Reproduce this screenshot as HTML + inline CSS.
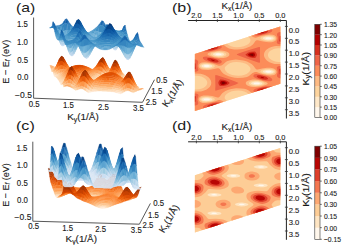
<!DOCTYPE html>
<html><head><meta charset="utf-8"><style>
html,body{margin:0;padding:0;background:#fff;overflow:hidden;}
svg{display:block;}
text{font-family:"Liberation Sans", sans-serif;fill:#1a1a1a;stroke:#1a1a1a;stroke-width:0.12px;}
.lb{stroke-width:0px;}
.s path{stroke-width:0.3px;stroke-linejoin:round;}
.b10{fill:#c6dbef;stroke:#c6dbef}.b11{fill:#bed8ec;stroke:#bed8ec}.b12{fill:#b7d4ea;stroke:#b7d4ea}.b13{fill:#aed1e7;stroke:#aed1e7}.b14{fill:#a6cee4;stroke:#a6cee4}.b15{fill:#9dcae1;stroke:#9dcae1}.b16{fill:#94c4df;stroke:#94c4df}.b17{fill:#8abfdd;stroke:#8abfdd}.b18{fill:#7fb9da;stroke:#7fb9da}.b19{fill:#75b4d8;stroke:#75b4d8}.b20{fill:#6aaed6;stroke:#6aaed6}.b21{fill:#63a8d3;stroke:#63a8d3}.b22{fill:#5ba3d0;stroke:#5ba3d0}.b23{fill:#529dcc;stroke:#529dcc}.b24{fill:#4a98c9;stroke:#4a98c9}.b25{fill:#4191c6;stroke:#4191c6}.b26{fill:#3b8bc2;stroke:#3b8bc2}.b27{fill:#3585bf;stroke:#3585bf}.b28{fill:#2e7ebc;stroke:#2e7ebc}.b29{fill:#2777b8;stroke:#2777b8}.b30{fill:#2070b4;stroke:#2070b4}.b31{fill:#1c6ab0;stroke:#1c6ab0}.b32{fill:#1764ab;stroke:#1764ab}.b33{fill:#125da6;stroke:#125da6}.b34{fill:#0d57a1;stroke:#0d57a1}.b35{fill:#08509b;stroke:#08509b}.b36{fill:#084a91;stroke:#084a91}.b37{fill:#084488;stroke:#084488}.b38{fill:#083c7d;stroke:#083c7d}.b39{fill:#083674;stroke:#083674}.b6{fill:#d9e8f5;stroke:#d9e8f5}.b7{fill:#d5e5f4;stroke:#d5e5f4}.b8{fill:#d0e1f2;stroke:#d0e1f2}.b9{fill:#cbdef1;stroke:#cbdef1}.o10{fill:#fdd0a2;stroke:#fdd0a2}.o11{fill:#fdc997;stroke:#fdc997}.o12{fill:#fdc38d;stroke:#fdc38d}.o13{fill:#fdbb81;stroke:#fdbb81}.o14{fill:#fdb576;stroke:#fdb576}.o15{fill:#fdae6a;stroke:#fdae6a}.o16{fill:#fda762;stroke:#fda762}.o17{fill:#fda159;stroke:#fda159}.o18{fill:#fd9a4e;stroke:#fd9a4e}.o19{fill:#fd9446;stroke:#fd9446}.o20{fill:#fd8c3b;stroke:#fd8c3b}.o21{fill:#fb8634;stroke:#fb8634}.o22{fill:#f87f2c;stroke:#f87f2c}.o23{fill:#f67723;stroke:#f67723}.o24{fill:#f3701b;stroke:#f3701b}.o25{fill:#f16813;stroke:#f16813}.o26{fill:#ec620f;stroke:#ec620f}.o27{fill:#e75c0c;stroke:#e75c0c}.o28{fill:#e25508;stroke:#e25508}.o29{fill:#de4e05;stroke:#de4e05}.o30{fill:#d84801;stroke:#d84801}.o31{fill:#ce4401;stroke:#ce4401}.o32{fill:#c54102;stroke:#c54102}.o33{fill:#b93d02;stroke:#b93d02}.o34{fill:#b03903;stroke:#b03903}.o35{fill:#a53603;stroke:#a53603}.o36{fill:#9e3303;stroke:#9e3303}.o37{fill:#963003;stroke:#963003}.o38{fill:#8e2d04;stroke:#8e2d04}.o39{fill:#862a04;stroke:#862a04}.o3{fill:#feecda;stroke:#feecda}.o4{fill:#fee9d4;stroke:#fee9d4}.o5{fill:#fee6ce;stroke:#fee6ce}.o6{fill:#fee2c6;stroke:#fee2c6}.o7{fill:#fedebd;stroke:#fedebd}.o8{fill:#fdd9b4;stroke:#fdd9b4}.o9{fill:#fdd5ab;stroke:#fdd5ab}
</style></head><body>
<svg width="342" height="245" viewBox="0 0 342 245">
<defs><clipPath id="cb"><polygon points="280.3,26.6 194.9,54.0 194.9,111.1 280.3,83.7"/></clipPath><clipPath id="cd"><polygon points="280.3,147.9 194.9,175.3 194.9,232.4 280.3,205.0"/></clipPath></defs>
<text class="lb" x="16.00" y="12.02" font-size="13.4" textLength="19.20" lengthAdjust="spacingAndGlyphs">(a)</text>
<text class="lb" x="16.00" y="130.01" font-size="13.4" textLength="18.80" lengthAdjust="spacingAndGlyphs">(c)</text>
<text class="lb" x="171.90" y="12.41" font-size="13.4" textLength="19.60" lengthAdjust="spacingAndGlyphs">(b)</text>
<text class="lb" x="171.90" y="129.62" font-size="13.4" textLength="19.60" lengthAdjust="spacingAndGlyphs">(d)</text>
<text x="22.40" y="26.77" font-size="8.2" text-anchor="middle" textLength="10.9" lengthAdjust="spacingAndGlyphs">1.5</text>
<text x="22.50" y="44.67" font-size="8.2" text-anchor="middle" textLength="10.9" lengthAdjust="spacingAndGlyphs">1.0</text>
<text x="22.60" y="62.57" font-size="8.2" text-anchor="middle" textLength="10.9" lengthAdjust="spacingAndGlyphs">0.5</text>
<text x="22.80" y="79.97" font-size="8.2" text-anchor="middle" textLength="10.9" lengthAdjust="spacingAndGlyphs">0.0</text>
<text x="23.50" y="97.77" font-size="8.2" text-anchor="middle" textLength="16.8" lengthAdjust="spacingAndGlyphs">−0.5</text>
<text x="34.20" y="107.07" font-size="8.2" text-anchor="middle" textLength="10.9" lengthAdjust="spacingAndGlyphs">0.5</text>
<text x="68.40" y="108.27" font-size="8.2" text-anchor="middle" textLength="10.9" lengthAdjust="spacingAndGlyphs">1.5</text>
<text x="103.40" y="109.57" font-size="8.2" text-anchor="middle" textLength="10.9" lengthAdjust="spacingAndGlyphs">2.5</text>
<text x="138.50" y="110.77" font-size="8.2" text-anchor="middle" textLength="10.9" lengthAdjust="spacingAndGlyphs">3.5</text>
<text x="161.80" y="83.17" font-size="8.2" text-anchor="middle" textLength="10.9" lengthAdjust="spacingAndGlyphs">0.5</text>
<text x="156.80" y="93.97" font-size="8.2" text-anchor="middle" textLength="10.9" lengthAdjust="spacingAndGlyphs">1.5</text>
<text x="151.20" y="105.17" font-size="8.2" text-anchor="middle" textLength="10.9" lengthAdjust="spacingAndGlyphs">2.5</text>
<polyline points="33.6,17.5 33.6,98.2 142.5,102.3 154.5,79.7" fill="none" stroke="#3a3a3a" stroke-width="0.85"/>
<text x="8.6" y="61.7" font-size="9.6" text-anchor="middle" textLength="44.0" lengthAdjust="spacingAndGlyphs" transform="rotate(-90 8.6 61.7)">E − E<tspan font-size="6.6" dy="1.8" font-style="italic">f</tspan><tspan dy="-1.8"> (eV)</tspan></text>
<text x="67.20" y="120.10" font-size="9.3" textLength="31.60" lengthAdjust="spacingAndGlyphs">K<tspan font-size="6.5" dy="1.8">y</tspan><tspan dy="-1.8">(1/Å)</tspan></text>
<text x="157.25" y="96.40" font-size="9.3" textLength="30.50" lengthAdjust="spacingAndGlyphs" transform="rotate(-57 172.5 93.1)">K<tspan font-size="6.5" dy="1.8">x</tspan><tspan dy="-1.8">(1/Å)</tspan></text>
<text x="22.00" y="150.87" font-size="8.2" text-anchor="middle" textLength="10.9" lengthAdjust="spacingAndGlyphs">1.5</text>
<text x="22.10" y="168.47" font-size="8.2" text-anchor="middle" textLength="10.9" lengthAdjust="spacingAndGlyphs">1.0</text>
<text x="22.30" y="186.07" font-size="8.2" text-anchor="middle" textLength="10.9" lengthAdjust="spacingAndGlyphs">0.5</text>
<text x="22.50" y="203.27" font-size="8.2" text-anchor="middle" textLength="10.9" lengthAdjust="spacingAndGlyphs">0.0</text>
<text x="23.00" y="219.67" font-size="8.2" text-anchor="middle" textLength="16.8" lengthAdjust="spacingAndGlyphs">−0.5</text>
<text x="33.60" y="229.17" font-size="8.2" text-anchor="middle" textLength="10.9" lengthAdjust="spacingAndGlyphs">0.5</text>
<text x="67.60" y="230.77" font-size="8.2" text-anchor="middle" textLength="10.9" lengthAdjust="spacingAndGlyphs">1.5</text>
<text x="100.60" y="232.07" font-size="8.2" text-anchor="middle" textLength="10.9" lengthAdjust="spacingAndGlyphs">2.5</text>
<text x="136.30" y="233.17" font-size="8.2" text-anchor="middle" textLength="10.9" lengthAdjust="spacingAndGlyphs">3.5</text>
<text x="158.60" y="206.27" font-size="8.2" text-anchor="middle" textLength="10.9" lengthAdjust="spacingAndGlyphs">0.5</text>
<text x="153.50" y="217.77" font-size="8.2" text-anchor="middle" textLength="10.9" lengthAdjust="spacingAndGlyphs">1.5</text>
<text x="148.00" y="228.27" font-size="8.2" text-anchor="middle" textLength="10.9" lengthAdjust="spacingAndGlyphs">2.5</text>
<polyline points="32.8,141.7 32.8,221.2 139.4,224.2 150.4,203.4" fill="none" stroke="#3a3a3a" stroke-width="0.85"/>
<text x="8.6" y="184.95" font-size="9.6" text-anchor="middle" textLength="43.5" lengthAdjust="spacingAndGlyphs" transform="rotate(-90 8.6 184.95)">E − E<tspan font-size="6.6" dy="1.8" font-style="italic">f</tspan><tspan dy="-1.8"> (eV)</tspan></text>
<text x="65.60" y="242.10" font-size="9.3" textLength="31.40" lengthAdjust="spacingAndGlyphs">K<tspan font-size="6.5" dy="1.8">y</tspan><tspan dy="-1.8">(1/Å)</tspan></text>
<text x="153.65" y="221.90" font-size="9.3" textLength="30.50" lengthAdjust="spacingAndGlyphs" transform="rotate(-60 168.9 218.6)">K<tspan font-size="6.5" dy="1.8">x</tspan><tspan dy="-1.8">(1/Å)</tspan></text>
<g clip-path="url(#cb)"><polygon points="280.3,26.6 194.9,54.0 194.9,111.1 280.3,83.7" fill="#fff7ec"/>
<path d="M194.2 25.1 281.4 25.1 281.4 112.3 220.3 112.3 221.3 111.9 221.5 111.5 221.4 111.1 220.6 110.7 218.6 110.4 216.6 110.6 215.6 111.1 215.5 111.5 215.9 111.9 217.0 112.3 193.8 112.3 193.8 25.1ZM254.6 25.5 253.8 25.9 253.7 26.3 253.9 26.7 255.4 27.2 257.0 27.3 258.6 27.1 259.5 26.7 259.7 26.3 259.4 25.9 257.8 25.3 256.2 25.3ZM266.4 37.5 265.6 37.9 265.4 38.3 265.7 38.7 267.0 39.2 268.6 39.3 270.2 39.2 271.4 38.7 271.5 38.3 271.0 37.8 269.8 37.4 268.2 37.3ZM204.6 41.5 203.8 41.9 203.7 42.3 204.2 42.8 205.4 43.2 207.0 43.3 208.6 43.1 209.6 42.7 209.8 42.3 209.5 41.9 208.2 41.4 206.2 41.3ZM216.6 53.5 215.7 53.9 215.5 54.3 215.8 54.7 217.4 55.3 219.0 55.3 220.6 55.1 221.4 54.7 221.5 54.3 221.3 53.9 219.8 53.4 218.2 53.3ZM205.2 65.1 204.0 65.5 203.7 65.9 203.8 66.3 204.6 66.8 205.8 67.0 207.4 67.0 209.0 66.7 209.7 66.3 209.8 65.9 209.3 65.5 208.2 65.1 206.6 65.0ZM267.5 70.7 265.9 71.1 265.4 71.5 265.5 71.9 266.2 72.3 267.8 72.7 269.1 72.7 271.0 72.3 271.5 71.9 271.5 71.5 270.6 71.0 269.4 70.7ZM254.3 82.7 253.7 83.1 253.7 83.5 254.1 83.9 255.4 84.3 258.2 84.3 259.4 83.9 259.7 83.5 259.6 83.1 259.0 82.8 257.8 82.4 255.8 82.4ZM266.1 94.7 265.5 95.1 265.4 95.5 265.8 95.9 267.1 96.3 268.6 96.4 270.2 96.3 271.3 95.9 271.5 95.5 271.4 95.1 271.0 94.9 269.8 94.5 267.8 94.4ZM204.3 98.7 203.7 99.1 203.7 99.5 204.1 99.9 205.4 100.3 208.4 100.3 209.5 99.9 209.8 99.5 209.6 99.1 209.0 98.7 207.8 98.5 205.8 98.4Z" fill="#fee8c9" fill-rule="evenodd"/>
<path d="M194.2 25.1 252.1 25.1 251.2 25.9 251.3 26.7 251.7 27.1 253.8 27.9 256.6 28.2 259.7 27.9 261.8 27.1 262.2 26.7 262.3 26.3 262.1 25.9 260.8 25.1 281.4 25.1 281.4 112.3 223.6 112.3 224.0 111.9 224.0 111.1 223.0 110.3 221.0 109.7 218.6 109.5 215.8 109.7 213.8 110.4 213.0 111.0 212.9 111.5 213.7 112.3 193.8 112.3 193.8 25.1ZM265.4 36.7 263.3 37.5 262.9 37.9 262.8 38.3 263.4 39.1 265.4 39.9 268.2 40.2 270.6 40.1 272.6 39.6 273.4 39.1 273.7 38.7 273.6 37.9 273.3 37.5 271.4 36.7 268.2 36.4ZM203.4 40.7 201.8 41.5 201.4 42.3 201.6 42.7 202.2 43.3 204.2 44.0 207.0 44.2 209.8 43.9 211.9 43.1 212.3 42.7 212.4 42.3 211.8 41.5 209.4 40.7 206.2 40.4ZM215.5 52.7 213.4 53.5 213.0 53.9 212.9 54.3 213.5 55.1 215.7 55.9 218.2 56.2 221.0 56.1 223.1 55.5 224.0 54.7 223.9 53.9 223.5 53.5 221.4 52.7 218.6 52.4ZM204.0 64.3 202.2 64.9 201.6 65.5 201.4 65.9 201.5 66.3 202.2 67.0 203.8 67.6 206.6 67.9 209.4 67.7 211.6 67.1 212.4 66.3 212.4 65.9 211.8 65.3 209.8 64.5 207.0 64.1ZM266.4 69.9 263.8 70.5 263.0 71.1 262.8 71.5 263.2 72.3 265.0 73.1 267.8 73.6 270.6 73.5 272.6 73.0 273.4 72.5 273.7 71.9 273.7 71.5 273.4 71.0 271.8 70.2 269.4 69.8ZM255.3 81.5 252.9 81.9 251.4 82.7 251.1 83.1 251.3 83.9 253.0 84.8 255.8 85.3 259.0 85.1 261.4 84.4 262.1 83.9 262.3 83.5 262.2 83.1 261.8 82.7 259.9 81.9 257.8 81.5ZM267.9 93.5 265.0 93.9 263.2 94.7 262.8 95.1 262.8 95.5 263.4 96.2 264.2 96.6 267.0 97.2 269.8 97.3 272.2 96.9 273.0 96.5 273.7 95.9 273.7 95.1 272.6 94.2 270.6 93.7ZM205.5 97.5 203.1 97.9 201.7 98.7 201.5 99.1 201.6 99.9 202.2 100.4 203.4 100.9 206.2 101.3 209.0 101.1 211.4 100.5 212.2 99.9 212.4 99.5 211.9 98.7 210.2 97.9 207.8 97.5Z" fill="#fdd49e" fill-rule="evenodd"/>
<path d="M207.4 25.1 249.3 25.1 249.0 25.5 248.8 26.3 249.2 27.1 249.8 27.6 251.0 28.2 252.6 28.6 256.2 29.0 260.2 28.6 262.2 28.1 263.7 27.5 264.3 27.1 264.6 26.3 264.1 25.5 263.5 25.1 281.4 25.1 281.4 48.3 278.2 48.3 275.8 48.6 273.7 49.1 271.8 49.9 269.9 51.1 268.8 52.3 268.2 53.5 267.9 55.1 268.2 56.5 269.0 57.9 270.2 59.1 272.0 60.3 273.9 61.1 276.2 61.7 278.6 62.0 281.4 62.0 281.4 105.4 278.6 105.4 276.2 105.6 273.8 106.2 271.8 107.0 269.8 108.3 268.8 109.5 268.1 110.7 267.9 112.3 226.2 112.3 226.4 111.9 226.4 111.1 225.8 110.4 225.1 109.9 222.2 109.0 219.0 108.7 215.4 109.0 212.1 109.9 211.3 110.3 210.6 111.1 210.8 111.9 211.2 112.3 193.8 112.3 193.8 89.4 196.6 89.4 199.0 89.2 201.2 88.7 203.2 87.9 205.1 86.7 206.3 85.5 207.0 84.3 207.3 82.7 207.0 81.2 206.3 79.9 205.2 78.7 203.4 77.5 201.4 76.6 199.0 76.0 196.6 75.7 193.8 75.7 193.8 32.3 197.0 32.3 199.4 32.0 201.5 31.5 203.4 30.7 205.3 29.5 206.4 28.3 207.0 27.1 207.3 25.1ZM236.0 33.5 232.6 34.0 229.3 35.1 226.7 36.7 225.3 38.3 224.7 39.9 224.9 41.5 226.1 43.1 228.6 45.1 231.0 46.2 233.8 46.9 237.0 47.2 240.2 47.0 243.7 46.3 246.2 45.3 248.5 43.9 249.9 42.3 250.5 40.7 250.3 39.1 249.1 37.5 246.6 35.5 244.6 34.6 242.2 33.9 239.4 33.5ZM265.3 35.9 262.2 36.7 261.4 37.1 260.4 37.9 260.4 38.7 260.7 39.1 261.8 39.8 263.4 40.4 267.4 41.0 271.4 40.9 273.0 40.6 274.2 40.0 274.8 39.5 275.3 38.7 275.2 37.9 274.7 37.1 273.8 36.5 272.6 36.0 269.0 35.6ZM202.6 39.9 201.4 40.3 200.6 40.9 200.1 41.5 199.9 42.3 200.2 43.1 201.0 43.9 202.2 44.5 203.4 44.7 207.0 45.0 210.6 44.6 213.8 43.5 214.4 43.1 214.9 42.3 214.6 41.7 213.9 41.1 212.6 40.5 211.0 40.1 206.6 39.6 204.2 39.6ZM215.4 51.9 212.3 52.7 211.4 53.1 210.6 53.9 210.7 54.7 211.1 55.1 212.6 55.9 214.2 56.4 218.2 57.0 221.8 56.9 223.4 56.6 225.0 56.0 225.9 55.5 226.4 54.7 226.3 53.9 225.6 53.1 223.0 52.1 219.4 51.6ZM233.0 62.3 230.2 63.1 228.5 63.9 226.0 65.9 224.8 67.5 224.8 69.1 225.7 71.1 227.4 72.7 229.5 73.9 232.2 74.9 235.4 75.5 238.6 75.7 241.8 75.5 244.6 74.8 246.6 73.9 249.1 71.9 250.3 70.3 250.5 68.7 250.2 67.8 249.6 66.7 247.9 65.1 245.8 63.8 242.6 62.7 239.8 62.2 236.2 62.0ZM203.3 63.5 202.2 63.7 201.0 64.3 200.1 65.1 199.9 65.9 200.1 66.7 200.8 67.5 201.8 68.0 203.0 68.4 206.6 68.8 211.0 68.4 213.8 67.5 214.4 67.1 214.9 66.3 214.5 65.5 214.0 65.1 212.6 64.4 210.8 63.9 207.0 63.3ZM265.8 69.1 263.8 69.4 262.2 69.8 261.2 70.3 260.4 71.1 260.5 71.9 260.8 72.3 263.0 73.4 266.6 74.2 270.6 74.3 272.6 74.1 273.8 73.6 274.6 73.1 275.2 72.3 275.3 71.5 274.9 70.7 274.2 70.1 273.0 69.5 269.8 69.0ZM254.6 80.7 251.0 81.3 249.7 81.9 248.9 82.7 248.8 83.5 249.3 84.3 250.2 84.9 251.4 85.4 255.0 86.0 258.6 86.0 262.6 85.1 263.8 84.5 264.5 83.9 264.5 83.1 264.2 82.7 261.8 81.5 258.2 80.8ZM235.0 90.7 231.8 91.3 229.0 92.4 226.6 93.9 225.3 95.5 224.7 97.1 224.7 97.9 224.9 98.7 226.2 100.3 228.8 102.3 231.4 103.4 234.2 104.0 237.4 104.3 240.6 104.0 243.4 103.5 246.5 102.3 248.4 101.1 249.8 99.5 250.5 97.9 250.3 96.3 249.2 94.7 246.6 92.6 244.2 91.5 241.4 90.8 238.2 90.5ZM264.7 93.1 262.0 93.9 261.2 94.3 260.4 95.1 260.5 95.9 260.8 96.3 261.8 96.9 263.4 97.5 267.4 98.1 271.4 98.0 273.8 97.4 274.8 96.7 275.2 95.9 275.2 95.1 274.8 94.3 273.8 93.6 272.6 93.1 269.0 92.7ZM204.7 96.7 201.8 97.3 200.7 97.9 200.0 98.7 199.9 99.5 200.3 100.3 201.2 101.1 202.6 101.7 206.2 102.1 210.2 101.7 213.7 100.7 214.3 100.3 214.9 99.5 214.6 98.7 214.1 98.3 211.8 97.3 208.2 96.7Z" fill="#fdba83" fill-rule="evenodd"/>
<path d="M211.4 25.1 246.0 25.1 245.8 25.9 246.0 27.1 246.6 27.9 247.4 28.4 249.4 29.3 251.0 29.7 254.6 30.0 257.4 29.8 260.2 29.4 263.5 28.7 266.0 27.9 266.8 27.5 267.7 26.7 267.5 25.9 266.4 25.1 281.4 25.1 281.4 46.2 276.2 46.1 274.2 46.3 271.4 47.0 269.0 48.0 266.7 49.5 265.2 51.1 264.2 53.1 263.9 55.1 264.3 57.1 265.5 59.1 267.1 60.7 269.4 62.2 272.2 63.3 274.6 63.9 281.4 64.1 281.4 103.3 276.2 103.2 274.2 103.4 271.4 104.1 269.0 105.1 266.6 106.7 265.2 108.3 264.2 110.3 263.9 112.3 229.3 112.3 229.3 110.7 228.7 109.9 227.8 109.3 224.6 108.1 220.6 107.7 215.4 108.2 209.8 109.6 208.2 110.3 207.5 111.1 207.8 111.9 208.3 112.3 193.8 112.3 193.8 91.5 199.0 91.6 201.0 91.4 203.4 90.8 206.2 89.7 208.3 88.3 209.9 86.7 211.0 84.7 211.3 82.7 210.9 80.7 209.8 78.7 208.2 77.1 205.8 75.5 203.4 74.5 200.6 73.8 193.8 73.6 193.8 34.4 199.0 34.5 201.0 34.3 203.8 33.6 206.2 32.6 208.5 31.1 210.0 29.5 211.0 27.5 211.2 26.3 211.3 25.1ZM233.4 31.5 228.6 32.7 224.6 34.5 222.2 36.3 219.8 39.5 218.6 40.3 217.4 40.3 212.2 39.0 207.8 38.5 203.8 38.4 202.2 38.7 201.0 39.1 199.8 39.9 199.1 40.7 198.8 41.5 198.7 42.7 199.2 43.9 200.2 44.9 201.0 45.3 202.6 45.8 205.4 46.0 209.4 45.6 214.2 44.5 218.6 43.0 219.8 42.9 221.0 43.2 222.6 44.0 226.3 47.1 229.0 48.4 231.4 49.0 234.2 49.4 237.4 49.5 240.2 49.3 243.0 48.9 245.8 48.2 248.2 47.3 250.2 46.4 252.6 44.7 253.7 43.5 255.4 41.1 256.6 40.3 257.8 40.3 261.8 41.3 266.2 42.0 269.0 42.2 271.4 42.2 273.4 41.8 275.0 41.0 276.1 39.9 276.5 38.7 276.4 37.5 275.4 36.1 274.2 35.3 272.6 34.8 269.8 34.6 265.8 35.0 261.0 36.1 256.6 37.6 255.4 37.7 253.0 36.9 251.6 35.9 248.6 33.3 245.8 32.1 242.6 31.4 239.8 31.2 236.6 31.2ZM218.5 50.7 212.6 51.7 210.3 52.3 208.4 53.1 207.8 53.5 207.5 54.3 207.7 54.7 208.8 55.5 210.9 56.3 215.0 57.4 218.6 58.0 221.0 58.1 223.4 58.0 226.2 57.4 228.2 56.5 229.2 55.5 229.4 54.7 229.2 53.5 228.6 52.7 227.0 51.8 225.4 51.2 223.0 50.7 221.0 50.6ZM232.2 59.9 229.4 60.4 227.0 61.3 225.8 62.1 223.0 64.5 221.4 65.4 219.8 65.8 218.6 65.7 213.4 63.8 209.0 62.7 205.0 62.3 201.8 62.5 200.6 63.0 199.5 63.9 198.9 64.7 198.6 65.9 198.9 67.1 199.5 67.9 200.6 68.8 201.8 69.4 204.2 69.8 208.2 69.9 213.0 69.3 217.4 68.3 218.6 68.3 219.8 69.1 221.4 71.5 222.5 72.7 223.9 73.9 225.9 75.1 228.6 76.3 231.4 77.1 234.6 77.7 237.8 78.0 243.0 77.8 247.0 76.9 249.0 75.9 252.6 72.9 255.0 72.0 256.6 72.0 260.4 73.5 264.2 74.5 267.8 75.2 270.2 75.4 272.6 75.3 274.2 74.9 275.6 73.9 276.4 72.7 276.6 71.9 276.4 71.1 275.8 69.9 274.6 68.9 273.0 68.2 270.2 67.8 267.0 67.8 262.2 68.4 257.8 69.4 256.6 69.4 255.4 68.6 253.6 65.9 251.9 64.3 249.8 62.9 247.0 61.6 243.4 60.5 239.8 59.9 235.8 59.6ZM250.8 79.9 248.6 80.5 246.6 81.5 245.9 82.3 245.8 83.5 246.0 84.3 247.0 85.3 248.6 86.1 251.0 86.8 253.0 87.0 255.4 87.1 260.6 86.4 265.7 85.1 267.3 84.3 267.7 83.5 267.2 82.7 265.7 81.9 260.2 80.3 255.0 79.6 252.6 79.6ZM236.1 88.3 233.0 88.7 230.2 89.3 227.8 90.0 225.4 91.1 222.5 93.1 221.4 94.3 219.8 96.6 218.6 97.4 217.4 97.4 212.2 96.1 207.8 95.6 203.4 95.6 201.0 96.2 199.8 97.0 199.1 97.9 198.7 98.7 198.7 99.9 199.3 101.1 200.2 102.0 201.4 102.6 202.6 102.9 205.8 103.1 209.8 102.6 214.6 101.5 218.6 100.1 219.8 100.0 221.4 100.4 222.6 101.1 226.2 104.1 227.4 104.8 229.0 105.5 231.4 106.1 234.2 106.5 237.0 106.6 239.8 106.4 245.0 105.5 247.6 104.7 249.8 103.7 252.6 101.8 253.6 100.7 255.4 98.2 256.6 97.4 257.8 97.4 262.2 98.5 265.8 99.1 268.2 99.3 271.0 99.3 273.0 99.0 274.6 98.4 275.8 97.4 276.5 95.9 276.5 95.1 276.3 94.3 275.4 93.2 274.2 92.4 272.6 91.9 269.8 91.7 265.8 92.1 261.3 93.1 256.6 94.7 255.4 94.8 254.2 94.5 252.6 93.7 249.0 90.7 247.8 90.0 246.2 89.3 244.2 88.8 241.4 88.4Z" fill="#fc8c59" fill-rule="evenodd"/>
<path d="M215.4 25.1 236.8 25.1 238.4 25.9 238.2 26.3 237.8 26.5 234.6 27.8 227.8 30.0 215.8 33.7 215.3 33.5 215.2 32.7 215.3 25.1ZM266.2 29.1 268.6 28.8 270.2 28.9 271.4 29.2 272.2 29.8 272.3 30.7 271.8 31.5 270.9 32.3 269.3 33.1 263.8 34.6 257.8 35.7 256.2 35.7 255.2 35.5 254.3 35.1 253.6 34.3 253.4 33.5 253.7 32.7 254.6 32.0 255.7 31.5 259.8 30.3ZM279.0 32.3 280.2 32.1 281.4 32.3 281.4 44.3 279.8 44.3 278.2 44.0 277.3 43.5 276.8 42.7 276.8 41.9 277.6 39.5 277.8 38.3 277.6 37.1 277.0 35.1 277.0 33.9 277.8 32.8ZM194.2 36.3 195.8 36.3 197.0 36.6 197.9 37.1 198.4 37.9 198.4 38.7 197.6 41.1 197.4 42.3 197.6 43.5 198.2 45.5 198.2 46.7 197.8 47.4 197.2 47.9 195.4 48.5 193.8 48.3 193.8 36.3ZM216.2 45.0 217.8 44.9 219.4 45.0 220.6 45.3 221.4 45.9 221.8 46.7 221.7 47.5 221.0 48.3 219.5 49.1 214.2 50.6 207.4 51.7 204.6 51.7 203.4 51.2 202.9 50.7 202.9 49.9 203.4 49.1 204.3 48.3 205.9 47.5 210.0 46.3ZM259.0 47.0 259.8 46.9 260.0 47.9 259.8 57.9 260.0 61.5 259.8 62.8 258.2 62.4 246.6 58.6 239.8 56.1 236.8 54.7 237.0 54.3 237.4 54.1 240.6 52.8 247.4 50.6ZM204.2 56.7 206.2 56.5 209.0 56.9 213.9 57.9 218.3 59.1 220.3 59.9 221.4 60.7 221.8 61.5 221.7 62.3 221.0 63.1 220.2 63.5 219.0 63.7 217.8 63.7 213.8 63.0 207.9 61.5 204.9 60.3 203.3 59.1 202.9 58.3 202.9 57.5 203.3 57.1ZM194.2 59.6 195.8 59.6 197.0 60.1 197.8 60.7 198.3 61.9 197.6 64.7 197.4 65.9 197.6 67.1 198.4 69.5 198.4 70.3 197.7 71.1 195.8 71.7 193.8 71.7 193.8 59.6ZM278.2 66.2 279.8 65.9 281.4 66.0 281.4 78.1 279.8 78.2 278.6 77.8 277.5 77.1 277.0 76.3 277.0 75.1 277.6 73.1 277.8 71.9 277.6 70.7 276.8 68.3 276.8 67.5 277.3 66.7ZM255.0 74.2 256.6 73.9 259.0 74.2 267.6 76.3 269.7 77.1 271.1 77.9 271.9 78.7 272.4 79.9 272.2 80.3 271.4 80.9 270.2 81.2 268.6 81.2 263.8 80.4 257.2 78.7 255.0 77.8 253.6 76.7 253.4 75.9 253.7 75.1 254.2 74.6ZM215.4 74.9 217.0 75.3 228.6 79.1 235.8 81.8 238.6 83.1 235.8 84.4 229.2 86.7 215.4 90.8 215.2 89.1 215.4 85.9 215.2 76.3ZM265.4 86.3 269.8 85.9 271.0 86.1 272.1 86.7 272.4 87.5 271.7 88.7 270.7 89.5 269.0 90.3 263.0 91.9 257.4 92.8 255.8 92.7 254.6 92.4 253.9 91.9 253.4 91.1 253.5 90.3 253.7 89.9 254.2 89.4 255.4 88.7 259.4 87.5ZM279.0 89.4 280.2 89.2 281.4 89.4 281.4 101.4 279.8 101.4 278.2 101.1 277.4 100.7 276.8 99.9 276.8 99.1 277.6 96.7 277.8 95.5 277.6 94.3 276.9 91.9 276.9 91.1 277.8 89.9ZM194.2 93.4 195.8 93.4 197.0 93.7 198.0 94.3 198.5 95.1 198.4 95.9 197.4 99.1 197.5 100.3 198.3 102.7 198.2 103.9 197.8 104.5 197.0 105.1 195.4 105.6 193.8 105.4 193.8 93.4ZM215.4 102.3 217.4 102.0 219.0 102.0 220.2 102.3 221.0 102.7 221.7 103.5 221.8 104.3 221.4 105.1 220.2 105.9 218.1 106.7 214.9 107.5 207.8 108.8 204.6 108.8 203.4 108.3 203.0 107.9 202.9 107.1 203.3 106.3 204.2 105.5 205.7 104.7 209.6 103.5ZM258.6 104.3 259.8 104.0 259.9 104.3 259.9 112.3 237.7 112.3 237.0 111.9 236.8 111.5 240.2 110.1 247.4 107.7Z" fill="#ef6447" fill-rule="evenodd"/>
<path d="M218.6 25.1 229.0 25.1 229.9 25.9 227.9 27.5 225.8 28.5 223.4 28.9 220.2 29.1 219.1 27.9 218.5 26.7 218.3 25.5 218.4 25.1ZM264.2 30.3 266.6 30.3 267.9 30.7 268.1 31.1 268.0 31.5 266.7 32.7 263.8 33.8 260.6 34.4 258.2 34.4 257.5 34.3 256.8 33.9 256.7 33.5 256.8 33.1 258.2 31.9 260.6 31.0ZM280.2 35.8 280.7 35.9 281.0 36.5 281.0 38.3 281.3 40.7 281.0 41.5 280.2 41.7 279.6 41.5 279.3 40.7 279.6 38.3 279.7 36.3ZM194.2 39.1 194.6 38.9 195.4 39.0 195.8 39.4 195.9 39.9 195.6 42.3 195.5 44.3 195.0 44.8 194.5 44.7 194.2 44.1 194.2 42.3 193.9 39.9ZM214.2 46.3 217.0 46.2 217.7 46.3 218.4 46.7 218.5 47.1 218.1 47.9 216.6 48.9 213.4 49.9 210.2 50.4 208.2 50.3 207.3 49.9 207.1 49.5 207.2 49.1 207.9 48.3 209.4 47.5 211.8 46.7ZM250.6 51.8 255.0 51.5 256.1 52.7 256.7 53.9 256.9 55.1 256.5 56.3 255.3 57.9 254.6 58.1 252.6 58.0 249.4 57.3 247.3 56.3 245.3 54.7 247.8 52.8ZM207.8 58.2 209.0 58.0 210.6 58.1 214.6 58.9 216.2 59.5 217.6 60.3 218.4 61.1 218.5 61.5 218.4 61.9 217.8 62.3 216.2 62.5 213.8 62.2 211.0 61.5 209.0 60.7 207.7 59.9 207.1 59.1 207.1 58.7ZM194.6 63.2 195.0 63.2 195.4 63.4 195.6 63.9 195.6 65.9 195.9 67.9 195.8 68.7 195.0 69.2 194.2 68.9 193.9 67.9 194.2 65.9 194.2 63.9ZM279.8 68.7 280.2 68.5 280.8 68.7 281.3 69.5 281.0 71.9 281.0 73.9 280.6 74.5 280.2 74.5 279.8 74.3 279.6 73.9 279.6 71.9 279.3 69.9 279.4 69.1ZM257.4 75.4 258.6 75.2 260.2 75.3 264.5 76.3 266.4 77.1 267.6 77.9 268.1 78.7 268.0 79.1 267.0 79.6 265.4 79.7 263.0 79.4 260.4 78.7 258.4 77.9 257.2 77.1 256.7 76.3 256.7 75.9ZM220.2 79.6 223.4 79.8 226.2 80.5 228.1 81.5 229.8 83.1 227.8 84.7 225.8 85.6 223.4 86.0 220.2 86.1 219.4 85.4 218.7 84.3 218.3 82.7 218.9 81.1ZM263.4 87.5 266.2 87.3 267.3 87.5 267.8 87.8 268.1 88.3 268.0 88.7 266.5 89.9 263.8 90.9 260.2 91.5 257.8 91.5 256.9 91.1 256.7 90.7 257.0 89.9 258.6 88.8 261.0 88.0ZM279.8 93.1 280.2 92.9 280.6 92.9 281.0 93.6 281.0 95.5 281.3 97.9 281.0 98.6 280.6 98.8 279.8 98.7 279.3 97.9 279.6 95.5 279.6 93.9ZM194.2 96.2 195.0 95.9 195.7 96.3 195.9 96.7 195.9 97.5 195.6 99.5 195.6 101.1 195.4 101.7 195.0 101.9 194.6 101.9 194.2 101.1 194.2 99.1 193.9 97.1ZM213.4 103.5 216.6 103.2 218.2 103.7 218.5 104.3 218.4 104.7 216.8 105.9 214.2 106.8 210.6 107.4 208.2 107.4 207.4 107.1 207.1 106.7 207.3 105.9 208.6 105.0 210.6 104.2ZM253.0 108.7 255.2 108.7 256.6 110.7 256.9 112.3 245.9 112.3 245.4 111.9 245.6 111.5 246.6 110.7 248.6 109.5 250.6 108.9Z" fill="#d62f1e" fill-rule="evenodd"/>
<path d="M220.2 25.2 226.6 25.1 227.4 25.9 226.2 27.0 225.0 27.5 223.4 27.8 221.8 27.9 221.0 27.5 220.3 26.7 220.1 25.9ZM261.8 31.9 263.4 31.7 264.2 31.9 264.0 32.3 263.3 32.7 261.4 33.1 260.5 32.7 260.8 32.3ZM212.2 47.8 213.8 47.5 214.7 47.9 214.4 48.3 213.5 48.7 211.8 48.9 211.0 48.7 211.2 48.3ZM250.6 53.0 252.2 52.7 253.8 52.8 254.6 53.5 255.0 54.3 255.1 55.1 254.8 55.9 253.8 56.8 252.6 56.8 250.2 56.4 248.6 55.5 247.8 54.7 249.0 53.6ZM211.8 59.5 213.7 59.9 214.5 60.3 214.7 60.7 213.8 60.9 212.3 60.7 211.4 60.3 211.0 59.9 211.4 59.5ZM260.6 77.0 261.4 76.7 262.6 76.9 263.9 77.5 264.2 77.9 263.4 78.2 261.8 77.9 260.9 77.5 260.5 77.1ZM221.4 80.9 223.4 80.9 225.0 81.3 226.6 82.2 227.2 82.7 227.3 83.1 226.4 83.9 225.0 84.6 223.4 84.9 221.4 84.9 220.4 83.9 220.1 82.7 220.6 81.6ZM261.8 89.0 263.4 88.7 264.2 89.1 263.9 89.5 263.0 89.9 261.4 90.1 260.5 89.9 260.7 89.5ZM213.4 104.7 214.4 104.7 214.7 105.1 214.2 105.5 212.6 106.0 211.0 105.9 211.1 105.5 211.7 105.1ZM251.8 109.9 253.9 109.9 254.9 111.1 255.1 112.3 248.2 112.3 247.8 111.9 248.5 111.1 249.4 110.5Z" fill="#b20000" fill-rule="evenodd"/>
<path d="M221.8 25.3 221.9 25.1 224.5 25.1 225.6 25.9 224.2 26.7 222.6 26.9 222.2 26.8 221.8 26.3ZM251.0 53.9 252.2 53.7 253.0 53.8 253.5 54.7 253.3 55.5 253.0 55.9 252.2 55.9 251.0 55.6 250.0 55.1 249.6 54.7ZM222.2 81.9 223.0 81.8 224.2 82.1 225.3 82.7 225.5 83.1 223.9 83.9 222.2 84.0 221.7 83.1 221.8 82.3ZM251.0 111.0 253.0 110.8 253.5 111.5 253.5 112.3 250.1 112.3 249.7 111.9 250.0 111.5Z" fill="#7f0000" fill-rule="evenodd"/>
</g>
<polyline points="188.1,20.5 286.4,20.5 286.4,118.5" fill="none" stroke="#222" stroke-width="1.0"/>
<line x1="196.40" y1="19.2" x2="196.40" y2="22.0" stroke="#333" stroke-width="0.8"/>
<text x="196.40" y="18.40" font-size="8.0" text-anchor="middle" textLength="10.3" lengthAdjust="spacingAndGlyphs">2.0</text>
<line x1="217.38" y1="19.2" x2="217.38" y2="22.0" stroke="#333" stroke-width="0.8"/>
<text x="217.38" y="18.40" font-size="8.0" text-anchor="middle" textLength="10.3" lengthAdjust="spacingAndGlyphs">1.5</text>
<line x1="238.36" y1="19.2" x2="238.36" y2="22.0" stroke="#333" stroke-width="0.8"/>
<text x="238.36" y="18.40" font-size="8.0" text-anchor="middle" textLength="10.3" lengthAdjust="spacingAndGlyphs">1.0</text>
<line x1="259.34" y1="19.2" x2="259.34" y2="22.0" stroke="#333" stroke-width="0.8"/>
<text x="259.34" y="18.40" font-size="8.0" text-anchor="middle" textLength="10.3" lengthAdjust="spacingAndGlyphs">0.5</text>
<line x1="280.32" y1="19.2" x2="280.32" y2="22.0" stroke="#333" stroke-width="0.8"/>
<text x="280.32" y="18.40" font-size="8.0" text-anchor="middle" textLength="10.3" lengthAdjust="spacingAndGlyphs">0.0</text>
<line x1="284.9" y1="26.40" x2="287.9" y2="26.40" stroke="#333" stroke-width="0.8"/>
<text x="294.00" y="32.50" font-size="8.0" text-anchor="middle" textLength="10.6" lengthAdjust="spacingAndGlyphs">0.0</text>
<line x1="284.9" y1="38.30" x2="287.9" y2="38.30" stroke="#333" stroke-width="0.8"/>
<text x="294.00" y="44.40" font-size="8.0" text-anchor="middle" textLength="10.6" lengthAdjust="spacingAndGlyphs">0.5</text>
<line x1="284.9" y1="50.20" x2="287.9" y2="50.20" stroke="#333" stroke-width="0.8"/>
<text x="294.00" y="56.30" font-size="8.0" text-anchor="middle" textLength="10.6" lengthAdjust="spacingAndGlyphs">1.0</text>
<line x1="284.9" y1="62.10" x2="287.9" y2="62.10" stroke="#333" stroke-width="0.8"/>
<text x="294.00" y="68.20" font-size="8.0" text-anchor="middle" textLength="10.6" lengthAdjust="spacingAndGlyphs">1.5</text>
<line x1="284.9" y1="74.00" x2="287.9" y2="74.00" stroke="#333" stroke-width="0.8"/>
<text x="294.00" y="80.10" font-size="8.0" text-anchor="middle" textLength="10.6" lengthAdjust="spacingAndGlyphs">2.0</text>
<line x1="284.9" y1="85.90" x2="287.9" y2="85.90" stroke="#333" stroke-width="0.8"/>
<text x="294.00" y="92.00" font-size="8.0" text-anchor="middle" textLength="10.6" lengthAdjust="spacingAndGlyphs">2.5</text>
<line x1="284.9" y1="97.80" x2="287.9" y2="97.80" stroke="#333" stroke-width="0.8"/>
<text x="294.00" y="103.90" font-size="8.0" text-anchor="middle" textLength="10.6" lengthAdjust="spacingAndGlyphs">3.0</text>
<line x1="284.9" y1="109.70" x2="287.9" y2="109.70" stroke="#333" stroke-width="0.8"/>
<text x="294.00" y="115.80" font-size="8.0" text-anchor="middle" textLength="10.6" lengthAdjust="spacingAndGlyphs">3.5</text>
<text x="221.50" y="9.10" font-size="9.3" textLength="30.80" lengthAdjust="spacingAndGlyphs">K<tspan font-size="6.5" dy="1.8">x</tspan><tspan dy="-1.8">(1/Å)</tspan></text>
<text x="288.60" y="72.00" font-size="9.3" textLength="33.60" lengthAdjust="spacingAndGlyphs" transform="rotate(-90 305.4 68.7)">K<tspan font-size="6.5" dy="1.8">y</tspan><tspan dy="-1.8">(1/Å)</tspan></text>
<rect x="314.8" y="107.14" width="5.2" height="10.41" fill="#fff7ec"/>
<rect x="314.8" y="96.79" width="5.2" height="10.41" fill="#fee8c9"/>
<rect x="314.8" y="86.43" width="5.2" height="10.41" fill="#fdd49e"/>
<rect x="314.8" y="76.08" width="5.2" height="10.41" fill="#fdba83"/>
<rect x="314.8" y="65.72" width="5.2" height="10.41" fill="#fc8c59"/>
<rect x="314.8" y="55.37" width="5.2" height="10.41" fill="#ef6447"/>
<rect x="314.8" y="45.01" width="5.2" height="10.41" fill="#d62f1e"/>
<rect x="314.8" y="34.66" width="5.2" height="10.41" fill="#b20000"/>
<rect x="314.8" y="24.30" width="5.2" height="10.41" fill="#7f0000"/>
<rect x="314.8" y="24.3" width="5.2" height="93.20" fill="none" stroke="#333" stroke-width="0.6"/>
<line x1="320" y1="117.50" x2="321.8" y2="117.50" stroke="#333" stroke-width="0.7"/>
<text x="323.90" y="120.40" font-size="8.0" text-anchor="start" textLength="13.2" lengthAdjust="spacingAndGlyphs">0.00</text>
<line x1="320" y1="107.14" x2="321.8" y2="107.14" stroke="#333" stroke-width="0.7"/>
<text x="323.90" y="110.04" font-size="8.0" text-anchor="start" textLength="13.2" lengthAdjust="spacingAndGlyphs">0.15</text>
<line x1="320" y1="96.79" x2="321.8" y2="96.79" stroke="#333" stroke-width="0.7"/>
<text x="323.90" y="99.69" font-size="8.0" text-anchor="start" textLength="13.2" lengthAdjust="spacingAndGlyphs">0.30</text>
<line x1="320" y1="86.43" x2="321.8" y2="86.43" stroke="#333" stroke-width="0.7"/>
<text x="323.90" y="89.33" font-size="8.0" text-anchor="start" textLength="13.2" lengthAdjust="spacingAndGlyphs">0.45</text>
<line x1="320" y1="76.08" x2="321.8" y2="76.08" stroke="#333" stroke-width="0.7"/>
<text x="323.90" y="78.98" font-size="8.0" text-anchor="start" textLength="13.2" lengthAdjust="spacingAndGlyphs">0.60</text>
<line x1="320" y1="65.72" x2="321.8" y2="65.72" stroke="#333" stroke-width="0.7"/>
<text x="323.90" y="68.62" font-size="8.0" text-anchor="start" textLength="13.2" lengthAdjust="spacingAndGlyphs">0.75</text>
<line x1="320" y1="55.37" x2="321.8" y2="55.37" stroke="#333" stroke-width="0.7"/>
<text x="323.90" y="58.27" font-size="8.0" text-anchor="start" textLength="13.2" lengthAdjust="spacingAndGlyphs">0.90</text>
<line x1="320" y1="45.01" x2="321.8" y2="45.01" stroke="#333" stroke-width="0.7"/>
<text x="323.90" y="47.91" font-size="8.0" text-anchor="start" textLength="13.2" lengthAdjust="spacingAndGlyphs">1.05</text>
<line x1="320" y1="34.66" x2="321.8" y2="34.66" stroke="#333" stroke-width="0.7"/>
<text x="323.90" y="37.56" font-size="8.0" text-anchor="start" textLength="13.2" lengthAdjust="spacingAndGlyphs">1.20</text>
<line x1="320" y1="24.30" x2="321.8" y2="24.30" stroke="#333" stroke-width="0.7"/>
<text x="323.90" y="27.20" font-size="8.0" text-anchor="start" textLength="13.2" lengthAdjust="spacingAndGlyphs">1.35</text>
<g clip-path="url(#cd)"><polygon points="280.3,147.9 194.9,175.3 194.9,232.4 280.3,205.0" fill="#fff7ec"/>
<path d="M194.2 146.4 281.4 146.4 281.4 233.6 235.0 233.6 236.2 233.2 236.3 232.8 235.4 232.4 233.4 232.2 231.4 232.3 230.5 232.8 230.7 233.2 232.1 233.6 193.8 233.6 193.8 146.4ZM239.7 146.8 238.9 147.2 239.0 147.6 240.2 148.0 243.0 148.1 244.7 147.6 244.6 147.2 243.4 146.8 241.4 146.6ZM212.5 155.6 211.3 156.0 211.3 156.4 212.6 156.9 215.4 157.0 216.4 156.8 217.1 156.4 216.9 156.0 215.5 155.6ZM258.8 166.4 258.1 166.8 258.3 167.2 260.2 167.7 262.7 167.6 263.9 167.2 263.9 166.8 263.1 166.4 261.8 166.2ZM231.5 175.2 230.5 175.6 230.6 176.0 231.8 176.4 234.6 176.5 235.5 176.4 236.3 176.0 236.2 175.6 235.0 175.2 233.4 175.1ZM259.3 184.8 258.2 185.2 258.1 185.6 259.4 186.1 262.2 186.2 263.2 186.0 264.0 185.6 263.8 185.2 262.6 184.8ZM211.7 194.4 211.2 194.8 211.6 195.2 213.5 195.6 216.2 195.4 216.9 195.2 217.1 194.8 216.5 194.4 214.6 194.1 213.0 194.1ZM239.4 204.0 238.8 204.4 239.2 204.8 241.0 205.2 243.4 205.1 244.5 204.8 244.7 204.4 244.0 204.0 242.6 203.8 241.0 203.7ZM212.0 212.8 211.2 213.2 211.4 213.6 212.6 214.0 215.4 214.1 217.1 213.6 217.0 213.2 215.8 212.8 213.8 212.6ZM258.5 223.6 258.0 224.0 258.5 224.4 260.6 224.8 263.0 224.6 263.7 224.4 264.0 224.0 263.4 223.6 261.8 223.3 260.2 223.3Z" fill="#fee5c3" fill-rule="evenodd"/>
<path d="M194.2 146.4 235.8 146.4 235.3 146.8 235.1 147.2 235.1 147.6 236.2 148.4 238.6 149.0 241.8 149.3 245.0 149.1 247.5 148.4 248.1 148.0 248.4 147.6 248.4 147.2 248.0 146.8 247.2 146.4 281.4 146.4 281.4 233.6 239.8 233.6 240.1 233.2 240.1 232.8 239.8 232.4 239.0 231.9 236.6 231.3 233.4 231.0 230.2 231.3 227.8 231.9 227.0 232.4 226.8 232.8 226.9 233.2 227.4 233.6 193.8 233.6 193.8 146.4ZM212.9 154.4 209.8 154.7 208.6 155.1 207.7 155.6 207.5 156.0 207.6 156.4 207.9 156.8 210.2 157.7 213.8 158.1 217.8 157.9 220.6 157.2 221.2 156.8 221.4 156.4 221.3 156.0 220.8 155.6 219.0 155.0 216.2 154.5ZM258.1 165.2 255.4 165.7 254.0 166.4 253.8 166.8 253.9 167.2 254.4 167.6 256.6 168.3 259.8 168.8 263.8 168.7 266.6 168.1 267.5 167.6 267.7 167.2 267.6 166.8 267.0 166.2 264.6 165.4 261.4 165.1ZM231.7 174.0 228.6 174.5 227.0 175.3 226.8 175.6 226.8 176.0 227.2 176.4 229.4 177.2 233.0 177.7 236.6 177.5 239.0 177.0 239.9 176.4 240.1 176.0 240.1 175.6 239.4 175.0 237.4 174.3 234.6 174.0ZM259.7 183.6 256.2 184.0 254.1 184.8 253.8 185.2 253.8 185.6 254.2 186.0 256.2 186.8 260.2 187.3 263.8 187.2 266.6 186.5 267.4 186.0 267.7 185.6 267.7 185.2 267.3 184.8 265.8 184.1 263.0 183.7ZM210.9 193.2 208.6 193.8 207.7 194.4 207.5 194.8 207.6 195.2 208.0 195.6 210.2 196.4 213.4 196.7 217.0 196.6 220.0 196.0 221.4 195.2 221.4 194.8 220.6 194.1 218.2 193.4 214.6 193.0ZM238.3 202.8 235.8 203.5 235.2 204.0 235.1 204.4 235.2 204.8 235.8 205.3 238.2 206.1 241.4 206.4 244.6 206.2 247.2 205.6 248.4 204.8 248.4 204.4 247.8 203.8 245.4 203.0 241.8 202.6ZM211.3 211.6 208.6 212.2 207.6 212.8 207.5 213.2 207.6 213.6 208.2 214.1 210.6 214.9 213.8 215.2 217.4 215.1 220.2 214.5 221.1 214.0 221.4 213.6 221.3 213.2 220.9 212.8 219.8 212.3 218.2 211.9 214.6 211.5ZM257.3 222.4 254.6 223.1 253.9 223.6 253.8 224.0 254.0 224.4 254.6 224.8 257.0 225.5 260.2 225.9 263.8 225.8 266.6 225.2 267.4 224.8 267.7 224.4 267.7 224.0 267.0 223.3 264.6 222.5 261.0 222.2Z" fill="#fdcd96" fill-rule="evenodd"/>
<path d="M194.2 146.4 200.9 146.4 201.0 147.2 200.2 148.6 198.6 149.8 196.2 150.6 194.2 150.6 193.8 150.6 193.8 146.4ZM215.8 146.4 230.7 146.4 230.7 148.0 230.5 148.8 230.0 149.6 228.1 150.8 225.4 151.5 222.2 151.6 219.4 151.0 217.0 149.7 216.2 148.8 215.7 148.0 215.6 146.8 215.6 146.4ZM253.0 146.4 272.2 146.4 271.6 147.6 271.7 148.4 273.0 150.0 274.7 151.6 275.8 152.2 277.0 152.5 281.4 152.7 281.4 169.9 279.4 169.9 277.4 169.5 275.4 168.9 273.8 168.1 269.8 164.8 267.8 162.1 266.6 161.3 264.6 161.2 258.6 161.6 255.0 161.3 250.6 160.3 247.8 158.8 247.0 158.0 246.5 156.8 246.4 155.6 246.7 154.0 247.4 152.8 248.6 151.4 252.5 148.8 253.4 148.0 253.5 147.2 252.7 146.4ZM194.2 153.3 195.8 153.3 197.8 153.7 199.8 154.3 201.4 155.1 205.4 158.4 207.4 161.1 208.6 161.9 210.6 162.0 216.6 161.6 220.2 161.9 222.6 162.3 225.0 163.1 226.9 164.0 227.9 164.8 228.6 166.0 228.8 167.2 228.7 168.4 228.1 170.0 226.4 172.0 222.7 174.4 221.8 175.2 221.6 175.6 221.7 176.0 222.5 176.8 226.6 179.6 228.2 181.6 228.7 183.2 228.8 184.4 228.6 185.6 227.8 186.8 226.6 187.6 224.6 188.4 222.6 189.0 220.2 189.4 216.6 189.5 210.2 189.0 208.6 189.1 207.4 189.9 205.8 192.0 205.0 192.8 201.4 195.7 199.4 196.5 197.4 197.1 195.4 197.3 193.8 197.2 193.8 180.1 197.8 180.0 199.8 179.5 200.9 178.8 202.2 177.6 203.3 176.4 203.6 175.6 203.5 174.8 202.6 173.6 201.0 172.0 199.8 171.2 197.8 170.7 193.8 170.5 193.8 153.3ZM235.0 158.4 236.6 158.1 238.6 158.1 240.6 158.4 242.2 158.9 243.3 159.6 243.9 160.4 244.1 161.2 243.7 162.4 243.2 163.2 242.2 164.0 241.0 164.6 239.4 165.0 236.2 165.1 234.6 164.8 233.0 164.3 231.9 163.6 231.4 163.0 231.1 162.0 231.3 161.2 231.7 160.4 232.6 159.5 233.8 158.8ZM250.6 171.6 252.6 171.6 254.6 171.9 256.6 172.5 258.2 173.5 259.0 174.4 259.6 175.6 259.6 176.8 259.0 178.0 257.8 179.1 256.6 179.7 255.0 180.2 253.0 180.6 251.0 180.6 249.0 180.2 247.4 179.7 245.7 178.8 244.9 178.0 244.6 177.2 244.5 175.2 244.9 174.0 245.7 173.2 247.0 172.5 248.6 171.9ZM278.6 172.7 279.8 172.6 281.4 172.6 281.4 180.3 279.4 180.3 277.4 179.8 275.4 178.6 274.4 177.2 274.2 176.0 275.0 174.6 276.6 173.4ZM278.2 183.2 279.8 183.0 281.4 183.1 281.4 200.3 277.4 200.3 275.4 200.8 274.2 201.6 272.9 202.8 271.9 204.0 271.6 204.8 271.8 205.6 272.7 206.8 274.2 208.3 275.4 209.1 277.4 209.6 281.4 209.8 281.4 227.0 279.8 227.0 277.8 226.7 274.2 225.4 273.0 224.6 269.9 222.0 267.8 219.2 266.6 218.4 265.0 218.3 258.2 218.7 254.6 218.4 250.6 217.4 248.6 216.4 247.4 215.6 246.6 214.4 246.4 213.2 246.5 212.0 247.0 210.4 248.7 208.4 253.0 205.6 253.5 204.8 253.5 204.4 252.9 203.6 249.0 201.0 248.0 200.0 247.1 198.8 246.5 197.2 246.4 196.0 246.6 194.8 247.3 193.6 248.4 192.8 250.2 192.0 252.2 191.4 254.6 190.9 258.2 190.7 264.6 191.3 266.6 191.2 267.8 190.4 270.1 187.6 273.4 184.9 275.4 183.9ZM235.0 186.8 237.0 186.6 238.6 186.7 240.2 187.0 241.8 187.7 242.9 188.4 243.8 189.6 244.1 190.8 243.9 191.6 243.2 192.4 242.2 193.0 239.4 193.6 236.2 193.6 234.6 193.2 233.4 192.6 232.4 192.0 231.7 191.2 231.2 190.0 231.2 189.2 231.5 188.4 232.2 187.8 233.4 187.2ZM194.2 200.0 195.8 200.0 197.4 200.4 199.0 201.2 200.1 202.0 200.7 202.8 201.0 204.0 200.8 204.8 200.2 205.7 199.0 206.7 197.4 207.4 195.4 207.8 193.8 207.7 193.8 200.0ZM220.6 200.0 222.6 199.7 225.0 199.8 227.0 200.3 229.0 201.2 230.0 202.0 230.6 203.2 230.7 205.2 230.2 206.4 229.4 207.2 228.2 207.8 226.6 208.4 224.6 208.7 222.6 208.7 221.0 208.5 219.0 207.9 217.6 207.2 216.6 206.4 215.8 205.2 215.6 204.4 215.7 203.2 216.5 202.0 217.5 201.2 219.0 200.4ZM194.6 210.4 196.2 210.5 198.2 210.9 201.4 212.2 205.0 215.2 206.2 216.4 207.4 218.2 208.6 219.0 210.2 219.1 215.8 218.8 219.4 218.9 223.0 219.5 226.2 220.7 227.8 221.8 228.6 223.2 228.8 224.8 228.3 226.8 227.5 228.0 226.3 229.2 222.0 232.0 221.6 232.8 222.1 233.6 203.2 233.6 203.6 232.4 203.3 231.6 201.8 229.9 200.2 228.5 199.0 228.0 197.8 227.8 193.8 227.6 193.8 210.4ZM236.6 215.2 238.2 215.2 240.2 215.4 241.8 215.9 242.9 216.4 243.7 217.2 244.0 218.0 244.0 218.8 243.7 219.6 243.1 220.4 242.0 221.2 240.6 221.8 239.0 222.2 235.8 222.1 234.2 221.8 232.6 221.2 231.6 220.4 231.2 219.6 231.2 218.8 231.6 217.6 232.3 216.8 233.6 216.0 235.0 215.5ZM249.8 228.8 251.4 228.6 253.4 228.8 255.4 229.2 257.0 229.8 258.2 230.6 259.1 231.6 259.5 232.4 259.6 233.6 244.5 233.6 244.6 231.6 245.4 230.5 247.4 229.4ZM278.2 229.9 279.8 229.7 281.4 229.7 281.4 233.6 274.2 233.6 274.5 232.4 275.1 231.6 276.6 230.5Z" fill="#fda872" fill-rule="evenodd"/>
<path d="M220.6 146.4 226.1 146.4 226.4 147.2 226.1 148.0 225.4 148.5 224.2 148.9 222.6 148.9 221.4 148.5 220.7 148.0 220.3 147.2ZM259.8 146.4 265.0 146.4 262.2 146.9 260.6 146.7 259.4 146.4ZM259.8 148.7 261.8 148.4 263.8 148.6 266.2 149.5 268.2 150.6 269.7 152.0 270.4 153.2 270.7 154.8 270.4 156.0 269.6 156.8 267.4 157.8 263.8 158.9 261.0 159.4 258.6 159.5 256.2 159.3 253.8 158.6 252.2 157.8 251.1 156.8 250.5 155.6 250.7 154.0 251.4 152.8 252.7 151.6 254.6 150.5 257.4 149.4ZM277.0 155.6 279.0 155.3 281.4 155.3 281.4 167.2 278.2 167.0 275.4 166.0 273.2 164.4 272.0 162.4 271.6 160.0 271.7 158.8 272.1 157.6 273.0 156.8 273.9 156.4ZM194.2 156.0 196.6 156.1 198.6 156.6 200.6 157.6 202.2 159.0 203.1 160.4 203.6 162.4 203.5 164.4 203.3 165.2 202.7 166.0 201.3 166.8 199.0 167.5 196.6 167.8 193.8 167.9 193.8 156.0ZM213.0 164.0 215.8 163.7 218.2 163.8 220.2 164.2 222.2 164.9 223.8 166.0 224.6 167.2 224.7 168.4 224.3 169.6 223.4 170.8 221.4 172.3 219.0 173.4 216.2 174.3 214.2 174.7 212.2 174.7 210.2 174.2 208.6 173.5 206.6 172.3 205.2 170.8 204.8 170.0 204.5 168.8 204.8 167.2 205.6 166.4 207.2 165.6 210.2 164.6ZM251.0 174.3 252.6 174.3 254.0 174.8 254.8 175.6 254.9 176.4 254.7 176.8 253.5 177.6 252.2 177.8 250.6 177.7 249.5 177.2 248.8 176.4 248.9 175.6 249.6 174.8ZM212.2 176.4 214.2 176.4 216.6 177.0 219.8 178.2 222.3 179.6 223.6 180.8 224.4 182.0 224.7 183.6 224.2 184.8 223.0 186.0 221.2 186.8 219.0 187.3 216.2 187.5 213.4 187.2 210.6 186.5 207.4 185.4 205.4 184.4 204.7 183.6 204.5 182.4 204.8 180.8 205.6 179.6 206.9 178.4 208.6 177.4 210.6 176.7ZM194.2 182.7 197.0 182.9 199.8 183.4 201.8 184.2 203.0 185.2 203.5 186.4 203.6 187.6 203.2 190.0 202.6 191.2 202.0 192.0 200.2 193.4 198.6 194.1 197.0 194.5 193.8 194.6 193.8 182.7ZM277.8 185.9 279.4 185.7 281.4 185.7 281.4 197.6 278.2 197.4 275.0 196.7 272.6 195.6 271.8 194.4 271.6 193.2 271.6 191.6 271.9 190.4 272.6 189.1 273.5 188.0 274.6 187.2 276.2 186.4ZM255.4 193.1 258.2 192.8 261.4 193.1 264.6 193.8 268.2 195.0 269.9 196.0 270.5 196.8 270.7 198.0 270.3 199.6 269.4 201.0 267.8 202.2 266.2 203.1 263.8 203.8 262.2 204.0 260.6 203.8 255.8 202.3 253.7 201.2 252.1 200.0 251.0 198.8 250.5 197.2 250.7 196.0 251.6 194.8 253.4 193.7ZM221.8 202.7 223.4 202.4 225.1 202.8 226.2 203.6 226.4 204.4 226.3 204.8 225.4 205.6 224.2 206.0 222.6 206.0 221.4 205.6 220.5 204.8 220.3 204.0 220.8 203.2ZM261.4 205.6 263.4 205.7 265.4 206.2 267.4 207.2 269.1 208.4 270.0 209.6 270.6 211.2 270.7 212.4 270.0 213.6 268.2 214.6 265.0 215.7 262.2 216.3 259.4 216.6 256.6 216.4 254.2 215.9 252.6 215.2 251.2 214.0 250.5 212.8 250.5 211.6 251.0 210.4 252.2 209.1 253.9 208.0 256.2 206.9 258.6 206.1ZM276.6 212.7 279.0 212.4 281.4 212.4 281.4 224.3 278.2 224.1 275.5 223.2 273.3 221.6 272.0 219.6 271.6 217.2 271.7 216.0 272.1 214.8 272.6 214.2 273.6 213.6ZM194.2 213.1 196.6 213.2 198.6 213.7 200.6 214.7 202.2 216.1 203.1 217.6 203.6 219.6 203.4 221.9 202.6 223.2 201.0 224.0 198.6 224.7 196.2 225.0 193.8 225.0 193.8 213.1ZM212.6 221.1 215.4 220.8 217.8 220.9 219.8 221.2 221.8 221.8 223.4 222.8 224.4 224.0 224.7 225.2 224.5 226.4 223.7 227.6 222.2 228.9 220.2 230.0 217.4 231.0 214.6 231.7 213.0 231.9 211.4 231.7 209.4 231.0 207.0 229.7 205.6 228.4 204.7 226.8 204.5 225.6 204.6 224.8 205.0 224.0 205.4 223.6 206.6 222.9 209.4 221.9ZM250.6 231.5 252.2 231.4 253.8 231.8 254.6 232.4 254.8 232.8 254.8 233.6 248.9 233.6 248.8 232.8 249.0 232.4 249.5 232.0ZM211.4 233.6 213.0 233.4 214.5 233.6Z" fill="#f4764f" fill-rule="evenodd"/>
<path d="M258.6 150.7 260.6 150.5 262.2 150.5 263.8 150.7 265.2 151.2 266.5 152.0 267.2 152.8 267.5 153.6 267.4 154.8 266.6 155.8 265.4 156.7 263.8 157.4 262.2 157.8 260.2 158.1 258.2 158.1 256.6 157.8 255.0 157.3 253.8 156.4 253.2 155.6 253.1 154.8 253.5 153.6 254.2 152.8 255.4 151.9 257.0 151.2ZM278.2 157.1 279.8 156.9 281.4 157.0 281.4 165.6 279.0 165.5 277.0 164.9 275.4 163.9 274.3 162.4 274.1 160.8 274.6 159.2 275.9 158.0ZM194.2 157.6 196.2 157.7 197.8 158.1 199.4 159.0 200.4 160.0 201.0 161.2 201.1 162.4 200.8 163.6 199.8 164.8 198.6 165.6 197.0 166.1 195.4 166.3 193.8 166.2 193.8 157.6ZM214.6 165.2 216.6 165.1 218.2 165.3 219.8 165.8 221.0 166.4 221.8 167.2 222.1 168.4 221.7 169.6 221.0 170.4 219.8 171.3 218.2 172.0 216.2 172.5 214.2 172.8 212.2 172.6 210.6 172.2 209.2 171.6 208.3 170.8 207.8 170.0 207.7 168.8 208.0 168.0 208.8 167.2 210.0 166.4 211.4 165.8ZM212.6 178.4 214.2 178.4 216.2 178.6 218.2 179.2 219.8 180.0 221.0 180.9 221.9 182.0 222.1 183.2 221.8 184.0 221.1 184.8 219.8 185.5 218.2 185.9 216.6 186.1 213.0 185.7 211.4 185.2 209.6 184.4 208.6 183.6 207.9 182.8 207.6 181.6 207.8 180.8 208.4 180.0 209.6 179.2 211.0 178.7ZM194.2 184.4 196.2 184.4 198.2 185.0 199.8 185.9 200.6 186.8 201.1 188.0 201.0 189.6 200.4 190.8 199.0 192.0 196.6 192.9 193.8 192.9 193.8 184.4ZM278.2 187.5 279.8 187.3 281.4 187.4 281.4 195.9 279.0 195.9 276.7 195.2 275.0 194.0 274.2 192.8 274.1 191.2 274.7 189.6 276.2 188.3ZM257.0 194.4 259.0 194.2 261.0 194.4 263.0 194.8 265.0 195.6 266.3 196.4 267.3 197.6 267.6 198.8 267.3 199.6 266.7 200.4 265.4 201.2 264.2 201.6 262.6 201.9 261.0 201.9 259.0 201.7 255.8 200.5 254.4 199.6 253.6 198.8 253.1 197.6 253.2 196.8 253.6 196.0 254.5 195.2ZM260.2 207.6 262.2 207.6 263.8 207.8 265.4 208.4 266.6 209.2 267.3 210.0 267.6 211.2 267.1 212.4 266.3 213.2 265.0 214.0 263.4 214.6 261.4 215.0 259.4 215.2 257.4 215.1 255.8 214.7 254.4 214.0 253.5 213.2 253.1 212.4 253.2 211.2 253.7 210.4 254.5 209.6 257.0 208.3ZM277.8 214.3 279.4 214.1 281.4 214.1 281.4 222.7 279.0 222.6 277.0 222.0 275.4 221.0 274.4 219.6 274.0 218.0 274.6 216.4 275.8 215.2ZM194.2 214.7 196.2 214.8 197.8 215.2 199.3 216.0 200.5 217.2 201.0 218.4 201.1 219.6 200.8 220.8 199.7 222.0 198.6 222.7 197.0 223.2 195.4 223.4 193.8 223.3 193.8 214.7ZM213.8 222.4 217.4 222.3 220.2 223.1 221.1 223.6 221.8 224.4 222.1 225.2 221.9 226.4 221.0 227.5 219.8 228.4 218.2 229.1 216.6 229.6 214.6 229.8 213.0 229.8 211.4 229.6 209.8 229.0 208.6 228.2 207.8 227.2 207.7 226.0 208.0 225.2 208.6 224.4 210.2 223.4 211.8 222.8Z" fill="#de3f2b" fill-rule="evenodd"/>
<path d="M259.4 152.0 261.8 151.9 263.7 152.4 264.3 152.8 264.9 153.6 265.0 154.0 264.8 154.8 264.2 155.4 263.3 156.0 261.0 156.7 258.6 156.7 256.6 156.1 255.7 155.2 255.6 154.4 255.8 153.9 257.0 152.8ZM278.6 158.7 279.8 158.5 281.4 158.6 281.4 164.0 279.8 164.1 278.6 163.9 277.4 163.2 276.6 162.4 276.2 161.2 276.4 160.4 277.4 159.2ZM194.2 159.1 195.4 159.1 196.6 159.3 198.3 160.4 198.8 161.2 199.0 162.0 198.8 162.8 198.2 163.6 197.4 164.2 196.2 164.6 195.0 164.7 193.8 164.6 193.8 159.2ZM215.4 166.4 217.8 166.7 219.3 167.6 219.5 168.0 219.6 168.8 218.8 170.0 216.6 171.1 214.2 171.4 211.8 170.9 210.5 170.0 210.3 169.6 210.3 168.8 211.2 167.6 213.0 166.8ZM212.2 180.0 214.6 179.8 217.4 180.4 219.2 181.6 219.6 182.4 219.6 183.2 218.6 184.2 216.6 184.7 214.2 184.6 212.2 184.0 210.9 183.2 210.2 182.0 210.4 181.2 210.7 180.8ZM194.2 185.9 195.4 185.9 196.6 186.1 197.4 186.5 198.3 187.2 198.8 188.0 199.0 188.8 198.8 189.6 198.2 190.4 197.4 191.0 196.2 191.4 195.0 191.5 193.8 191.4 193.8 185.9ZM279.8 188.8 281.4 188.9 281.4 194.4 279.8 194.4 278.2 194.0 276.9 193.2 276.3 192.0 276.4 190.8 277.0 189.9 278.2 189.1ZM258.6 195.6 261.0 195.7 263.4 196.5 264.4 197.2 264.9 198.0 264.9 198.8 264.8 199.2 264.2 199.8 263.4 200.2 261.4 200.5 259.4 200.4 257.2 199.6 255.8 198.4 255.6 197.6 255.6 197.2 255.8 196.8 256.6 196.1ZM259.0 209.1 261.4 209.0 263.4 209.4 264.2 209.8 264.8 210.4 264.9 210.8 264.9 211.6 263.8 212.8 261.8 213.6 259.4 213.9 257.0 213.4 256.2 213.0 255.7 212.4 255.6 212.0 255.7 211.2 256.8 210.0ZM279.8 215.6 281.4 215.7 281.4 221.1 279.8 221.2 278.2 220.8 277.0 220.0 276.3 218.8 276.4 217.6 277.0 216.7 278.2 215.9ZM194.2 216.2 195.4 216.2 196.6 216.4 197.4 216.8 198.4 217.6 198.9 218.4 199.0 219.2 198.8 220.0 198.1 220.8 197.4 221.3 196.2 221.7 195.0 221.8 193.8 221.7 193.8 216.3ZM214.6 223.6 216.9 223.6 218.6 224.2 219.6 225.2 219.6 225.6 219.4 226.4 218.0 227.6 215.8 228.3 213.4 228.4 211.4 227.8 210.3 226.8 210.2 226.0 210.7 225.2 212.2 224.2Z" fill="#b80604" fill-rule="evenodd"/>
<path d="M260.2 154.3 260.4 154.4 260.0 154.4ZM280.2 191.5 280.5 191.6 280.2 191.7ZM280.2 218.3 280.5 218.4 280.2 218.5Z" fill="#7f0000" fill-rule="evenodd"/>
</g>
<polyline points="188.1,141.8 286.4,141.8 286.4,239.8" fill="none" stroke="#222" stroke-width="1.0"/>
<line x1="196.40" y1="140.5" x2="196.40" y2="143.3" stroke="#333" stroke-width="0.8"/>
<text x="196.40" y="139.70" font-size="8.0" text-anchor="middle" textLength="10.3" lengthAdjust="spacingAndGlyphs">2.0</text>
<line x1="217.38" y1="140.5" x2="217.38" y2="143.3" stroke="#333" stroke-width="0.8"/>
<text x="217.38" y="139.70" font-size="8.0" text-anchor="middle" textLength="10.3" lengthAdjust="spacingAndGlyphs">1.5</text>
<line x1="238.36" y1="140.5" x2="238.36" y2="143.3" stroke="#333" stroke-width="0.8"/>
<text x="238.36" y="139.70" font-size="8.0" text-anchor="middle" textLength="10.3" lengthAdjust="spacingAndGlyphs">1.0</text>
<line x1="259.34" y1="140.5" x2="259.34" y2="143.3" stroke="#333" stroke-width="0.8"/>
<text x="259.34" y="139.70" font-size="8.0" text-anchor="middle" textLength="10.3" lengthAdjust="spacingAndGlyphs">0.5</text>
<line x1="280.32" y1="140.5" x2="280.32" y2="143.3" stroke="#333" stroke-width="0.8"/>
<text x="280.32" y="139.70" font-size="8.0" text-anchor="middle" textLength="10.3" lengthAdjust="spacingAndGlyphs">0.0</text>
<line x1="284.9" y1="147.70" x2="287.9" y2="147.70" stroke="#333" stroke-width="0.8"/>
<text x="294.00" y="153.80" font-size="8.0" text-anchor="middle" textLength="10.6" lengthAdjust="spacingAndGlyphs">0.0</text>
<line x1="284.9" y1="159.60" x2="287.9" y2="159.60" stroke="#333" stroke-width="0.8"/>
<text x="294.00" y="165.70" font-size="8.0" text-anchor="middle" textLength="10.6" lengthAdjust="spacingAndGlyphs">0.5</text>
<line x1="284.9" y1="171.50" x2="287.9" y2="171.50" stroke="#333" stroke-width="0.8"/>
<text x="294.00" y="177.60" font-size="8.0" text-anchor="middle" textLength="10.6" lengthAdjust="spacingAndGlyphs">1.0</text>
<line x1="284.9" y1="183.40" x2="287.9" y2="183.40" stroke="#333" stroke-width="0.8"/>
<text x="294.00" y="189.50" font-size="8.0" text-anchor="middle" textLength="10.6" lengthAdjust="spacingAndGlyphs">1.5</text>
<line x1="284.9" y1="195.30" x2="287.9" y2="195.30" stroke="#333" stroke-width="0.8"/>
<text x="294.00" y="201.40" font-size="8.0" text-anchor="middle" textLength="10.6" lengthAdjust="spacingAndGlyphs">2.0</text>
<line x1="284.9" y1="207.20" x2="287.9" y2="207.20" stroke="#333" stroke-width="0.8"/>
<text x="294.00" y="213.30" font-size="8.0" text-anchor="middle" textLength="10.6" lengthAdjust="spacingAndGlyphs">2.5</text>
<line x1="284.9" y1="219.10" x2="287.9" y2="219.10" stroke="#333" stroke-width="0.8"/>
<text x="294.00" y="225.20" font-size="8.0" text-anchor="middle" textLength="10.6" lengthAdjust="spacingAndGlyphs">3.0</text>
<line x1="284.9" y1="231.00" x2="287.9" y2="231.00" stroke="#333" stroke-width="0.8"/>
<text x="294.00" y="237.10" font-size="8.0" text-anchor="middle" textLength="10.6" lengthAdjust="spacingAndGlyphs">3.5</text>
<text x="221.50" y="130.40" font-size="9.3" textLength="30.80" lengthAdjust="spacingAndGlyphs">K<tspan font-size="6.5" dy="1.8">x</tspan><tspan dy="-1.8">(1/Å)</tspan></text>
<text x="288.60" y="193.30" font-size="9.3" textLength="33.60" lengthAdjust="spacingAndGlyphs" transform="rotate(-90 305.4 190.0)">K<tspan font-size="6.5" dy="1.8">y</tspan><tspan dy="-1.8">(1/Å)</tspan></text>
<rect x="314.8" y="227.66" width="5.2" height="11.69" fill="#fff7ec"/>
<rect x="314.8" y="216.03" width="5.2" height="11.69" fill="#fee5c3"/>
<rect x="314.8" y="204.39" width="5.2" height="11.69" fill="#fdcd96"/>
<rect x="314.8" y="192.75" width="5.2" height="11.69" fill="#fda872"/>
<rect x="314.8" y="181.11" width="5.2" height="11.69" fill="#f4764f"/>
<rect x="314.8" y="169.47" width="5.2" height="11.69" fill="#de3f2b"/>
<rect x="314.8" y="157.84" width="5.2" height="11.69" fill="#b80604"/>
<rect x="314.8" y="146.20" width="5.2" height="11.69" fill="#7f0000"/>
<rect x="314.8" y="146.2" width="5.2" height="93.10" fill="none" stroke="#333" stroke-width="0.6"/>
<line x1="320" y1="239.30" x2="321.8" y2="239.30" stroke="#333" stroke-width="0.7"/>
<text x="323.90" y="242.20" font-size="8.0" text-anchor="start" textLength="17.0" lengthAdjust="spacingAndGlyphs">−0.15</text>
<line x1="320" y1="227.66" x2="321.8" y2="227.66" stroke="#333" stroke-width="0.7"/>
<text x="323.90" y="230.56" font-size="8.0" text-anchor="start" textLength="13.2" lengthAdjust="spacingAndGlyphs">0.00</text>
<line x1="320" y1="216.03" x2="321.8" y2="216.03" stroke="#333" stroke-width="0.7"/>
<text x="323.90" y="218.93" font-size="8.0" text-anchor="start" textLength="13.2" lengthAdjust="spacingAndGlyphs">0.15</text>
<line x1="320" y1="204.39" x2="321.8" y2="204.39" stroke="#333" stroke-width="0.7"/>
<text x="323.90" y="207.29" font-size="8.0" text-anchor="start" textLength="13.2" lengthAdjust="spacingAndGlyphs">0.30</text>
<line x1="320" y1="192.75" x2="321.8" y2="192.75" stroke="#333" stroke-width="0.7"/>
<text x="323.90" y="195.65" font-size="8.0" text-anchor="start" textLength="13.2" lengthAdjust="spacingAndGlyphs">0.45</text>
<line x1="320" y1="181.11" x2="321.8" y2="181.11" stroke="#333" stroke-width="0.7"/>
<text x="323.90" y="184.01" font-size="8.0" text-anchor="start" textLength="13.2" lengthAdjust="spacingAndGlyphs">0.60</text>
<line x1="320" y1="169.47" x2="321.8" y2="169.47" stroke="#333" stroke-width="0.7"/>
<text x="323.90" y="172.38" font-size="8.0" text-anchor="start" textLength="13.2" lengthAdjust="spacingAndGlyphs">0.75</text>
<line x1="320" y1="157.84" x2="321.8" y2="157.84" stroke="#333" stroke-width="0.7"/>
<text x="323.90" y="160.74" font-size="8.0" text-anchor="start" textLength="13.2" lengthAdjust="spacingAndGlyphs">0.90</text>
<line x1="320" y1="146.20" x2="321.8" y2="146.20" stroke="#333" stroke-width="0.7"/>
<text x="323.90" y="149.10" font-size="8.0" text-anchor="start" textLength="13.2" lengthAdjust="spacingAndGlyphs">1.05</text>
<g class="s"><path class="o16" d="M49.8 65.4l1.5.2.4 1.1-1.4-.4z"/>
<path class="o15" d="M51.3 65.6l1.4.5.5 1.2-1.5-.6z"/>
<path class="o14" d="M52.7 66.1l1.4.6.5 1.4-1.4-.8z"/>
<path class="o12" d="M54.1 66.7l1.5.9.4 1.3-1.4-.8z"/>
<path class="o11" d="M55.6 67.6l1.4.9.5.2-1.5.2z"/>
<path class="o10" d="M57 68.5l1.4.9 1.5-.2.4-1.4-1.4.5-1.4.4z"/>
<path class="o12" d="M59.9 69.2l1.4-.6.5-1.2-1.5.4z"/>
<path class="o13" d="M61.3 68.6l1.4-.5 1.5 0 .5-.5-1.5-.3-1.4.1z"/>
<path class="o12" d="M64.2 68.1l1.4.5.5-.4-1.4-.6z"/>
<path class="o11" d="M65.6 68.6l1.4.9.6-.3-1.5-1z"/>
<path class="o8" d="M67 69.5l1.5 1.2.5-.5-1.4-1z"/>
<path class="o5" d="M68.5 70.7l1.4.8.5-.4-1.4-.9z"/>
<path class="o3" d="M69.9 71.5l1.5-.3.5.1-1.5-.2z"/>
<path class="o4" d="M71.4 71.2l1.4-.3.5.1-1.4.3z"/>
<path class="o6" d="M72.8 70.9l1.5-.3.5.1-1.5.3z"/>
<path class="o7" d="M74.3 70.6l1.4-.2 1.4-.2.6.3-1.5.1-1.4.1z"/>
<path class="o8" d="M77.1 70.2l1.5-.1 1.4 0 1.5.1 1.4 0 1.5 0 1.4.1 1.5.1 1.4 0 1.5.2.5.4-1.4-.2-1.5-.1-1.4-.1-1.5 0-1.4-.1-1.5 0-1.4-.1-1.5 0-1.4.1z"/>
<path class="o7" d="M90.2 70.6l1.4.2 1.5.2.6.6-1.5-.3-1.5-.3z"/>
<path class="o6" d="M93.1 71l1.4.3.6.7-1.4-.4z"/>
<path class="o5" d="M94.5 71.3l1.5.4.6.6-1.5-.3z"/>
<path class="o4" d="M96 71.7l1.4.5.6-.5-1.4.6z"/>
<path class="o5" d="M97.4 72.2l1.5.4.6-1.7-1.5.8z"/>
<path class="o7" d="M98.9 72.6l1.4-.7.7-2-1.5 1z"/>
<path class="o10" d="M100.3 71.9l1.5-1.1.6-1.6-1.4.7z"/>
<path class="o12" d="M101.8 70.8l1.4-.8.7-1.2-1.5.4z"/>
<path class="o13" d="M103.2 70l1.5-.4 1.5.1.6-.5-1.5-.4-1.4 0z"/>
<path class="o12" d="M106.2 69.7l1.4.6.7-.5-1.5-.6z"/>
<path class="o11" d="M107.6 70.3l1.5.7.6-.6-1.4-.6z"/>
<path class="o9" d="M109.1 71l1.4.3.7-.4-1.5-.5z"/>
<path class="o10" d="M110.5 71.3l1.5-.8.7.1-1.5.3z"/>
<path class="o12" d="M112 70.5l1.5-.8.6.2-1.4.7z"/>
<path class="o14" d="M113.5 69.7l1.4-.7.7.3-1.5.6z"/>
<path class="o15" d="M114.9 69l1.5-.6.7.5-1.5.4z"/>
<path class="o16" d="M116.4 68.4l1.5-.4 1.5 0 .6.9-1.4-.2-1.5.2z"/>
<path class="o15" d="M50.3 66.3l1.4.4.5 1.5-1.5-.5z"/>
<path class="o14" d="M51.7 66.7l1.5.6.4 1.6-1.4-.7z"/>
<path class="o12" d="M53.2 67.3l1.4.8 1.4.8.5-.8-1.4.8-1.5 0z"/>
<path class="o13" d="M56 68.9l1.5-.2.4-1.8-1.4 1.2z"/>
<path class="o15" d="M57.5 68.7l1.4-.4.5-2.7-1.5 1.3z"/>
<path class="o17" d="M58.9 68.3l1.4-.5.5-3.3-1.4 1.1z"/>
<path class="o19" d="M60.3 67.8l1.5-.4 1.4-.1 1.5.3.4-2.8-1.4-.9-1.5 0-1.4.6z"/>
<path class="o17" d="M64.7 67.6l1.4.6.5-2.1-1.5-1.3z"/>
<path class="o15" d="M66.1 68.2l1.5 1 .5-1.5-1.5-1.6z"/>
<path class="o12" d="M67.6 69.2l1.4 1 .5-.9-1.4-1.6z"/>
<path class="o9" d="M69 70.2l1.4.9.6-.6-1.5-1.2z"/>
<path class="o7" d="M70.4 71.1l1.5.2 1.4-.3.6-.3-1.5.3-1.4-.5z"/>
<path class="o8" d="M73.3 71l1.5-.3 1.4-.1.6-.3-1.5.2-1.4.2z"/>
<path class="o9" d="M76.2 70.6l1.5-.1 1.4-.1 1.5 0 .5-.2-1.4 0-1.5 0-1.4.1z"/>
<path class="o10" d="M80.6 70.4l1.4.1 1.5 0 1.4.1 1.5 0 .6-.1-1.5-.1-1.5-.1-1.4 0-1.5-.1z"/>
<path class="o9" d="M86.4 70.6l1.4.1 1.5.1 1.4.2.6.1-1.4-.3-1.5-.2-1.4-.1z"/>
<path class="o8" d="M90.7 71l1.5.3.6.1-1.5-.3z"/>
<path class="o7" d="M92.2 71.3l1.5.3 1.4.4.6-.5-1.4.3-1.5-.4z"/>
<path class="o8" d="M95.1 72l1.5.3.6-2-1.5 1.2z"/>
<path class="o10" d="M96.6 72.3l1.4-.6.6-2.9-1.4 1.5z"/>
<path class="o13" d="M98 71.7l1.5-.8.6-3.5-1.5 1.4z"/>
<path class="o16" d="M99.5 70.9l1.5-1 .6-3.8-1.5 1.3z"/>
<path class="o18" d="M101 69.9l1.4-.7.6-3.9-1.4.8z"/>
<path class="o19" d="M102.4 69.2l1.5-.4 1.4 0 .7-2.7-1.5-.7-1.5-.1z"/>
<path class="o18" d="M105.3 68.8l1.5.4.7-1.8-1.5-1.3z"/>
<path class="o16" d="M106.8 69.2l1.5.6.6-1-1.4-1.4z"/>
<path class="o14" d="M108.3 69.8l1.4.6.7-.4-1.5-1.2z"/>
<path class="o12" d="M109.7 70.4l1.5.5.7.1-1.5-1z"/>
<path class="o11" d="M111.2 70.9l1.5-.3.6.5-1.4-.1z"/>
<path class="o12" d="M112.7 70.6l1.4-.7.7.7-1.5.5z"/>
<path class="o14" d="M114.1 69.9l1.5-.6.7.8-1.5.5z"/>
<path class="o15" d="M115.6 69.3l1.5-.4 1.5-.2 1.4.2.7 1.4-1.5-.3-1.4 0-1.5.1z"/>
<path class="o12" d="M50.7 67.7l1.5.5.5 1.9-1.5-.6z"/>
<path class="o11" d="M52.2 68.2l1.4.7.5.5-1.4.7z"/>
<path class="o13" d="M53.6 68.9l1.5 0 .4-.9-1.4 1.4z"/>
<path class="o15" d="M55.1 68.9l1.4-.8.5-1.9-1.5 1.8z"/>
<path class="o19" d="M56.5 68.1l1.4-1.2.5-2.8-1.4 2.1z"/>
<path class="o22" d="M57.9 66.9l1.5-1.3.4-3.6-1.4 2.1z"/>
<path class="o25" d="M59.4 65.6l1.4-1.1.5-4.2-1.5 1.7z"/>
<path class="o27" d="M60.8 64.5l1.4-.6 1.5 0 .5-3.1-1.5-1-1.4.5z"/>
<path class="o26" d="M63.7 63.9l1.4.9.5-2.1-1.4-1.9z"/>
<path class="o23" d="M65.1 64.8l1.5 1.3.5-1.2-1.5-2.2z"/>
<path class="o19" d="M66.6 66.1l1.5 1.6.5-.7-1.5-2.1z"/>
<path class="o15" d="M68.1 67.7l1.4 1.6.5-.5-1.4-1.8z"/>
<path class="o12" d="M69.5 69.3l1.5 1.2.5-.3-1.5-1.4z"/>
<path class="o10" d="M71 70.5l1.4.5 1.5-.3.5-.7-1.5.3-1.4-.1z"/>
<path class="o11" d="M73.9 70.7l1.4-.2 1.5-.2.5-.6-1.5.1-1.4.2z"/>
<path class="o12" d="M76.8 70.3l1.4-.1 1.5 0 1.4 0 1.5.1 1.4 0 1.5.1 1.5.1 1.4.1.6-.4-1.5-.2-1.4-.1-1.5-.1-1.5-.1-1.4 0-1.5-.1-1.4 0-1.5.1z"/>
<path class="o11" d="M88.4 70.6l1.5.2 1.4.3.6-.3-1.4-.3-1.5-.3z"/>
<path class="o10" d="M91.3 71.1l1.5.3 1.5.4.6-1.4-1.5.9-1.5-.5z"/>
<path class="o12" d="M94.3 71.8l1.4-.3.6-2.6-1.4 1.5z"/>
<path class="o15" d="M95.7 71.5l1.5-1.2.6-3.3-1.5 1.9z"/>
<path class="o19" d="M97.2 70.3l1.4-1.5.7-3.8-1.5 2z"/>
<path class="o22" d="M98.6 68.8l1.5-1.4.6-4.4-1.4 2z"/>
<path class="o25" d="M100.1 67.4l1.5-1.3.6-4.6-1.5 1.5z"/>
<path class="o27" d="M101.6 66.1l1.4-.8 1.5.1.7-2.8-1.5-1.3-1.5.2z"/>
<path class="o25" d="M104.5 65.4l1.5.7.6-1.4-1.4-2.1z"/>
<path class="o22" d="M106 66.1l1.5 1.3.6-.4-1.5-2.3z"/>
<path class="o19" d="M107.5 67.4l1.4 1.4.7.3-1.5-2.1z"/>
<path class="o15" d="M108.9 68.8l1.5 1.2.6.9-1.4-1.8z"/>
<path class="o12" d="M110.4 70l1.5 1 .6 1.1-1.5-1.2z"/>
<path class="o11" d="M111.9 71l1.4.1.7 1-1.5 0z"/>
<path class="o12" d="M113.3 71.1l1.5-.5.7 1.1-1.5.4z"/>
<path class="o13" d="M114.8 70.6l1.5-.5 1.5-.1 1.4 0 1.5.3.7 1.8-1.5-.4-1.5-.2-1.4 0-1.5.2z"/>
<path class="o10" d="M51.2 69.5l1.5.6.4.5-1.4.8z"/>
<path class="o12" d="M52.7 70.1l1.4-.7.5-.5-1.5 1.7z"/>
<path class="o15" d="M54.1 69.4l1.4-1.4.5-1.4-1.4 2.3z"/>
<path class="o20" d="M55.5 68l1.5-1.8.4-2.3-1.4 2.7z"/>
<path class="o25" d="M57 66.2l1.4-2.1.4-3.2-1.4 3z"/>
<path class="o30" d="M58.4 64.1l1.4-2.1.5-4.1-1.5 3z"/>
<path class="o34" d="M59.8 62l1.5-1.7.4-4.1-1.4 1.7z"/>
<path class="o35" d="M61.3 60.3l1.4-.5.5-2.5-1.5-1.1z"/>
<path class="o33" d="M62.7 59.8l1.5 1 .5-.9-1.5-2.6z"/>
<path class="o30" d="M64.2 60.8l1.4 1.9.5-.1-1.4-2.7z"/>
<path class="o25" d="M65.6 62.7l1.5 2.2.5.1-1.5-2.4z"/>
<path class="o21" d="M67.1 64.9l1.5 2.1.5.2-1.5-2.2z"/>
<path class="o17" d="M68.6 67l1.4 1.8.5.1-1.4-1.7z"/>
<path class="o14" d="M70 68.8l1.5 1.4.5-.4-1.5-.9z"/>
<path class="o13" d="M71.5 70.2l1.4.1 1.5-.3.5-.9-1.4.3-1.5.4z"/>
<path class="o14" d="M74.4 70l1.4-.2.6-.9-1.5.2z"/>
<path class="o15" d="M75.8 69.8l1.5-.1 1.5-.1 1.4 0 1.5.1 1.4 0 1.5.1 1.5.1 1.4.1 1.5.2.6-.5-1.5-.4-1.5-.2-1.4-.1-1.5-.1-1.5-.1-1.4-.1-1.5 0-1.5.1-1.4.1z"/>
<path class="o14" d="M89 70.2l1.5.3.5-.4-1.4-.4z"/>
<path class="o13" d="M90.5 70.5l1.4.3 1.5.5.6-1.6-1.5.9-1.5-.5z"/>
<path class="o15" d="M93.4 71.3l1.5-.9.6-2.3-1.5 1.6z"/>
<path class="o18" d="M94.9 70.4l1.4-1.5.6-2.8-1.4 2z"/>
<path class="o22" d="M96.3 68.9l1.5-1.9.6-3.3-1.5 2.4z"/>
<path class="o27" d="M97.8 67l1.5-2 .6-3.9-1.5 2.6z"/>
<path class="o31" d="M99.3 65l1.4-2 .7-4.3-1.5 2.4z"/>
<path class="o34" d="M100.7 63l1.5-1.5.7-3.9-1.5 1.1z"/>
<path class="o35" d="M102.2 61.5l1.5-.2.6-1.9-1.4-1.8z"/>
<path class="o32" d="M103.7 61.3l1.5 1.3.6 0-1.5-3.2z"/>
<path class="o28" d="M105.2 62.6l1.4 2.1.7 1-1.5-3.1z"/>
<path class="o23" d="M106.6 64.7l1.5 2.3.7 1.5-1.5-2.8z"/>
<path class="o18" d="M108.1 67l1.5 2.1.6 1.8-1.4-2.4z"/>
<path class="o14" d="M109.6 69.1l1.4 1.8.7 1.9-1.5-1.9z"/>
<path class="o10" d="M111 70.9l1.5 1.2.7 1.6-1.5-.9z"/>
<path class="o9" d="M112.5 72.1l1.5 0 .7 1-1.5.6z"/>
<path class="o11" d="M114 72.1l1.5-.4.7.9-1.5.5z"/>
<path class="o12" d="M115.5 71.7l1.5-.2 1.4 0 .7 1.2-1.5-.3-1.4.2z"/>
<path class="o11" d="M118.4 71.5l1.5.2.7 1.6-1.5-.6z"/>
<path class="o10" d="M119.9 71.7l1.5.4.7 2-1.5-.8z"/>
<path class="o10" d="M51.7 71.4l1.4-.8.5 0-1.5.8z"/>
<path class="o13" d="M53.1 70.6l1.5-1.7.4-.6-1.4 2.3z"/>
<path class="o19" d="M54.6 68.9l1.4-2.3.5-1-1.5 2.7z"/>
<path class="o24" d="M56 66.6l1.4-2.7.5-1.4-1.4 3.1z"/>
<path class="o30" d="M57.4 63.9l1.4-3 .5-1.6-1.4 3.2z"/>
<path class="o35" d="M58.8 60.9l1.5-3 .5-1-1.5 2.4z"/>
<path class="o38" d="M60.3 57.9l1.4-1.7.5 1-1.4-.3z"/>
<path class="o37" d="M61.7 56.2l1.5 1.1.5 2-1.5-2.1z"/>
<path class="o34" d="M63.2 57.3l1.5 2.6.5 1.9-1.5-2.5z"/>
<path class="o30" d="M64.7 59.9l1.4 2.7.6 1.6-1.5-2.4z"/>
<path class="o25" d="M66.1 62.6l1.5 2.4.5 1.3-1.4-2.1z"/>
<path class="o21" d="M67.6 65l1.5 2.2.5.8-1.5-1.7z"/>
<path class="o18" d="M69.1 67.2l1.4 1.7.6.2-1.5-1.1z"/>
<path class="o16" d="M70.5 68.9l1.5.9 1.5-.4.5-1-1.5.4-1.4.3z"/>
<path class="o17" d="M73.5 69.4l1.4-.3.6-1-1.5.3z"/>
<path class="o18" d="M74.9 69.1l1.5-.2 1.4-.1 1.5-.1.6-1-1.5.1-1.5.1-1.4.2z"/>
<path class="o19" d="M79.3 68.7l1.5 0 1.4.1 1.5.1 1.5.1.5-.9-1.4-.2-1.5-.1-1.5 0-1.4-.1z"/>
<path class="o18" d="M85.2 69l1.4.1 1.5.2.6-.6-1.5-.3-1.5-.3z"/>
<path class="o17" d="M88.1 69.3l1.5.4.6-.5-1.5-.5z"/>
<path class="o16" d="M89.6 69.7l1.4.4 1.5.5.6-1.1-1.5.2-1.4-.5z"/>
<path class="o17" d="M92.5 70.6l1.5-.9.6-1.6-1.5 1.4z"/>
<path class="o20" d="M94 69.7l1.5-1.6.6-1.8-1.5 1.8z"/>
<path class="o24" d="M95.5 68.1l1.4-2 .6-2-1.4 2.2z"/>
<path class="o28" d="M96.9 66.1l1.5-2.4.6-2-1.5 2.4z"/>
<path class="o33" d="M98.4 63.7l1.5-2.6.6-1.7-1.5 2.3z"/>
<path class="o36" d="M99.9 61.1l1.5-2.4.6-.6-1.5 1.3z"/>
<path class="o38" d="M101.4 58.7l1.5-1.1.6 1.8-1.5-1.3z"/>
<path class="o36" d="M102.9 57.6l1.4 1.8.7 3.1-1.5-3.1z"/>
<path class="o31" d="M104.3 59.4l1.5 3.2.6 3.2-1.4-3.3z"/>
<path class="o26" d="M105.8 62.6l1.5 3.1.6 3.2-1.5-3.1z"/>
<path class="o20" d="M107.3 65.7l1.5 2.8.6 3.1-1.5-2.7z"/>
<path class="o15" d="M108.8 68.5l1.4 2.4.7 2.4-1.5-1.7z"/>
<path class="o11" d="M110.2 70.9l1.5 1.9.7.9-1.5-.4z"/>
<path class="o10" d="M111.7 72.8l1.5.9.7-1.1-1.5 1.1z"/>
<path class="o11" d="M113.2 73.7l1.5-.6.7-1.4-1.5.9z"/>
<path class="o13" d="M114.7 73.1l1.5-.5 1.4-.2 1.5.3.7-.4-1.5-.8-1.5-.2-1.4.4z"/>
<path class="o11" d="M119.1 72.7l1.5.6.7.2-1.5-1.2z"/>
<path class="o9" d="M120.6 73.3l1.5.8.7 0-1.5-.6z"/>
<path class="o11" d="M52.1 71.4l1.5-.8.5 0-1.5.6z"/>
<path class="o15" d="M53.6 70.6l1.4-2.3.5.3-1.4 2z"/>
<path class="o20" d="M55 68.3l1.5-2.7.4.3-1.4 2.7z"/>
<path class="o26" d="M56.5 65.6l1.4-3.1.5.9-1.5 2.5z"/>
<path class="o31" d="M57.9 62.5l1.4-3.2.5 2.2-1.4 1.9z"/>
<path class="o34" d="M59.3 59.3l1.5-2.4.5 4-1.5.6z"/>
<path class="o35" d="M60.8 56.9l1.4.3.6 4.4-1.5-.7z"/>
<path class="o34" d="M62.2 57.2l1.5 2.1.5 3.8-1.4-1.5z"/>
<path class="o30" d="M63.7 59.3l1.5 2.5.5 3-1.5-1.7z"/>
<path class="o27" d="M65.2 61.8l1.5 2.4.5 2.2-1.5-1.6z"/>
<path class="o23" d="M66.7 64.2l1.4 2.1.6 1.5-1.5-1.4z"/>
<path class="o20" d="M68.1 66.3l1.5 1.7.5.7-1.4-.9z"/>
<path class="o19" d="M69.6 68l1.5 1.1 1.4-.3.6-1.1-1.5.6-1.5.4z"/>
<path class="o20" d="M72.5 68.8l1.5-.4.5-1-1.4.3z"/>
<path class="o21" d="M74 68.4l1.5-.3 1.4-.2.6-1-1.5.2-1.5.3z"/>
<path class="o22" d="M76.9 67.9l1.5-.1 1.5-.1 1.4.1 1.5 0 1.5.1.5-.7-1.4-.2-1.5-.2-1.5 0-1.5 0-1.4.1z"/>
<path class="o21" d="M84.3 67.9l1.4.2 1.5.3.6-.6-1.5-.4-1.5-.2z"/>
<path class="o20" d="M87.2 68.4l1.5.3.6-.4-1.5-.5z"/>
<path class="o19" d="M88.7 68.7l1.5.5.6-.2-1.5-.7z"/>
<path class="o18" d="M90.2 69.2l1.4.5 1.5-.2.6-.8-1.5.8-1.4-.5z"/>
<path class="o21" d="M93.1 69.5l1.5-1.4.6-.6-1.5 1.2z"/>
<path class="o24" d="M94.6 68.1l1.5-1.8.6-.4-1.5 1.6z"/>
<path class="o27" d="M96.1 66.3l1.4-2.2.7.2-1.5 1.6z"/>
<path class="o31" d="M97.5 64.1l1.5-2.4.7 1.2-1.5 1.4z"/>
<path class="o34" d="M99 61.7l1.5-2.3.6 2.9-1.4.6z"/>
<path class="o35" d="M100.5 59.4l1.5-1.3.6 4.9-1.5-.7z"/>
<path class="o34" d="M102 58.1l1.5 1.3.6 5.6-1.5-2z"/>
<path class="o30" d="M103.5 59.4l1.5 3.1.6 5.2-1.5-2.7z"/>
<path class="o25" d="M105 62.5l1.4 3.3.7 4.7-1.5-2.8z"/>
<path class="o19" d="M106.4 65.8l1.5 3.1.7 3.7-1.5-2.1z"/>
<path class="o15" d="M107.9 68.9l1.5 2.7.7 1.7-1.5-.7z"/>
<path class="o12" d="M109.4 71.6l1.5 1.7 1.5.4.7-2.3-1.5 1.7-1.5.2z"/>
<path class="o15" d="M112.4 73.7l1.5-1.1.6-2.7-1.4 1.5z"/>
<path class="o17" d="M113.9 72.6l1.5-.9.6-2.6-1.5.8z"/>
<path class="o18" d="M115.4 71.7l1.4-.4 1.5.2.7-1.4-1.5-1-1.5 0z"/>
<path class="o16" d="M118.3 71.5l1.5.8.7-.6-1.5-1.6z"/>
<path class="o13" d="M119.8 72.3l1.5 1.2.7 0-1.5-1.8z"/>
<path class="o11" d="M121.3 73.5l1.5.6.7-.3-1.5-.3z"/>
<path class="o12" d="M52.6 71.2l1.5-.6.4 1-1.4.3z"/>
<path class="o15" d="M54.1 70.6l1.4-2 .5 1.3-1.5 1.7z"/>
<path class="o20" d="M55.5 68.6l1.4-2.7.5 2-1.4 2z"/>
<path class="o24" d="M56.9 65.9l1.5-2.5.5 2.9-1.5 1.6z"/>
<path class="o27" d="M58.4 63.4l1.4-1.9.5 3.9-1.4.9z"/>
<path class="o29" d="M59.8 61.5l1.5-.6 1.5.7.5 4.3-1.5-.6-1.5.1z"/>
<path class="o27" d="M62.8 61.6l1.4 1.5.6 3.6-1.5-.8z"/>
<path class="o25" d="M64.2 63.1l1.5 1.7.5 2.9-1.4-1z"/>
<path class="o23" d="M65.7 64.8l1.5 1.6.5 2.1-1.5-.8z"/>
<path class="o21" d="M67.2 66.4l1.5 1.4.5 1-1.5-.3z"/>
<path class="o20" d="M68.7 67.8l1.4.9.6-.7-1.5.8z"/>
<path class="o21" d="M70.1 68.7l1.5-.4.5-.9-1.4.6z"/>
<path class="o22" d="M71.6 68.3l1.5-.6.5-.8-1.5.5z"/>
<path class="o23" d="M73.1 67.7l1.4-.3.6-.9-1.5.4z"/>
<path class="o24" d="M74.5 67.4l1.5-.3 1.5-.2 1.4-.1.6-.8-1.5.1-1.5.1-1.4.3z"/>
<path class="o25" d="M78.9 66.8l1.5 0 1.5 0 1.5.2.5-.6-1.4-.3-1.5-.1-1.5 0z"/>
<path class="o24" d="M83.4 67l1.4.2 1.5.2.6-.3-1.5-.4-1.5-.3z"/>
<path class="o23" d="M86.3 67.4l1.5.4.6-.1-1.5-.6z"/>
<path class="o22" d="M87.8 67.8l1.5.5.6.1-1.5-.7z"/>
<path class="o21" d="M89.3 68.3l1.5.7.6.2-1.5-.8z"/>
<path class="o20" d="M90.8 69l1.4.5 1.5-.8.6.4-1.5.6-1.4-.5z"/>
<path class="o22" d="M93.7 68.7l1.5-1.2.6.8-1.5.8z"/>
<path class="o24" d="M95.2 67.5l1.5-1.6.6 1.6-1.5.8z"/>
<path class="o26" d="M96.7 65.9l1.5-1.6.6 2.5-1.5.7z"/>
<path class="o28" d="M98.2 64.3l1.5-1.4.6 3.8-1.5.1z"/>
<path class="o29" d="M99.7 62.9l1.4-.6.7 5-1.5-.6z"/>
<path class="o28" d="M101.1 62.3l1.5.7.7 5.7-1.5-1.4z"/>
<path class="o25" d="M102.6 63l1.5 2 .7 5.7-1.5-2z"/>
<path class="o21" d="M104.1 65l1.5 2.7.6 5.1-1.4-2.1z"/>
<path class="o17" d="M105.6 67.7l1.5 2.8.6 3.4-1.5-1.1z"/>
<path class="o14" d="M107.1 70.5l1.5 2.1.6 1.2-1.5.1z"/>
<path class="o13" d="M108.6 72.6l1.5.7.6-.8-1.5 1.3z"/>
<path class="o15" d="M110.1 73.3l1.5-.2.6-3.1-1.5 2.5z"/>
<path class="o19" d="M111.6 73.1l1.5-1.7.6-3.7-1.5 2.3z"/>
<path class="o22" d="M113.1 71.4l1.4-1.5.7-3.7-1.5 1.5z"/>
<path class="o25" d="M114.5 69.9l1.5-.8 1.5 0 .7-2.1-1.5-1.1-1.5.3z"/>
<path class="o23" d="M117.5 69.1l1.5 1 .7-1.1-1.5-2z"/>
<path class="o19" d="M119 70.1l1.5 1.6.7-.1-1.5-2.6z"/>
<path class="o15" d="M120.5 71.7l1.5 1.8.7.3-1.5-2.2z"/>
<path class="o12" d="M122 73.5l1.5.3.7.7-1.5-.7z"/>
<path class="o10" d="M53.1 71.9l1.4-.3.5 1.9-1.4.2z"/>
<path class="o12" d="M54.5 71.6l1.5-1.7.5 2.2-1.5 1.4z"/>
<path class="o16" d="M56 69.9l1.4-2 .5 2.9-1.4 1.3z"/>
<path class="o20" d="M57.4 67.9l1.5-1.6.5 3.5-1.5 1z"/>
<path class="o22" d="M58.9 66.3l1.4-.9.6 3.9-1.5.5z"/>
<path class="o23" d="M60.3 65.4l1.5-.1 1.5.6.5 3.5-1.5-.2-1.4.1z"/>
<path class="o22" d="M63.3 65.9l1.5.8.5 2.9-1.5-.2z"/>
<path class="o21" d="M64.8 66.7l1.4 1 .6 2-1.5-.1z"/>
<path class="o20" d="M66.2 67.7l1.5.8.5.5-1.4.7z"/>
<path class="o21" d="M67.7 68.5l1.5.3.5-.7-1.5.9z"/>
<path class="o22" d="M69.2 68.8l1.5-.8.5-.6-1.5.7z"/>
<path class="o23" d="M70.7 68l1.4-.6.6-.7-1.5.7z"/>
<path class="o25" d="M72.1 67.4l1.5-.5 1.5-.4.5-.6-1.5.3-1.4.5z"/>
<path class="o26" d="M75.1 66.5l1.4-.3.6-.6-1.5.3z"/>
<path class="o27" d="M76.5 66.2l1.5-.1 1.5-.1 1.5 0 1.5.1.5-.3-1.5-.2-1.4-.1-1.5 0-1.5.1z"/>
<path class="o26" d="M82.5 66.1l1.4.3 1.5.3.6 0-1.5-.5-1.5-.4z"/>
<path class="o25" d="M85.4 66.7l1.5.4.6.2-1.5-.6z"/>
<path class="o24" d="M86.9 67.1l1.5.6.6.3-1.5-.7z"/>
<path class="o23" d="M88.4 67.7l1.5.7.6.5-1.5-.9z"/>
<path class="o21" d="M89.9 68.4l1.5.8.6.6-1.5-.9z"/>
<path class="o20" d="M91.4 69.2l1.4.5 1.5-.6 1.5-.8.6 2.3-1.5.1-1.4 0-1.5-.9z"/>
<path class="o21" d="M95.8 68.3l1.5-.8.6 3-1.5.1z"/>
<path class="o22" d="M97.3 67.5l1.5-.7 1.5-.1.6 4.7-1.5-.7-1.5-.2z"/>
<path class="o21" d="M100.3 66.7l1.5.6.6 5.1-1.5-1z"/>
<path class="o19" d="M101.8 67.3l1.5 1.4.6 5.2-1.5-1.5z"/>
<path class="o16" d="M103.3 68.7l1.5 2 .6 4.7-1.5-1.5z"/>
<path class="o12" d="M104.8 70.7l1.4 2.1.7 2.9-1.5-.3z"/>
<path class="o11" d="M106.2 72.8l1.5 1.1.7.7-1.5 1.1z"/>
<path class="o13" d="M107.7 73.9l1.5-.1.7-1.7-1.5 2.5z"/>
<path class="o17" d="M109.2 73.8l1.5-1.3.7-3.4-1.5 3z"/>
<path class="o22" d="M110.7 72.5l1.5-2.5.7-4.1-1.5 3.2z"/>
<path class="o27" d="M112.2 70l1.5-2.3.7-4.5-1.5 2.7z"/>
<path class="o31" d="M113.7 67.7l1.5-1.5.7-4.1-1.5 1.1z"/>
<path class="o32" d="M115.2 66.2l1.5-.3.8-2.6-1.6-1.2z"/>
<path class="o30" d="M116.7 65.9l1.5 1.1.7-.8-1.4-2.9z"/>
<path class="o26" d="M118.2 67l1.5 2 .7.4-1.5-3.2z"/>
<path class="o20" d="M119.7 69l1.5 2.6.7 1-1.5-3.2z"/>
<path class="o15" d="M121.2 71.6l1.5 2.2.7 1.4-1.5-2.6z"/>
<path class="o11" d="M122.7 73.8l1.5.7.7 1.9-1.5-1.2z"/>
<path class="o6" d="M53.6 73.7l1.4-.2.5 1.8-1.4.6z"/>
<path class="o9" d="M55 73.5l1.5-1.4.5 2.3-1.5.9z"/>
<path class="o12" d="M56.5 72.1l1.4-1.3.6 2.8-1.5.8z"/>
<path class="o14" d="M57.9 70.8l1.5-1 .5 3.1-1.4.7z"/>
<path class="o16" d="M59.4 69.8l1.5-.5.5 3.2-1.5.4z"/>
<path class="o17" d="M60.9 69.3l1.4-.1 1.5.2.5 2.2-1.4.5-1.5.4z"/>
<path class="o18" d="M63.8 69.4l1.5.2.5 1-1.5 1z"/>
<path class="o19" d="M65.3 69.6l1.5.1.5-.2-1.5 1.1z"/>
<path class="o21" d="M66.8 69.7l1.4-.7.6-.4-1.5.9z"/>
<path class="o22" d="M68.2 69l1.5-.9.5-.4-1.4.9z"/>
<path class="o24" d="M69.7 68.1l1.5-.7.5-.4-1.5.7z"/>
<path class="o25" d="M71.2 67.4l1.5-.7.5-.3-1.5.6z"/>
<path class="o27" d="M72.7 66.7l1.4-.5 1.5-.3.6-.3-1.5.3-1.5.5z"/>
<path class="o28" d="M75.6 65.9l1.5-.3 1.5-.1.5-.2-1.5.1-1.4.2z"/>
<path class="o29" d="M78.6 65.5l1.5 0 .5-.1-1.5-.1z"/>
<path class="o28" d="M80.1 65.5l1.4.1 1.5.2 1.5.4.6.3-1.5-.5-1.5-.4-1.5-.2z"/>
<path class="o27" d="M84.5 66.2l1.5.5.6.5-1.5-.7z"/>
<path class="o26" d="M86 66.7l1.5.6.6.7-1.5-.8z"/>
<path class="o24" d="M87.5 67.3l1.5.7.6.9-1.5-.9z"/>
<path class="o23" d="M89 68l1.5.9.6 1-1.5-1z"/>
<path class="o21" d="M90.5 68.9l1.5.9.6 1.2-1.5-1.1z"/>
<path class="o19" d="M92 69.8l1.5.9.6 1.5-1.5-1.2z"/>
<path class="o17" d="M93.5 70.7l1.4 0 1.5-.1 1.5-.1.7 3.6-1.5-.5-1.5-.5-1.5-.9z"/>
<path class="o16" d="M97.9 70.5l1.5.2.7 4.1-1.5-.7z"/>
<path class="o15" d="M99.4 70.7l1.5.7.7 4.2-1.5-.8z"/>
<path class="o13" d="M100.9 71.4l1.5 1 .6 4.3-1.4-1.1z"/>
<path class="o10" d="M102.4 72.4l1.5 1.5.6 3.8-1.5-1z"/>
<path class="o7" d="M103.9 73.9l1.5 1.5.6 2-1.5.3z"/>
<path class="o8" d="M105.4 75.4l1.5.3.7-.4-1.6 2.1z"/>
<path class="o12" d="M106.9 75.7l1.5-1.1.7-2-1.5 2.7z"/>
<path class="o18" d="M108.4 74.6l1.5-2.5.7-2.7-1.5 3.2z"/>
<path class="o24" d="M109.9 72.1l1.5-3 .7-3.2-1.5 3.5z"/>
<path class="o30" d="M111.4 69.1l1.5-3.2.7-3.5-1.5 3.5z"/>
<path class="o35" d="M112.9 65.9l1.5-2.7.7-3.2-1.5 2.4z"/>
<path class="o37" d="M114.4 63.2l1.5-1.1.7-1-1.5-1.1z"/>
<path class="o35" d="M115.9 62.1l1.6 1.2.6 1-1.5-3.2z"/>
<path class="o31" d="M117.5 63.3l1.4 2.9.7 1.7-1.5-3.6z"/>
<path class="o25" d="M118.9 66.2l1.5 3.2.7 2-1.5-3.5z"/>
<path class="o19" d="M120.4 69.4l1.5 3.2.7 2-1.5-3.2z"/>
<path class="o13" d="M121.9 72.6l1.5 2.6.7 2-1.5-2.6z"/>
<path class="o7" d="M123.4 75.2l1.5 1.2.7 2.2-1.5-1.4z"/>
<path class="o3" d="M54.1 75.9l1.4-.6.5.9-1.5.2z"/>
<path class="o6" d="M55.5 75.3l1.5-.9.5 1.4-1.5.4z"/>
<path class="o8" d="M57 74.4l1.5-.8.5 1.6-1.5.6z"/>
<path class="o10" d="M58.5 73.6l1.4-.7.5 1.5-1.4.8z"/>
<path class="o12" d="M59.9 72.9l1.5-.4.5 1-1.5.9z"/>
<path class="o14" d="M61.4 72.5l1.5-.4.5.4-1.5 1z"/>
<path class="o16" d="M62.9 72.1l1.4-.5.5-.1-1.4 1z"/>
<path class="o18" d="M64.3 71.6l1.5-1 .5-.2-1.5 1.1z"/>
<path class="o20" d="M65.8 70.6l1.5-1.1.5-.1-1.5 1z"/>
<path class="o22" d="M67.3 69.5l1.5-.9.5-.1-1.5.9z"/>
<path class="o24" d="M68.8 68.6l1.4-.9.6-.1-1.5.9z"/>
<path class="o26" d="M70.2 67.7l1.5-.7.5-.1-1.4.7z"/>
<path class="o27" d="M71.7 67l1.5-.6.5-.1-1.5.6z"/>
<path class="o28" d="M73.2 66.4l1.5-.5.5 0-1.5.4z"/>
<path class="o29" d="M74.7 65.9l1.5-.3 1.4-.2 1.5-.1 1.5.1 1.5.2 1.5.4.6.7-1.5-.6-1.5-.3-1.5-.3-1.5 0-1.5.1-1.5.3z"/>
<path class="o28" d="M83.6 66l1.5.5.6.9-1.5-.7z"/>
<path class="o27" d="M85.1 66.5l1.5.7.6 1-1.5-.8z"/>
<path class="o25" d="M86.6 67.2l1.5.8.6 1.2-1.5-1z"/>
<path class="o24" d="M88.1 68l1.5.9.6 1.3-1.5-1z"/>
<path class="o22" d="M89.6 68.9l1.5 1 .6 1.5-1.5-1.2z"/>
<path class="o19" d="M91.1 69.9l1.5 1.1.6 1.6-1.5-1.2z"/>
<path class="o17" d="M92.6 71l1.5 1.2.6 1.5-1.5-1.1z"/>
<path class="o15" d="M94.1 72.2l1.5.9.6 1.7-1.5-1.1z"/>
<path class="o13" d="M95.6 73.1l1.5.5.6 2.2-1.5-1z"/>
<path class="o11" d="M97.1 73.6l1.5.5.6 2.6-1.5-.9z"/>
<path class="o9" d="M98.6 74.1l1.5.7.6 2.7-1.5-.8z"/>
<path class="o8" d="M100.1 74.8l1.5.8.6 2.4-1.5-.5z"/>
<path class="o6" d="M101.6 75.6l1.4 1.1.7 1.6-1.5-.3z"/>
<path class="o4" d="M103 76.7l1.5 1 .7.4-1.5.2z"/>
<path class="o5" d="M104.5 77.7l1.5-.3.7-1-1.5 1.7z"/>
<path class="o10" d="M106 77.4l1.6-2.1.6-1.4-1.5 2.5z"/>
<path class="o17" d="M107.6 75.3l1.5-2.7.6-1.7-1.5 3z"/>
<path class="o23" d="M109.1 72.6l1.5-3.2.7-1.6-1.6 3.1z"/>
<path class="o29" d="M110.6 69.4l1.5-3.5.7-1-1.5 2.9z"/>
<path class="o34" d="M112.1 65.9l1.5-3.5.7.6-1.5 1.9z"/>
<path class="o37" d="M113.6 62.4l1.5-2.4 1.5 1.1.7 4-1.5-2.1-1.5 0z"/>
<path class="o33" d="M116.6 61.1l1.5 3.2.7 3.8-1.5-3z"/>
<path class="o28" d="M118.1 64.3l1.5 3.6.7 3.4-1.5-3.2z"/>
<path class="o21" d="M119.6 67.9l1.5 3.5.7 3-1.5-3.1z"/>
<path class="o15" d="M121.1 71.4l1.5 3.2.7 2.4-1.5-2.6z"/>
<path class="o9" d="M122.6 74.6l1.5 2.6.7 1.7-1.5-1.9z"/>
<path class="o4" d="M124.1 77.2l1.5 1.4.8.6-1.6-.3z"/>
<path class="o4" d="M54.5 76.4l1.5-.2.5.1-1.5.2z"/>
<path class="o6" d="M56 76.2l1.5-.4.5.1-1.5.4z"/>
<path class="o7" d="M57.5 75.8l1.5-.6.4.1-1.4.6z"/>
<path class="o9" d="M59 75.2l1.4-.8.5.1-1.5.8z"/>
<path class="o12" d="M60.4 74.4l1.5-.9.5.1-1.5.9z"/>
<path class="o14" d="M61.9 73.5l1.5-1 .5.2-1.5.9z"/>
<path class="o17" d="M63.4 72.5l1.4-1 .6.1-1.5 1.1z"/>
<path class="o19" d="M64.8 71.5l1.5-1.1.5.2-1.4 1z"/>
<path class="o21" d="M66.3 70.4l1.5-1 .5.2-1.5 1z"/>
<path class="o23" d="M67.8 69.4l1.5-.9.5.1-1.5 1z"/>
<path class="o25" d="M69.3 68.5l1.5-.9.5.2-1.5.8z"/>
<path class="o27" d="M70.8 67.6l1.4-.7.6.2-1.5.7z"/>
<path class="o28" d="M72.2 66.9l1.5-.6.6.2-1.5.6z"/>
<path class="o29" d="M73.7 66.3l1.5-.4 1.5-.3.6.4-1.5.2-1.5.3z"/>
<path class="o30" d="M76.7 65.6l1.5-.1 1.5 0 1.5.3.6.8-1.5-.4-1.5-.2-1.5 0z"/>
<path class="o29" d="M81.2 65.8l1.5.3.6 1.1-1.5-.6z"/>
<path class="o28" d="M82.7 66.1l1.5.6.6 1.2-1.5-.7z"/>
<path class="o27" d="M84.2 66.7l1.5.7.6 1.4-1.5-.9z"/>
<path class="o25" d="M85.7 67.4l1.5.8.6 1.6-1.5-1z"/>
<path class="o24" d="M87.2 68.2l1.5 1 .6 1.7-1.5-1.1z"/>
<path class="o22" d="M88.7 69.2l1.5 1 .6 1.8-1.5-1.1z"/>
<path class="o20" d="M90.2 70.2l1.5 1.2.6 1.8-1.5-1.2z"/>
<path class="o17" d="M91.7 71.4l1.5 1.2.6 1.7-1.5-1.1z"/>
<path class="o15" d="M93.2 72.6l1.5 1.1.6 1.7-1.5-1.1z"/>
<path class="o12" d="M94.7 73.7l1.5 1.1.6 1.5-1.5-.9z"/>
<path class="o10" d="M96.2 74.8l1.5 1 .6 1.3-1.5-.8z"/>
<path class="o8" d="M97.7 75.8l1.5.9.6 1-1.5-.6z"/>
<path class="o6" d="M99.2 76.7l1.5.8.6.7-1.5-.5z"/>
<path class="o5" d="M100.7 77.5l1.5.5.6.4-1.5-.2z"/>
<path class="o4" d="M102.2 78l1.5.3.6.2-1.5-.1z"/>
<path class="o5" d="M103.7 78.3l1.5-.2.7-.5-1.6.9z"/>
<path class="o9" d="M105.2 78.1l1.5-1.7.7-.9-1.5 2.1z"/>
<path class="o14" d="M106.7 76.4l1.5-2.5.7-.8-1.5 2.4z"/>
<path class="o20" d="M108.2 73.9l1.5-3 .7-.3-1.5 2.5z"/>
<path class="o25" d="M109.7 70.9l1.6-3.1.6.6-1.5 2.2z"/>
<path class="o30" d="M111.3 67.8l1.5-2.9.7 2-1.6 1.5z"/>
<path class="o33" d="M112.8 64.9l1.5-1.9 1.5 0 .7 4.7-1.5-1.1-1.5.3z"/>
<path class="o31" d="M115.8 63l1.5 2.1.7 4.6-1.5-2z"/>
<path class="o27" d="M117.3 65.1l1.5 3 .7 4.1-1.5-2.5z"/>
<path class="o22" d="M118.8 68.1l1.5 3.2.7 3.5-1.5-2.6z"/>
<path class="o16" d="M120.3 71.3l1.5 3.1.7 2.8-1.5-2.4z"/>
<path class="o10" d="M121.8 74.4l1.5 2.6.7 2-1.5-1.8z"/>
<path class="o6" d="M123.3 77l1.5 1.9.8.4-1.6-.3z"/>
<path class="o4" d="M124.8 78.9l1.6.3.7.1-1.5 0z"/>
<path class="o6" d="M55 76.5l1.5-.2.5.2-1.5.2z"/>
<path class="o7" d="M56.5 76.3l1.5-.4.5.2-1.5.4z"/>
<path class="o9" d="M58 75.9l1.4-.6.5.3-1.4.5z"/>
<path class="o11" d="M59.4 75.3l1.5-.8.5.3-1.5.8z"/>
<path class="o13" d="M60.9 74.5l1.5-.9.5.4-1.5.8z"/>
<path class="o15" d="M62.4 73.6l1.5-.9.5.3-1.5 1z"/>
<path class="o18" d="M63.9 72.7l1.5-1.1.5.3-1.5 1.1z"/>
<path class="o20" d="M65.4 71.6l1.4-1 .6.3-1.5 1z"/>
<path class="o22" d="M66.8 70.6l1.5-1 .6.3-1.5 1z"/>
<path class="o24" d="M68.3 69.6l1.5-1 .5.4-1.4.9z"/>
<path class="o26" d="M69.8 68.6l1.5-.8.5.4-1.5.8z"/>
<path class="o27" d="M71.3 67.8l1.5-.7.5.5-1.5.6z"/>
<path class="o28" d="M72.8 67.1l1.5-.6.5.6-1.5.5z"/>
<path class="o29" d="M74.3 66.5l1.5-.3.5.6-1.5.3z"/>
<path class="o30" d="M75.8 66.2l1.5-.2 1.5 0 .5.9-1.5-.1-1.5 0z"/>
<path class="o29" d="M78.8 66l1.5.2 1.5.4.5 1.3-1.5-.6-1.5-.4z"/>
<path class="o28" d="M81.8 66.6l1.5.6.6 1.4-1.6-.7z"/>
<path class="o27" d="M83.3 67.2l1.5.7.6 1.6-1.5-.9z"/>
<path class="o25" d="M84.8 67.9l1.5.9.6 1.8-1.5-1.1z"/>
<path class="o23" d="M86.3 68.8l1.5 1 .6 1.9-1.5-1.1z"/>
<path class="o21" d="M87.8 69.8l1.5 1.1.6 1.9-1.5-1.1z"/>
<path class="o19" d="M89.3 70.9l1.5 1.1.6 2-1.5-1.2z"/>
<path class="o17" d="M90.8 72l1.5 1.2.6 1.9-1.5-1.1z"/>
<path class="o15" d="M92.3 73.2l1.5 1.1.6 1.8-1.5-1z"/>
<path class="o12" d="M93.8 74.3l1.5 1.1.6 1.6-1.5-.9z"/>
<path class="o10" d="M95.3 75.4l1.5.9.6 1.3-1.5-.6z"/>
<path class="o8" d="M96.8 76.3l1.5.8.6 1-1.5-.5z"/>
<path class="o7" d="M98.3 77.1l1.5.6.7.7-1.6-.3z"/>
<path class="o6" d="M99.8 77.7l1.5.5 1.5.2 1.5.1.7-.3-1.5.2-1.5.1-1.5-.1z"/>
<path class="o8" d="M104.3 78.5l1.6-.9.6-.5-1.5 1.1z"/>
<path class="o12" d="M105.9 77.6l1.5-2.1.6-.2-1.5 1.8z"/>
<path class="o17" d="M107.4 75.5l1.5-2.4.7.2-1.6 2z"/>
<path class="o21" d="M108.9 73.1l1.5-2.5.7 1-1.5 1.7z"/>
<path class="o25" d="M110.4 70.6l1.5-2.2.7 2-1.5 1.2z"/>
<path class="o28" d="M111.9 68.4l1.6-1.5 1.5-.3.7 3.9-1.6-.5-1.5.4z"/>
<path class="o27" d="M115 66.6l1.5 1.1.7 4.1-1.5-1.3z"/>
<path class="o25" d="M116.5 67.7l1.5 2 .7 4-1.5-1.9z"/>
<path class="o21" d="M118 69.7l1.5 2.5.7 3.5-1.5-2z"/>
<path class="o16" d="M119.5 72.2l1.5 2.6.7 2.9-1.5-2z"/>
<path class="o11" d="M121 74.8l1.5 2.4.7 1.7-1.5-1.2z"/>
<path class="o8" d="M122.5 77.2l1.5 1.8.8.2-1.6-.3z"/>
<path class="o6" d="M124 79l1.6.3.7.1-1.5-.2z"/>
<path class="o5" d="M125.6 79.3l1.5 0 .7.2-1.5-.1z"/>
<path class="o7" d="M55.5 76.7l1.5-.2.5.4-1.5.1z"/>
<path class="o8" d="M57 76.5l1.5-.4.5.5-1.5.3z"/>
<path class="o9" d="M58.5 76.1l1.4-.5.6.4-1.5.6z"/>
<path class="o11" d="M59.9 75.6l1.5-.8.5.5-1.4.7z"/>
<path class="o13" d="M61.4 74.8l1.5-.8.5.4-1.5.9z"/>
<path class="o16" d="M62.9 74l1.5-1 .5.5-1.5.9z"/>
<path class="o18" d="M64.4 73l1.5-1.1.5.5-1.5 1.1z"/>
<path class="o20" d="M65.9 71.9l1.5-1 .5.5-1.5 1z"/>
<path class="o22" d="M67.4 70.9l1.5-1 .5.5-1.5 1z"/>
<path class="o24" d="M68.9 69.9l1.4-.9.6.6-1.5.8z"/>
<path class="o26" d="M70.3 69l1.5-.8.6.6-1.5.8z"/>
<path class="o27" d="M71.8 68.2l1.5-.6.6.7-1.5.5z"/>
<path class="o28" d="M73.3 67.6l1.5-.5.6.9-1.5.3z"/>
<path class="o29" d="M74.8 67.1l1.5-.3 1.5 0 1.5.1.6 1.4-1.5-.4-1.5-.1-1.5.2z"/>
<path class="o28" d="M79.3 66.9l1.5.4.6 1.5-1.5-.5z"/>
<path class="o27" d="M80.8 67.3l1.5.6.6 1.7-1.5-.8z"/>
<path class="o26" d="M82.3 67.9l1.6.7.5 1.9-1.5-.9z"/>
<path class="o25" d="M83.9 68.6l1.5.9.6 2.1-1.6-1.1z"/>
<path class="o23" d="M85.4 69.5l1.5 1.1.6 2.1-1.5-1.1z"/>
<path class="o21" d="M86.9 70.6l1.5 1.1.6 2.1-1.5-1.1z"/>
<path class="o19" d="M88.4 71.7l1.5 1.1.6 2.2-1.5-1.2z"/>
<path class="o16" d="M89.9 72.8l1.5 1.2.6 2-1.5-1z"/>
<path class="o14" d="M91.4 74l1.5 1.1.6 1.8-1.5-.9z"/>
<path class="o12" d="M92.9 75.1l1.5 1 .6 1.6-1.5-.8z"/>
<path class="o10" d="M94.4 76.1l1.5.9.7 1.2-1.6-.5z"/>
<path class="o8" d="M95.9 77l1.5.6.7 1-1.5-.4z"/>
<path class="o7" d="M97.4 77.6l1.5.5 1.6.3 1.5.1.6-.1-1.5.2-1.5.1-1.5-.1z"/>
<path class="o8" d="M102 78.5l1.5-.1.6-.4-1.5.4z"/>
<path class="o9" d="M103.5 78.4l1.5-.2.7-.7-1.6.5z"/>
<path class="o11" d="M105 78.2l1.5-1.1.7-.3-1.5.7z"/>
<path class="o14" d="M106.5 77.1l1.5-1.8.7.2-1.5 1.3z"/>
<path class="o17" d="M108 75.3l1.6-2 .6.9-1.5 1.3z"/>
<path class="o21" d="M109.6 73.3l1.5-1.7.7 1.6-1.6 1z"/>
<path class="o23" d="M111.1 71.6l1.5-1.2.7 2.4-1.5.4z"/>
<path class="o24" d="M112.6 70.4l1.5-.4.7 3-1.5-.2z"/>
<path class="o23" d="M114.1 70l1.6.5.6 3.3-1.5-.8z"/>
<path class="o22" d="M115.7 70.5l1.5 1.3.7 3.3-1.6-1.3z"/>
<path class="o19" d="M117.2 71.8l1.5 1.9.7 2.9-1.5-1.5z"/>
<path class="o15" d="M118.7 73.7l1.5 2 .7 2.1-1.5-1.2z"/>
<path class="o12" d="M120.2 75.7l1.5 2 .7.7-1.5-.6z"/>
<path class="o9" d="M121.7 77.7l1.5 1.2.8.1-1.6-.6z"/>
<path class="o8" d="M123.2 78.9l1.6.3.7.2-1.5-.4z"/>
<path class="o7" d="M124.8 79.2l1.5.2 1.5.1.8.3-1.6-.1-1.5-.3z"/>
<path class="o8" d="M56 77l1.5-.1 1.5-.3.5.5-1.5.3-1.5.1z"/>
<path class="o10" d="M59 76.6l1.5-.6.5.6-1.5.5z"/>
<path class="o12" d="M60.5 76l1.4-.7.6.6-1.5.7z"/>
<path class="o14" d="M61.9 75.3l1.5-.9.5.6-1.4.9z"/>
<path class="o16" d="M63.4 74.4l1.5-.9.5.6-1.5.9z"/>
<path class="o18" d="M64.9 73.5l1.5-1.1.5.6-1.5 1.1z"/>
<path class="o20" d="M66.4 72.4l1.5-1 .5.7-1.5.9z"/>
<path class="o22" d="M67.9 71.4l1.5-1 .5.7-1.5 1z"/>
<path class="o24" d="M69.4 70.4l1.5-.8.5.7-1.5.8z"/>
<path class="o26" d="M70.9 69.6l1.5-.8.5.9-1.5.6z"/>
<path class="o27" d="M72.4 68.8l1.5-.5.5 1-1.5.4z"/>
<path class="o28" d="M73.9 68.3l1.5-.3 1.5-.2 1.5.1.6 1.6-1.5-.3-1.5-.1-1.6.2z"/>
<path class="o27" d="M78.4 67.9l1.5.4 1.5.5.6 1.9-1.5-.7-1.5-.5z"/>
<path class="o25" d="M81.4 68.8l1.5.8.6 2-1.5-.9z"/>
<path class="o24" d="M82.9 69.6l1.5.9.6 2.2-1.5-1.1z"/>
<path class="o22" d="M84.4 70.5l1.6 1.1.6 2.2-1.6-1.1z"/>
<path class="o20" d="M86 71.6l1.5 1.1.6 2.2-1.5-1.1z"/>
<path class="o18" d="M87.5 72.7l1.5 1.1.6 2.2-1.5-1.1z"/>
<path class="o15" d="M89 73.8l1.5 1.2.6 2-1.5-1z"/>
<path class="o13" d="M90.5 75l1.5 1 .6 1.8-1.5-.8z"/>
<path class="o11" d="M92 76l1.5.9.6 1.6-1.5-.7z"/>
<path class="o10" d="M93.5 76.9l1.5.8.7 1.2-1.6-.4z"/>
<path class="o8" d="M95 77.7l1.6.5 1.5.4 1.5.1 1.5-.1.7-.2-1.6.4-1.5.3-1.5 0-1.5-.2z"/>
<path class="o9" d="M101.1 78.6l1.5-.2.7-.5-1.5.5z"/>
<path class="o11" d="M102.6 78.4l1.5-.4.7-.8-1.5.7z"/>
<path class="o12" d="M104.1 78l1.6-.5.6-.9-1.5.6z"/>
<path class="o14" d="M105.7 77.5l1.5-.7.7-.8-1.6.6z"/>
<path class="o16" d="M107.2 76.8l1.5-1.3.7 0-1.5.5z"/>
<path class="o18" d="M108.7 75.5l1.5-1.3.7.7-1.5.6z"/>
<path class="o20" d="M110.2 74.2l1.6-1 .6 1.4-1.5.3z"/>
<path class="o21" d="M111.8 73.2l1.5-.4 1.5.2.7 2.1-1.5-.4-1.6-.1z"/>
<path class="o20" d="M114.8 73l1.5.8.7 2-1.5-.7z"/>
<path class="o18" d="M116.3 73.8l1.6 1.3.7 1.3-1.6-.6z"/>
<path class="o16" d="M117.9 75.1l1.5 1.5.7.5-1.5-.7z"/>
<path class="o14" d="M119.4 76.6l1.5 1.2.7.1-1.5-.8z"/>
<path class="o12" d="M120.9 77.8l1.5.6.8.2-1.6-.7z"/>
<path class="o10" d="M122.4 78.4l1.6.6.7.3-1.5-.7z"/>
<path class="o9" d="M124 79l1.5.4.7.4-1.5-.5z"/>
<path class="o8" d="M125.5 79.4l1.5.3.8.5-1.6-.4z"/>
<path class="o7" d="M127 79.7l1.6.1.7.5-1.5-.1z"/>
<path class="o8" d="M56.5 77.5l1.5-.1.5.7-1.5 0z"/>
<path class="o9" d="M58 77.4l1.5-.3.5.7-1.5.3z"/>
<path class="o10" d="M59.5 77.1l1.5-.5.5.6-1.5.6z"/>
<path class="o12" d="M61 76.6l1.5-.7.5.6-1.5.7z"/>
<path class="o14" d="M62.5 75.9l1.4-.9.6.7-1.5.8z"/>
<path class="o16" d="M63.9 75l1.5-.9.6.6-1.5 1z"/>
<path class="o18" d="M65.4 74.1l1.5-1.1.6.8-1.5.9z"/>
<path class="o20" d="M66.9 73l1.5-.9.6.7-1.5 1z"/>
<path class="o22" d="M68.4 72.1l1.5-1 .6.9-1.5.8z"/>
<path class="o24" d="M69.9 71.1l1.5-.8.6 1-1.5.7z"/>
<path class="o25" d="M71.4 70.3l1.5-.6.6 1.2-1.5.4z"/>
<path class="o26" d="M72.9 69.7l1.5-.4 1.6-.2.5 1.5-1.5 0-1.5.3z"/>
<path class="o27" d="M76 69.1l1.5.1.5 1.7-1.5-.3z"/>
<path class="o26" d="M77.5 69.2l1.5.3.6 1.8-1.6-.4z"/>
<path class="o25" d="M79 69.5l1.5.5.6 2-1.5-.7z"/>
<path class="o24" d="M80.5 70l1.5.7.6 2.2-1.5-.9z"/>
<path class="o23" d="M82 70.7l1.5.9.6 2.3-1.5-1z"/>
<path class="o21" d="M83.5 71.6l1.5 1.1.6 2.3-1.5-1.1z"/>
<path class="o19" d="M85 72.7l1.6 1.1.6 2.2-1.6-1z"/>
<path class="o16" d="M86.6 73.8l1.5 1.1.6 2.2-1.5-1.1z"/>
<path class="o14" d="M88.1 74.9l1.5 1.1.6 2-1.5-.9z"/>
<path class="o12" d="M89.6 76l1.5 1 .6 1.7-1.5-.7z"/>
<path class="o10" d="M91.1 77l1.5.8.6 1.5-1.5-.6z"/>
<path class="o9" d="M92.6 77.8l1.5.7.7 1.1-1.6-.3z"/>
<path class="o8" d="M94.1 78.5l1.6.4 1.5.2 1.5 0 .6 0-1.5.4-1.5.1-1.5 0z"/>
<path class="o9" d="M98.7 79.1l1.5-.3.7-.3-1.6.6z"/>
<path class="o11" d="M100.2 78.8l1.6-.4.6-.6-1.5.7z"/>
<path class="o12" d="M101.8 78.4l1.5-.5.6-.9-1.5.8z"/>
<path class="o14" d="M103.3 77.9l1.5-.7.7-1-1.6.8z"/>
<path class="o16" d="M104.8 77.2l1.5-.6.7-1.1-1.5.7z"/>
<path class="o17" d="M106.3 76.6l1.6-.6.6-1.1-1.5.6z"/>
<path class="o19" d="M107.9 76l1.5-.5.7-1-1.6.4z"/>
<path class="o20" d="M109.4 75.5l1.5-.6 1.5-.3 1.6.1 1.5.4.7-.1-1.5-.5-1.6-.2-1.5 0-1.5.2z"/>
<path class="o19" d="M115.5 75.1l1.5.7.8-.2-1.6-.6z"/>
<path class="o18" d="M117 75.8l1.6.6.7 0-1.5-.8z"/>
<path class="o16" d="M118.6 76.4l1.5.7.7.1-1.5-.8z"/>
<path class="o15" d="M120.1 77.1l1.5.8.8.2-1.6-.9z"/>
<path class="o13" d="M121.6 77.9l1.6.7.7.4-1.5-.9z"/>
<path class="o11" d="M123.2 78.6l1.5.7.7.5-1.5-.8z"/>
<path class="o10" d="M124.7 79.3l1.5.5.8.6-1.6-.6z"/>
<path class="o8" d="M126.2 79.8l1.6.4 1.5.1.8.7-1.6-.2-1.5-.4z"/>
<path class="o8" d="M57 78.1l1.5 0 .5.6-1.5.1z"/>
<path class="o9" d="M58.5 78.1l1.5-.3.5.6-1.5.3z"/>
<path class="o10" d="M60 77.8l1.5-.6.5.7-1.5.5z"/>
<path class="o12" d="M61.5 77.2l1.5-.7.5.7-1.5.7z"/>
<path class="o14" d="M63 76.5l1.5-.8.5.7-1.5.8z"/>
<path class="o16" d="M64.5 75.7l1.5-1 .5.8-1.5.9z"/>
<path class="o18" d="M66 74.7l1.5-.9.5.8-1.5.9z"/>
<path class="o20" d="M67.5 73.8l1.5-1 .5 1-1.5.8z"/>
<path class="o22" d="M69 72.8l1.5-.8.5 1.1-1.5.7z"/>
<path class="o23" d="M70.5 72l1.5-.7.5 1.3-1.5.5z"/>
<path class="o24" d="M72 71.3l1.5-.4.6 1.4-1.6.3z"/>
<path class="o25" d="M73.5 70.9l1.5-.3 1.5 0 .6 1.8-1.5-.2-1.5.1z"/>
<path class="o24" d="M76.5 70.6l1.5.3 1.6.4.5 2.2-1.5-.7-1.5-.4z"/>
<path class="o23" d="M79.6 71.3l1.5.7.6 2.3-1.6-.8z"/>
<path class="o21" d="M81.1 72l1.5.9.6 2.3-1.5-.9z"/>
<path class="o19" d="M82.6 72.9l1.5 1 .6 2.3-1.5-1z"/>
<path class="o17" d="M84.1 73.9l1.5 1.1.6 2.2-1.5-1z"/>
<path class="o15" d="M85.6 75l1.6 1 .6 2.1-1.6-.9z"/>
<path class="o13" d="M87.2 76l1.5 1.1.6 1.8-1.5-.8z"/>
<path class="o11" d="M88.7 77.1l1.5.9.6 1.6-1.5-.7z"/>
<path class="o10" d="M90.2 78l1.5.7.6 1.3-1.5-.4z"/>
<path class="o9" d="M91.7 78.7l1.5.6.7.9-1.6-.2z"/>
<path class="o8" d="M93.2 79.3l1.6.3 1.5 0 .6.2-1.5.3-1.5.1z"/>
<path class="o9" d="M96.3 79.6l1.5-.1.7-.2-1.6.5z"/>
<path class="o10" d="M97.8 79.5l1.5-.4.7-.5-1.5.7z"/>
<path class="o12" d="M99.3 79.1l1.6-.6.6-.7-1.5.8z"/>
<path class="o14" d="M100.9 78.5l1.5-.7.7-.9-1.6.9z"/>
<path class="o16" d="M102.4 77.8l1.5-.8.7-1-1.5.9z"/>
<path class="o18" d="M103.9 77l1.6-.8.6-1-1.5.8z"/>
<path class="o19" d="M105.5 76.2l1.5-.7.7-1-1.6.7z"/>
<path class="o21" d="M107 75.5l1.5-.6.7-.9-1.5.5z"/>
<path class="o22" d="M108.5 74.9l1.6-.4 1.5-.2.7-.7-1.5.1-1.6.3z"/>
<path class="o23" d="M111.6 74.3l1.5 0 .7-.5-1.5-.2z"/>
<path class="o22" d="M113.1 74.3l1.6.2 1.5.5.7-.2-1.5-.6-1.6-.4z"/>
<path class="o20" d="M116.2 75l1.6.6.7.1-1.6-.9z"/>
<path class="o19" d="M117.8 75.6l1.5.8.7.2-1.5-.9z"/>
<path class="o17" d="M119.3 76.4l1.5.8.7.4-1.5-1z"/>
<path class="o15" d="M120.8 77.2l1.6.9.7.5-1.6-1z"/>
<path class="o13" d="M122.4 78.1l1.5.9.7.5-1.5-.9z"/>
<path class="o11" d="M123.9 79l1.5.8.8.6-1.6-.9z"/>
<path class="o10" d="M125.4 79.8l1.6.6.7.6-1.5-.6z"/>
<path class="o9" d="M127 80.4l1.5.4.8.6-1.6-.4z"/>
<path class="o8" d="M128.5 80.8l1.6.2.7.6-1.5-.2z"/>
<path class="o8" d="M57.5 78.8l1.5-.1.5.7-1.5 0z"/>
<path class="o9" d="M59 78.7l1.5-.3.5.7-1.5.3z"/>
<path class="o10" d="M60.5 78.4l1.5-.5.5.7-1.5.5z"/>
<path class="o11" d="M62 77.9l1.5-.7.5.7-1.5.7z"/>
<path class="o13" d="M63.5 77.2l1.5-.8.5.8-1.5.7z"/>
<path class="o15" d="M65 76.4l1.5-.9.5.9-1.5.8z"/>
<path class="o17" d="M66.5 75.5l1.5-.9.5 1.1-1.5.7z"/>
<path class="o19" d="M68 74.6l1.5-.8.6 1.2-1.6.7z"/>
<path class="o20" d="M69.5 73.8l1.5-.7.6 1.4-1.5.5z"/>
<path class="o22" d="M71 73.1l1.5-.5 1.6-.3.5 1.7-1.5.2-1.5.3z"/>
<path class="o23" d="M74.1 72.3l1.5-.1.5 2-1.5-.2z"/>
<path class="o22" d="M75.6 72.2l1.5.2 1.5.4.6 2.2-1.5-.5-1.6-.3z"/>
<path class="o21" d="M78.6 72.8l1.5.7.6 2.3-1.5-.8z"/>
<path class="o19" d="M80.1 73.5l1.6.8.6 2.3-1.6-.8z"/>
<path class="o18" d="M81.7 74.3l1.5.9.6 2.3-1.5-.9z"/>
<path class="o16" d="M83.2 75.2l1.5 1 .6 2.2-1.5-.9z"/>
<path class="o14" d="M84.7 76.2l1.5 1 .6 2-1.5-.8z"/>
<path class="o12" d="M86.2 77.2l1.6.9.6 1.8-1.6-.7z"/>
<path class="o10" d="M87.8 78.1l1.5.8.6 1.5-1.5-.5z"/>
<path class="o9" d="M89.3 78.9l1.5.7.6 1.1-1.5-.3z"/>
<path class="o8" d="M90.8 79.6l1.5.4 1.6.2.6.4-1.5.2-1.6-.1z"/>
<path class="o9" d="M93.9 80.2l1.5-.1.6 0-1.5.5z"/>
<path class="o10" d="M95.4 80.1l1.5-.3.7-.3-1.6.6z"/>
<path class="o11" d="M96.9 79.8l1.6-.5.6-.6-1.5.8z"/>
<path class="o13" d="M98.5 79.3l1.5-.7.6-.8-1.5.9z"/>
<path class="o15" d="M100 78.6l1.5-.8.7-1-1.6 1z"/>
<path class="o17" d="M101.5 77.8l1.6-.9.6-1-1.5.9z"/>
<path class="o19" d="M103.1 76.9l1.5-.9.7-1-1.6.9z"/>
<path class="o21" d="M104.6 76l1.5-.8.7-1-1.5.8z"/>
<path class="o23" d="M106.1 75.2l1.6-.7.7-.9-1.6.6z"/>
<path class="o24" d="M107.7 74.5l1.5-.5 1.6-.3.7-.6-1.6.2-1.5.3z"/>
<path class="o25" d="M110.8 73.7l1.5-.1 1.5.2.7-.2-1.5-.4-1.5-.1z"/>
<path class="o24" d="M113.8 73.8l1.6.4.7 0-1.6-.6z"/>
<path class="o23" d="M115.4 74.2l1.5.6.7.2-1.5-.8z"/>
<path class="o22" d="M116.9 74.8l1.6.9.7.3-1.6-1z"/>
<path class="o20" d="M118.5 75.7l1.5.9.7.4-1.5-1z"/>
<path class="o18" d="M120 76.6l1.5 1 .8.5-1.6-1.1z"/>
<path class="o16" d="M121.5 77.6l1.6 1 .7.6-1.5-1.1z"/>
<path class="o14" d="M123.1 78.6l1.5.9.8.7-1.6-1z"/>
<path class="o12" d="M124.6 79.5l1.6.9.7.6-1.5-.8z"/>
<path class="o10" d="M126.2 80.4l1.5.6.8.7-1.6-.7z"/>
<path class="o9" d="M127.7 81l1.6.4.7.7-1.5-.4z"/>
<path class="o8" d="M129.3 81.4l1.5.2.8.7-1.6-.2z"/>
<path class="o8" d="M58 79.4l1.5 0 1.5-.3.5.7-1.5.3-1.5 0z"/>
<path class="o10" d="M61 79.1l1.5-.5.5.8-1.5.4z"/>
<path class="o11" d="M62.5 78.6l1.5-.7.5 1-1.5.5z"/>
<path class="o13" d="M64 77.9l1.5-.7.6 1-1.6.7z"/>
<path class="o15" d="M65.5 77.2l1.5-.8.6 1.2-1.5.6z"/>
<path class="o16" d="M67 76.4l1.5-.7.6 1.3-1.5.6z"/>
<path class="o18" d="M68.5 75.7l1.6-.7.5 1.5-1.5.5z"/>
<path class="o19" d="M70.1 75l1.5-.5.5 1.4-1.5.6z"/>
<path class="o20" d="M71.6 74.5l1.5-.3 1.5-.2 1.5.2 1.6.3.6 2.3-1.6-.7-1.5-.4-1.5-.1-1.6.3z"/>
<path class="o19" d="M77.7 74.5l1.5.5.6 2.4-1.5-.6z"/>
<path class="o17" d="M79.2 75l1.5.8.6 2.3-1.5-.7z"/>
<path class="o16" d="M80.7 75.8l1.6.8.6 2.3-1.6-.8z"/>
<path class="o14" d="M82.3 76.6l1.5.9.6 2.1-1.5-.7z"/>
<path class="o12" d="M83.8 77.5l1.5.9.6 1.9-1.5-.7z"/>
<path class="o11" d="M85.3 78.4l1.5.8.7 1.7-1.6-.6z"/>
<path class="o9" d="M86.8 79.2l1.6.7.6 1.3-1.5-.3z"/>
<path class="o8" d="M88.4 79.9l1.5.5 1.5.3 1.6.1.6.2-1.5.3-1.6.1-1.5-.2z"/>
<path class="o9" d="M93 80.8l1.5-.2.6-.2-1.5.6z"/>
<path class="o10" d="M94.5 80.6l1.5-.5.7-.4-1.6.7z"/>
<path class="o12" d="M96 80.1l1.6-.6.6-.7-1.5.9z"/>
<path class="o14" d="M97.6 79.5l1.5-.8.7-.9-1.6 1z"/>
<path class="o16" d="M99.1 78.7l1.5-.9.7-1-1.5 1z"/>
<path class="o19" d="M100.6 77.8l1.6-1 .6-1-1.5 1z"/>
<path class="o21" d="M102.2 76.8l1.5-.9.7-1-1.6.9z"/>
<path class="o23" d="M103.7 75.9l1.6-.9.6-.9-1.5.8z"/>
<path class="o24" d="M105.3 75l1.5-.8.7-.8-1.6.7z"/>
<path class="o25" d="M106.8 74.2l1.6-.6.6-.6-1.5.4z"/>
<path class="o26" d="M108.4 73.6l1.5-.3.7-.5-1.6.2z"/>
<path class="o27" d="M109.9 73.3l1.6-.2.6-.2-1.5-.1z"/>
<path class="o26" d="M111.5 73.1l1.5.1 1.5.4.7.1-1.5-.5-1.6-.3z"/>
<path class="o25" d="M114.5 73.6l1.6.6.7.3-1.6-.8z"/>
<path class="o24" d="M116.1 74.2l1.5.8.8.4-1.6-.9z"/>
<path class="o22" d="M117.6 75l1.6 1 .7.4-1.5-1z"/>
<path class="o20" d="M119.2 76l1.5 1 .8.6-1.6-1.2z"/>
<path class="o18" d="M120.7 77l1.6 1.1.7.6-1.5-1.1z"/>
<path class="o16" d="M122.3 78.1l1.5 1.1.8.6-1.6-1.1z"/>
<path class="o14" d="M123.8 79.2l1.6 1 .7.6-1.5-1z"/>
<path class="o12" d="M125.4 80.2l1.5.8.8.7-1.6-.9z"/>
<path class="o10" d="M126.9 81l1.6.7.7.7-1.5-.7z"/>
<path class="o9" d="M128.5 81.7l1.5.4.8.7-1.6-.4z"/>
<path class="o8" d="M130 82.1l1.6.2.7.7-1.5-.2z"/>
<path class="o7" d="M58.5 80.1l1.5 0 .5.8-1.5 0z"/>
<path class="o8" d="M60 80.1l1.5-.3.5 1-1.5.1z"/>
<path class="o9" d="M61.5 79.8l1.5-.4.6 1-1.6.4z"/>
<path class="o10" d="M63 79.4l1.5-.5.6 1.1-1.5.4z"/>
<path class="o12" d="M64.5 78.9l1.6-.7.5 1.3-1.5.5z"/>
<path class="o14" d="M66.1 78.2l1.5-.6.5.8-1.5 1.1z"/>
<path class="o16" d="M67.6 77.6l1.5-.6.5 0-1.5 1.4z"/>
<path class="o18" d="M69.1 77l1.5-.5.6-.7-1.6 1.2z"/>
<path class="o20" d="M70.6 76.5l1.5-.6.6-.8-1.5.7z"/>
<path class="o21" d="M72.1 75.9l1.6-.3 1.5.1.6-.2-1.6-.5-1.5.1z"/>
<path class="o20" d="M75.2 75.7l1.5.4.6.5-1.5-1.1z"/>
<path class="o18" d="M76.7 76.1l1.6.7.5 1.3-1.5-1.5z"/>
<path class="o16" d="M78.3 76.8l1.5.6.6 2.1-1.6-1.4z"/>
<path class="o14" d="M79.8 77.4l1.5.7.6 2.3-1.5-.9z"/>
<path class="o12" d="M81.3 78.1l1.6.8.5 2.1-1.5-.6z"/>
<path class="o11" d="M82.9 78.9l1.5.7.6 1.9-1.6-.5z"/>
<path class="o9" d="M84.4 79.6l1.5.7.6 1.6-1.5-.4z"/>
<path class="o8" d="M85.9 80.3l1.6.6 1.5.3 1.5.2 1.6-.1.6.1-1.6.4-1.5.2-1.5.1-1.6-.2z"/>
<path class="o10" d="M92.1 81.3l1.5-.3.6-.3-1.5.7z"/>
<path class="o11" d="M93.6 81l1.5-.6.7-.5-1.6.8z"/>
<path class="o13" d="M95.1 80.4l1.6-.7.6-.8-1.5 1z"/>
<path class="o15" d="M96.7 79.7l1.5-.9.7-.9-1.6 1z"/>
<path class="o18" d="M98.2 78.8l1.6-1 .6-.9-1.5 1z"/>
<path class="o20" d="M99.8 77.8l1.5-1 .7-1-1.6 1.1z"/>
<path class="o22" d="M101.3 76.8l1.5-1 .7-.9-1.5.9z"/>
<path class="o24" d="M102.8 75.8l1.6-.9.7-.8-1.6.8z"/>
<path class="o25" d="M104.4 74.9l1.5-.8.7-.7-1.5.7z"/>
<path class="o27" d="M105.9 74.1l1.6-.7 1.5-.4.7-.3-1.5.2-1.6.5z"/>
<path class="o28" d="M109 73l1.6-.2 1.5.1 1.6.3.7.2-1.6-.5-1.5-.2-1.6 0z"/>
<path class="o27" d="M113.7 73.2l1.5.5.8.4-1.6-.7z"/>
<path class="o26" d="M115.2 73.7l1.6.8.7.5-1.5-.9z"/>
<path class="o24" d="M116.8 74.5l1.6.9.7.6-1.6-1z"/>
<path class="o22" d="M118.4 75.4l1.5 1 .7.7-1.5-1.1z"/>
<path class="o20" d="M119.9 76.4l1.6 1.2.7.6-1.6-1.1z"/>
<path class="o18" d="M121.5 77.6l1.5 1.1.7.7-1.5-1.2z"/>
<path class="o16" d="M123 78.7l1.6 1.1.7.7-1.6-1.1z"/>
<path class="o14" d="M124.6 79.8l1.5 1 .8.8-1.6-1.1z"/>
<path class="o12" d="M126.1 80.8l1.6.9.7.7-1.5-.8z"/>
<path class="o10" d="M127.7 81.7l1.5.7.8.7-1.6-.7z"/>
<path class="o8" d="M129.2 82.4l1.6.4 1.5.2.8.8-1.6-.2-1.5-.5z"/>
<path class="o7" d="M59 80.9l1.5 0 1.5-.1.6 1.1-1.6 0-1.5 0z"/>
<path class="o8" d="M62 80.8l1.6-.4.5 1.2-1.5.3z"/>
<path class="o9" d="M63.6 80.4l1.5-.4.5.5-1.5 1.1z"/>
<path class="o12" d="M65.1 80l1.5-.5.5-.8-1.5 1.8z"/>
<path class="o15" d="M66.6 79.5l1.5-1.1.5-1.7-1.5 2z"/>
<path class="o19" d="M68.1 78.4l1.5-1.4.6-2.1-1.6 1.8z"/>
<path class="o22" d="M69.6 77l1.6-1.2.5-2.1-1.5 1.2z"/>
<path class="o23" d="M71.2 75.8l1.5-.7.5-1.8-1.5.4z"/>
<path class="o24" d="M72.7 75.1l1.5-.1.6-1.2-1.6-.5z"/>
<path class="o23" d="M74.2 75l1.6.5.5-.3-1.5-1.4z"/>
<path class="o21" d="M75.8 75.5l1.5 1.1.6.4-1.6-1.8z"/>
<path class="o17" d="M77.3 76.6l1.5 1.5.6 1.1-1.5-2.2z"/>
<path class="o14" d="M78.8 78.1l1.6 1.4.6 1.6-1.6-1.9z"/>
<path class="o11" d="M80.4 79.5l1.5.9.6 1.9-1.5-1.2z"/>
<path class="o9" d="M81.9 80.4l1.5.6.7 1.7-1.6-.4z"/>
<path class="o8" d="M83.4 81l1.6.5.6 1.4-1.5-.2z"/>
<path class="o7" d="M85 81.5l1.5.4 1.6.2 1.5-.1.6.4-1.5.4-1.6.1-1.5 0z"/>
<path class="o8" d="M89.6 82l1.5-.2.7 0-1.6.6z"/>
<path class="o10" d="M91.1 81.8l1.6-.4.6-.3-1.5.7z"/>
<path class="o12" d="M92.7 81.4l1.5-.7.7-.5-1.6.9z"/>
<path class="o14" d="M94.2 80.7l1.6-.8.6-.8-1.5 1.1z"/>
<path class="o16" d="M95.8 79.9l1.5-1 .7-.8-1.6 1z"/>
<path class="o19" d="M97.3 78.9l1.6-1 .6-.9-1.5 1.1z"/>
<path class="o21" d="M98.9 77.9l1.5-1 .7-.9-1.6 1z"/>
<path class="o23" d="M100.4 76.9l1.6-1.1.6-.8-1.5 1z"/>
<path class="o25" d="M102 75.8l1.5-.9.7-.7-1.6.8z"/>
<path class="o26" d="M103.5 74.9l1.6-.8.6-.5-1.5.6z"/>
<path class="o27" d="M105.1 74.1l1.5-.7.7-.3-1.6.5z"/>
<path class="o28" d="M106.6 73.4l1.6-.5.7 0-1.6.2z"/>
<path class="o29" d="M108.2 72.9l1.5-.2 1.6 0 1.5.2.8.4-1.6-.3-1.6-.1-1.5 0z"/>
<path class="o28" d="M112.8 72.9l1.6.5.7.5-1.5-.6z"/>
<path class="o27" d="M114.4 73.4l1.6.7.7.6-1.6-.8z"/>
<path class="o26" d="M116 74.1l1.5.9.7.6-1.5-.9z"/>
<path class="o24" d="M117.5 75l1.6 1 .7.7-1.6-1.1z"/>
<path class="o22" d="M119.1 76l1.5 1.1.8.7-1.6-1.1z"/>
<path class="o20" d="M120.6 77.1l1.6 1.1.7.8-1.5-1.2z"/>
<path class="o18" d="M122.2 78.2l1.5 1.2.8.8-1.6-1.2z"/>
<path class="o16" d="M123.7 79.4l1.6 1.1.7.9-1.5-1.2z"/>
<path class="o13" d="M125.3 80.5l1.6 1.1.7.8-1.6-1z"/>
<path class="o11" d="M126.9 81.6l1.5.8.8.9-1.6-.9z"/>
<path class="o9" d="M128.4 82.4l1.6.7.7.9-1.5-.7z"/>
<path class="o8" d="M130 83.1l1.5.5.8.9-1.6-.5z"/>
<path class="o7" d="M131.5 83.6l1.6.2.8 1-1.6-.3z"/>
<path class="o5" d="M59.5 81.9l1.5 0 .6 1.2-1.6-.1z"/>
<path class="o6" d="M61 81.9l1.6 0 .5 1-1.5.2z"/>
<path class="o8" d="M62.6 81.9l1.5-.3.5-.3-1.5 1.6z"/>
<path class="o11" d="M64.1 81.6l1.5-1.1.5-1.6-1.5 2.4z"/>
<path class="o16" d="M65.6 80.5l1.5-1.8.6-2.3-1.6 2.5z"/>
<path class="o21" d="M67.1 78.7l1.5-2 .6-2.8-1.5 2.5z"/>
<path class="o25" d="M68.6 76.7l1.6-1.8.5-2.9-1.5 1.9z"/>
<path class="o27" d="M70.2 74.9l1.5-1.2.5-2.7-1.5 1z"/>
<path class="o28" d="M71.7 73.7l1.5-.4 1.6.5.5-.8-1.5-1.6-1.6-.4z"/>
<path class="o25" d="M74.8 73.8l1.5 1.4.6.2-1.6-2.4z"/>
<path class="o21" d="M76.3 75.2l1.6 1.8.6 1.1-1.6-2.7z"/>
<path class="o17" d="M77.9 77l1.5 2.2.6 1.5-1.5-2.6z"/>
<path class="o12" d="M79.4 79.2l1.6 1.9.6 1.8-1.6-2.2z"/>
<path class="o8" d="M81 81.1l1.5 1.2.6 1.7-1.5-1.1z"/>
<path class="o6" d="M82.5 82.3l1.6.4 1.5.2 1.5 0 .6.7-1.5.3-1.5.1-1.6 0z"/>
<path class="o7" d="M87.1 82.9l1.6-.1.6.3-1.6.5z"/>
<path class="o8" d="M88.7 82.8l1.5-.4.6 0-1.5.7z"/>
<path class="o10" d="M90.2 82.4l1.6-.6.6-.3-1.6.9z"/>
<path class="o12" d="M91.8 81.8l1.5-.7.7-.6-1.6 1z"/>
<path class="o15" d="M93.3 81.1l1.6-.9.6-.7-1.5 1z"/>
<path class="o17" d="M94.9 80.2l1.5-1.1.7-.7-1.6 1.1z"/>
<path class="o19" d="M96.4 79.1l1.6-1 .6-.8-1.5 1.1z"/>
<path class="o21" d="M98 78.1l1.5-1.1.7-.7-1.6 1z"/>
<path class="o23" d="M99.5 77l1.6-1 .6-.6-1.5.9z"/>
<path class="o25" d="M101.1 76l1.5-1 .7-.4-1.6.8z"/>
<path class="o27" d="M102.6 75l1.6-.8.7-.2-1.6.6z"/>
<path class="o28" d="M104.2 74.2l1.5-.6.7-.1-1.5.5z"/>
<path class="o29" d="M105.7 73.6l1.6-.5.7.6-1.6-.2z"/>
<path class="o28" d="M107.3 73.1l1.6-.2 1.5 0 .7 1.6-1.5.7-1.6-1.5z"/>
<path class="o29" d="M110.4 72.9l1.6.1 1.6.3.7.7-1.6-.3-1.6.8z"/>
<path class="o28" d="M113.6 73.3l1.5.6.7.8-1.5-.7z"/>
<path class="o27" d="M115.1 73.9l1.6.8.7.8-1.6-.8z"/>
<path class="o26" d="M116.7 74.7l1.5.9.8.9-1.6-1z"/>
<path class="o24" d="M118.2 75.6l1.6 1.1.7.9-1.5-1.1z"/>
<path class="o22" d="M119.8 76.7l1.6 1.1.7 1-1.6-1.2z"/>
<path class="o20" d="M121.4 77.8l1.5 1.2.8 1-1.6-1.2z"/>
<path class="o17" d="M122.9 79l1.6 1.2.7 1-1.5-1.2z"/>
<path class="o15" d="M124.5 80.2l1.5 1.2.8 1-1.6-1.2z"/>
<path class="o13" d="M126 81.4l1.6 1 .8 1-1.6-1z"/>
<path class="o11" d="M127.6 82.4l1.6.9.7 1-1.5-.9z"/>
<path class="o9" d="M129.2 83.3l1.5.7.8 1.1-1.6-.8z"/>
<path class="o7" d="M130.7 84l1.6.5.8 1.1-1.6-.5z"/>
<path class="o6" d="M132.3 84.5l1.6.3.7 1.1-1.5-.3z"/>
<path class="o4" d="M60 83l1.6.1.5.9-1.5.2z"/>
<path class="o6" d="M61.6 83.1l1.5-.2.5-.7-1.5 1.8z"/>
<path class="o10" d="M63.1 82.9l1.5-1.6.5-1.7-1.5 2.6z"/>
<path class="o16" d="M64.6 81.3l1.5-2.4.6-2.3-1.6 3z"/>
<path class="o22" d="M66.1 78.9l1.6-2.5.5-3-1.5 3.2z"/>
<path class="o27" d="M67.7 76.4l1.5-2.5.5-3.4-1.5 2.9z"/>
<path class="o31" d="M69.2 73.9l1.5-1.9.5-3.6-1.5 2.1z"/>
<path class="o33" d="M70.7 72l1.5-1 1.6.4.6-.8-1.6-2.1-1.6-.1z"/>
<path class="o30" d="M73.8 71.4l1.5 1.6.6.7-1.5-3.1z"/>
<path class="o25" d="M75.3 73l1.6 2.4.6 1.6-1.6-3.3z"/>
<path class="o20" d="M76.9 75.4l1.6 2.7.5 2.1-1.5-3.2z"/>
<path class="o14" d="M78.5 78.1l1.5 2.6.6 2.2-1.6-2.7z"/>
<path class="o9" d="M80 80.7l1.6 2.2.6 1.9-1.6-1.9z"/>
<path class="o5" d="M81.6 82.9l1.5 1.1.6 1.2-1.5-.4z"/>
<path class="o4" d="M83.1 84l1.6 0 .6.9-1.6.3z"/>
<path class="o5" d="M84.7 84l1.5-.1.6.6-1.5.4z"/>
<path class="o6" d="M86.2 83.9l1.5-.3.7.3-1.6.6z"/>
<path class="o8" d="M87.7 83.6l1.6-.5.6 0-1.5.8z"/>
<path class="o10" d="M89.3 83.1l1.5-.7.7-.3-1.6 1z"/>
<path class="o12" d="M90.8 82.4l1.6-.9.6-.4-1.5 1z"/>
<path class="o15" d="M92.4 81.5l1.6-1 .6-.5-1.6 1.1z"/>
<path class="o17" d="M94 80.5l1.5-1 .6-.6-1.5 1.1z"/>
<path class="o20" d="M95.5 79.5l1.6-1.1.6-.5-1.6 1z"/>
<path class="o22" d="M97.1 78.4l1.5-1.1.7-.4-1.6 1z"/>
<path class="o24" d="M98.6 77.3l1.6-1 .6-.3-1.5.9z"/>
<path class="o25" d="M100.2 76.3l1.5-.9.7-.2-1.6.8z"/>
<path class="o27" d="M101.7 75.4l1.6-.8.7 0-1.6.6z"/>
<path class="o28" d="M103.3 74.6l1.6-.6.6.2-1.5.4z"/>
<path class="o29" d="M104.9 74l1.5-.5 1.6.2.7 1.1-1.6-.7-1.6.1z"/>
<path class="o28" d="M108 73.7l1.6 1.5 1.5-.7.7-.3-1.5.7-1.6-.1z"/>
<path class="o29" d="M111.1 74.5l1.6-.8 1.6.3.7 1-1.6-.5-1.6-.3z"/>
<path class="o28" d="M114.3 74l1.5.7.7 1.1-1.5-.8z"/>
<path class="o27" d="M115.8 74.7l1.6.8.7 1.1-1.6-.8z"/>
<path class="o25" d="M117.4 75.5l1.6 1 .7 1.2-1.6-1.1z"/>
<path class="o23" d="M119 76.5l1.5 1.1.8 1.2-1.6-1.1z"/>
<path class="o21" d="M120.5 77.6l1.6 1.2.7 1.2-1.5-1.2z"/>
<path class="o19" d="M122.1 78.8l1.6 1.2.7 1.2-1.6-1.2z"/>
<path class="o17" d="M123.7 80l1.5 1.2.8 1.2-1.6-1.2z"/>
<path class="o14" d="M125.2 81.2l1.6 1.2.7 1.2-1.5-1.2z"/>
<path class="o12" d="M126.8 82.4l1.6 1 .7 1.2-1.6-1z"/>
<path class="o9" d="M128.4 83.4l1.5.9.8 1.3-1.6-1z"/>
<path class="o7" d="M129.9 84.3l1.6.8.8 1.2-1.6-.7z"/>
<path class="o6" d="M131.5 85.1l1.6.5.7 1.3-1.5-.6z"/>
<path class="o4" d="M133.1 85.6l1.5.3.8 1.3-1.6-.3z"/>
<path class="o4" d="M60.6 84.2l1.5-.2.5-.4-1.5 1.4z"/>
<path class="o9" d="M62.1 84l1.5-1.8.5-1.2-1.5 2.6z"/>
<path class="o15" d="M63.6 82.2l1.5-2.6.6-1.7-1.6 3.1z"/>
<path class="o21" d="M65.1 79.6l1.6-3 .5-2.2-1.5 3.5z"/>
<path class="o28" d="M66.7 76.6l1.5-3.2.5-2.6-1.5 3.6z"/>
<path class="o33" d="M68.2 73.4l1.5-2.9.5-3-1.5 3.3z"/>
<path class="o37" d="M69.7 70.5l1.5-2.1 1.6.1.6.7-1.6-2.6-1.6.9z"/>
<path class="o34" d="M72.8 68.5l1.6 2.1.5 2.3-1.5-3.7z"/>
<path class="o29" d="M74.4 70.6l1.5 3.1.6 2.9-1.6-3.7z"/>
<path class="o23" d="M75.9 73.7l1.6 3.3.6 3.1-1.6-3.5z"/>
<path class="o17" d="M77.5 77l1.5 3.2.6 2.8-1.5-2.9z"/>
<path class="o10" d="M79 80.2l1.6 2.7.6 2.4-1.6-2.3z"/>
<path class="o5" d="M80.6 82.9l1.6 1.9.6.9-1.6-.4z"/>
<path class="o4" d="M82.2 84.8l1.5.4.6-.4-1.5.9z"/>
<path class="o6" d="M83.7 85.2l1.6-.3.6-1.1-1.6 1z"/>
<path class="o8" d="M85.3 84.9l1.5-.4.6-1.4-1.5.7z"/>
<path class="o9" d="M86.8 84.5l1.6-.6.6-1.4-1.6.6z"/>
<path class="o11" d="M88.4 83.9l1.5-.8.6-1.1-1.5.5z"/>
<path class="o13" d="M89.9 83.1l1.6-1 .6-.5-1.6.4z"/>
<path class="o15" d="M91.5 82.1l1.5-1 .7-.3-1.6.8z"/>
<path class="o17" d="M93 81.1l1.6-1.1.6-.3-1.5 1.1z"/>
<path class="o19" d="M94.6 80l1.5-1.1.7-.2-1.6 1z"/>
<path class="o22" d="M96.1 78.9l1.6-1 .7-.2-1.6 1z"/>
<path class="o23" d="M97.7 77.9l1.6-1 .6 0-1.5.8z"/>
<path class="o25" d="M99.3 76.9l1.5-.9.7.2-1.6.7z"/>
<path class="o27" d="M100.8 76l1.6-.8.7.4-1.6.6z"/>
<path class="o28" d="M102.4 75.2l1.6-.6.7.6-1.6.4z"/>
<path class="o29" d="M104 74.6l1.5-.4 1.6-.1 1.6.7 1.6.1 1.5-.7 1.6.3.7 1.3-1.6-.5-1.5-.3-1.6-.2-1.6 0-1.6.1-1.5.3z"/>
<path class="o28" d="M113.4 74.5l1.6.5.7 1.4-1.6-.6z"/>
<path class="o27" d="M115 75l1.5.8.8 1.3-1.6-.7z"/>
<path class="o26" d="M116.5 75.8l1.6.8.7 1.4-1.5-.9z"/>
<path class="o24" d="M118.1 76.6l1.6 1.1.7 1.4-1.6-1.1z"/>
<path class="o22" d="M119.7 77.7l1.6 1.1.7 1.4-1.6-1.1z"/>
<path class="o20" d="M121.3 78.8l1.5 1.2.8 1.4-1.6-1.2z"/>
<path class="o18" d="M122.8 80l1.6 1.2.7 1.4-1.5-1.2z"/>
<path class="o16" d="M124.4 81.2l1.6 1.2.7.8-1.6-.6z"/>
<path class="o14" d="M126 82.4l1.5 1.2.8.2-1.6-.6z"/>
<path class="o12" d="M127.5 83.6l1.6 1 .8-.2-1.6-.6z"/>
<path class="o10" d="M129.1 84.6l1.6 1 .8-.4-1.6-.8z"/>
<path class="o8" d="M130.7 85.6l1.6.7.8-.1-1.6-1z"/>
<path class="o6" d="M132.3 86.3l1.5.6.8.4-1.5-1.1z"/>
<path class="o3" d="M133.8 86.9l1.6.3.8.8-1.6-.7z"/>
<path class="o7" d="M61.1 85l1.5-1.4.5-.7-1.5 1.1z"/>
<path class="o13" d="M62.6 83.6l1.5-2.6.6-.7-1.6 2.6z"/>
<path class="o19" d="M64.1 81l1.6-3.1.5-.8-1.5 3.2z"/>
<path class="o25" d="M65.7 77.9l1.5-3.5.5-.6-1.5 3.3z"/>
<path class="o31" d="M67.2 74.4l1.5-3.6.6.2-1.6 2.8z"/>
<path class="o35" d="M68.7 70.8l1.5-3.3.6 2.3-1.5 1.2z"/>
<path class="o37" d="M70.2 67.5l1.6-.9.6 4.5-1.6-1.3z"/>
<path class="o35" d="M71.8 66.6l1.6 2.6.6 4.9-1.6-3z"/>
<path class="o30" d="M73.4 69.2l1.5 3.7.6 4.6-1.5-3.4z"/>
<path class="o24" d="M74.9 72.9l1.6 3.7.6 4.2-1.6-3.3z"/>
<path class="o18" d="M76.5 76.6l1.6 3.5.6 3.4-1.6-2.7z"/>
<path class="o12" d="M78.1 80.1l1.5 2.9.6 1.7-1.5-1.2z"/>
<path class="o8" d="M79.6 83l1.6 2.3.6-.7-1.6.1z"/>
<path class="o7" d="M81.2 85.3l1.6.4.6-2.6-1.6 1.5z"/>
<path class="o10" d="M82.8 85.7l1.5-.9.6-3.1-1.5 1.4z"/>
<path class="o13" d="M84.3 84.8l1.6-1 .6-3.1-1.6 1z"/>
<path class="o15" d="M85.9 83.8l1.5-.7.6-2.9-1.5.5z"/>
<path class="o16" d="M87.4 83.1l1.6-.6.6-2.4-1.6.1z"/>
<path class="o17" d="M89 82.5l1.5-.5 1.6-.4 1.6-.8.6-.2-1.6-.1-1.5-.3-1.6-.1z"/>
<path class="o19" d="M93.7 80.8l1.5-1.1.7.1-1.6.8z"/>
<path class="o21" d="M95.2 79.7l1.6-1 .7.2-1.6.9z"/>
<path class="o23" d="M96.8 78.7l1.6-1 .6.4-1.5.8z"/>
<path class="o24" d="M98.4 77.7l1.5-.8.7.6-1.6.6z"/>
<path class="o26" d="M99.9 76.9l1.6-.7.7.7-1.6.6z"/>
<path class="o27" d="M101.5 76.2l1.6-.6.7 1-1.6.3z"/>
<path class="o28" d="M103.1 75.6l1.6-.4 1.5-.3 1.6-.1 1.6 0 1.6.2 1.5.3.7 1.6-1.5-.4-1.6-.2-1.6-.1-1.6 0-1.6.1-1.5.3z"/>
<path class="o27" d="M112.5 75.3l1.6.5 1.6.6.7 1.7-1.6-.7-1.6-.5z"/>
<path class="o25" d="M115.7 76.4l1.6.7.7 1.7-1.6-.7z"/>
<path class="o24" d="M117.3 77.1l1.5.9.8 1.8-1.6-1z"/>
<path class="o22" d="M118.8 78l1.6 1.1.8 1.7-1.6-1z"/>
<path class="o21" d="M120.4 79.1l1.6 1.1.7 1.5-1.5-.9z"/>
<path class="o19" d="M122 80.2l1.6 1.2.7.3-1.6 0z"/>
<path class="o18" d="M123.6 81.4l1.5 1.2.8-1-1.6.1z"/>
<path class="o17" d="M125.1 82.6l1.6.6 1.6.6.8-2-1.6-.3-1.6.1z"/>
<path class="o16" d="M128.3 83.8l1.6.6.8-2-1.6-.6z"/>
<path class="o14" d="M129.9 84.4l1.6.8.8-1.6-1.6-1.2z"/>
<path class="o12" d="M131.5 85.2l1.6 1 .8-1.1-1.6-1.5z"/>
<path class="o9" d="M133.1 86.2l1.5 1.1.8-.6-1.5-1.6z"/>
<path class="o6" d="M134.6 87.3l1.6.7.8-1-1.6-.3z"/>
<path class="o11" d="M61.6 84l1.5-1.1.6-.2-1.6.7z"/>
<path class="o15" d="M63.1 82.9l1.6-2.6.5.2-1.5 2.2z"/>
<path class="o20" d="M64.7 80.3l1.5-3.2.5.9-1.5 2.5z"/>
<path class="o26" d="M66.2 77.1l1.5-3.3.6 2.2-1.6 2z"/>
<path class="o30" d="M67.7 73.8l1.6-2.8.5 3.9-1.5 1.1z"/>
<path class="o32" d="M69.3 71l1.5-1.2.6 5.6-1.6-.5z"/>
<path class="o31" d="M70.8 69.8l1.6 1.3.6 6-1.6-1.7z"/>
<path class="o27" d="M72.4 71.1l1.6 3 .6 5.5-1.6-2.5z"/>
<path class="o22" d="M74 74.1l1.5 3.4.6 4.8-1.5-2.7z"/>
<path class="o17" d="M75.5 77.5l1.6 3.3.6 3-1.6-1.5z"/>
<path class="o13" d="M77.1 80.8l1.6 2.7.6.6-1.6-.3z"/>
<path class="o11" d="M78.7 83.5l1.5 1.2.6-1.6-1.5 1z"/>
<path class="o12" d="M80.2 84.7l1.6-.1.6-3.7-1.6 2.2z"/>
<path class="o16" d="M81.8 84.6l1.6-1.5.5-4.1-1.5 1.9z"/>
<path class="o19" d="M83.4 83.1l1.5-1.4.6-4.1-1.6 1.4z"/>
<path class="o21" d="M84.9 81.7l1.6-1 .6-3.6-1.6.5z"/>
<path class="o22" d="M86.5 80.7l1.5-.5 1.6-.1.6-2-1.5-.7-1.6-.3z"/>
<path class="o21" d="M89.6 80.1l1.6.1.6-1-1.6-1.1z"/>
<path class="o20" d="M91.2 80.2l1.5.3 1.6.1 1.6-.8.6.6-1.5.4-1.6-.7-1.6-.9z"/>
<path class="o21" d="M95.9 79.8l1.6-.9.6.8-1.6.7z"/>
<path class="o23" d="M97.5 78.9l1.5-.8.7 1-1.6.6z"/>
<path class="o24" d="M99 78.1l1.6-.6.7 1.1-1.6.5z"/>
<path class="o25" d="M100.6 77.5l1.6-.6.7 1.4-1.6.3z"/>
<path class="o26" d="M102.2 76.9l1.6-.3 1.5-.3.7 1.6-1.6.1-1.5.3z"/>
<path class="o27" d="M105.3 76.3l1.6-.1 1.6 0 1.6.1 1.6.2.7 2-1.6-.3-1.6-.2-1.6-.1-1.6 0z"/>
<path class="o26" d="M111.7 76.5l1.5.4.8 2-1.6-.4z"/>
<path class="o25" d="M113.2 76.9l1.6.5.7 2-1.5-.5z"/>
<path class="o24" d="M114.8 77.4l1.6.7.7 2-1.6-.7z"/>
<path class="o23" d="M116.4 78.1l1.6.7.7 2-1.6-.7z"/>
<path class="o22" d="M118 78.8l1.6 1 .7 2-1.6-1z"/>
<path class="o21" d="M119.6 79.8l1.6 1 .7.8-1.6.2z"/>
<path class="o20" d="M121.2 80.8l1.5.9.8-.8-1.6.7z"/>
<path class="o21" d="M122.7 81.7l1.6 0 .8-1.8-1.6 1z"/>
<path class="o22" d="M124.3 81.7l1.6-.1.8-2.5-1.6.8z"/>
<path class="o23" d="M125.9 81.6l1.6-.1 1.6.3.8-2.9-1.6-.2-1.6.4z"/>
<path class="o22" d="M129.1 81.8l1.6.6.8-2.4-1.6-1.1z"/>
<path class="o20" d="M130.7 82.4l1.6 1.2.8-1.8-1.6-1.8z"/>
<path class="o16" d="M132.3 83.6l1.6 1.5.8-1-1.6-2.3z"/>
<path class="o12" d="M133.9 85.1l1.5 1.6.8-.6-1.5-2z"/>
<path class="o10" d="M135.4 86.7l1.6.3.8-.6-1.6-.3z"/>
<path class="o12" d="M62.1 83.4l1.6-.7.5 1-1.6.3z"/>
<path class="o15" d="M63.7 82.7l1.5-2.2.5 1.5-1.5 1.7z"/>
<path class="o19" d="M65.2 80.5l1.5-2.5.6 2.4-1.6 1.6z"/>
<path class="o23" d="M66.7 78l1.6-2 .6 3.5-1.6.9z"/>
<path class="o25" d="M68.3 76l1.5-1.1 1.6.5.6 5.2-1.6-1-1.5-.1z"/>
<path class="o22" d="M71.4 75.4l1.6 1.7.6 5.2-1.6-1.7z"/>
<path class="o19" d="M73 77.1l1.6 2.5.5 4.6-1.5-1.9z"/>
<path class="o15" d="M74.6 79.6l1.5 2.7.6 2.3-1.6-.4z"/>
<path class="o13" d="M76.1 82.3l1.6 1.5.6.2-1.6.6z"/>
<path class="o14" d="M77.7 83.8l1.6.3.5-2.3-1.5 2.2z"/>
<path class="o17" d="M79.3 84.1l1.5-1 .6-4.1-1.6 2.8z"/>
<path class="o21" d="M80.8 83.1l1.6-2.2.6-4.7-1.6 2.8z"/>
<path class="o25" d="M82.4 80.9l1.5-1.9.6-4.8-1.5 2z"/>
<path class="o28" d="M83.9 79l1.6-1.4.6-4-1.6.6z"/>
<path class="o29" d="M85.5 77.6l1.6-.5.6-2.8-1.6-.7z"/>
<path class="o28" d="M87.1 77.1l1.6.3.6-1.5-1.6-1.6z"/>
<path class="o26" d="M88.7 77.4l1.5.7.7-.3-1.6-1.9z"/>
<path class="o24" d="M90.2 78.1l1.6 1.1.6.3-1.5-1.7z"/>
<path class="o22" d="M91.8 79.2l1.6.9.6.9-1.6-1.5z"/>
<path class="o20" d="M93.4 80.1l1.6.7 1.5-.4.7 1.1-1.6.5-1.6-1z"/>
<path class="o21" d="M96.5 80.4l1.6-.7.7 1.3-1.6.5z"/>
<path class="o22" d="M98.1 79.7l1.6-.6.7 1.4-1.6.5z"/>
<path class="o23" d="M99.7 79.1l1.6-.5.6 1.7-1.5.2z"/>
<path class="o24" d="M101.3 78.6l1.6-.3 1.5-.3 1.6-.1.7 2.1-1.6 0-1.6.1-1.6.2z"/>
<path class="o25" d="M106 77.9l1.6 0 1.6.1.7 2.2-1.6-.2-1.6 0z"/>
<path class="o24" d="M109.2 78l1.6.2 1.6.3 1.6.4.7 2.2-1.6-.4-1.6-.3-1.6-.2z"/>
<path class="o23" d="M114 78.9l1.5.5.8 2.2-1.6-.5z"/>
<path class="o22" d="M115.5 79.4l1.6.7.8 2.2-1.6-.7z"/>
<path class="o21" d="M117.1 80.1l1.6.7.7 2.1-1.5-.6z"/>
<path class="o20" d="M118.7 80.8l1.6 1 .7.3-1.6.8z"/>
<path class="o21" d="M120.3 81.8l1.6-.2.8-.9-1.7 1.4z"/>
<path class="o23" d="M121.9 81.6l1.6-.7.8-1.8-1.6 1.6z"/>
<path class="o25" d="M123.5 80.9l1.6-1 .8-2.6-1.6 1.8z"/>
<path class="o27" d="M125.1 79.9l1.6-.8.8-3.3-1.6 1.5z"/>
<path class="o29" d="M126.7 79.1l1.6-.4 1.6.2.8-2.9-1.6-.8-1.6.6z"/>
<path class="o27" d="M129.9 78.9l1.6 1.1.8-1.9-1.6-2.1z"/>
<path class="o24" d="M131.5 80l1.6 1.8.8-.8-1.6-2.9z"/>
<path class="o20" d="M133.1 81.8l1.6 2.3.8-.1-1.6-3z"/>
<path class="o15" d="M134.7 84.1l1.5 2 .8.2-1.5-2.3z"/>
<path class="o12" d="M136.2 86.1l1.6.3.8.7-1.6-.8z"/>
<path class="o11" d="M62.6 84l1.6-.3.5 1.4-1.5.5z"/>
<path class="o13" d="M64.2 83.7l1.5-1.7.6 1.9-1.6 1.2z"/>
<path class="o16" d="M65.7 82l1.6-1.6.6 2.8-1.6.7z"/>
<path class="o18" d="M67.3 80.4l1.6-.9 1.5.1.6 4.1-1.6-.6-1.5.1z"/>
<path class="o17" d="M70.4 79.6l1.6 1 .6 4.2-1.6-1.1z"/>
<path class="o15" d="M72 80.6l1.6 1.7.6 3.8-1.6-1.3z"/>
<path class="o12" d="M73.6 82.3l1.5 1.9 1.6.4.6-.5-1.6 1.7-1.5.3z"/>
<path class="o15" d="M76.7 84.6l1.6-.6.6-2.7-1.6 2.8z"/>
<path class="o19" d="M78.3 84l1.5-2.2.6-3.6-1.5 3.1z"/>
<path class="o25" d="M79.8 81.8l1.6-2.8.6-4.3-1.6 3.5z"/>
<path class="o30" d="M81.4 79l1.6-2.8.6-4.7-1.6 3.2z"/>
<path class="o34" d="M83 76.2l1.5-2 .7-4-1.6 1.3z"/>
<path class="o35" d="M84.5 74.2l1.6-.6.6-1.8-1.5-1.6z"/>
<path class="o34" d="M86.1 73.6l1.6.7.6.1-1.6-2.6z"/>
<path class="o31" d="M87.7 74.3l1.6 1.6.6 1.2-1.6-2.7z"/>
<path class="o27" d="M89.3 75.9l1.6 1.9.6 1.7-1.6-2.4z"/>
<path class="o24" d="M90.9 77.8l1.5 1.7.7 2-1.6-2z"/>
<path class="o21" d="M92.4 79.5l1.6 1.5.7 2.1-1.6-1.6z"/>
<path class="o18" d="M94 81l1.6 1 1.6-.5.7 1.6-1.6.4-1.6-.4z"/>
<path class="o19" d="M97.2 81.5l1.6-.5.6 1.7-1.5.4z"/>
<path class="o20" d="M98.8 81l1.6-.5.6 1.9-1.6.3z"/>
<path class="o21" d="M100.4 80.5l1.5-.2 1.6-.2.7 2.1-1.6.1-1.6.1z"/>
<path class="o22" d="M103.5 80.1l1.6-.1 1.6 0 1.6 0 1.6.2 1.6.2.7 2.4-1.6-.3-1.6-.1-1.6-.1-1.6-.1-1.6 0z"/>
<path class="o21" d="M111.5 80.4l1.6.3 1.6.4.7 2.4-1.6-.4-1.6-.3z"/>
<path class="o20" d="M114.7 81.1l1.6.5.7 2.5-1.6-.6z"/>
<path class="o19" d="M116.3 81.6l1.6.7 1.5.6.8.5-1.6 1.1-1.6-.4z"/>
<path class="o20" d="M119.4 82.9l1.6-.8.8-.4-1.6 1.7z"/>
<path class="o23" d="M121 82.1l1.7-1.4.7-1.1-1.6 2.1z"/>
<path class="o27" d="M122.7 80.7l1.6-1.6.7-2-1.6 2.5z"/>
<path class="o30" d="M124.3 79.1l1.6-1.8.8-2.8-1.7 2.6z"/>
<path class="o34" d="M125.9 77.3l1.6-1.5.8-3.5-1.6 2.2z"/>
<path class="o35" d="M127.5 75.8l1.6-.6.8-3-1.6.1z"/>
<path class="o34" d="M129.1 75.2l1.6.8.8-1.1-1.6-2.7z"/>
<path class="o31" d="M130.7 76l1.6 2.1.8.3-1.6-3.5z"/>
<path class="o26" d="M132.3 78.1l1.6 2.9.8 1-1.6-3.6z"/>
<path class="o20" d="M133.9 81l1.6 3 .8 1.1-1.6-3.1z"/>
<path class="o15" d="M135.5 84l1.5 2.3.8 1.3-1.5-2.5z"/>
<path class="o11" d="M137 86.3l1.6.8.9 1.6-1.7-1.1z"/>
<path class="o9" d="M63.2 85.6l1.5-.5.6 1.1-1.6.7z"/>
<path class="o11" d="M64.7 85.1l1.6-1.2.6 1.8-1.6.5z"/>
<path class="o13" d="M66.3 83.9l1.6-.7 1.5-.1 1.6.6.6 2.8-1.6-.7-1.6-.3-1.5.2z"/>
<path class="o11" d="M71 83.7l1.6 1.1.6 2.5-1.6-.8z"/>
<path class="o10" d="M72.6 84.8l1.6 1.3.5.3-1.5.9z"/>
<path class="o11" d="M74.2 86.1l1.5-.3.6-1.2-1.6 1.8z"/>
<path class="o15" d="M75.7 85.8l1.6-1.7.6-2-1.6 2.5z"/>
<path class="o20" d="M77.3 84.1l1.6-2.8.6-2.1-1.6 2.9z"/>
<path class="o26" d="M78.9 81.3l1.5-3.1.6-2.2-1.5 3.2z"/>
<path class="o31" d="M80.4 78.2l1.6-3.5.6-2-1.6 3.3z"/>
<path class="o36" d="M82 74.7l1.6-3.2.6-.6-1.6 1.8z"/>
<path class="o38" d="M83.6 71.5l1.6-1.3.6 1.9-1.6-1.2z"/>
<path class="o36" d="M85.2 70.2l1.5 1.6.7 3.1-1.6-2.8z"/>
<path class="o33" d="M86.7 71.8l1.6 2.6.7 3.4-1.6-2.9z"/>
<path class="o28" d="M88.3 74.4l1.6 2.7.7 3.4-1.6-2.7z"/>
<path class="o24" d="M89.9 77.1l1.6 2.4.7 3.3-1.6-2.3z"/>
<path class="o20" d="M91.5 79.5l1.6 2 .6 3.1-1.5-1.8z"/>
<path class="o17" d="M93.1 81.5l1.6 1.6.6 2.5-1.6-1z"/>
<path class="o16" d="M94.7 83.1l1.6.4 1.6-.4.6 1.8-1.6.3-1.6.4z"/>
<path class="o17" d="M97.9 83.1l1.5-.4.7 2-1.6.2z"/>
<path class="o18" d="M99.4 82.7l1.6-.3 1.6-.1.7 2.2-1.6.1-1.6.1z"/>
<path class="o19" d="M102.6 82.3l1.6-.1 1.6 0 1.6.1 1.6.1.7 2.4-1.6-.1-1.6-.1-1.6-.1-1.6 0z"/>
<path class="o18" d="M109 82.4l1.6.1 1.6.3 1.6.3.7 2.4-1.6-.3-1.6-.2-1.6-.2z"/>
<path class="o17" d="M113.8 83.1l1.6.4.7 2.5-1.6-.5z"/>
<path class="o16" d="M115.4 83.5l1.6.6 1.6.4.7 1.1-1.6.9-1.6-.5z"/>
<path class="o18" d="M118.6 84.5l1.6-1.1.7.5-1.6 1.7z"/>
<path class="o21" d="M120.2 83.4l1.6-1.7.8 0-1.7 2.2z"/>
<path class="o25" d="M121.8 81.7l1.6-2.1.8-.5-1.6 2.6z"/>
<path class="o30" d="M123.4 79.6l1.6-2.5.8-.8-1.6 2.8z"/>
<path class="o34" d="M125 77.1l1.7-2.6.7-.8-1.6 2.6z"/>
<path class="o37" d="M126.7 74.5l1.6-2.2.8.2-1.7 1.2z"/>
<path class="o38" d="M128.3 72.3l1.6-.1.8 2.3-1.6-2z"/>
<path class="o35" d="M129.9 72.2l1.6 2.7.8 3-1.6-3.4z"/>
<path class="o30" d="M131.5 74.9l1.6 3.5.8 2.9-1.6-3.4z"/>
<path class="o24" d="M133.1 78.4l1.6 3.6.8 2.4-1.6-3.1z"/>
<path class="o19" d="M134.7 82l1.6 3.1.8 1.9-1.6-2.6z"/>
<path class="o13" d="M136.3 85.1l1.5 2.5.9 1.4-1.6-2z"/>
<path class="o10" d="M137.8 87.6l1.7 1.1.8 1.3-1.6-1z"/>
<path class="o10" d="M63.7 86.9l1.6-.7.5-.3-1.5.3z"/>
<path class="o11" d="M65.3 86.2l1.6-.5.5.1-1.6.1z"/>
<path class="o12" d="M66.9 85.7l1.5-.2 1.6.3.6.5-1.6-.4-1.6-.1z"/>
<path class="o11" d="M70 85.8l1.6.7.6.3-1.6-.5z"/>
<path class="o9" d="M71.6 86.5l1.6.8.5-.4-1.5-.1z"/>
<path class="o10" d="M73.2 87.3l1.5-.9.6-.7-1.6 1.2z"/>
<path class="o14" d="M74.7 86.4l1.6-1.8.6-.7-1.6 1.8z"/>
<path class="o18" d="M76.3 84.6l1.6-2.5.6-.3-1.6 2.1z"/>
<path class="o23" d="M77.9 82.1l1.6-2.9.6.2-1.6 2.4z"/>
<path class="o28" d="M79.5 79.2l1.5-3.2.6 1.3-1.5 2.1z"/>
<path class="o32" d="M81 76l1.6-3.3.6 3.4-1.6 1.2z"/>
<path class="o35" d="M82.6 72.7l1.6-1.8.6 5.5-1.6-.3z"/>
<path class="o34" d="M84.2 70.9l1.6 1.2.6 6-1.6-1.7z"/>
<path class="o31" d="M85.8 72.1l1.6 2.8.6 5.4-1.6-2.2z"/>
<path class="o27" d="M87.4 74.9l1.6 2.9.6 4.9-1.6-2.4z"/>
<path class="o22" d="M89 77.8l1.6 2.7.6 4.3-1.6-2.1z"/>
<path class="o18" d="M90.6 80.5l1.6 2.3.6 3.8-1.6-1.8z"/>
<path class="o15" d="M92.2 82.8l1.5 1.8.7 3.1-1.6-1.1z"/>
<path class="o13" d="M93.7 84.6l1.6 1 1.6-.4.7 1.8-1.6.3-1.6.4z"/>
<path class="o14" d="M96.9 85.2l1.6-.3.7 1.9-1.6.2z"/>
<path class="o15" d="M98.5 84.9l1.6-.2 1.6-.1 1.6-.1 1.6 0 1.6.1 1.6.1 1.6.1 1.6.2 1.6.2.7 2.3-1.6-.2-1.6-.2-1.6-.1-1.6-.1-1.6-.1-1.6-.1-1.6 0-1.6.1-1.6 0z"/>
<path class="o14" d="M112.9 85.2l1.6.3.7 2.4-1.6-.4z"/>
<path class="o13" d="M114.5 85.5l1.6.5 1.6.5.7 1.8-1.6 0-1.6-.4z"/>
<path class="o14" d="M117.7 86.5l1.6-.9.8 1.3-1.7 1.4z"/>
<path class="o17" d="M119.3 85.6l1.6-1.7.8 1.1-1.6 1.9z"/>
<path class="o21" d="M120.9 83.9l1.7-2.2.7 1.2-1.6 2.1z"/>
<path class="o25" d="M122.6 81.7l1.6-2.6.7 1.5-1.6 2.3z"/>
<path class="o30" d="M124.2 79.1l1.6-2.8.8 2.4-1.7 1.9z"/>
<path class="o33" d="M125.8 76.3l1.6-2.6.8 4-1.6 1z"/>
<path class="o35" d="M127.4 73.7l1.7-1.2.7 5.8-1.6-.6z"/>
<path class="o34" d="M129.1 72.5l1.6 2 .7 5.8-1.6-2z"/>
<path class="o30" d="M130.7 74.5l1.6 3.4.7 4.8-1.6-2.4z"/>
<path class="o25" d="M132.3 77.9l1.6 3.4.7 3.8-1.6-2.4z"/>
<path class="o20" d="M133.9 81.3l1.6 3.1.7 2.9-1.6-2.2z"/>
<path class="o15" d="M135.5 84.4l1.6 2.6.8 2-1.7-1.7z"/>
<path class="o12" d="M137.1 87l1.6 2 .8.8-1.6-.8z"/>
<path class="o10" d="M138.7 89l1.6 1 .8-.7-1.6.5z"/>
<path class="o13" d="M64.3 86.2l1.5-.3 1.6-.1 1.6.1 1.6.4.6.1-1.6-.6-1.6-.3-1.6-.1-1.6.2z"/>
<path class="o12" d="M70.6 86.3l1.6.5.5.3-1.5-.7z"/>
<path class="o11" d="M72.2 86.8l1.5.1.6.2-1.6 0z"/>
<path class="o12" d="M73.7 86.9l1.6-1.2.6.5-1.6.9z"/>
<path class="o15" d="M75.3 85.7l1.6-1.8.6 1-1.6 1.3z"/>
<path class="o19" d="M76.9 83.9l1.6-2.1.6 1.7-1.6 1.4z"/>
<path class="o22" d="M78.5 81.8l1.6-2.4.6 2.9-1.6 1.2z"/>
<path class="o25" d="M80.1 79.4l1.5-2.1.7 4.3-1.6.7z"/>
<path class="o27" d="M81.6 77.3l1.6-1.2 1.6.3.7 6.2-1.6-.9-1.6-.1z"/>
<path class="o25" d="M84.8 76.4l1.6 1.7.7 6-1.6-1.5z"/>
<path class="o22" d="M86.4 78.1l1.6 2.2.7 5.5-1.6-1.7z"/>
<path class="o19" d="M88 80.3l1.6 2.4.7 4.8-1.6-1.7z"/>
<path class="o15" d="M89.6 82.7l1.6 2.1.7 4.2-1.6-1.5z"/>
<path class="o12" d="M91.2 84.8l1.6 1.8.7 2.9-1.6-.5z"/>
<path class="o10" d="M92.8 86.6l1.6 1.1 1.6-.4.7 1.6-1.6.2-1.6.4z"/>
<path class="o11" d="M96 87.3l1.6-.3 1.6-.2.7 1.9-1.6 0-1.6.2z"/>
<path class="o12" d="M99.2 86.8l1.6 0 1.6-.1 1.6 0 1.6.1 1.6.1 1.6.1 1.6.1 1.6.2.7 2-1.6-.2-1.6-.1-1.6-.1-1.6-.1-1.6-.1-1.6 0-1.6-.1-1.6.1z"/>
<path class="o11" d="M112 87.3l1.6.2 1.6.4.8 2.1-1.7-.4-1.6-.3z"/>
<path class="o10" d="M115.2 87.9l1.6.4 1.6 0 .8 1.8-1.6.3-1.6-.4z"/>
<path class="o12" d="M118.4 88.3l1.7-1.4.7 1.9-1.6 1.3z"/>
<path class="o15" d="M120.1 86.9l1.6-1.9.7 2.2-1.6 1.6z"/>
<path class="o19" d="M121.7 85l1.6-2.1.8 2.7-1.7 1.6z"/>
<path class="o23" d="M123.3 82.9l1.6-2.3.8 3.6-1.6 1.4z"/>
<path class="o26" d="M124.9 80.6l1.7-1.9.7 4.7-1.6.8z"/>
<path class="o27" d="M126.6 78.7l1.6-1 1.6.6.8 6-1.6-.9-1.7 0z"/>
<path class="o25" d="M129.8 78.3l1.6 2 .8 5.3-1.6-1.3z"/>
<path class="o22" d="M131.4 80.3l1.6 2.4.8 4.5-1.6-1.6z"/>
<path class="o19" d="M133 82.7l1.6 2.4.8 3.5-1.6-1.4z"/>
<path class="o15" d="M134.6 85.1l1.6 2.2.8 2.4-1.6-1.1z"/>
<path class="o13" d="M136.2 87.3l1.7 1.7.8.8-1.7-.1z"/>
<path class="o11" d="M137.9 89l1.6.8.8-.7-1.6.7z"/>
<path class="o12" d="M139.5 89.8l1.6-.5.8-.6-1.6.4z"/>
<path class="o15" d="M64.8 85.6l1.6-.2 1.6.1 1.6.3.5.4-1.6-.5-1.6-.3-1.5 0z"/>
<path class="o14" d="M69.6 85.8l1.6.6.5.6-1.6-.8z"/>
<path class="o12" d="M71.2 86.4l1.5.7.6.8-1.6-.9z"/>
<path class="o11" d="M72.7 87.1l1.6 0 .6 1.2-1.6-.4z"/>
<path class="o12" d="M74.3 87.1l1.6-.9.6 1.8-1.6.3z"/>
<path class="o14" d="M75.9 86.2l1.6-1.3.6 2.5-1.6.6z"/>
<path class="o16" d="M77.5 84.9l1.6-1.4.6 3.4-1.6.5z"/>
<path class="o18" d="M79.1 83.5l1.6-1.2.6 4.3-1.6.3z"/>
<path class="o19" d="M80.7 82.3l1.6-.7 1.6.1.6 5.5-1.6-.5-1.6-.1z"/>
<path class="o18" d="M83.9 81.7l1.6.9.6 5.6-1.6-1z"/>
<path class="o16" d="M85.5 82.6l1.6 1.5.6 5.2-1.6-1.1z"/>
<path class="o13" d="M87.1 84.1l1.6 1.7.6 4.6-1.6-1.1z"/>
<path class="o10" d="M88.7 85.8l1.6 1.7.6 3.7-1.6-.8z"/>
<path class="o8" d="M90.3 87.5l1.6 1.5.6 1.9-1.6.3z"/>
<path class="o7" d="M91.9 89l1.6.5 1.6-.4.6 1.3-1.6.2-1.6.3z"/>
<path class="o8" d="M95.1 89.1l1.6-.2.6 1.3-1.6.2z"/>
<path class="o9" d="M96.7 88.9l1.6-.2 1.6 0 1.6-.1.7 1.6-1.7-.1-1.6 0-1.6.1z"/>
<path class="o10" d="M101.5 88.6l1.6.1 1.6 0 1.6.1 1.6.1.7 1.5-1.6 0-1.6-.1-1.6-.1-1.6 0z"/>
<path class="o9" d="M107.9 88.9l1.6.1 1.6.1 1.6.2.8 1.7-1.7-.3-1.6-.1-1.6-.2z"/>
<path class="o8" d="M112.7 89.3l1.6.3 1.7.4.7 1.7-1.6-.4-1.6-.3z"/>
<path class="o7" d="M116 90l1.6.4 1.6-.3.7 2-1.6.1-1.6-.5z"/>
<path class="o9" d="M119.2 90.1l1.6-1.3.8 2.4-1.7.9z"/>
<path class="o12" d="M120.8 88.8l1.6-1.6.8 3-1.6 1z"/>
<path class="o15" d="M122.4 87.2l1.7-1.6.7 3.7-1.6.9z"/>
<path class="o17" d="M124.1 85.6l1.6-1.4.8 4.4-1.7.7z"/>
<path class="o19" d="M125.7 84.2l1.6-.8 1.7 0 1.6.9.7 4.9-1.6-.5-1.6-.3-1.6.2z"/>
<path class="o17" d="M130.6 84.3l1.6 1.3.8 4.3-1.7-.7z"/>
<path class="o15" d="M132.2 85.6l1.6 1.6.8 3.4-1.6-.7z"/>
<path class="o13" d="M133.8 87.2l1.6 1.4.8 2.2-1.6-.2z"/>
<path class="o12" d="M135.4 88.6l1.6 1.1 1.7.1.8-.5-1.6.8-1.7.7z"/>
<path class="o14" d="M138.7 89.8l1.6-.7.8-.3-1.6.5z"/>
<path class="o15" d="M140.3 89.1l1.6-.4.9-.2-1.7.3z"/>
<path class="o16" d="M65.4 85.4l1.5 0 1.6.3.6.8-1.6-.5-1.6-.2z"/>
<path class="o15" d="M68.5 85.7l1.6.5.6 1-1.6-.7z"/>
<path class="o14" d="M70.1 86.2l1.6.8.6 1.1-1.6-.9z"/>
<path class="o12" d="M71.7 87l1.6.9.6 1.2-1.6-1z"/>
<path class="o10" d="M73.3 87.9l1.6.4.6 1.9-1.6-1.1z"/>
<path class="o9" d="M74.9 88.3l1.6-.3.6 1.9-1.6.3z"/>
<path class="o11" d="M76.5 88l1.6-.6.6 1.9-1.6.6z"/>
<path class="o12" d="M78.1 87.4l1.6-.5.6 1.9-1.6.5z"/>
<path class="o13" d="M79.7 86.9l1.6-.3 1.6.1.6 2.6-1.6-.5-1.6 0z"/>
<path class="o12" d="M82.9 86.7l1.6.5.6 3.2-1.6-1.1z"/>
<path class="o10" d="M84.5 87.2l1.6 1 .6 3.4-1.6-1.2z"/>
<path class="o7" d="M86.1 88.2l1.6 1.1.6 3.3-1.6-1z"/>
<path class="o5" d="M87.7 89.3l1.6 1.1.7 1.8-1.7.4z"/>
<path class="o4" d="M89.3 90.4l1.6.8.7.7-1.6.3z"/>
<path class="o5" d="M90.9 91.2l1.6-.3.7.7-1.6.3z"/>
<path class="o6" d="M92.5 90.9l1.6-.3.7.7-1.6.3z"/>
<path class="o7" d="M94.1 90.6l1.6-.2 1.6-.2.7.9-1.6.1-1.6.1z"/>
<path class="o8" d="M97.3 90.2l1.6-.1 1.6 0 1.7.1 1.6 0 1.6.1 1.6.1 1.6 0 1.6.2 1.6.1.8 1.1-1.7-.2-1.6-.1-1.6-.1-1.6-.1-1.6-.1-1.7 0-1.6-.1-1.6 0-1.6 0z"/>
<path class="o7" d="M111.8 90.7l1.7.3 1.6.3.7 1.2-1.6-.4-1.6-.3z"/>
<path class="o6" d="M115.1 91.3l1.6.4.7 1.3-1.6-.5z"/>
<path class="o4" d="M116.7 91.7l1.6.5.8 1.2-1.7-.4z"/>
<path class="o3" d="M118.3 92.2l1.6-.1.8 1.8-1.6-.5z"/>
<path class="o5" d="M119.9 92.1l1.7-.9.7 1.9-1.6.8z"/>
<path class="o8" d="M121.6 91.2l1.6-1 .8 1.8-1.7 1.1z"/>
<path class="o11" d="M123.2 90.2l1.6-.9.8 1.8-1.6.9z"/>
<path class="o12" d="M124.8 89.3l1.7-.7.7 2-1.6.5z"/>
<path class="o13" d="M126.5 88.6l1.6-.2 1.6.3.8 2.7-1.6-.6-1.7-.2z"/>
<path class="o12" d="M129.7 88.7l1.6.5.8 3-1.6-.8z"/>
<path class="o10" d="M131.3 89.2l1.7.7 1.6.7.8 1.1-1.6.9-1.7-.4z"/>
<path class="o11" d="M134.6 90.6l1.6.2.8 0-1.6.9z"/>
<path class="o12" d="M136.2 90.8l1.7-.7.8-.1-1.7.8z"/>
<path class="o14" d="M137.9 90.1l1.6-.8.8 0-1.6.7z"/>
<path class="o15" d="M139.5 89.3l1.6-.5.9.2-1.7.3z"/>
<path class="o16" d="M141.1 88.8l1.7-.3.8.4-1.6.1z"/></g>
<g class="s"><path class="b26" d="M49.4 27.7l1.5 0 1.4-.4 1.5-.5.4 0-1.4.4-1.5.4-1.4.3z"/>
<path class="b27" d="M53.8 26.8l1.4-.5 1.4-.5.5.6-1.4.1-1.5.3z"/>
<path class="b28" d="M56.6 25.8l1.5-.3 1.4-.3 1.5-.6.5 1.5-1.5.4-1.4 0-1.5-.1z"/>
<path class="b29" d="M61 24.6l1.4-1.1.5 1.6-1.4 1z"/>
<path class="b30" d="M62.4 23.5l1.4-1.9.5 2.1-1.4 1.4z"/>
<path class="b32" d="M63.8 21.6l1.5-2.4.5 3.8-1.5.7z"/>
<path class="b33" d="M65.3 19.2l1.4-.4.6 4.9-1.5-.7z"/>
<path class="b32" d="M66.7 18.8l1.5 2.1.5 4.1-1.4-1.3z"/>
<path class="b30" d="M68.2 20.9l1.4 2.2.6 3.2-1.5-1.3z"/>
<path class="b29" d="M69.6 23.1l1.5 1.8.6 2.5-1.5-1.1z"/>
<path class="b27" d="M71.1 24.9l1.5 1.5.5 2.1-1.4-1.1z"/>
<path class="b26" d="M72.6 26.4l1.4 1.3.6 1.9-1.5-1.1z"/>
<path class="b25" d="M74 27.7l1.5 1.3.5 1.6-1.4-1z"/>
<path class="b24" d="M75.5 29l1.5 1.1.5 1.4-1.5-.9z"/>
<path class="b23" d="M77 30.1l1.4.9.6 1.3-1.5-.8z"/>
<path class="b22" d="M78.4 31l1.5.8.5 1.1-1.4-.6z"/>
<path class="b21" d="M79.9 31.8l1.4.5 1.5.4 1.5.2 1.4-.1 1.5-.1.6.4-1.5.3-1.5.1-1.4 0-1.5-.2-1.5-.4z"/>
<path class="b22" d="M87.2 32.7l1.4-.4 1.5-.6.6.2-1.5.7-1.4.5z"/>
<path class="b23" d="M90.1 31.7l1.5-.8.6.2-1.5.8z"/>
<path class="b24" d="M91.6 30.9l1.4-.9.6.2-1.4.9z"/>
<path class="b25" d="M93 30l1.5-1.1.6.4-1.5.9z"/>
<path class="b26" d="M94.5 28.9l1.5-1.2.6.6-1.5 1z"/>
<path class="b27" d="M96 27.7l1.4-1.3.6.9-1.4 1z"/>
<path class="b29" d="M97.4 26.4l1.5-1.7.6 1.4-1.5 1.2z"/>
<path class="b30" d="M98.9 24.7l1.5-2 .6 2.4-1.5 1z"/>
<path class="b31" d="M100.4 22.7l1.4-2 .7 4.5-1.5-.1z"/>
<path class="b32" d="M101.8 20.7l1.5.6.6 5.4-1.4-1.5z"/>
<path class="b30" d="M103.3 21.3l1.5 2.5.6 4.3-1.5-1.4z"/>
<path class="b28" d="M104.8 23.8l1.4 2.1.7 3.1-1.5-.9z"/>
<path class="b27" d="M106.2 25.9l1.5 1.3 1.5.7.6 1.4-1.4-.1-1.5-.2z"/>
<path class="b26" d="M109.2 27.9l1.5.5 1.4.4 1.5.6.7.8-1.5-.5-1.5-.3-1.5-.1z"/>
<path class="b25" d="M113.6 29.4l1.5.7 1.5.6.7.6-1.5-.5-1.5-.6z"/>
<path class="b24" d="M116.6 30.7l1.4.5 1.5.2.7.1-1.5 0-1.4-.2z"/>
<path class="b26" d="M49.9 27.9l1.4-.3.5-.3-1.5.3z"/>
<path class="b27" d="M51.3 27.6l1.5-.4 1.4-.4 1.5-.3 1.4-.1.5 2.3-1.5-1-1.4-.5-1.5-.1-1.4.2z"/>
<path class="b26" d="M57.1 26.4l1.5.1 1.4 0 .5 4.3-1.4-1-1.5-1.1z"/>
<path class="b25" d="M60 26.5l1.5-.4.5 5.2-1.5-.5z"/>
<path class="b26" d="M61.5 26.1l1.4-1 .5 6.1-1.4.1z"/>
<path class="b27" d="M62.9 25.1l1.4-1.4 1.5-.7.6 7.3-1.5.4-1.5.5z"/>
<path class="b28" d="M65.8 23l1.5.7.5 6.3-1.4.3z"/>
<path class="b27" d="M67.3 23.7l1.4 1.3 1.5 1.3.5 3.7-1.4-.1-1.5.1z"/>
<path class="b26" d="M70.2 26.3l1.5 1.1.5 2.9-1.5-.3z"/>
<path class="b25" d="M71.7 27.4l1.4 1.1.6 2.2-1.5-.4z"/>
<path class="b24" d="M73.1 28.5l1.5 1.1 1.4 1 .6 1.5-1.5-.7-1.4-.7z"/>
<path class="b23" d="M76 30.6l1.5.9.6 1.2-1.5-.6z"/>
<path class="b22" d="M77.5 31.5l1.5.8.5.9-1.4-.5z"/>
<path class="b21" d="M79 32.3l1.4.6 1.5.4 1.5.2 1.4 0 1.5-.1 1.5-.3.5.2-1.4.3-1.5.3-1.5 0-1.4-.1-1.5-.2-1.5-.4z"/>
<path class="b22" d="M87.8 33.1l1.4-.5 1.5-.7.6.4-1.5.5-1.5.5z"/>
<path class="b23" d="M90.7 31.9l1.5-.8.6.8-1.5.4z"/>
<path class="b24" d="M92.2 31.1l1.4-.9 1.5-.9.6 2.1-1.5.1-1.4.4z"/>
<path class="b25" d="M95.1 29.3l1.5-1 1.4-1 .7 4.5-1.5-.3-1.5-.1z"/>
<path class="b26" d="M98 27.3l1.5-1.2 1.5-1 1.5.1 1.4 1.5.7 7-1.5-.3-1.5-.6-1.5-.6-1.4-.4z"/>
<path class="b25" d="M103.9 26.7l1.5 1.4 1.5.9 1.5.2 1.4.1.7 1.4-1.5.8-1.5 1-1.5.9-1.4.3z"/>
<path class="b26" d="M109.8 29.3l1.5.1 1.5.3.7.6-1.5 0-1.5.4z"/>
<path class="b25" d="M112.8 29.7l1.5.5 1.5.6 1.5.5.6 0-1.5-.3-1.4-.4-1.5-.3z"/>
<path class="b24" d="M117.3 31.3l1.4.2 1.5 0 .7-.3-1.5.1-1.5 0z"/>
<path class="b27" d="M50.3 27.6l1.5-.3 1.4-.2 1.5.1.5 1.3-1.5-1-1.5-.4-1.4.1z"/>
<path class="b26" d="M54.7 27.2l1.4.5.5 2.7-1.4-1.9z"/>
<path class="b25" d="M56.1 27.7l1.5 1 .5 4-1.5-2.3z"/>
<path class="b23" d="M57.6 28.7l1.5 1.1.5 5.4-1.5-2.5z"/>
<path class="b21" d="M59.1 29.8l1.4 1 .6 6.4-1.5-2z"/>
<path class="b20" d="M60.5 30.8l1.5.5.5 7-1.4-1.1z"/>
<path class="b19" d="M62 31.3l1.4-.1.6 7.2-1.5-.1z"/>
<path class="b20" d="M63.4 31.2l1.5-.5.6 6.9-1.5.8z"/>
<path class="b21" d="M64.9 30.7l1.5-.4.5 5.9-1.4 1.4z"/>
<path class="b22" d="M66.4 30.3l1.4-.3.6 4.7-1.5 1.5z"/>
<path class="b23" d="M67.8 30l1.5-.1 1.4.1.6 2.6-1.5.8-1.4 1.3z"/>
<path class="b24" d="M70.7 30l1.5.3.5 2-1.4.3z"/>
<path class="b23" d="M72.2 30.3l1.5.4 1.4.7 1.5.7.5.9-1.4-.4-1.5-.3-1.5 0z"/>
<path class="b22" d="M76.6 32.1l1.5.6 1.4.5.6.5-1.5-.3-1.5-.4z"/>
<path class="b21" d="M79.5 33.2l1.5.4 1.5.2 1.4.1 1.5 0 1.5-.3.5.2-1.4.1-1.5.1-1.5 0-1.4-.1-1.5-.2z"/>
<path class="b22" d="M86.9 33.6l1.4-.3 1.5-.5 1.5-.5.6 1-1.5.1-1.5.1-1.5.3z"/>
<path class="b23" d="M91.3 32.3l1.5-.4 1.4-.4.6 2.9-1.4-.8-1.5-.3z"/>
<path class="b22" d="M94.2 31.5l1.5-.1.6 4.2-1.5-1.2z"/>
<path class="b21" d="M95.7 31.4l1.5.1 1.5.3.6 7-1.5-1.6-1.5-1.6z"/>
<path class="b20" d="M98.7 31.8l1.4.4.7 8-1.5-1.4z"/>
<path class="b19" d="M100.1 32.2l1.5.6.6 8-1.4-.6z"/>
<path class="b18" d="M101.6 32.8l1.5.6.6 6.9-1.5.5z"/>
<path class="b19" d="M103.1 33.4l1.5.3.6 5.2-1.5 1.4z"/>
<path class="b20" d="M104.6 33.7l1.4-.3.7 3.3-1.5 2.2z"/>
<path class="b21" d="M106 33.4l1.5-.9.7 1.8-1.5 2.4z"/>
<path class="b23" d="M107.5 32.5l1.5-1 .7.8-1.5 2z"/>
<path class="b25" d="M109 31.5l1.5-.8 1.5-.4.7.1-1.5.6-1.5 1.3z"/>
<path class="b26" d="M112 30.3l1.5 0 1.5.3.6.1-1.4-.3-1.5 0z"/>
<path class="b25" d="M115 30.6l1.4.4 1.5.3 1.5 0 1.5-.1.7-.5-1.5.3-1.5.1-1.5-.1-1.5-.3z"/>
<path class="b28" d="M50.8 27.2l1.4-.1.5.1-1.4-.2z"/>
<path class="b27" d="M52.2 27.1l1.5.4.5.9-1.5-1.2z"/>
<path class="b26" d="M53.7 27.5l1.5 1 .5 2.1-1.5-2.2z"/>
<path class="b24" d="M55.2 28.5l1.4 1.9.6 3.4-1.5-3.2z"/>
<path class="b21" d="M56.6 30.4l1.5 2.3.5 4.8-1.4-3.7z"/>
<path class="b18" d="M58.1 32.7l1.5 2.5.5 5.6-1.5-3.3z"/>
<path class="b15" d="M59.6 35.2l1.5 2 .5 5.9-1.5-2.3z"/>
<path class="b13" d="M61.1 37.2l1.4 1.1 1.5.1.5 4.8-1.4.7-1.5-.8z"/>
<path class="b14" d="M64 38.4l1.5-.8.5 3.8-1.5 1.8z"/>
<path class="b16" d="M65.5 37.6l1.4-1.4.5 2.9-1.4 2.3z"/>
<path class="b18" d="M66.9 36.2l1.5-1.5.5 2.1-1.5 2.3z"/>
<path class="b20" d="M68.4 34.7l1.4-1.3.5 1.6-1.4 1.8z"/>
<path class="b21" d="M69.8 33.4l1.5-.8.5 1.3-1.5 1.1z"/>
<path class="b22" d="M71.3 32.6l1.4-.3 1.5 0 1.5.3 1.4.4 1.5.4 1.5.3 1.5.2 1.4.1 1.5 0 1.5-.1 1.4-.1 1.5-.3 1.5-.1 1.5-.1.6 1.8-1.5-.8-1.5-.3-1.5-.2-1.4 0-1.5 0-1.5 0-1.5-.1-1.5-.1-1.4-.1-1.5-.2-1.5-.1-1.5-.1-1.4.2-1.5.6z"/>
<path class="b21" d="M91.9 33.3l1.5.3.6 2.8-1.5-1.3z"/>
<path class="b20" d="M93.4 33.6l1.4.8.6 4-1.4-2z"/>
<path class="b18" d="M94.8 34.4l1.5 1.2.6 5.2-1.5-2.4z"/>
<path class="b16" d="M96.3 35.6l1.5 1.6.6 6.1-1.5-2.5z"/>
<path class="b14" d="M97.8 37.2l1.5 1.6.6 6.5-1.5-2z"/>
<path class="b12" d="M99.3 38.8l1.5 1.4.6 6-1.5-.9z"/>
<path class="b11" d="M100.8 40.2l1.4.6.7 4.7-1.5.7z"/>
<path class="b12" d="M102.2 40.8l1.5-.5.7 3.1-1.5 2.1z"/>
<path class="b15" d="M103.7 40.3l1.5-1.4.6 1.2-1.4 3.3z"/>
<path class="b18" d="M105.2 38.9l1.5-2.2.6-.1-1.5 3.5z"/>
<path class="b21" d="M106.7 36.7l1.5-2.4.6-.8-1.5 3.1z"/>
<path class="b23" d="M108.2 34.3l1.5-2 .6-.9-1.5 2.1z"/>
<path class="b25" d="M109.7 32.3l1.5-1.3.6-.6-1.5 1z"/>
<path class="b26" d="M111.2 31l1.5-.6 1.5 0 1.4.3 1.5.3 1.5.1 1.5-.1 1.5-.3.7-.2-1.5.3-1.5.4-1.5.1-1.5-.2-1.5-.5-1.5-.3-1.5.1z"/>
<path class="b28" d="M51.3 27l1.4.2.5 0-1.5-.3z"/>
<path class="b27" d="M52.7 27.2l1.5 1.2.5.6-1.5-1.8z"/>
<path class="b25" d="M54.2 28.4l1.5 2.2.5 1.7-1.5-3.3z"/>
<path class="b22" d="M55.7 30.6l1.5 3.2.5 2.7-1.5-4.2z"/>
<path class="b18" d="M57.2 33.8l1.4 3.7.6 3.3-1.5-4.3z"/>
<path class="b13" d="M58.6 37.5l1.5 3.3.6 3.4-1.5-3.4z"/>
<path class="b10" d="M60.1 40.8l1.5 2.3.5 2.8-1.4-1.7z"/>
<path class="b8" d="M61.6 43.1l1.5.8.5 1.9-1.5.1z"/>
<path class="b9" d="M63.1 43.9l1.4-.7.6 1.1-1.5 1.5z"/>
<path class="b11" d="M64.5 43.2l1.5-1.8.5.4-1.4 2.5z"/>
<path class="b14" d="M66 41.4l1.4-2.3.6 0-1.5 2.7z"/>
<path class="b17" d="M67.4 39.1l1.5-2.3.5 0-1.4 2.3z"/>
<path class="b19" d="M68.9 36.8l1.4-1.8.6.1-1.5 1.7z"/>
<path class="b21" d="M70.3 35l1.5-1.1.5.1-1.4 1.1z"/>
<path class="b22" d="M71.8 33.9l1.5-.6 1.4-.2.6 0-1.5.3-1.5.6z"/>
<path class="b23" d="M74.7 33.1l1.5.1 1.5.1 1.5.2 1.4.1 1.5.1 1.5.1.6-.6-1.5-.2-1.5-.1-1.5 0-1.5 0-1.4.1-1.5.1z"/>
<path class="b22" d="M83.6 33.8l1.5 0 1.5 0 1.4 0 1.5.2.6.6-1.5-.6-1.5-.3-1.4-.3-1.5-.2z"/>
<path class="b21" d="M89.5 34l1.5.3 1.5.8.6 2.1-1.5-1.6-1.5-1z"/>
<path class="b19" d="M92.5 35.1l1.5 1.3.6 3-1.5-2.2z"/>
<path class="b17" d="M94 36.4l1.4 2 .7 3.7-1.5-2.7z"/>
<path class="b14" d="M95.4 38.4l1.5 2.4.7 4.2-1.5-2.9z"/>
<path class="b11" d="M96.9 40.8l1.5 2.5.6 3.9-1.4-2.2z"/>
<path class="b8" d="M98.4 43.3l1.5 2 .6 3-1.5-1.1z"/>
<path class="b7" d="M99.9 45.3l1.5.9.6 1.4-1.5.7z"/>
<path class="b8" d="M101.4 46.2l1.5-.7.6-.3-1.5 2.4z"/>
<path class="b11" d="M102.9 45.5l1.5-2.1.6-2-1.5 3.8z"/>
<path class="b15" d="M104.4 43.4l1.4-3.3.7-3-1.5 4.3z"/>
<path class="b20" d="M105.8 40.1l1.5-3.5.7-3.2-1.5 3.7z"/>
<path class="b23" d="M107.3 36.6l1.5-3.1.7-2.6-1.5 2.5z"/>
<path class="b25" d="M108.8 33.5l1.5-2.1.7-1.4-1.5.9z"/>
<path class="b26" d="M110.3 31.4l1.5-1 1.5-.1 1.5.3.7 1.6-1.5-1-1.5-.9-1.5-.3z"/>
<path class="b25" d="M114.8 30.6l1.5.5 1.5.2 1.5-.1.7.7-1.5.7-1.5.1-1.5-.5z"/>
<path class="b26" d="M119.3 31.2l1.5-.4.7.1-1.5 1z"/>
<path class="b27" d="M120.8 30.8l1.5-.3.7-.2-1.5.6z"/>
<path class="b29" d="M51.7 26.9l1.5.3.4-1.1-1.4-.3z"/>
<path class="b28" d="M53.2 27.2l1.5 1.8.4-.5-1.5-2.4z"/>
<path class="b25" d="M54.7 29l1.5 3.3.4.5-1.5-4.3z"/>
<path class="b21" d="M56.2 32.3l1.5 4.2.5 1-1.6-4.7z"/>
<path class="b16" d="M57.7 36.5l1.5 4.3.5.7-1.5-4z"/>
<path class="b12" d="M59.2 40.8l1.5 3.4.4-.1-1.4-2.6z"/>
<path class="b9" d="M60.7 44.2l1.4 1.7.5-1-1.5-.8z"/>
<path class="b8" d="M62.1 45.9l1.5-.1.5-1.7-1.5.8z"/>
<path class="b10" d="M63.6 45.8l1.5-1.5.4-2.1-1.4 1.9z"/>
<path class="b13" d="M65.1 44.3l1.4-2.5.5-2-1.5 2.4z"/>
<path class="b16" d="M66.5 41.8l1.5-2.7.5-1.5-1.5 2.2z"/>
<path class="b18" d="M68 39.1l1.4-2.3.5-1.1-1.4 1.9z"/>
<path class="b20" d="M69.4 36.8l1.5-1.7.5-.7-1.5 1.3z"/>
<path class="b22" d="M70.9 35.1l1.4-1.1.6-.6-1.5 1z"/>
<path class="b23" d="M72.3 34l1.5-.6 1.5-.3.5-.8-1.4.5-1.5.6z"/>
<path class="b24" d="M75.3 33.1l1.5-.1 1.4-.1 1.5 0 1.5 0 1.5.1 1.5.2 1.5.2.5-.5-1.5-.5-1.4-.4-1.5-.3-1.5-.1-1.5.1-1.5.3-1.5.3z"/>
<path class="b23" d="M85.7 33.4l1.4.3 1.5.3.6.4-1.5-.8-1.5-.7z"/>
<path class="b22" d="M88.6 34l1.5.6.6.9-1.5-1.1z"/>
<path class="b21" d="M90.1 34.6l1.5 1 .6 1.4-1.5-1.5z"/>
<path class="b19" d="M91.6 35.6l1.5 1.6.6 1.8-1.5-2z"/>
<path class="b17" d="M93.1 37.2l1.5 2.2.6 2.1-1.5-2.5z"/>
<path class="b14" d="M94.6 39.4l1.5 2.7.6 1.9-1.5-2.5z"/>
<path class="b11" d="M96.1 42.1l1.5 2.9.6 1.1-1.5-2.1z"/>
<path class="b8" d="M97.6 45l1.4 2.2.7-.1-1.5-1z"/>
<path class="b7" d="M99 47.2l1.5 1.1.7-1.9-1.5.7z"/>
<path class="b8" d="M100.5 48.3l1.5-.7.7-3.6-1.5 2.4z"/>
<path class="b11" d="M102 47.6l1.5-2.4.7-5.1-1.5 3.9z"/>
<path class="b16" d="M103.5 45.2l1.5-3.8.7-6-1.5 4.7z"/>
<path class="b21" d="M105 41.4l1.5-4.3.7-5.8-1.5 4.1z"/>
<path class="b25" d="M106.5 37.1l1.5-3.7.7-4.4-1.5 2.3z"/>
<path class="b27" d="M108 33.4l1.5-2.5 1.5-.9 1.5.3.7 2.1-1.5-2.1-1.5-1.5-1.5.2z"/>
<path class="b25" d="M112.5 30.3l1.5.9.7 3.2-1.5-2z"/>
<path class="b24" d="M114 31.2l1.5 1 .7 3.4-1.5-1.2z"/>
<path class="b23" d="M115.5 32.2l1.5.5.7 2.9-1.5 0z"/>
<path class="b24" d="M117 32.7l1.5-.1.7 1.9-1.5 1.1z"/>
<path class="b25" d="M118.5 32.6l1.5-.7.7.7-1.5 1.9z"/>
<path class="b26" d="M120 31.9l1.5-1 .7-.3-1.5 2z"/>
<path class="b28" d="M121.5 30.9l1.5-.6.8-1.1-1.6 1.4z"/>
<path class="b32" d="M52.2 25.8l1.4.3.5-2.4-1.5-.8z"/>
<path class="b30" d="M53.6 26.1l1.5 2.4.5-.9-1.5-3.9z"/>
<path class="b26" d="M55.1 28.5l1.5 4.3.5-.4-1.5-4.8z"/>
<path class="b21" d="M56.6 32.8l1.6 4.7.4-.7-1.5-4.4z"/>
<path class="b17" d="M58.2 37.5l1.5 4 .4-1.6-1.5-3.1z"/>
<path class="b13" d="M59.7 41.5l1.4 2.6.5-2.5-1.5-1.7z"/>
<path class="b12" d="M61.1 44.1l1.5.8 1.5-.8.5-3.4-1.5 1-1.5-.1z"/>
<path class="b14" d="M64.1 44.1l1.4-1.9.5-3.1-1.4 1.6z"/>
<path class="b16" d="M65.5 42.2l1.5-2.4.5-2.5-1.5 1.8z"/>
<path class="b19" d="M67 39.8l1.5-2.2.5-1.9-1.5 1.6z"/>
<path class="b21" d="M68.5 37.6l1.4-1.9.6-1.4-1.5 1.4z"/>
<path class="b22" d="M69.9 35.7l1.5-1.3.5-1.1-1.4 1z"/>
<path class="b23" d="M71.4 34.4l1.5-1 .5-1.1-1.5 1z"/>
<path class="b24" d="M72.9 33.4l1.5-.6.5-1.3-1.5.8z"/>
<path class="b25" d="M74.4 32.8l1.4-.5.6-1.6-1.5.8z"/>
<path class="b26" d="M75.8 32.3l1.5-.3 1.5-.3 1.5-.1 1.5.1 1.5.3.5-1.2-1.5-.7-1.5-.4-1.4.1-1.5.3-1.5.6z"/>
<path class="b25" d="M83.3 32l1.4.4 1.5.5.6-.3-1.5-.9-1.5-.9z"/>
<path class="b24" d="M86.2 32.9l1.5.7.6.1-1.5-1.1z"/>
<path class="b23" d="M87.7 33.6l1.5.8.6.4-1.5-1.1z"/>
<path class="b22" d="M89.2 34.4l1.5 1.1.6.7-1.5-1.4z"/>
<path class="b20" d="M90.7 35.5l1.5 1.5.6.9-1.5-1.7z"/>
<path class="b18" d="M92.2 37l1.5 2 .6.8-1.5-1.9z"/>
<path class="b16" d="M93.7 39l1.5 2.5.6.2-1.5-1.9z"/>
<path class="b14" d="M95.2 41.5l1.5 2.5.6-.8-1.5-1.5z"/>
<path class="b12" d="M96.7 44l1.5 2.1.6-2.2-1.5-.7z"/>
<path class="b11" d="M98.2 46.1l1.5 1 .6-3.9-1.5.7z"/>
<path class="b12" d="M99.7 47.1l1.5-.7.6-5.5-1.5 2.3z"/>
<path class="b14" d="M101.2 46.4l1.5-2.4.6-6.7-1.5 3.6z"/>
<path class="b19" d="M102.7 44l1.5-3.9.6-7.4-1.5 4.6z"/>
<path class="b24" d="M104.2 40.1l1.5-4.7.6-7.3-1.5 4.6z"/>
<path class="b28" d="M105.7 35.4l1.5-4.1.6-5.6-1.5 2.4z"/>
<path class="b30" d="M107.2 31.3l1.5-2.3.7-2.2-1.6-1.1z"/>
<path class="b29" d="M108.7 29l1.5-.2.7 1.4-1.5-3.4z"/>
<path class="b27" d="M110.2 28.8l1.5 1.5.6 3.8-1.4-3.9z"/>
<path class="b24" d="M111.7 30.3l1.5 2.1.6 5.1-1.5-3.4z"/>
<path class="b22" d="M113.2 32.4l1.5 2 .6 5.3-1.5-2.2z"/>
<path class="b20" d="M114.7 34.4l1.5 1.2 1.5 0 .7 3.3-1.5 1.3-1.6-.5z"/>
<path class="b22" d="M117.7 35.6l1.5-1.1.7 1.6-1.5 2.8z"/>
<path class="b24" d="M119.2 34.5l1.5-1.9.7-.1-1.5 3.6z"/>
<path class="b27" d="M120.7 32.6l1.5-2 .8-1.8-1.6 3.7z"/>
<path class="b30" d="M122.2 30.6l1.6-1.4.7-2.9-1.5 2.5z"/>
<path class="b33" d="M52.6 22.9l1.5.8.5.7-1.5-2.7z"/>
<path class="b31" d="M54.1 23.7l1.5 3.9.5.8-1.5-4z"/>
<path class="b27" d="M55.6 27.6l1.5 4.8.5 0-1.5-4z"/>
<path class="b22" d="M57.1 32.4l1.5 4.4.5-1.2-1.5-3.2z"/>
<path class="b19" d="M58.6 36.8l1.5 3.1.5-2.3-1.5-2z"/>
<path class="b17" d="M60.1 39.9l1.5 1.7.5-3.1-1.5-.9z"/>
<path class="b16" d="M61.6 41.6l1.5.1.5-3.3-1.5.1z"/>
<path class="b17" d="M63.1 41.7l1.5-1 .5-3.1-1.5.8z"/>
<path class="b18" d="M64.6 40.7l1.4-1.6.5-2.6-1.4 1.1z"/>
<path class="b20" d="M66 39.1l1.5-1.8.5-2-1.5 1.2z"/>
<path class="b21" d="M67.5 37.3l1.5-1.6.5-1.5-1.5 1.1z"/>
<path class="b23" d="M69 35.7l1.5-1.4.5-1.3-1.5 1.2z"/>
<path class="b24" d="M70.5 34.3l1.4-1 .6-1.4-1.5 1.1z"/>
<path class="b25" d="M71.9 33.3l1.5-1 .6-1.7-1.5 1.3z"/>
<path class="b26" d="M73.4 32.3l1.5-.8.5-2.1-1.4 1.2z"/>
<path class="b27" d="M74.9 31.5l1.5-.8.5-2.5-1.5 1.2z"/>
<path class="b28" d="M76.4 30.7l1.5-.6.5-2.8-1.5.9z"/>
<path class="b29" d="M77.9 30.1l1.5-.3 1.4-.1 1.5.4.6-1.6-1.5-1-1.5-.5-1.5.3z"/>
<path class="b28" d="M82.3 30.1l1.5.7.6-.9-1.5-1.4z"/>
<path class="b27" d="M83.8 30.8l1.5.9.6-.4-1.5-1.4z"/>
<path class="b26" d="M85.3 31.7l1.5.9.6.1-1.5-1.4z"/>
<path class="b24" d="M86.8 32.6l1.5 1.1.6.3-1.5-1.3z"/>
<path class="b23" d="M88.3 33.7l1.5 1.1.6.6-1.5-1.4z"/>
<path class="b22" d="M89.8 34.8l1.5 1.4.6.5-1.5-1.3z"/>
<path class="b20" d="M91.3 36.2l1.5 1.7.6.2-1.5-1.4z"/>
<path class="b19" d="M92.8 37.9l1.5 1.9.6-.5-1.5-1.2z"/>
<path class="b17" d="M94.3 39.8l1.5 1.9.6-1.5-1.5-.9z"/>
<path class="b16" d="M95.8 41.7l1.5 1.5.6-2.7-1.5-.3z"/>
<path class="b15" d="M97.3 43.2l1.5.7.6-4.1-1.5.7z"/>
<path class="b16" d="M98.8 43.9l1.5-.7.6-5.3-1.5 1.9z"/>
<path class="b18" d="M100.3 43.2l1.5-2.3.7-6.1-1.6 3.1z"/>
<path class="b22" d="M101.8 40.9l1.5-3.6.7-6.3-1.5 3.8z"/>
<path class="b26" d="M103.3 37.3l1.5-4.6.7-5.7-1.5 4z"/>
<path class="b30" d="M104.8 32.7l1.5-4.6.7-3.6-1.5 2.5z"/>
<path class="b32" d="M106.3 28.1l1.5-2.4.7.6-1.5-1.8z"/>
<path class="b31" d="M107.8 25.7l1.6 1.1.6 4.1-1.5-4.6z"/>
<path class="b27" d="M109.4 26.8l1.5 3.4.6 5.9-1.5-5.2z"/>
<path class="b23" d="M110.9 30.2l1.4 3.9.7 6.7-1.5-4.7z"/>
<path class="b19" d="M112.3 34.1l1.5 3.4.7 6.5-1.5-3.2z"/>
<path class="b16" d="M113.8 37.5l1.5 2.2.7 5.5-1.5-1.2z"/>
<path class="b15" d="M115.3 39.7l1.6.5.6 3.9-1.5 1.1z"/>
<path class="b17" d="M116.9 40.2l1.5-1.3.7 2.1-1.6 3.1z"/>
<path class="b20" d="M118.4 38.9l1.5-2.8.7.3-1.5 4.6z"/>
<path class="b25" d="M119.9 36.1l1.5-3.6.7-1.2-1.5 5.1z"/>
<path class="b29" d="M121.4 32.5l1.6-3.7.7-2.1-1.6 4.6z"/>
<path class="b32" d="M123 28.8l1.5-2.5.7-1.3-1.5 1.7z"/>
<path class="b32" d="M53.1 21.7l1.5 2.7.5 3-1.5-2z"/>
<path class="b30" d="M54.6 24.4l1.5 4 .5 1.7-1.5-2.7z"/>
<path class="b26" d="M56.1 28.4l1.5 4 .5.3-1.5-2.6z"/>
<path class="b23" d="M57.6 32.4l1.5 3.2.5-.9-1.5-2z"/>
<path class="b21" d="M59.1 35.6l1.5 2 .5-1.7-1.5-1.2z"/>
<path class="b20" d="M60.6 37.6l1.5.9 1.5-.1 1.5-.8.5-1.8-1.5.5-1.5.1-1.5-.5z"/>
<path class="b21" d="M65.1 37.6l1.4-1.1.6-1.4-1.5.7z"/>
<path class="b22" d="M66.5 36.5l1.5-1.2.5-1.2-1.4 1z"/>
<path class="b23" d="M68 35.3l1.5-1.1.5-1.2-1.5 1.1z"/>
<path class="b25" d="M69.5 34.2l1.5-1.2.5-1.4-1.5 1.4z"/>
<path class="b26" d="M71 33l1.5-1.1.5-1.8-1.5 1.5z"/>
<path class="b28" d="M72.5 31.9l1.5-1.3.5-2.4-1.5 1.9z"/>
<path class="b29" d="M74 30.6l1.4-1.2.6-3.1-1.5 1.9z"/>
<path class="b31" d="M75.4 29.4l1.5-1.2.6-3.6-1.5 1.7z"/>
<path class="b32" d="M76.9 28.2l1.5-.9 1.5-.3 1.5.5.6-1.9-1.5-1.5-1.5-.5-1.5 1z"/>
<path class="b31" d="M81.4 27.5l1.5 1 .6-.8-1.5-2.1z"/>
<path class="b29" d="M82.9 28.5l1.5 1.4.6-.1-1.5-2.1z"/>
<path class="b27" d="M84.4 29.9l1.5 1.4.6.4-1.5-1.9z"/>
<path class="b26" d="M85.9 31.3l1.5 1.4.6.6-1.5-1.6z"/>
<path class="b24" d="M87.4 32.7l1.5 1.3.6.7-1.5-1.4z"/>
<path class="b23" d="M88.9 34l1.5 1.4.6.5-1.5-1.2z"/>
<path class="b22" d="M90.4 35.4l1.5 1.3.6.2-1.5-1z"/>
<path class="b21" d="M91.9 36.7l1.5 1.4.6-.3-1.5-.9z"/>
<path class="b20" d="M93.4 38.1l1.5 1.2.6-1.1-1.5-.4z"/>
<path class="b19" d="M94.9 39.3l1.5.9 1.5.3.7-3-1.5.7-1.6 0z"/>
<path class="b20" d="M97.9 40.5l1.5-.7.7-3.8-1.5 1.5z"/>
<path class="b21" d="M99.4 39.8l1.5-1.9.7-4.1-1.5 2.2z"/>
<path class="b24" d="M100.9 37.9l1.6-3.1.6-3.6-1.5 2.6z"/>
<path class="b27" d="M102.5 34.8l1.5-3.8.6-2.1-1.5 2.3z"/>
<path class="b30" d="M104 31l1.5-4 .6.8-1.5 1.1z"/>
<path class="b32" d="M105.5 27l1.5-2.5.7 4.7-1.6-1.4z"/>
<path class="b30" d="M107 24.5l1.5 1.8.7 6.8-1.5-3.9z"/>
<path class="b27" d="M108.5 26.3l1.5 4.6.7 7.3-1.5-5.1z"/>
<path class="b22" d="M110 30.9l1.5 5.2.7 7.1-1.5-5z"/>
<path class="b16" d="M111.5 36.1l1.5 4.7.7 6.2-1.5-3.8z"/>
<path class="b13" d="M113 40.8l1.5 3.2.7 4.9-1.5-1.9z"/>
<path class="b11" d="M114.5 44l1.5 1.2.7 3.1-1.5.6z"/>
<path class="b12" d="M116 45.2l1.5-1.1.7 1.4-1.5 2.8z"/>
<path class="b15" d="M117.5 44.1l1.6-3.1.7.1-1.6 4.4z"/>
<path class="b20" d="M119.1 41l1.5-4.6.7-.5-1.5 5.2z"/>
<path class="b25" d="M120.6 36.4l1.5-5.1.8 0-1.6 4.6z"/>
<path class="b30" d="M122.1 31.3l1.6-4.6.7 1.9-1.5 2.7z"/>
<path class="b32" d="M123.7 26.7l1.5-1.7.7 3.7-1.5-.1z"/>
<path class="b30" d="M53.6 25.4l1.5 2 .5 2.7-1.5-1.4z"/>
<path class="b28" d="M55.1 27.4l1.5 2.7.5 1.7-1.5-1.7z"/>
<path class="b26" d="M56.6 30.1l1.5 2.6.5.7-1.5-1.6z"/>
<path class="b24" d="M58.1 32.7l1.5 2 .5-.1-1.5-1.2z"/>
<path class="b23" d="M59.6 34.7l1.5 1.2.5-.5-1.5-.8z"/>
<path class="b22" d="M61.1 35.9l1.5.5 1.5-.1 1.5-.5.5-.7-1.5.5-1.5.1-1.5-.3z"/>
<path class="b23" d="M65.6 35.8l1.5-.7.5-.7-1.5.7z"/>
<path class="b24" d="M67.1 35.1l1.4-1 .6-.8-1.5 1.1z"/>
<path class="b25" d="M68.5 34.1l1.5-1.1.6-1.1-1.5 1.4z"/>
<path class="b26" d="M70 33l1.5-1.4.5-1.5-1.4 1.8z"/>
<path class="b28" d="M71.5 31.6l1.5-1.5.5-2.2-1.5 2.2z"/>
<path class="b30" d="M73 30.1l1.5-1.9.5-2.9-1.5 2.6z"/>
<path class="b33" d="M74.5 28.2l1.5-1.9.5-3.8-1.5 2.8z"/>
<path class="b35" d="M76 26.3l1.5-1.7.5-4.4-1.5 2.3z"/>
<path class="b36" d="M77.5 24.6l1.5-1 .5-3.3-1.5-.1z"/>
<path class="b35" d="M79 23.6l1.5.5.5-1.4-1.5-2.4z"/>
<path class="b34" d="M80.5 24.1l1.5 1.5.6.1-1.6-3z"/>
<path class="b32" d="M82 25.6l1.5 2.1.6.8-1.5-2.8z"/>
<path class="b29" d="M83.5 27.7l1.5 2.1.6 1.1-1.5-2.4z"/>
<path class="b27" d="M85 29.8l1.5 1.9.6 1.2-1.5-2z"/>
<path class="b26" d="M86.5 31.7l1.5 1.6.6 1.1-1.5-1.5z"/>
<path class="b24" d="M88 33.3l1.5 1.4.6 1-1.5-1.3z"/>
<path class="b23" d="M89.5 34.7l1.5 1.2.6.7-1.5-.9z"/>
<path class="b22" d="M91 35.9l1.5 1 .6.3-1.5-.6z"/>
<path class="b21" d="M92.5 36.9l1.5.9 1.5.4 1.6 0 .6-1.5-1.5.6-1.5.2-1.6-.3z"/>
<path class="b22" d="M97.1 38.2l1.5-.7.6-1.9-1.5 1.1z"/>
<path class="b23" d="M98.6 37.5l1.5-1.5.6-1.8-1.5 1.4z"/>
<path class="b25" d="M100.1 36l1.5-2.2.6-1.3-1.5 1.7z"/>
<path class="b27" d="M101.6 33.8l1.5-2.6.7.1-1.6 1.2z"/>
<path class="b28" d="M103.1 31.2l1.5-2.3.7 2.1-1.5.3z"/>
<path class="b29" d="M104.6 28.9l1.5-1.1.7 4.5-1.5-1.3z"/>
<path class="b28" d="M106.1 27.8l1.6 1.4.6 6.1-1.5-3z"/>
<path class="b25" d="M107.7 29.2l1.5 3.9.6 6.4-1.5-4.2z"/>
<path class="b20" d="M109.2 33.1l1.5 5.1.6 5.8-1.5-4.5z"/>
<path class="b15" d="M110.7 38.2l1.5 5 .6 4.6-1.5-3.8z"/>
<path class="b11" d="M112.2 43.2l1.5 3.8.6 3-1.5-2.2z"/>
<path class="b8" d="M113.7 47l1.5 1.9.7 1.2-1.6-.1z"/>
<path class="b9" d="M115.2 48.9l1.5-.6.7-.3-1.5 2.1z"/>
<path class="b12" d="M116.7 48.3l1.5-2.8.7-1.2-1.5 3.7z"/>
<path class="b16" d="M118.2 45.5l1.6-4.4.7-1.3-1.6 4.5z"/>
<path class="b21" d="M119.8 41.1l1.5-5.2.7-.2-1.5 4.1z"/>
<path class="b26" d="M121.3 35.9l1.6-4.6.7 1.5-1.6 2.9z"/>
<path class="b29" d="M122.9 31.3l1.5-2.7 1.5.1.8 3.3-1.6-.4-1.5 1.2z"/>
<path class="b28" d="M54.1 28.7l1.5 1.4.5 2.3-1.5-1.1z"/>
<path class="b26" d="M55.6 30.1l1.5 1.7.5 1.8-1.5-1.2z"/>
<path class="b25" d="M57.1 31.8l1.5 1.6.5 1.2-1.5-1z"/>
<path class="b24" d="M58.6 33.4l1.5 1.2.5.8-1.5-.8z"/>
<path class="b23" d="M60.1 34.6l1.5.8.5.4-1.5-.4z"/>
<path class="b22" d="M61.6 35.4l1.5.3.5.2-1.5-.1z"/>
<path class="b23" d="M63.1 35.7l1.5-.1 1.5-.5.5 0-1.5.6-1.5.2z"/>
<path class="b24" d="M66.1 35.1l1.5-.7.5-.3-1.5 1z"/>
<path class="b25" d="M67.6 34.4l1.5-1.1.5-.5-1.5 1.3z"/>
<path class="b26" d="M69.1 33.3l1.5-1.4.5-.8-1.5 1.7z"/>
<path class="b28" d="M70.6 31.9l1.4-1.8.6-1.3-1.5 2.3z"/>
<path class="b30" d="M72 30.1l1.5-2.2.6-1.7-1.5 2.6z"/>
<path class="b33" d="M73.5 27.9l1.5-2.6.6-2.2-1.5 3.1z"/>
<path class="b36" d="M75 25.3l1.5-2.8.6-2.3-1.5 2.9z"/>
<path class="b38" d="M76.5 22.5l1.5-2.3 1.5.1.6 1.5-1.5-2.4-1.5.8z"/>
<path class="b36" d="M79.5 20.3l1.5 2.4.6 2.4-1.5-3.3z"/>
<path class="b33" d="M81 22.7l1.6 3 .5 2.4-1.5-3z"/>
<path class="b31" d="M82.6 25.7l1.5 2.8.6 2.2-1.6-2.6z"/>
<path class="b28" d="M84.1 28.5l1.5 2.4.6 2-1.5-2.2z"/>
<path class="b26" d="M85.6 30.9l1.5 2 .6 1.7-1.5-1.7z"/>
<path class="b25" d="M87.1 32.9l1.5 1.5.6 1.5-1.5-1.3z"/>
<path class="b23" d="M88.6 34.4l1.5 1.3.6 1.1-1.5-.9z"/>
<path class="b22" d="M90.1 35.7l1.5.9 1.5.6 1.6.3 1.5-.2 1.5-.6.6-.4-1.5.8-1.5.4-1.5.1-1.5-.2-1.6-.6z"/>
<path class="b23" d="M97.7 36.7l1.5-1.1.6-.3-1.5 1z"/>
<path class="b25" d="M99.2 35.6l1.5-1.4.7.1-1.6 1z"/>
<path class="b26" d="M100.7 34.2l1.5-1.7.7 1-1.5.8z"/>
<path class="b27" d="M102.2 32.5l1.6-1.2 1.5-.3.6 3.4-1.5-.9-1.5 0z"/>
<path class="b26" d="M105.3 31l1.5 1.3.7 4.2-1.6-2.1z"/>
<path class="b24" d="M106.8 32.3l1.5 3 .7 4.3-1.5-3.1z"/>
<path class="b20" d="M108.3 35.3l1.5 4.2.7 3.6-1.5-3.5z"/>
<path class="b16" d="M109.8 39.5l1.5 4.5.7 2.3-1.5-3.2z"/>
<path class="b12" d="M111.3 44l1.5 3.8.7.7-1.5-2.2z"/>
<path class="b9" d="M112.8 47.8l1.5 2.2 1.6.1.7-2.4-1.6 1.2-1.5-.4z"/>
<path class="b11" d="M115.9 50.1l1.5-2.1.7-2.9-1.5 2.6z"/>
<path class="b14" d="M117.4 48l1.5-3.7.8-2.6-1.6 3.4z"/>
<path class="b19" d="M118.9 44.3l1.6-4.5.7-1.4-1.5 3.3z"/>
<path class="b23" d="M120.5 39.8l1.5-4.1.8.1-1.6 2.6z"/>
<path class="b25" d="M122 35.7l1.6-2.9.7 1.6-1.5 1.4z"/>
<path class="b27" d="M123.6 32.8l1.5-1.2 1.6.4.7 2.6-1.6-.5-1.5.3z"/>
<path class="b26" d="M54.6 31.3l1.5 1.1.5 2.2-1.5-.9z"/>
<path class="b25" d="M56.1 32.4l1.5 1.2.5 1.8-1.5-.8z"/>
<path class="b24" d="M57.6 33.6l1.5 1 .5 1.5-1.5-.7z"/>
<path class="b23" d="M59.1 34.6l1.5.8 1.5.4.5.9-1.5-.2-1.5-.4z"/>
<path class="b22" d="M62.1 35.8l1.5.1.5.6-1.5.2z"/>
<path class="b23" d="M63.6 35.9l1.5-.2 1.5-.6.5.2-1.5.8-1.5.4z"/>
<path class="b24" d="M66.6 35.1l1.5-1 .5 0-1.5 1.2z"/>
<path class="b26" d="M68.1 34.1l1.5-1.3.5-.2-1.5 1.5z"/>
<path class="b27" d="M69.6 32.8l1.5-1.7.5-.3-1.5 1.8z"/>
<path class="b29" d="M71.1 31.1l1.5-2.3.5-.2-1.5 2.2z"/>
<path class="b32" d="M72.6 28.8l1.5-2.6.5.1-1.5 2.3z"/>
<path class="b34" d="M74.1 26.2l1.5-3.1.5 1.2-1.5 2z"/>
<path class="b36" d="M75.6 23.1l1.5-2.9.5 3.3-1.5.8z"/>
<path class="b37" d="M77.1 20.2l1.5-.8.6 5.1-1.6-1z"/>
<path class="b36" d="M78.6 19.4l1.5 2.4.6 4.8-1.5-2.1z"/>
<path class="b34" d="M80.1 21.8l1.5 3.3.6 4-1.5-2.5z"/>
<path class="b31" d="M81.6 25.1l1.5 3 .6 3.3-1.5-2.3z"/>
<path class="b29" d="M83.1 28.1l1.6 2.6.6 2.8-1.6-2.1z"/>
<path class="b26" d="M84.7 30.7l1.5 2.2.6 2.2-1.5-1.6z"/>
<path class="b25" d="M86.2 32.9l1.5 1.7.6 1.9-1.5-1.4z"/>
<path class="b23" d="M87.7 34.6l1.5 1.3.6 1.5-1.5-.9z"/>
<path class="b22" d="M89.2 35.9l1.5.9 1.6.6 1.5.2 1.5-.1 1.5-.4.6.4-1.5.6-1.5.3-1.5 0-1.6-.4-1.5-.6z"/>
<path class="b23" d="M96.8 37.1l1.5-.8.7.5-1.6.7z"/>
<path class="b24" d="M98.3 36.3l1.5-1 .7.8-1.5.7z"/>
<path class="b25" d="M99.8 35.3l1.6-1 1.5-.8 1.5 0 1.5.9.7 2.7-1.5-1.3-1.6-.4-1.5.1-1.5.6z"/>
<path class="b23" d="M105.9 34.4l1.6 2.1.6 2.5-1.5-1.9z"/>
<path class="b21" d="M107.5 36.5l1.5 3.1.6 1.7-1.5-2.3z"/>
<path class="b18" d="M109 39.6l1.5 3.5.7.5-1.6-2.3z"/>
<path class="b15" d="M110.5 43.1l1.5 3.2.7-1-1.5-1.7z"/>
<path class="b13" d="M112 46.3l1.5 2.2.7-2.6-1.5-.6z"/>
<path class="b12" d="M113.5 48.5l1.5.4.8-3.5-1.6.5z"/>
<path class="b13" d="M115 48.9l1.6-1.2.7-3.9-1.5 1.6z"/>
<path class="b15" d="M116.6 47.7l1.5-2.6.7-3.5-1.5 2.2z"/>
<path class="b18" d="M118.1 45.1l1.6-3.4.7-2.3-1.6 2.2z"/>
<path class="b21" d="M119.7 41.7l1.5-3.3.7-.9-1.5 1.9z"/>
<path class="b23" d="M121.2 38.4l1.6-2.6.7.6-1.6 1.1z"/>
<path class="b25" d="M122.8 35.8l1.5-1.4 1.5-.3 1.6.5.7 2.4-1.5-.7-1.6-.3-1.5.4z"/>
<path class="b24" d="M55.1 33.7l1.5.9.5 1.8-1.5-.7z"/>
<path class="b23" d="M56.6 34.6l1.5.8 1.5.7.5 1.3-1.5-.4-1.5-.6z"/>
<path class="b22" d="M59.6 36.1l1.5.4 1.5.2 1.5-.2.6.7-1.5.3-1.6.1-1.5-.2z"/>
<path class="b23" d="M64.1 36.5l1.5-.4 1.5-.8.6.3-1.5 1-1.5.6z"/>
<path class="b25" d="M67.1 35.3l1.5-1.2.6.4-1.5 1.1z"/>
<path class="b26" d="M68.6 34.1l1.5-1.5.6.4-1.5 1.5z"/>
<path class="b28" d="M70.1 32.6l1.5-1.8.6.7-1.5 1.5z"/>
<path class="b29" d="M71.6 30.8l1.5-2.2.6 1.3-1.5 1.6z"/>
<path class="b31" d="M73.1 28.6l1.5-2.3.6 2.3-1.5 1.3z"/>
<path class="b33" d="M74.6 26.3l1.5-2 1.5-.8 1.6 1 .6 5-1.6-1.2-1.5-.3-1.5.6z"/>
<path class="b32" d="M79.2 24.5l1.5 2.1.6 4.5-1.5-1.6z"/>
<path class="b30" d="M80.7 26.6l1.5 2.5.6 3.8-1.5-1.8z"/>
<path class="b28" d="M82.2 29.1l1.5 2.3.6 3.2-1.5-1.7z"/>
<path class="b26" d="M83.7 31.4l1.6 2.1.6 2.5-1.6-1.4z"/>
<path class="b24" d="M85.3 33.5l1.5 1.6.6 2.2-1.5-1.3z"/>
<path class="b23" d="M86.8 35.1l1.5 1.4.6 1.7-1.5-.9z"/>
<path class="b22" d="M88.3 36.5l1.5.9 1.5.6.7 1.2-1.6-.3-1.5-.7z"/>
<path class="b21" d="M91.3 38l1.6.4 1.5 0 .6.8-1.5.1-1.5-.1z"/>
<path class="b22" d="M94.4 38.4l1.5-.3 1.5-.6.7.8-1.6.5-1.5.4z"/>
<path class="b23" d="M97.4 37.5l1.6-.7 1.5-.7.6 1.1-1.5.6-1.5.5z"/>
<path class="b24" d="M100.5 36.1l1.5-.6 1.5-.1 1.6.4.6 1.6-1.5-.5-1.5 0-1.6.3z"/>
<path class="b23" d="M105.1 35.8l1.5 1.3.7 1.2-1.6-.9z"/>
<path class="b22" d="M106.6 37.1l1.5 1.9.7.5-1.5-1.2z"/>
<path class="b20" d="M108.1 39l1.5 2.3.7-.5-1.5-1.3z"/>
<path class="b18" d="M109.6 41.3l1.6 2.3.7-1.7-1.6-1.1z"/>
<path class="b17" d="M111.2 43.6l1.5 1.7.7-2.8-1.5-.6z"/>
<path class="b16" d="M112.7 45.3l1.5.6.7-3.6-1.5.2z"/>
<path class="b17" d="M114.2 45.9l1.6-.5.7-3.8-1.6.7z"/>
<path class="b18" d="M115.8 45.4l1.5-1.6.7-3.3-1.5 1.1z"/>
<path class="b19" d="M117.3 43.8l1.5-2.2.8-2.4-1.6 1.3z"/>
<path class="b21" d="M118.8 41.6l1.6-2.2.7-1.2-1.5 1z"/>
<path class="b23" d="M120.4 39.4l1.5-1.9.8.1-1.6.6z"/>
<path class="b24" d="M121.9 37.5l1.6-1.1 1.5-.4 1.6.3 1.5.7.7 2-1.5-.7-1.5-.5-1.6-.3-1.5.1z"/>
<path class="b23" d="M55.6 35.7l1.5.7.5 1.5-1.5-.5z"/>
<path class="b22" d="M57.1 36.4l1.5.6 1.5.4 1.5.2 1.6-.1 1.5-.3.5.6-1.5.4-1.5.3-1.5 0-1.6-.2-1.5-.4z"/>
<path class="b23" d="M64.7 37.2l1.5-.6 1.5-1 .5.6-1.5.9-1.5.7z"/>
<path class="b25" d="M67.7 35.6l1.5-1.1.5.7-1.5 1z"/>
<path class="b26" d="M69.2 34.5l1.5-1.5.5 1.1-1.5 1.1z"/>
<path class="b27" d="M70.7 33l1.5-1.5.5 1.6-1.5 1z"/>
<path class="b28" d="M72.2 31.5l1.5-1.6.6 2.3-1.6.9z"/>
<path class="b29" d="M73.7 29.9l1.5-1.3.6 3.2-1.5.4z"/>
<path class="b30" d="M75.2 28.6l1.5-.6 1.5.3.6 4.2-1.5-.6-1.5-.1z"/>
<path class="b29" d="M78.2 28.3l1.6 1.2.6 4-1.6-1z"/>
<path class="b28" d="M79.8 29.5l1.5 1.6.6 3.6-1.5-1.2z"/>
<path class="b27" d="M81.3 31.1l1.5 1.8.6 3.1-1.5-1.3z"/>
<path class="b25" d="M82.8 32.9l1.5 1.7.6 2.5-1.5-1.1z"/>
<path class="b24" d="M84.3 34.6l1.6 1.4.6 2.2-1.6-1.1z"/>
<path class="b23" d="M85.9 36l1.5 1.3.6 1.7-1.5-.8z"/>
<path class="b22" d="M87.4 37.3l1.5.9.6 1.5-1.5-.7z"/>
<path class="b21" d="M88.9 38.2l1.5.7 1.6.3 1.5.1 1.5-.1 1.5-.4.7.8-1.5.4-1.6.2-1.5 0-1.5-.1-1.6-.4z"/>
<path class="b22" d="M96.5 38.8l1.6-.5 1.5-.5.7.8-1.6.5-1.5.5z"/>
<path class="b23" d="M99.6 37.8l1.5-.6 1.6-.3.6.9-1.5.3-1.5.5z"/>
<path class="b24" d="M102.7 36.9l1.5 0 1.5.5.7.4-1.5-.1-1.6.1z"/>
<path class="b23" d="M105.7 37.4l1.6.9.6-.1-1.5-.4z"/>
<path class="b22" d="M107.3 38.3l1.5 1.2.7-.8-1.6-.5z"/>
<path class="b21" d="M108.8 39.5l1.5 1.3 1.6 1.1.7-2.4-1.6-.3-1.5-.5z"/>
<path class="b20" d="M111.9 41.9l1.5.6 1.5-.2.8-2.9-1.6.2-1.5-.1z"/>
<path class="b21" d="M114.9 42.3l1.6-.7 1.5-1.1.7-1.9-1.5.4-1.5.4z"/>
<path class="b22" d="M118 40.5l1.6-1.3.7-.9-1.6.3z"/>
<path class="b23" d="M119.6 39.2l1.5-1 1.6-.6 1.5-.1 1.6.3 1.5.5.7 1.7-1.5-.6-1.6-.6-1.5-.4-1.6-.2-1.5.1z"/>
<path class="b22" d="M127.3 38.3l1.5.7.8 1.6-1.6-.6z"/>
<path class="b22" d="M56.1 37.4l1.5.5.5 1.1-1.5-.4z"/>
<path class="b21" d="M57.6 37.9l1.5.4 1.6.2 1.5 0 .5.6-1.5.1-1.5 0-1.6-.2z"/>
<path class="b22" d="M62.2 38.5l1.5-.3 1.5-.4.5.5-1.5.5-1.5.3z"/>
<path class="b23" d="M65.2 37.8l1.5-.7 1.5-.9.6.8-1.6.7-1.5.6z"/>
<path class="b24" d="M68.2 36.2l1.5-1 .6 1.1-1.5.7z"/>
<path class="b25" d="M69.7 35.2l1.5-1.1.6 1.5-1.5.7z"/>
<path class="b26" d="M71.2 34.1l1.5-1 .6 2-1.5.5z"/>
<path class="b27" d="M72.7 33.1l1.6-.9 1.5-.4 1.5.1 1.5.6.6 3.2-1.5-.5-1.5-.4-1.6 0-1.5.3z"/>
<path class="b26" d="M78.8 32.5l1.6 1 .5 3-1.5-.8z"/>
<path class="b25" d="M80.4 33.5l1.5 1.2.6 2.7-1.6-.9z"/>
<path class="b24" d="M81.9 34.7l1.5 1.3.6 2.2-1.5-.8z"/>
<path class="b23" d="M83.4 36l1.5 1.1.6 1.9-1.5-.8z"/>
<path class="b22" d="M84.9 37.1l1.6 1.1 1.5.8.6 1.3-1.5-.6-1.6-.7z"/>
<path class="b21" d="M88 39l1.5.7 1.6.4.6.8-1.6-.2-1.5-.4z"/>
<path class="b20" d="M91.1 40.1l1.5.1 1.5 0 .7.6-1.6.2-1.5-.1z"/>
<path class="b21" d="M94.1 40.2l1.6-.2 1.5-.4.6.5-1.5.4-1.5.3z"/>
<path class="b22" d="M97.2 39.6l1.5-.5 1.6-.5.6.4-1.5.6-1.6.5z"/>
<path class="b23" d="M100.3 38.6l1.5-.5 1.5-.3.7.2-1.6.5-1.5.5z"/>
<path class="b24" d="M103.3 37.8l1.6-.1 1.5.1 1.5.4 1.6.5.7-1.3-1.6 0-1.5 0-1.6.3-1.5.3z"/>
<path class="b23" d="M109.5 38.7l1.5.5 1.6.3 1.5.1 1.6-.2 1.5-.4.7-1.3-1.5-.1-1.6-.1-1.5 0-1.6-.1-1.5 0z"/>
<path class="b24" d="M117.2 39l1.5-.4 1.6-.3 1.5-.1.8.6-1.6-.5-1.5-.3-1.6-.3z"/>
<path class="b23" d="M121.8 38.2l1.6.2 1.5.4.8 1.3-1.6-.7-1.5-.6z"/>
<path class="b22" d="M124.9 38.8l1.6.6 1.5.6.8 1.3-1.6-.5-1.5-.7z"/>
<path class="b21" d="M128 40l1.6.6.7 1.2-1.5-.5z"/>
<path class="b21" d="M56.6 38.6l1.5.4 1.6.2 1.5 0 1.5-.1.5.3-1.5.2-1.5.1-1.5-.1-1.6-.2z"/>
<path class="b22" d="M62.7 39.1l1.5-.3 1.5-.5.6.4-1.6.4-1.5.3z"/>
<path class="b23" d="M65.7 38.3l1.5-.6 1.6-.7.5 1-1.5.3-1.5.4z"/>
<path class="b24" d="M68.8 37l1.5-.7 1.5-.7.5 1.8-1.5.3-1.5.3z"/>
<path class="b25" d="M71.8 35.6l1.5-.5 1.5-.3 1.6 0 1.5.4 1.5.5.6 2.5-1.5-.4-1.6-.3-1.5-.2-1.5 0-1.6.1z"/>
<path class="b24" d="M79.4 35.7l1.5.8.6 2.1-1.5-.4z"/>
<path class="b23" d="M80.9 36.5l1.6.9 1.5.8.6 1.5-1.5-.5-1.6-.6z"/>
<path class="b22" d="M84 38.2l1.5.8.7 1.3-1.6-.6z"/>
<path class="b21" d="M85.5 39l1.6.7 1.5.6 1.5.4.7.6-1.6-.2-1.5-.4-1.5-.4z"/>
<path class="b20" d="M90.1 40.7l1.6.2 1.5.1 1.6-.2.6.3-1.6.2-1.5.1-1.5-.1z"/>
<path class="b21" d="M94.8 40.8l1.5-.3 1.5-.4.7.1-1.6.5-1.5.4z"/>
<path class="b22" d="M97.8 40.1l1.6-.5.6 0-1.5.6z"/>
<path class="b23" d="M99.4 39.6l1.5-.6 1.5-.5.7-.3-1.5.7-1.6.7z"/>
<path class="b24" d="M102.4 38.5l1.6-.5 1.5-.3.7-.8-1.5.6-1.6.7z"/>
<path class="b25" d="M105.5 37.7l1.6-.3 1.5 0 1.6 0 .7-1.6-1.6.2-1.5.4-1.6.5z"/>
<path class="b26" d="M110.2 37.4l1.5 0 1.6.1.7-1.6-1.6-.1-1.5 0z"/>
<path class="b25" d="M113.3 37.5l1.5 0 1.6.1 1.5.1 1.6.3.7 0-1.6-.7-1.5-.6-1.6-.5-1.5-.3z"/>
<path class="b24" d="M119.5 38l1.5.3 1.6.5.7.8-1.6-.8-1.5-.8z"/>
<path class="b23" d="M122.6 38.8l1.5.6.8 1-1.6-.8z"/>
<path class="b22" d="M124.1 39.4l1.6.7 1.5.7.8.9-1.6-.6-1.5-.7z"/>
<path class="b21" d="M127.2 40.8l1.6.5 1.5.5.8.7-1.6-.3-1.5-.5z"/>
<path class="b21" d="M57.1 39.4l1.6.2 1.5.1 1.5-.1.5 0-1.5.2-1.5 0-1.6-.1z"/>
<path class="b22" d="M61.7 39.6l1.5-.2 1.5-.3 1.6-.4 1.5-.4.5.9-1.5 0-1.5.1-1.6.2-1.5.1z"/>
<path class="b23" d="M67.8 38.3l1.5-.3 1.5-.3 1.5-.3 1.6-.1 1.5 0 1.5.2 1.6.3 1.5.4 1.5.4.6 1.4-1.5-.1-1.5-.1-1.6 0-1.5 0-1.5-.1-1.6-.1-1.5-.2-1.5-.1-1.6-.1z"/>
<path class="b22" d="M81.5 38.6l1.6.6 1.5.5.6.8-1.5-.3-1.6-.2z"/>
<path class="b21" d="M84.6 39.7l1.6.6 1.5.4 1.5.4 1.6.2 1.5.1 1.5-.1 1.6-.2 1.5-.4.7-.2-1.6.5-1.5.4-1.6.1-1.5 0-1.6-.1-1.5-.3-1.5-.3-1.6-.3z"/>
<path class="b22" d="M96.9 40.7l1.6-.5.6-.3-1.5.6z"/>
<path class="b23" d="M98.5 40.2l1.5-.6 1.6-.7.6-.7-1.5.9-1.6.8z"/>
<path class="b24" d="M101.6 38.9l1.5-.7.7-.9-1.6.9z"/>
<path class="b25" d="M103.1 38.2l1.6-.7.6-1.1-1.5.9z"/>
<path class="b26" d="M104.7 37.5l1.5-.6.7-1.4-1.6.9z"/>
<path class="b27" d="M106.2 36.9l1.6-.5 1.5-.4.7-1.7-1.5.5-1.6.7z"/>
<path class="b28" d="M109.3 36l1.6-.2 1.5 0 1.6.1.7-1.2-1.6-.5-1.5-.1-1.6.2z"/>
<path class="b27" d="M114 35.9l1.5.3 1.6.5.7-.4-1.6-.9-1.5-.7z"/>
<path class="b26" d="M117.1 36.7l1.5.6.8 0-1.6-1z"/>
<path class="b25" d="M118.6 37.3l1.6.7.7.3-1.5-1z"/>
<path class="b24" d="M120.2 38l1.5.8 1.6.8.7.7-1.5-1-1.6-1z"/>
<path class="b23" d="M123.3 39.6l1.6.8.7.7-1.6-.8z"/>
<path class="b22" d="M124.9 40.4l1.5.7.8.7-1.6-.7z"/>
<path class="b21" d="M126.4 41.1l1.6.6 1.5.5 1.6.3.8.3-1.6-.2-1.6-.3-1.5-.5z"/>
<path class="b22" d="M57.6 39.7l1.6.1 1.5 0 1.5-.2 1.5-.1 1.6-.2 1.5-.1 1.5 0 1.6.1.5 2.1-1.5-.7-1.6-.6-1.5-.4-1.5-.3-1.6 0-1.5.1-1.5.1-1.6 0z"/>
<path class="b21" d="M69.9 39.3l1.5.1 1.5.2 1.6.1 1.5.1 1.5 0 1.6 0 .5 1.5-1.5.5-1.5.5-1.6.2-1.5-.1-1.5-.4-1.6-.6z"/>
<path class="b22" d="M79.1 39.8l1.5.1 1.5.1 1.6.2 1.5.3 1.6.3.6 0-1.6-.2-1.5-.1-1.6.1-1.5.2-1.6.5z"/>
<path class="b21" d="M86.8 40.8l1.5.3 1.5.3 1.6.1 1.5 0 1.6-.1.6-.3-1.5.2-1.6.1-1.5-.1-1.6-.2-1.5-.3z"/>
<path class="b22" d="M94.5 41.4l1.5-.4 1.6-.5.6-.5-1.5.6-1.6.5z"/>
<path class="b23" d="M97.6 40.5l1.5-.6.7-.8-1.6.9z"/>
<path class="b24" d="M99.1 39.9l1.6-.8.6-1-1.5 1z"/>
<path class="b25" d="M100.7 39.1l1.5-.9.7-1.2-1.6 1.1z"/>
<path class="b26" d="M102.2 38.2l1.6-.9.7-1.5-1.6 1.2z"/>
<path class="b27" d="M103.8 37.3l1.5-.9.7-1.8-1.5 1.2z"/>
<path class="b28" d="M105.3 36.4l1.6-.9.7-2.1-1.6 1.2z"/>
<path class="b29" d="M106.9 35.5l1.6-.7.6-2.2-1.5.8z"/>
<path class="b30" d="M108.5 34.8l1.5-.5 1.6-.2 1.5.1.7-1.5-1.5-.6-1.6 0-1.6.5z"/>
<path class="b29" d="M113.1 34.2l1.6.5 1.5.7.8-.5-1.6-1.2-1.6-1z"/>
<path class="b28" d="M116.2 35.4l1.6.9.7-.1-1.5-1.3z"/>
<path class="b27" d="M117.8 36.3l1.6 1 .7.2-1.6-1.3z"/>
<path class="b25" d="M119.4 37.3l1.5 1 .8.5-1.6-1.3z"/>
<path class="b24" d="M120.9 38.3l1.6 1 .7.6-1.5-1.1z"/>
<path class="b23" d="M122.5 39.3l1.5 1 1.6.8.8.5-1.6-.8-1.6-.9z"/>
<path class="b22" d="M125.6 41.1l1.6.7 1.5.5.8.2-1.6-.4-1.5-.5z"/>
<path class="b21" d="M128.7 42.3l1.6.3 1.6.2.7-.1-1.5-.1-1.6-.1z"/>
<path class="b23" d="M58.1 39.6l1.6 0 1.5-.1 1.5-.1 1.6 0 .5.2-1.5-.6-1.6-.2-1.5.1-1.6.2z"/>
<path class="b22" d="M64.3 39.4l1.5.3 1.5.4.6 1.8-1.6-1.3-1.5-1z"/>
<path class="b21" d="M67.3 40.1l1.6.6.5 2.8-1.5-1.6z"/>
<path class="b20" d="M68.9 40.7l1.5.7.6 3.5-1.6-1.4z"/>
<path class="b19" d="M70.4 41.4l1.6.6.5 3.8-1.5-.9z"/>
<path class="b18" d="M72 42l1.5.4 1.5.1.6 3.1-1.5.5-1.6-.3z"/>
<path class="b19" d="M75 42.5l1.6-.2.6 2.3-1.6 1z"/>
<path class="b20" d="M76.6 42.3l1.5-.5.6 1.4-1.5 1.4z"/>
<path class="b21" d="M78.1 41.8l1.5-.5 1.6-.5.6.1-1.6 1-1.5 1.3z"/>
<path class="b22" d="M81.2 40.8l1.5-.2 1.6-.1.6-.4-1.6.2-1.5.6z"/>
<path class="b23" d="M84.3 40.5l1.5.1.6-.4-1.5-.1z"/>
<path class="b22" d="M85.8 40.6l1.6.2 1.5.3 1.6.2 1.5.1 1.6-.1 1.5-.2.7-.6-1.6.4-1.6.1-1.5 0-1.6-.2-1.5-.4-1.6-.2z"/>
<path class="b23" d="M95.1 41.1l1.6-.5 1.5-.6.7-.9-1.6.8-1.5.6z"/>
<path class="b24" d="M98.2 40l1.6-.9.6-1.1-1.5 1.1z"/>
<path class="b25" d="M99.8 39.1l1.5-1 .7-1.4-1.6 1.3z"/>
<path class="b27" d="M101.3 38.1l1.6-1.1.7-1.8-1.6 1.5z"/>
<path class="b28" d="M102.9 37l1.6-1.2.6-2.2-1.5 1.6z"/>
<path class="b29" d="M104.5 35.8l1.5-1.2.7-2.6-1.6 1.6z"/>
<path class="b31" d="M106 34.6l1.6-1.2.7-2.8-1.6 1.4z"/>
<path class="b32" d="M107.6 33.4l1.5-.8 1.6-.5 1.6 0 1.5.6.8-1.2-1.6-1.3-1.6-.7-1.6.2-1.5.9z"/>
<path class="b31" d="M113.8 32.7l1.6 1 .7-.6-1.5-1.6z"/>
<path class="b30" d="M115.4 33.7l1.6 1.2.7-.1-1.6-1.7z"/>
<path class="b28" d="M117 34.9l1.5 1.3.8.3-1.6-1.7z"/>
<path class="b27" d="M118.5 36.2l1.6 1.3.7.5-1.5-1.5z"/>
<path class="b26" d="M120.1 37.5l1.6 1.3.7.5-1.6-1.3z"/>
<path class="b24" d="M121.7 38.8l1.5 1.1 1.6.9.7.4-1.5-.8-1.6-1.1z"/>
<path class="b23" d="M124.8 40.8l1.6.8.7.2-1.6-.6z"/>
<path class="b22" d="M126.4 41.6l1.5.5 1.6.4 1.6.1 1.5.1.8-.7-1.6.2-1.5.1-1.6-.2-1.6-.3z"/>
<path class="b24" d="M58.6 39.1l1.6-.2 1.5-.1 1.6.2.5-.1-1.6-.8-1.5-.2-1.6.2z"/>
<path class="b23" d="M63.3 39l1.5.6.5.8-1.5-1.5z"/>
<path class="b22" d="M64.8 39.6l1.5 1 .6 2-1.6-2.2z"/>
<path class="b20" d="M66.3 40.6l1.6 1.3.6 3.3-1.6-2.6z"/>
<path class="b18" d="M67.9 41.9l1.5 1.6.6 4.2-1.5-2.5z"/>
<path class="b16" d="M69.4 43.5l1.6 1.4.6 4.6-1.6-1.8z"/>
<path class="b15" d="M71 44.9l1.5.9.6 4.4-1.5-.7z"/>
<path class="b14" d="M72.5 45.8l1.6.3.6 3.6-1.6.5z"/>
<path class="b15" d="M74.1 46.1l1.5-.5.6 2.4-1.5 1.7z"/>
<path class="b17" d="M75.6 45.6l1.6-1 .5 1.1-1.5 2.3z"/>
<path class="b19" d="M77.2 44.6l1.5-1.4.6.1-1.6 2.4z"/>
<path class="b21" d="M78.7 43.2l1.5-1.3.6-.7-1.5 2.1z"/>
<path class="b22" d="M80.2 41.9l1.6-1 .6-1.1-1.6 1.4z"/>
<path class="b23" d="M81.8 40.9l1.5-.6.6-1.1-1.5.6z"/>
<path class="b24" d="M83.3 40.3l1.6-.2 1.5.1.6-.7-1.5-.4-1.6.1z"/>
<path class="b23" d="M86.4 40.2l1.6.2 1.5.4 1.6.2 1.5 0 1.6-.1 1.6-.4.6-.6-1.6.5-1.5.3-1.6 0-1.5-.3-1.6-.4-1.6-.5z"/>
<path class="b24" d="M95.8 40.5l1.5-.6.7-.8-1.6.8z"/>
<path class="b25" d="M97.3 39.9l1.6-.8.6-1.1-1.5 1.1z"/>
<path class="b26" d="M98.9 39.1l1.5-1.1.7-1.4-1.6 1.4z"/>
<path class="b27" d="M100.4 38l1.6-1.3.7-1.7-1.6 1.6z"/>
<path class="b29" d="M102 36.7l1.6-1.5.6-2.1-1.5 1.9z"/>
<path class="b31" d="M103.6 35.2l1.5-1.6.7-2.6-1.6 2.1z"/>
<path class="b32" d="M105.1 33.6l1.6-1.6.7-3.2-1.6 2.2z"/>
<path class="b34" d="M106.7 32l1.6-1.4.7-3.6-1.6 1.8z"/>
<path class="b35" d="M108.3 30.6l1.5-.9 1.6-.2 1.6.7.7-1.2-1.6-1.9-1.5-.8-1.6.7z"/>
<path class="b33" d="M113 30.2l1.6 1.3.7-.3-1.6-2.2z"/>
<path class="b32" d="M114.6 31.5l1.5 1.6.7.3-1.5-2.2z"/>
<path class="b30" d="M116.1 33.1l1.6 1.7.7.7-1.6-2.1z"/>
<path class="b28" d="M117.7 34.8l1.6 1.7.7.7-1.6-1.7z"/>
<path class="b27" d="M119.3 36.5l1.5 1.5.8.7-1.6-1.5z"/>
<path class="b26" d="M120.8 38l1.6 1.3.7.6-1.5-1.2z"/>
<path class="b24" d="M122.4 39.3l1.6 1.1 1.5.8.8.3-1.6-.7-1.6-.9z"/>
<path class="b23" d="M125.5 41.2l1.6.6 1.6.3 1.6.2 1.5-.1 1.6-.2.8-1-1.6.4-1.6.3-1.5.2-1.6-.1-1.6-.3z"/>
<path class="b26" d="M59.1 38.1l1.6-.2 1.5.2.6-.8-1.6-.7-1.5.1z"/>
<path class="b25" d="M62.2 38.1l1.6.8.5.3-1.5-1.9z"/>
<path class="b23" d="M63.8 38.9l1.5 1.5.6 1.8-1.6-3z"/>
<path class="b20" d="M65.3 40.4l1.6 2.2.6 3.3-1.6-3.7z"/>
<path class="b17" d="M66.9 42.6l1.6 2.6.5 4.4-1.5-3.7z"/>
<path class="b14" d="M68.5 45.2l1.5 2.5.6 4.8-1.6-2.9z"/>
<path class="b12" d="M70 47.7l1.6 1.8.5 4.4-1.5-1.4z"/>
<path class="b10" d="M71.6 49.5l1.5.7.6 3.4-1.6.3z"/>
<path class="b11" d="M73.1 50.2l1.6-.5.5 1.8-1.5 2.1z"/>
<path class="b14" d="M74.7 49.7l1.5-1.7.6.2-1.6 3.3z"/>
<path class="b17" d="M76.2 48l1.5-2.3.6-1.1-1.5 3.6z"/>
<path class="b20" d="M77.7 45.7l1.6-2.4.6-2-1.6 3.3z"/>
<path class="b23" d="M79.3 43.3l1.5-2.1.6-2.2-1.5 2.3z"/>
<path class="b24" d="M80.8 41.2l1.6-1.4.6-1.9-1.6 1.1z"/>
<path class="b25" d="M82.4 39.8l1.5-.6 1.6-.1 1.5.4.7-.3-1.6-.8-1.6-.6-1.5.1z"/>
<path class="b24" d="M87 39.5l1.6.5 1.6.4 1.5.3.7 0-1.6-.2-1.6-.6-1.5-.7z"/>
<path class="b23" d="M91.7 40.7l1.6 0 .6-.1-1.5.1z"/>
<path class="b24" d="M93.3 40.7l1.5-.3 1.6-.5.7-.6-1.6.8-1.6.5z"/>
<path class="b25" d="M96.4 39.9l1.6-.8.6-.8-1.5 1z"/>
<path class="b26" d="M98 39.1l1.5-1.1.7-1.1-1.6 1.4z"/>
<path class="b28" d="M99.5 38l1.6-1.4.7-1.4-1.6 1.7z"/>
<path class="b29" d="M101.1 36.6l1.6-1.6.7-1.8-1.6 2z"/>
<path class="b31" d="M102.7 35l1.5-1.9.7-2.2-1.5 2.3z"/>
<path class="b33" d="M104.2 33.1l1.6-2.1.7-2.7-1.6 2.6z"/>
<path class="b36" d="M105.8 31l1.6-2.2.7-3.3-1.6 2.8z"/>
<path class="b37" d="M107.4 28.8l1.6-1.8.7-3.4-1.6 1.9z"/>
<path class="b38" d="M109 27l1.6-.7 1.5.8.7 0-1.5-2.7-1.6-.8z"/>
<path class="b36" d="M112.1 27.1l1.6 1.9.7.9-1.6-2.8z"/>
<path class="b34" d="M113.7 29l1.6 2.2.7 1.2-1.6-2.5z"/>
<path class="b32" d="M115.3 31.2l1.5 2.2.8 1.3-1.6-2.3z"/>
<path class="b30" d="M116.8 33.4l1.6 2.1.7 1.2-1.5-2z"/>
<path class="b28" d="M118.4 35.5l1.6 1.7.7 1.1-1.6-1.6z"/>
<path class="b27" d="M120 37.2l1.6 1.5.7.9-1.6-1.3z"/>
<path class="b25" d="M121.6 38.7l1.5 1.2.8.7-1.6-1z"/>
<path class="b24" d="M123.1 39.9l1.6.9 1.6.7 1.6.3 1.6.1 1.5-.2 1.6-.3.8-1.2-1.6.8-1.6.5-1.6.3-1.5 0-1.6-.4-1.6-.8z"/>
<path class="b25" d="M132.6 41.4l1.6-.4.8-1.4-1.6.6z"/>
<path class="b28" d="M59.7 36.7l1.5-.1.5-1.5-1.5 0z"/>
<path class="b27" d="M61.2 36.6l1.6.7.5-.6-1.6-1.6z"/>
<path class="b25" d="M62.8 37.3l1.5 1.9.6.8-1.6-3.3z"/>
<path class="b22" d="M64.3 39.2l1.6 3 .5 2.4-1.5-4.6z"/>
<path class="b18" d="M65.9 42.2l1.6 3.7.5 3.5-1.6-4.8z"/>
<path class="b14" d="M67.5 45.9l1.5 3.7.6 3.8-1.6-4z"/>
<path class="b10" d="M69 49.6l1.6 2.9.6 3.3-1.6-2.4z"/>
<path class="b8" d="M70.6 52.5l1.5 1.4 1.6-.3.6.1-1.6 2.1-1.5 0z"/>
<path class="b11" d="M73.7 53.6l1.5-2.1.6-1.7-1.5 3.9z"/>
<path class="b15" d="M75.2 51.5l1.6-3.3.5-3.1-1.5 4.7z"/>
<path class="b19" d="M76.8 48.2l1.5-3.6.6-3.9-1.6 4.4z"/>
<path class="b23" d="M78.3 44.6l1.6-3.3.5-3.8-1.5 3.2z"/>
<path class="b26" d="M79.9 41.3l1.5-2.3.6-2.9-1.6 1.4z"/>
<path class="b27" d="M81.4 39l1.6-1.1 1.5-.1.6-.5-1.5-1.1-1.6-.1z"/>
<path class="b26" d="M84.5 37.8l1.6.6.6.4-1.6-1.5z"/>
<path class="b25" d="M86.1 38.4l1.6.8.6.9-1.6-1.3z"/>
<path class="b24" d="M87.7 39.2l1.5.7 1.6.6 1.6.2 1.5-.1 1.6-.5.6-.1-1.5.8-1.6.5-1.6.1-1.5-.4-1.6-.9z"/>
<path class="b25" d="M95.5 40.1l1.6-.8.6-.3-1.6 1z"/>
<path class="b26" d="M97.1 39.3l1.5-1 .7-.6-1.6 1.3z"/>
<path class="b28" d="M98.6 38.3l1.6-1.4.7-.8-1.6 1.6z"/>
<path class="b29" d="M100.2 36.9l1.6-1.7.7-1-1.6 1.9z"/>
<path class="b31" d="M101.8 35.2l1.6-2 .6-1.1-1.5 2.1z"/>
<path class="b33" d="M103.4 33.2l1.5-2.3.7-1.3-1.6 2.5z"/>
<path class="b35" d="M104.9 30.9l1.6-2.6.7-1.2-1.6 2.5z"/>
<path class="b38" d="M106.5 28.3l1.6-2.8.7-.4-1.6 2z"/>
<path class="b39" d="M108.1 25.5l1.6-1.9 1.6.8.7 2.9-1.6-2.1-1.6-.1z"/>
<path class="b37" d="M111.3 24.4l1.5 2.7.8 2.8-1.6-2.6z"/>
<path class="b35" d="M112.8 27.1l1.6 2.8.7 2.5-1.5-2.5z"/>
<path class="b33" d="M114.4 29.9l1.6 2.5.7 2.3-1.6-2.3z"/>
<path class="b31" d="M116 32.4l1.6 2.3.7 1.9-1.6-1.9z"/>
<path class="b29" d="M117.6 34.7l1.5 2 .8 1.6-1.6-1.7z"/>
<path class="b27" d="M119.1 36.7l1.6 1.6.8 1.4-1.6-1.4z"/>
<path class="b26" d="M120.7 38.3l1.6 1.3.7 1.3-1.5-1.2z"/>
<path class="b25" d="M122.3 39.6l1.6 1 .7 1.2-1.6-.9z"/>
<path class="b24" d="M123.9 40.6l1.6.8 1.6.4 1.5 0 1.6-.3.8-.1-1.6.8-1.6.3-1.6-.2-1.6-.5z"/>
<path class="b25" d="M130.2 41.5l1.6-.5.8-.8-1.6 1.2z"/>
<path class="b26" d="M131.8 41l1.6-.8.8-1.4-1.6 1.4z"/>
<path class="b27" d="M133.4 40.2l1.6-.6.8-1.8-1.6 1z"/>
<path class="b30" d="M60.2 35.1l1.5 0 .5-2.1-1.5-.3z"/>
<path class="b29" d="M61.7 35.1l1.6 1.6.5-.6-1.6-3.1z"/>
<path class="b26" d="M63.3 36.7l1.6 3.3.5 1.2-1.6-5.1z"/>
<path class="b21" d="M64.9 40l1.5 4.6.6 2.2-1.6-5.6z"/>
<path class="b16" d="M66.4 44.6l1.6 4.8.6 2.2-1.6-4.8z"/>
<path class="b11" d="M68 49.4l1.6 4 .6 1.3-1.6-3.1z"/>
<path class="b8" d="M69.6 53.4l1.6 2.4 1.5 0 .6-2.2-1.6 1.8-1.5-.7z"/>
<path class="b10" d="M72.7 55.8l1.6-2.1.5-4-1.5 3.9z"/>
<path class="b15" d="M74.3 53.7l1.5-3.9.6-5.3-1.6 5.2z"/>
<path class="b20" d="M75.8 49.8l1.5-4.7.6-5.9-1.5 5.3z"/>
<path class="b25" d="M77.3 45.1l1.6-4.4.6-5.7-1.6 4.2z"/>
<path class="b28" d="M78.9 40.7l1.5-3.2.6-4-1.5 1.5z"/>
<path class="b29" d="M80.4 37.5l1.6-1.4 1.6.1.6.6-1.6-2.3-1.6-1z"/>
<path class="b27" d="M83.6 36.2l1.5 1.1.7 2-1.6-2.5z"/>
<path class="b26" d="M85.1 37.3l1.6 1.5.6 2.6-1.5-2.1z"/>
<path class="b24" d="M86.7 38.8l1.6 1.3.6 2.6-1.6-1.3z"/>
<path class="b23" d="M88.3 40.1l1.6.9 1.5.4 1.6-.1.6 1.1-1.5.6-1.6.2-1.6-.5z"/>
<path class="b24" d="M93 41.3l1.6-.5.6.6-1.6 1z"/>
<path class="b25" d="M94.6 40.8l1.5-.8.7.2-1.6 1.2z"/>
<path class="b26" d="M96.1 40l1.6-1 .7-.1-1.6 1.3z"/>
<path class="b27" d="M97.7 39l1.6-1.3.7-.2-1.6 1.4z"/>
<path class="b28" d="M99.3 37.7l1.6-1.6.6-.2-1.5 1.6z"/>
<path class="b30" d="M100.9 36.1l1.6-1.9.6-.1-1.6 1.8z"/>
<path class="b32" d="M102.5 34.2l1.5-2.1.7.2-1.6 1.8z"/>
<path class="b34" d="M104 32.1l1.6-2.5.7.9-1.6 1.8z"/>
<path class="b36" d="M105.6 29.6l1.6-2.5.7 2.1-1.6 1.3z"/>
<path class="b37" d="M107.2 27.1l1.6-2 1.6.1.7 4.7-1.6-1-1.6.3z"/>
<path class="b36" d="M110.4 25.2l1.6 2.1.7 4.3-1.6-1.7z"/>
<path class="b35" d="M112 27.3l1.6 2.6.7 3.6-1.6-1.9z"/>
<path class="b33" d="M113.6 29.9l1.5 2.5.7 3-1.5-1.9z"/>
<path class="b31" d="M115.1 32.4l1.6 2.3.7 2.5-1.6-1.8z"/>
<path class="b29" d="M116.7 34.7l1.6 1.9.7 2.2-1.6-1.6z"/>
<path class="b27" d="M118.3 36.6l1.6 1.7.7 2-1.6-1.5z"/>
<path class="b26" d="M119.9 38.3l1.6 1.4.7 2-1.6-1.4z"/>
<path class="b25" d="M121.5 39.7l1.5 1.2.8 2-1.6-1.2z"/>
<path class="b24" d="M123 40.9l1.6.9.8 2-1.6-.9z"/>
<path class="b23" d="M124.6 41.8l1.6.5 1.6.2 1.6-.3.8 1.3-1.6.8-1.6.1-1.6-.6z"/>
<path class="b24" d="M129.4 42.2l1.6-.8.8.4-1.6 1.7z"/>
<path class="b26" d="M131 41.4l1.6-1.2.8-.6-1.6 2.2z"/>
<path class="b27" d="M132.6 40.2l1.6-1.4.8-1.7-1.6 2.5z"/>
<path class="b29" d="M134.2 38.8l1.6-1 .9-2.4-1.7 1.7z"/>
<path class="b32" d="M60.7 32.7l1.5.3.6-1-1.6-2.1z"/>
<path class="b30" d="M62.2 33l1.6 3.1.6.9-1.6-5z"/>
<path class="b26" d="M63.8 36.1l1.6 5.1.6 1.4-1.6-5.6z"/>
<path class="b20" d="M65.4 41.2l1.6 5.6.6.8-1.6-5z"/>
<path class="b15" d="M67 46.8l1.6 4.8.5-.6-1.5-3.4z"/>
<path class="b12" d="M68.6 51.6l1.6 3.1.5-2.4-1.6-1.3z"/>
<path class="b11" d="M70.2 54.7l1.5.7.6-4.2-1.6 1.1z"/>
<path class="b12" d="M71.7 55.4l1.6-1.8.5-5.7-1.5 3.3z"/>
<path class="b16" d="M73.3 53.6l1.5-3.9.6-6.6-1.6 4.8z"/>
<path class="b21" d="M74.8 49.7l1.6-5.2.5-6.9-1.5 5.5z"/>
<path class="b27" d="M76.4 44.5l1.5-5.3.6-6.5-1.6 4.9z"/>
<path class="b31" d="M77.9 39.2l1.6-4.2.5-4.2-1.5 1.9z"/>
<path class="b32" d="M79.5 35l1.5-1.5.6-.2-1.6-2.5z"/>
<path class="b30" d="M81 33.5l1.6 1 .6 2.9-1.6-4.1z"/>
<path class="b28" d="M82.6 34.5l1.6 2.3.6 4.4-1.6-3.8z"/>
<path class="b25" d="M84.2 36.8l1.6 2.5.6 4.9-1.6-3z"/>
<path class="b23" d="M85.8 39.3l1.5 2.1.7 4.7-1.6-1.9z"/>
<path class="b21" d="M87.3 41.4l1.6 1.3 1.6.5 1.6-.2.6 2.1-1.6 1.1-1.6.4-1.5-.5z"/>
<path class="b22" d="M92.1 43l1.5-.6.7 1.2-1.6 1.5z"/>
<path class="b23" d="M93.6 42.4l1.6-1 .7.7-1.6 1.5z"/>
<path class="b25" d="M95.2 41.4l1.6-1.2.7.4-1.6 1.5z"/>
<path class="b26" d="M96.8 40.2l1.6-1.3.6.3-1.5 1.4z"/>
<path class="b27" d="M98.4 38.9l1.6-1.4.6.4-1.6 1.3z"/>
<path class="b29" d="M100 37.5l1.5-1.6.7.6-1.6 1.4z"/>
<path class="b30" d="M101.5 35.9l1.6-1.8.7 1.1-1.6 1.3z"/>
<path class="b32" d="M103.1 34.1l1.6-1.8.7 1.7-1.6 1.2z"/>
<path class="b33" d="M104.7 32.3l1.6-1.8.7 2.7-1.6.8z"/>
<path class="b34" d="M106.3 30.5l1.6-1.3 1.6-.3 1.6 1 .7 4.3-1.6-.9-1.6-.4-1.6.3z"/>
<path class="b33" d="M111.1 29.9l1.6 1.7.7 3.9-1.6-1.3z"/>
<path class="b32" d="M112.7 31.6l1.6 1.9.7 3.4-1.6-1.4z"/>
<path class="b30" d="M114.3 33.5l1.5 1.9.8 3-1.6-1.5z"/>
<path class="b29" d="M115.8 35.4l1.6 1.8.8 2.6-1.6-1.4z"/>
<path class="b27" d="M117.4 37.2l1.6 1.6.8 2.5-1.6-1.5z"/>
<path class="b26" d="M119 38.8l1.6 1.5.7 2.6-1.5-1.6z"/>
<path class="b24" d="M120.6 40.3l1.6 1.4.7 2.8-1.6-1.6z"/>
<path class="b23" d="M122.2 41.7l1.6 1.2.7 3.2-1.6-1.6z"/>
<path class="b22" d="M123.8 42.9l1.6.9.7 3.5-1.6-1.2z"/>
<path class="b21" d="M125.4 43.8l1.6.6 1.6-.1.7 3.1-1.6.5-1.6-.6z"/>
<path class="b22" d="M128.6 44.3l1.6-.8.7 2.2-1.6 1.7z"/>
<path class="b23" d="M130.2 43.5l1.6-1.7.8.9-1.7 3z"/>
<path class="b26" d="M131.8 41.8l1.6-2.2.8-.7-1.6 3.8z"/>
<path class="b29" d="M133.4 39.6l1.6-2.5.9-2.2-1.7 4z"/>
<path class="b32" d="M135 37.1l1.7-1.7.8-2.9-1.6 2.4z"/>
<path class="b33" d="M61.2 29.9l1.6 2.1.5 3.1-1.6-2.9z"/>
<path class="b29" d="M62.8 32l1.6 5 .5 2.2-1.6-4.1z"/>
<path class="b25" d="M64.4 37l1.6 5.6.5.7-1.6-4.1z"/>
<path class="b20" d="M66 42.6l1.6 5 .5-1.2-1.6-3.1z"/>
<path class="b17" d="M67.6 47.6l1.5 3.4.6-3.1-1.6-1.5z"/>
<path class="b15" d="M69.1 51l1.6 1.3.5-4.8-1.5.4z"/>
<path class="b16" d="M70.7 52.3l1.6-1.1.5-5.9-1.6 2.2z"/>
<path class="b19" d="M72.3 51.2l1.5-3.3.6-6.2-1.6 3.6z"/>
<path class="b23" d="M73.8 47.9l1.6-4.8.5-5.4-1.5 4z"/>
<path class="b27" d="M75.4 43.1l1.5-5.5.6-3.5-1.6 3.6z"/>
<path class="b31" d="M76.9 37.6l1.6-4.9.6.1-1.6 1.3z"/>
<path class="b32" d="M78.5 32.7l1.5-1.9.7 4.5-1.6-2.5z"/>
<path class="b31" d="M80 30.8l1.6 2.5.7 6.7-1.6-4.7z"/>
<path class="b27" d="M81.6 33.3l1.6 4.1.6 7.3-1.5-4.7z"/>
<path class="b23" d="M83.2 37.4l1.6 3.8.6 7.3-1.6-3.8z"/>
<path class="b20" d="M84.8 41.2l1.6 3 .6 6.5-1.6-2.2z"/>
<path class="b18" d="M86.4 44.2l1.6 1.9.6 5.2-1.6-.6z"/>
<path class="b17" d="M88 46.1l1.5.5.7 3.9-1.6.8z"/>
<path class="b18" d="M89.5 46.6l1.6-.4.7 2.5-1.6 1.8z"/>
<path class="b20" d="M91.1 46.2l1.6-1.1.7 1.4-1.6 2.2z"/>
<path class="b21" d="M92.7 45.1l1.6-1.5.6.8-1.5 2.1z"/>
<path class="b23" d="M94.3 43.6l1.6-1.5.6.5-1.6 1.8z"/>
<path class="b25" d="M95.9 42.1l1.6-1.5.6.6-1.6 1.4z"/>
<path class="b26" d="M97.5 40.6l1.5-1.4.7.8-1.6 1.2z"/>
<path class="b27" d="M99 39.2l1.6-1.3.7 1-1.6 1.1z"/>
<path class="b28" d="M100.6 37.9l1.6-1.4.7 1.5-1.6.9z"/>
<path class="b30" d="M102.2 36.5l1.6-1.3 1.6-1.2.7 2.7-1.6.5-1.6.8z"/>
<path class="b31" d="M105.4 34l1.6-.8.7 3.3-1.6.2z"/>
<path class="b32" d="M107 33.2l1.6-.3.7 3.7-1.6-.1z"/>
<path class="b31" d="M108.6 32.9l1.6.4 1.6.9.7 3.7-1.6-.8-1.6-.5z"/>
<path class="b30" d="M111.8 34.2l1.6 1.3.7 3.3-1.6-.9z"/>
<path class="b29" d="M113.4 35.5l1.6 1.4.7 3-1.6-1.1z"/>
<path class="b28" d="M115 36.9l1.6 1.5.7 2.7-1.6-1.2z"/>
<path class="b26" d="M116.6 38.4l1.6 1.4.7 2.7-1.6-1.4z"/>
<path class="b25" d="M118.2 39.8l1.6 1.5.7 3-1.6-1.8z"/>
<path class="b23" d="M119.8 41.3l1.5 1.6.8 3.5-1.6-2.1z"/>
<path class="b22" d="M121.3 42.9l1.6 1.6.8 4.2-1.6-2.3z"/>
<path class="b20" d="M122.9 44.5l1.6 1.6.8 4.7-1.6-2.1z"/>
<path class="b18" d="M124.5 46.1l1.6 1.2.8 5-1.6-1.5z"/>
<path class="b17" d="M126.1 47.3l1.6.6 1.6-.5.8 3.9-1.6 1.3-1.6-.3z"/>
<path class="b19" d="M129.3 47.4l1.6-1.7.8 2.6-1.6 3z"/>
<path class="b22" d="M130.9 45.7l1.7-3 .8 1.3-1.7 4.3z"/>
<path class="b26" d="M132.6 42.7l1.6-3.8.8.3-1.6 4.8z"/>
<path class="b30" d="M134.2 38.9l1.7-4 .8.4-1.7 3.9z"/>
<path class="b33" d="M135.9 34.9l1.6-2.4.8 2.3-1.6.5z"/>
<path class="b30" d="M61.7 32.2l1.6 2.9.6 2.9-1.6-1.7z"/>
<path class="b28" d="M63.3 35.1l1.6 4.1.6 1.2-1.6-2.4z"/>
<path class="b25" d="M64.9 39.2l1.6 4.1.6-.7-1.6-2.2z"/>
<path class="b22" d="M66.5 43.3l1.6 3.1.5-2.5-1.5-1.3z"/>
<path class="b20" d="M68.1 46.4l1.6 1.5.5-4-1.6 0z"/>
<path class="b21" d="M69.7 47.9l1.5-.4.6-4.7-1.6 1.1z"/>
<path class="b22" d="M71.2 47.5l1.6-2.2.6-4.6-1.6 2.1z"/>
<path class="b25" d="M72.8 45.3l1.6-3.6.5-3.2-1.5 2.2z"/>
<path class="b27" d="M74.4 41.7l1.5-4 .6-.7-1.6 1.5z"/>
<path class="b30" d="M75.9 37.7l1.6-3.6 1.6-1.3.6 6.8-1.6-2.5-1.6-.1z"/>
<path class="b28" d="M79.1 32.8l1.6 2.5.6 8.6-1.6-4.3z"/>
<path class="b24" d="M80.7 35.3l1.6 4.7.6 8.7-1.6-4.8z"/>
<path class="b20" d="M82.3 40l1.5 4.7.7 8.1-1.6-4.1z"/>
<path class="b16" d="M83.8 44.7l1.6 3.8.7 6.8-1.6-2.5z"/>
<path class="b13" d="M85.4 48.5l1.6 2.2 1.6.6.6 3.4-1.5 1.1-1.6-.5z"/>
<path class="b14" d="M88.6 51.3l1.6-.8.6 1.9-1.6 2.3z"/>
<path class="b16" d="M90.2 50.5l1.6-1.8.6.9-1.6 2.8z"/>
<path class="b19" d="M91.8 48.7l1.6-2.2.6.4-1.6 2.7z"/>
<path class="b21" d="M93.4 46.5l1.5-2.1.7.3-1.6 2.2z"/>
<path class="b23" d="M94.9 44.4l1.6-1.8.7.4-1.6 1.7z"/>
<path class="b25" d="M96.5 42.6l1.6-1.4.7.7-1.6 1.1z"/>
<path class="b26" d="M98.1 41.2l1.6-1.2.7 1.1-1.6.8z"/>
<path class="b27" d="M99.7 40l1.6-1.1.7 1.6-1.6.6z"/>
<path class="b28" d="M101.3 38.9l1.6-.9 1.6-.8.7 2.5-1.6.3-1.6.5z"/>
<path class="b29" d="M104.5 37.2l1.6-.5 1.6-.2 1.6.1 1.6.5.7 3.2-1.6-.5-1.6-.2-1.6-.1-1.6.2z"/>
<path class="b28" d="M110.9 37.1l1.6.8 1.6.9.7 2.7-1.6-.7-1.6-.5z"/>
<path class="b27" d="M114.1 38.8l1.6 1.1.7 2.5-1.6-.9z"/>
<path class="b26" d="M115.7 39.9l1.6 1.2.7 2.6-1.6-1.3z"/>
<path class="b24" d="M117.3 41.1l1.6 1.4.7 2.9-1.6-1.7z"/>
<path class="b23" d="M118.9 42.5l1.6 1.8.7 3.5-1.6-2.4z"/>
<path class="b20" d="M120.5 44.3l1.6 2.1.7 4.2-1.6-2.8z"/>
<path class="b18" d="M122.1 46.4l1.6 2.3.7 4.8-1.6-2.9z"/>
<path class="b15" d="M123.7 48.7l1.6 2.1.7 5.2-1.6-2.5z"/>
<path class="b13" d="M125.3 50.8l1.6 1.5 1.6.3.7 4.1-1.6.5-1.6-1.2z"/>
<path class="b14" d="M128.5 52.6l1.6-1.3.8 3-1.7 2.4z"/>
<path class="b17" d="M130.1 51.3l1.6-3 .8 2-1.6 4z"/>
<path class="b21" d="M131.7 48.3l1.7-4.3.8 1.6-1.7 4.7z"/>
<path class="b26" d="M133.4 44l1.6-4.8.8 2.1-1.6 4.3z"/>
<path class="b29" d="M135 39.2l1.7-3.9.8 3.6-1.7 2.4z"/>
<path class="b31" d="M136.7 35.3l1.6-.5.8 4-1.6.1z"/>
<path class="b28" d="M62.3 36.3l1.6 1.7.5 1.4-1.6-.8z"/>
<path class="b27" d="M63.9 38l1.6 2.4.5.2-1.6-1.2z"/>
<path class="b25" d="M65.5 40.4l1.6 2.2.5-1.2-1.6-.8z"/>
<path class="b24" d="M67.1 42.6l1.5 1.3 1.6 0 .6-2.7-1.6.5-1.6-.3z"/>
<path class="b25" d="M70.2 43.9l1.6-1.1.5-2.5-1.5.9z"/>
<path class="b26" d="M71.8 42.8l1.6-2.1.5-1.3-1.6.9z"/>
<path class="b27" d="M73.4 40.7l1.5-2.2.6.6-1.6.3z"/>
<path class="b28" d="M74.9 38.5l1.6-1.5.6 3.1-1.6-1z"/>
<path class="b27" d="M76.5 37l1.6.1.6 5.6-1.6-2.6z"/>
<path class="b25" d="M78.1 37.1l1.6 2.5.6 7.1-1.6-4z"/>
<path class="b22" d="M79.7 39.6l1.6 4.3.6 7.3-1.6-4.5z"/>
<path class="b17" d="M81.3 43.9l1.6 4.8.6 6.5-1.6-4z"/>
<path class="b13" d="M82.9 48.7l1.6 4.1.6 4.9-1.6-2.5z"/>
<path class="b10" d="M84.5 52.8l1.6 2.5.6 3.1-1.6-.7z"/>
<path class="b9" d="M86.1 55.3l1.6.5.6 1.4-1.6 1.2z"/>
<path class="b11" d="M87.7 55.8l1.5-1.1.7 0-1.6 2.5z"/>
<path class="b13" d="M89.2 54.7l1.6-2.3.7-.8-1.6 3.1z"/>
<path class="b17" d="M90.8 52.4l1.6-2.8.7-1-1.6 3z"/>
<path class="b19" d="M92.4 49.6l1.6-2.7.7-.7-1.6 2.4z"/>
<path class="b22" d="M94 46.9l1.6-2.2.7-.2-1.6 1.7z"/>
<path class="b24" d="M95.6 44.7l1.6-1.7.7.4-1.6 1.1z"/>
<path class="b25" d="M97.2 43l1.6-1.1 1.6-.8.7 1.4-1.6.3-1.6.6z"/>
<path class="b26" d="M100.4 41.1l1.6-.6 1.6-.5.7 2.2-1.6.1-1.6.2z"/>
<path class="b27" d="M103.6 40l1.6-.3 1.6-.2 1.6.1 1.6.2.7 2.7-1.6-.2-1.6-.1-1.6-.1-1.6.1z"/>
<path class="b26" d="M110 39.8l1.6.5 1.6.5 1.6.7.7 2.1-1.6-.5-1.6-.4-1.6-.2z"/>
<path class="b25" d="M114.8 41.5l1.6.9.8 2.2-1.7-1z"/>
<path class="b24" d="M116.4 42.4l1.6 1.3.8 2.3-1.6-1.4z"/>
<path class="b22" d="M118 43.7l1.6 1.7.8 2.8-1.6-2.2z"/>
<path class="b20" d="M119.6 45.4l1.6 2.4.8 3.2-1.6-2.8z"/>
<path class="b17" d="M121.2 47.8l1.6 2.8.8 3.7-1.6-3.3z"/>
<path class="b14" d="M122.8 50.6l1.6 2.9.8 3.8-1.6-3z"/>
<path class="b11" d="M124.4 53.5l1.6 2.5.8 3.3-1.6-2z"/>
<path class="b9" d="M126 56l1.6 1.2 1.6-.5.8 1.5-1.6 1.6-1.6-.5z"/>
<path class="b12" d="M129.2 56.7l1.7-2.4.7.6-1.6 3.3z"/>
<path class="b16" d="M130.9 54.3l1.6-4 .8.3-1.7 4.3z"/>
<path class="b20" d="M132.5 50.3l1.7-4.7.8.7-1.7 4.3z"/>
<path class="b25" d="M134.2 45.6l1.6-4.3.8 1.7-1.6 3.3z"/>
<path class="b27" d="M135.8 41.3l1.7-2.4.8 2.4-1.7 1.7z"/>
<path class="b28" d="M137.5 38.9l1.6-.1.8 2.3-1.6.2z"/>
<path class="b27" d="M62.8 38.6l1.6.8 1.6 1.2.6.2-1.6-.5-1.6-.5z"/>
<path class="b26" d="M66 40.6l1.6.8 1.6.3 1.6-.5 1.5-.9.6-.1-1.6.4-1.6.4-1.5.1-1.6-.3z"/>
<path class="b27" d="M72.3 40.3l1.6-.9 1.6-.3.6 2.4-1.6-1.1-1.6-.2z"/>
<path class="b26" d="M75.5 39.1l1.6 1 .6 3.7-1.6-2.3z"/>
<path class="b24" d="M77.1 40.1l1.6 2.6.6 4.4-1.6-3.3z"/>
<path class="b21" d="M78.7 42.7l1.6 4 .6 4.2-1.6-3.8z"/>
<path class="b16" d="M80.3 46.7l1.6 4.5.6 3.2-1.6-3.5z"/>
<path class="b13" d="M81.9 51.2l1.6 4 .6 1.5-1.6-2.3z"/>
<path class="b10" d="M83.5 55.2l1.6 2.5.6-.3-1.6-.7z"/>
<path class="b9" d="M85.1 57.7l1.6.7.6-2-1.6 1z"/>
<path class="b10" d="M86.7 58.4l1.6-1.2.6-2.9-1.6 2.1z"/>
<path class="b13" d="M88.3 57.2l1.6-2.5.6-3.2-1.6 2.8z"/>
<path class="b16" d="M89.9 54.7l1.6-3.1.6-2.7-1.6 2.6z"/>
<path class="b19" d="M91.5 51.6l1.6-3 .6-1.9-1.6 2.2z"/>
<path class="b21" d="M93.1 48.6l1.6-2.4.6-.9-1.6 1.4z"/>
<path class="b23" d="M94.7 46.2l1.6-1.7.6 0-1.6.8z"/>
<path class="b24" d="M96.3 44.5l1.6-1.1 1.6-.6.6 1.3-1.6 0-1.6.4z"/>
<path class="b25" d="M99.5 42.8l1.6-.3 1.6-.2 1.6-.1 1.6-.1 1.6.1 1.6.1 1.6.2 1.6.2 1.6.4.8 1.6-1.7-.2-1.6-.1-1.6 0-1.6 0-1.6 0-1.6-.1-1.6-.1-1.7-.1-1.6 0z"/>
<path class="b24" d="M113.9 43.1l1.6.5 1.7 1 .7 1.4-1.6-.9-1.6-.4z"/>
<path class="b23" d="M117.2 44.6l1.6 1.4.7 1.6-1.6-1.6z"/>
<path class="b21" d="M118.8 46l1.6 2.2.7 1.6-1.6-2.2z"/>
<path class="b18" d="M120.4 48.2l1.6 2.8.7 1.6-1.6-2.8z"/>
<path class="b15" d="M122 51l1.6 3.3.7 1.1-1.6-2.8z"/>
<path class="b12" d="M123.6 54.3l1.6 3 .7.4-1.6-2.3z"/>
<path class="b10" d="M125.2 57.3l1.6 2 .7-.5-1.6-1.1z"/>
<path class="b9" d="M126.8 59.3l1.6.5.8-1.6-1.7.6z"/>
<path class="b10" d="M128.4 59.8l1.6-1.6.8-2.2-1.6 2.2z"/>
<path class="b13" d="M130 58.2l1.6-3.3.9-2.3-1.7 3.4z"/>
<path class="b17" d="M131.6 54.9l1.7-4.3.8-1.7-1.6 3.7z"/>
<path class="b21" d="M133.3 50.6l1.7-4.3.8-.7-1.7 3.3z"/>
<path class="b25" d="M135 46.3l1.6-3.3.8.4-1.6 2.2z"/>
<path class="b27" d="M136.6 43l1.7-1.7 1.6-.2.8 1.2-1.6.1-1.7 1z"/>
<path class="b27" d="M63.4 39.8l1.6.5.5 1.2-1.6-.4z"/>
<path class="b26" d="M65 40.3l1.6.5 1.6.3 1.5-.1 1.6-.4.6.7-1.6.2-1.6.2-1.6 0-1.6-.2z"/>
<path class="b27" d="M71.3 40.6l1.6-.4 1.6.2.6 1.6-1.6-.6-1.6-.1z"/>
<path class="b26" d="M74.5 40.4l1.6 1.1.6 2-1.6-1.5z"/>
<path class="b24" d="M76.1 41.5l1.6 2.3.6 1.9-1.6-2.2z"/>
<path class="b22" d="M77.7 43.8l1.6 3.3.6 1.2-1.6-2.6z"/>
<path class="b19" d="M79.3 47.1l1.6 3.8.6-.2-1.6-2.4z"/>
<path class="b16" d="M80.9 50.9l1.6 3.5.7-2.1-1.7-1.6z"/>
<path class="b14" d="M82.5 54.4l1.6 2.3.7-3.9-1.6-.5z"/>
<path class="b13" d="M84.1 56.7l1.6.7.7-5.3-1.6.7z"/>
<path class="b14" d="M85.7 57.4l1.6-1 .7-5.7-1.6 1.4z"/>
<path class="b15" d="M87.3 56.4l1.6-2.1.7-5.4-1.6 1.8z"/>
<path class="b18" d="M88.9 54.3l1.6-2.8.7-4.3-1.6 1.7z"/>
<path class="b20" d="M90.5 51.5l1.6-2.6.7-3-1.6 1.3z"/>
<path class="b22" d="M92.1 48.9l1.6-2.2.7-1.5-1.6.7z"/>
<path class="b23" d="M93.7 46.7l1.6-1.4.7-.4-1.6.3z"/>
<path class="b24" d="M95.3 45.3l1.6-.8 1.6-.4 1.6 0 1.6 0 1.7.1 1.6.1 1.6.1 1.6 0 1.6 0 1.6 0 1.6.1 1.7.2 1.6.4.7.6-1.6-.2-1.6.1-1.7.2-1.6.2-1.6.2-1.6 0-1.6 0-1.6-.1-1.7-.3-1.6-.2-1.6-.4-1.6-.2-1.6-.1z"/>
<path class="b23" d="M116.3 45.1l1.6.9.7.3-1.6-.6z"/>
<path class="b22" d="M117.9 46l1.6 1.6.8-.2-1.7-1.1z"/>
<path class="b21" d="M119.5 47.6l1.6 2.2.8-.7-1.6-1.7z"/>
<path class="b19" d="M121.1 49.8l1.6 2.8.8-1.6-1.6-1.9z"/>
<path class="b16" d="M122.7 52.6l1.6 2.8.8-2.6-1.6-1.8z"/>
<path class="b14" d="M124.3 55.4l1.6 2.3.8-3.7-1.6-1.2z"/>
<path class="b13" d="M125.9 57.7l1.6 1.1 1.7-.6.8-5-1.6 1-1.7-.2z"/>
<path class="b15" d="M129.2 58.2l1.6-2.2.8-4.8-1.6 2z"/>
<path class="b17" d="M130.8 56l1.7-3.4.8-3.9-1.7 2.5z"/>
<path class="b21" d="M132.5 52.6l1.6-3.7.9-2.6-1.7 2.4z"/>
<path class="b23" d="M134.1 48.9l1.7-3.3.8-1.1-1.6 1.8z"/>
<path class="b25" d="M135.8 45.6l1.6-2.2.9.2-1.7.9z"/>
<path class="b27" d="M137.4 43.4l1.7-1 1.6-.1.8 1.2-1.6-.2-1.6.3z"/>
<path class="b26" d="M63.9 41.1l1.6.4 1.6.2 1.6 0 1.6-.2 1.6-.2 1.6.1 1.6.6.6.8-1.6-.5-1.6-.1-1.6.3-1.6.3-1.6.2-1.6-.1-1.6-.3z"/>
<path class="b25" d="M75.1 42l1.6 1.5.6.2-1.6-.9z"/>
<path class="b24" d="M76.7 43.5l1.6 2.2.6-.8-1.6-1.2z"/>
<path class="b22" d="M78.3 45.7l1.6 2.6.6-2.4-1.6-1z"/>
<path class="b21" d="M79.9 48.3l1.6 2.4.6-4.4-1.6-.4z"/>
<path class="b20" d="M81.5 50.7l1.7 1.6.6-6.2-1.7.2z"/>
<path class="b19" d="M83.2 52.3l1.6.5.6-7.4-1.6.7z"/>
<path class="b20" d="M84.8 52.8l1.6-.7.6-7.2-1.6.5z"/>
<path class="b21" d="M86.4 52.1l1.6-1.4.6-6.2-1.6.4z"/>
<path class="b22" d="M88 50.7l1.6-1.8.6-4.7-1.6.3z"/>
<path class="b23" d="M89.6 48.9l1.6-1.7 1.6-1.3.6-1.6-1.6-.2-1.6.1z"/>
<path class="b24" d="M92.8 45.9l1.6-.7 1.6-.3 1.6.1.7 1-1.6-.6-1.7-.6-1.6-.5z"/>
<path class="b23" d="M97.6 45l1.6.2 1.6.4 1.6.2 1.7.3.7 1.6-1.7-.2-1.6-.4-1.6-.5-1.6-.6z"/>
<path class="b22" d="M104.1 46.1l1.6.1 1.6 0 .7 1.4-1.6.1-1.6 0z"/>
<path class="b23" d="M107.3 46.2l1.6 0 1.6-.2 1.6-.2.8.7-1.7.5-1.6.4-1.6.2z"/>
<path class="b24" d="M112.1 45.8l1.7-.2 1.6-.1 1.6.2 1.6.6 1.7 1.1.7-2.2-1.6-.2-1.6.1-1.7.3-1.6.5-1.6.6z"/>
<path class="b23" d="M120.3 47.4l1.6 1.7.8-3.6-1.7-.3z"/>
<path class="b22" d="M121.9 49.1l1.6 1.9.8-5-1.6-.5z"/>
<path class="b21" d="M123.5 51l1.6 1.8.8-6.1-1.6-.7z"/>
<path class="b20" d="M125.1 52.8l1.6 1.2.9-6.5-1.7-.8z"/>
<path class="b19" d="M126.7 54l1.7.2 1.6-1 .8-5.7-1.6.3-1.6-.3z"/>
<path class="b21" d="M130 53.2l1.6-2 .9-4.6-1.7.9z"/>
<path class="b22" d="M131.6 51.2l1.7-2.5.8-3.2-1.6 1.1z"/>
<path class="b24" d="M133.3 48.7l1.7-2.4.8-1.7-1.7.9z"/>
<path class="b25" d="M135 46.3l1.6-1.8.8-.3-1.6.4z"/>
<path class="b26" d="M136.6 44.5l1.7-.9 1.6-.3 1.6.2.9 1.5-1.7-.4-1.6-.4-1.7 0z"/>
<path class="b25" d="M64.5 42.6l1.6.3 1.6.1 1.6-.2.6.8-1.6.4-1.6.2-1.6-.2z"/>
<path class="b26" d="M69.3 42.8l1.6-.3 1.6-.3 1.6.1 1.6.5 1.6.9 1.6 1.2.6-2.7-1.6.2-1.6 0-1.6 0-1.6.3-1.6.4-1.6.5z"/>
<path class="b25" d="M78.9 44.9l1.6 1 .6-4.5-1.6.8z"/>
<path class="b26" d="M80.5 45.9l1.6.4 1.7-.2.6-7.7-1.7 1.5-1.6 1.5z"/>
<path class="b27" d="M83.8 46.1l1.6-.7 1.6-.5 1.6-.4.6-3.5-1.6-1.4-1.6-1.2-1.6 0z"/>
<path class="b26" d="M88.6 44.5l1.6-.3 1.6-.1.7-.7-1.7-1.2-1.6-1.2z"/>
<path class="b25" d="M91.8 44.1l1.6.2 1.6.5.7.8-1.6-1.1-1.6-1.1z"/>
<path class="b24" d="M95 44.8l1.7.6.6 1.2-1.6-1z"/>
<path class="b23" d="M96.7 45.4l1.6.6 1.6.6.7 1.5-1.6-.7-1.7-.8z"/>
<path class="b22" d="M99.9 46.6l1.6.5 1.6.4 1.7.2 1.6 0 1.6-.1 1.6-.2.7.7-1.6.5-1.6.3-1.6.1-1.7-.1-1.6-.3-1.6-.5z"/>
<path class="b23" d="M109.6 47.4l1.6-.4 1.7-.5.7.1-1.6.9-1.7.6z"/>
<path class="b24" d="M112.9 46.5l1.6-.6.8-.2-1.7.9z"/>
<path class="b25" d="M114.5 45.9l1.6-.5 1.7-.3.7-1.5-1.6 1.1-1.6 1z"/>
<path class="b26" d="M117.8 45.1l1.6-.1.8-2.5-1.7 1.1z"/>
<path class="b27" d="M119.4 45l1.6.2 1.7.3 1.6.5 1.6.7.9-6.3-1.7-1-1.6.6-1.7 1.3-1.6 1.2z"/>
<path class="b26" d="M125.9 46.7l1.7.8.8-5.4-1.6-1.7z"/>
<path class="b25" d="M127.6 47.5l1.6.3 1.6-.3 1.7-.9.8-2.4-1.6-.2-1.7-.6-1.6-1.3z"/>
<path class="b26" d="M132.5 46.6l1.6-1.1 1.7-.9 1.6-.4 1.7 0 1.6.4.9 1.4-1.7-.6-1.6-.5-1.7-.5-1.6-.2-1.7 0z"/>
<path class="b25" d="M140.7 44.6l1.7.4.8 1.4-1.6-.4z"/>
<path class="b25" d="M65.1 44l1.6.2 1.6-.2 1.6-.4.6.3-1.7.6-1.6.4-1.6.1z"/>
<path class="b26" d="M69.9 43.6l1.6-.5 1.6-.4.6.1-1.6.5-1.6.6z"/>
<path class="b27" d="M73.1 42.7l1.6-.3 1.6 0 1.6 0 .6-1-1.6.6-1.6.4-1.6.4z"/>
<path class="b28" d="M77.9 42.4l1.6-.2.6-2.1-1.6 1.3z"/>
<path class="b29" d="M79.5 42.2l1.6-.8.6-3.4-1.6 2.1z"/>
<path class="b31" d="M81.1 41.4l1.6-1.5.7-4.6-1.7 2.7z"/>
<path class="b32" d="M82.7 39.9l1.7-1.5 1.6 0 .6-1.3-1.6-2.3-1.6.5z"/>
<path class="b31" d="M86 38.4l1.6 1.2.6-.1-1.6-2.4z"/>
<path class="b29" d="M87.6 39.6l1.6 1.4.7.4-1.7-1.9z"/>
<path class="b28" d="M89.2 41l1.6 1.2.7.9-1.6-1.7z"/>
<path class="b27" d="M90.8 42.2l1.7 1.2.6 1.2-1.6-1.5z"/>
<path class="b25" d="M92.5 43.4l1.6 1.1.7 1.4-1.7-1.3z"/>
<path class="b24" d="M94.1 44.5l1.6 1.1.7 1.5-1.6-1.2z"/>
<path class="b23" d="M95.7 45.6l1.6 1 .7 1.5-1.6-1z"/>
<path class="b22" d="M97.3 46.6l1.7.8 1.6.7.7 1.3-1.7-.5-1.6-.8z"/>
<path class="b21" d="M100.6 48.1l1.6.5 1.6.3 1.7.1 1.6-.1 1.6-.3.7.6-1.6.5-1.6.2-1.7.1-1.6-.2-1.6-.4z"/>
<path class="b22" d="M108.7 48.6l1.6-.5.8.4-1.7.7z"/>
<path class="b23" d="M110.3 48.1l1.7-.6.7.1-1.6.9z"/>
<path class="b24" d="M112 47.5l1.6-.9.8-.1-1.7 1.1z"/>
<path class="b25" d="M113.6 46.6l1.7-.9.7-.4-1.6 1.2z"/>
<path class="b26" d="M115.3 45.7l1.6-1 .8-.8-1.7 1.4z"/>
<path class="b27" d="M116.9 44.7l1.6-1.1.8-1.3-1.6 1.6z"/>
<path class="b28" d="M118.5 43.6l1.7-1.1.8-2-1.7 1.8z"/>
<path class="b30" d="M120.2 42.5l1.6-1.2.8-3.1-1.6 2.3z"/>
<path class="b31" d="M121.8 41.3l1.7-1.3.8-4-1.7 2.2z"/>
<path class="b32" d="M123.5 40l1.6-.6 1.7 1 .8-1.1-1.7-2.8-1.6-.5z"/>
<path class="b30" d="M126.8 40.4l1.6 1.7.8-.5-1.6-2.3z"/>
<path class="b28" d="M128.4 42.1l1.6 1.3.8-.4-1.6-1.4z"/>
<path class="b27" d="M130 43.4l1.7.6 1.6.2 1.7 0 1.6.2.8.8-1.6-.6-1.7-.4-1.6-.5-1.7-.7z"/>
<path class="b26" d="M136.6 44.4l1.7.5 1.6.5.8 1.2-1.6-.7-1.7-.7z"/>
<path class="b25" d="M139.9 45.4l1.7.6 1.6.4.9.9-1.7-.2-1.7-.5z"/></g>
<g class="s"><path class="o39" d="M48.3 168.3l1.4.5.5 2.2-1.5-1.2z"/>
<path class="o38" d="M49.7 168.8l1.4 1.4.5 2.5-1.4-1.7z"/>
<path class="o36" d="M51.1 170.2l1.4 2 .5 2.5-1.4-2z"/>
<path class="o34" d="M52.5 172.2l1.5 2.1.4 2.3-1.4-1.9z"/>
<path class="o31" d="M54 174.3l1.4 2.1.5 1.9-1.5-1.7z"/>
<path class="o29" d="M55.4 176.4l1.4 1.7.5 1.3-1.4-1.1z"/>
<path class="o28" d="M56.8 178.1l1.4 1.3.5.4-1.4-.4z"/>
<path class="o27" d="M58.2 179.4l1.4 1.1.5-.5-1.4-.2z"/>
<path class="o26" d="M59.6 180.5l1.5.7.5-.9-1.5-.3z"/>
<path class="o25" d="M61.1 181.2l1.4.5.5-.8-1.4-.6z"/>
<path class="o24" d="M62.5 181.7l1.4.6.5-.5-1.4-.9z"/>
<path class="o23" d="M63.9 182.3l1.4.8.5-.1-1.4-1.2z"/>
<path class="o21" d="M65.3 183.1l1.4.5.5.5-1.4-1.1z"/>
<path class="o20" d="M66.7 183.6l1.4.5.6.8-1.5-.8z"/>
<path class="o19" d="M68.1 184.1l1.5.5.5.8-1.4-.5z"/>
<path class="o18" d="M69.6 184.6l1.4.6.5.9-1.4-.7z"/>
<path class="o17" d="M71 185.2l1.4.6.5.9-1.4-.6z"/>
<path class="o15" d="M72.4 185.8l1.4.7.6.9-1.5-.7z"/>
<path class="o13" d="M73.8 186.5l1.4.7.6.9-1.4-.7z"/>
<path class="o11" d="M75.2 187.2l1.5.7.5.8-1.4-.6z"/>
<path class="o9" d="M76.7 187.9l1.4.6.5.8-1.4-.6z"/>
<path class="o7" d="M78.1 188.5l1.4.5.6.6-1.5-.3z"/>
<path class="o4" d="M79.5 189l1.4.3.6.5-1.4-.2z"/>
<path class="o3" d="M80.9 189.3l1.5.2.5.3-1.4 0z"/>
<path class="o4" d="M82.4 189.5l1.4-.1.5.2-1.4.2z"/>
<path class="o6" d="M83.8 189.4l1.4-.2.6.1-1.5.3z"/>
<path class="o8" d="M85.2 189.2l1.4-.4.6 0-1.4.5z"/>
<path class="o10" d="M86.6 188.8l1.4-.5.6-.1-1.4.6z"/>
<path class="o13" d="M88 188.3l1.5-.6.6-.1-1.5.6z"/>
<path class="o15" d="M89.5 187.7l1.4-.6.6-.1-1.4.6z"/>
<path class="o16" d="M90.9 187.1l1.4-.6.6 0-1.4.5z"/>
<path class="o18" d="M92.3 186.5l1.4-.6.7 0-1.5.6z"/>
<path class="o19" d="M93.7 185.9l1.5-.5.6.1-1.4.4z"/>
<path class="o20" d="M95.2 185.4l1.4-.4.6-.5-1.4 1z"/>
<path class="o22" d="M96.6 185l1.4-.4.7-1.2-1.5 1.1z"/>
<path class="o23" d="M98 184.6l1.5-.4.6-1.7-1.4.9z"/>
<path class="o24" d="M99.5 184.2l1.4-.7.6-1.7-1.4.7z"/>
<path class="o25" d="M100.9 183.5l1.4-.6.7-1.4-1.5.3z"/>
<path class="o26" d="M102.3 182.9l1.5-.4 1.4-.6.7-.8-1.5.2-1.4.2z"/>
<path class="o27" d="M105.2 181.9l1.5-1 .6-.3-1.4.5z"/>
<path class="o29" d="M106.7 180.9l1.4-1.2.7-.5-1.5 1.4z"/>
<path class="o31" d="M108.1 179.7l1.4-1.7.7-.6-1.4 1.8z"/>
<path class="o33" d="M109.5 178l1.5-2 .7-.5-1.5 1.9z"/>
<path class="o35" d="M111 176l1.4-2.1.7-.3-1.4 1.9z"/>
<path class="o37" d="M112.4 173.9l1.5-1.9.7.2-1.5 1.4z"/>
<path class="o39" d="M113.9 172l1.4-1.3 1.5-.5.7 1.6-1.5-.3-1.4.7z"/>
<path class="o37" d="M48.7 169.8l1.5 1.2.4 3.3-1.4-1.3z"/>
<path class="o35" d="M50.2 171l1.4 1.7.5 3.2-1.5-1.6z"/>
<path class="o33" d="M51.6 172.7l1.4 2 .5 2.9-1.4-1.7z"/>
<path class="o31" d="M53 174.7l1.4 1.9.5 2.1-1.4-1.1z"/>
<path class="o30" d="M54.4 176.6l1.5 1.7.5.5-1.5-.1z"/>
<path class="o29" d="M55.9 178.3l1.4 1.1 1.4.4 1.4.2 1.5.3.4-1.8-1.4-.4-1.4.1-1.4.4-1.4.2z"/>
<path class="o28" d="M61.6 180.3l1.4.6.5-1.4-1.5-1z"/>
<path class="o26" d="M63 180.9l1.4.9.5-.8-1.4-1.5z"/>
<path class="o25" d="M64.4 181.8l1.4 1.2.5-.4-1.4-1.6z"/>
<path class="o22" d="M65.8 183l1.4 1.1.6.2-1.5-1.7z"/>
<path class="o20" d="M67.2 184.1l1.5.8.5.6-1.4-1.2z"/>
<path class="o19" d="M68.7 184.9l1.4.5.5.7-1.4-.6z"/>
<path class="o17" d="M70.1 185.4l1.4.7.6.6-1.5-.6z"/>
<path class="o16" d="M71.5 186.1l1.4.6.6.7-1.4-.7z"/>
<path class="o14" d="M72.9 186.7l1.5.7.5.7-1.4-.7z"/>
<path class="o12" d="M74.4 187.4l1.4.7.5.6-1.4-.6z"/>
<path class="o11" d="M75.8 188.1l1.4.6.6.5-1.5-.5z"/>
<path class="o9" d="M77.2 188.7l1.4.6.6.3-1.4-.4z"/>
<path class="o7" d="M78.6 189.3l1.5.3.5.2-1.4-.2z"/>
<path class="o6" d="M80.1 189.6l1.4.2 1.4 0 .6-.1-1.4.2-1.5-.1z"/>
<path class="o7" d="M82.9 189.8l1.4-.2.6-.2-1.4.3z"/>
<path class="o9" d="M84.3 189.6l1.5-.3.6-.3-1.5.4z"/>
<path class="o11" d="M85.8 189.3l1.4-.5.6-.3-1.4.5z"/>
<path class="o13" d="M87.2 188.8l1.4-.6.6-.3-1.4.6z"/>
<path class="o15" d="M88.6 188.2l1.5-.6.6-.3-1.5.6z"/>
<path class="o16" d="M90.1 187.6l1.4-.6.6-.2-1.4.5z"/>
<path class="o18" d="M91.5 187l1.4-.5.6-.2-1.4.5z"/>
<path class="o19" d="M92.9 186.5l1.5-.6.6-.8-1.5 1.2z"/>
<path class="o21" d="M94.4 185.9l1.4-.4.6-1.9-1.4 1.5z"/>
<path class="o23" d="M95.8 185.5l1.4-1 .7-2.5-1.5 1.6z"/>
<path class="o25" d="M97.2 184.5l1.5-1.1.6-2.8-1.4 1.4z"/>
<path class="o27" d="M98.7 183.4l1.4-.9.6-2.8-1.4.9z"/>
<path class="o28" d="M100.1 182.5l1.4-.7.7-2.4-1.5.3z"/>
<path class="o29" d="M101.5 181.8l1.5-.3 1.4-.2.7-1.3-1.5-.4-1.4-.2z"/>
<path class="o28" d="M104.4 181.3l1.5-.2.6-.7-1.4-.4z"/>
<path class="o29" d="M105.9 181.1l1.4-.5.7-.3-1.5.1z"/>
<path class="o30" d="M107.3 180.6l1.5-1.4.6.1-1.4 1z"/>
<path class="o32" d="M108.8 179.2l1.4-1.8.7.3-1.5 1.6z"/>
<path class="o34" d="M110.2 177.4l1.5-1.9.6.7-1.4 1.5z"/>
<path class="o36" d="M111.7 175.5l1.4-1.9.7 1.3-1.5 1.3z"/>
<path class="o37" d="M113.1 173.6l1.5-1.4.7 2-1.5.7z"/>
<path class="o38" d="M114.6 172.2l1.4-.7 1.5.3.7 3.2-1.5-.7-1.4-.1z"/>
<path class="o34" d="M49.2 173l1.4 1.3.5 3.5-1.4-1.2z"/>
<path class="o32" d="M50.6 174.3l1.5 1.6.5 3.1-1.5-1.2z"/>
<path class="o31" d="M52.1 175.9l1.4 1.7.5 1.7-1.4-.3z"/>
<path class="o30" d="M53.5 177.6l1.4 1.1 1.5.1.4-1-1.4.9-1.4.6z"/>
<path class="o31" d="M56.4 178.8l1.4-.2.5-1.9-1.5 1.1z"/>
<path class="o32" d="M57.8 178.6l1.4-.4 1.4-.1 1.4.4.5-1.7-1.4-1.1-1.4.1-1.4.9z"/>
<path class="o31" d="M62 178.5l1.5 1 .5-.9-1.5-1.8z"/>
<path class="o28" d="M63.5 179.5l1.4 1.5.5-.3-1.4-2.1z"/>
<path class="o26" d="M64.9 181l1.4 1.6.6.3-1.5-2.2z"/>
<path class="o23" d="M66.3 182.6l1.5 1.7.5.5-1.4-1.9z"/>
<path class="o20" d="M67.8 184.3l1.4 1.2.5.5-1.4-1.2z"/>
<path class="o19" d="M69.2 185.5l1.4.6.6.5-1.5-.6z"/>
<path class="o17" d="M70.6 186.1l1.5.6.5.5-1.4-.6z"/>
<path class="o16" d="M72.1 186.7l1.4.7.5.4-1.4-.6z"/>
<path class="o14" d="M73.5 187.4l1.4.7.6.3-1.5-.6z"/>
<path class="o13" d="M74.9 188.1l1.4.6.6.2-1.4-.5z"/>
<path class="o11" d="M76.3 188.7l1.5.5.5.1-1.4-.4z"/>
<path class="o10" d="M77.8 189.2l1.4.4.6-.1-1.5-.2z"/>
<path class="o9" d="M79.2 189.6l1.4.2 1.5.1.5-.3-1.4 0-1.4-.1z"/>
<path class="o10" d="M82.1 189.9l1.4-.2.6-.4-1.5.3z"/>
<path class="o11" d="M83.5 189.7l1.4-.3.6-.4-1.4.3z"/>
<path class="o12" d="M84.9 189.4l1.5-.4.5-.5-1.4.5z"/>
<path class="o14" d="M86.4 189l1.4-.5.6-.5-1.5.5z"/>
<path class="o15" d="M87.8 188.5l1.4-.6.6-.4-1.4.5z"/>
<path class="o17" d="M89.2 187.9l1.5-.6.6-.3-1.5.5z"/>
<path class="o18" d="M90.7 187.3l1.4-.5.6-.5-1.4.7z"/>
<path class="o20" d="M92.1 186.8l1.4-.5.6-1.6-1.4 1.6z"/>
<path class="o23" d="M93.5 186.3l1.5-1.2.6-2.4-1.5 2z"/>
<path class="o25" d="M95 185.1l1.4-1.5.6-3-1.4 2.1z"/>
<path class="o28" d="M96.4 183.6l1.5-1.6.6-3.3-1.5 1.9z"/>
<path class="o30" d="M97.9 182l1.4-1.4.6-3.3-1.4 1.4z"/>
<path class="o32" d="M99.3 180.6l1.4-.9 1.5-.3 1.4.2.7-1-1.5-1.1-1.4-.6-1.5.4z"/>
<path class="o31" d="M103.6 179.6l1.5.4.6-.2-1.4-1.2z"/>
<path class="o30" d="M105.1 180l1.4.4.7.3-1.5-.9z"/>
<path class="o29" d="M106.5 180.4l1.5-.1.6.7-1.4-.3z"/>
<path class="o30" d="M108 180.3l1.4-1 .7.9-1.5.8z"/>
<path class="o31" d="M109.4 179.3l1.5-1.6.6 1.4-1.4 1.1z"/>
<path class="o33" d="M110.9 177.7l1.4-1.5.7 1.9-1.5 1z"/>
<path class="o34" d="M112.3 176.2l1.5-1.3.7 2.6-1.5.6z"/>
<path class="o35" d="M113.8 174.9l1.5-.7 1.4.1 1.5.7.6 3.7-1.4-.8-1.5-.5-1.4.1z"/>
<path class="o30" d="M49.7 176.6l1.4 1.2.5 2.8-1.4-.8z"/>
<path class="o29" d="M51.1 177.8l1.5 1.2 1.4.3.5.1-1.4 1-1.5.2z"/>
<path class="o30" d="M54 179.3l1.4-.6.5-.7-1.4 1.4z"/>
<path class="o32" d="M55.4 178.7l1.4-.9.5-1.6-1.4 1.8z"/>
<path class="o34" d="M56.8 177.8l1.5-1.1.4-2.4-1.4 1.9z"/>
<path class="o35" d="M58.3 176.7l1.4-.9 1.4-.1.5-1.4-1.4-1-1.5 1z"/>
<path class="o34" d="M61.1 175.7l1.4 1.1.5-.2-1.4-2.3z"/>
<path class="o32" d="M62.5 176.8l1.5 1.8.5.6-1.5-2.6z"/>
<path class="o29" d="M64 178.6l1.4 2.1.5 1-1.4-2.5z"/>
<path class="o26" d="M65.4 180.7l1.5 2.2.5 1-1.5-2.2z"/>
<path class="o23" d="M66.9 182.9l1.4 1.9.5.9-1.4-1.8z"/>
<path class="o20" d="M68.3 184.8l1.4 1.2.6.4-1.5-.7z"/>
<path class="o19" d="M69.7 186l1.5.6.5.4-1.4-.6z"/>
<path class="o17" d="M71.2 186.6l1.4.6.5.3-1.4-.5z"/>
<path class="o16" d="M72.6 187.2l1.4.6.6.3-1.5-.6z"/>
<path class="o15" d="M74 187.8l1.5.6.5.1-1.4-.4z"/>
<path class="o14" d="M75.5 188.4l1.4.5.6 0-1.5-.4z"/>
<path class="o13" d="M76.9 188.9l1.4.4.6-.2-1.4-.2z"/>
<path class="o12" d="M78.3 189.3l1.5.2 1.4.1 1.4 0 .6-.5-1.4.1-1.5 0-1.4-.1z"/>
<path class="o13" d="M82.6 189.6l1.5-.3.5-.5-1.4.3z"/>
<path class="o14" d="M84.1 189.3l1.4-.3.6-.6-1.5.4z"/>
<path class="o15" d="M85.5 189l1.4-.5.6-.5-1.4.4z"/>
<path class="o16" d="M86.9 188.5l1.5-.5.6-.5-1.5.5z"/>
<path class="o18" d="M88.4 188l1.4-.5.6-.4-1.4.4z"/>
<path class="o19" d="M89.8 187.5l1.5-.5.6-.5-1.5.6z"/>
<path class="o21" d="M91.3 187l1.4-.7.6-1.6-1.4 1.8z"/>
<path class="o24" d="M92.7 186.3l1.4-1.6.7-2.1-1.5 2.1z"/>
<path class="o27" d="M94.1 184.7l1.5-2 .6-2.6-1.4 2.5z"/>
<path class="o30" d="M95.6 182.7l1.4-2.1.7-3-1.5 2.5z"/>
<path class="o33" d="M97 180.6l1.5-1.9.6-3.3-1.4 2.2z"/>
<path class="o35" d="M98.5 178.7l1.4-1.4 1.5-.4.6-1.3-1.4-1.1-1.5.9z"/>
<path class="o34" d="M101.4 176.9l1.4.6.7.1-1.5-2z"/>
<path class="o33" d="M102.8 177.5l1.5 1.1.6.9-1.4-1.9z"/>
<path class="o31" d="M104.3 178.6l1.4 1.2.7 1.2-1.5-1.5z"/>
<path class="o30" d="M105.7 179.8l1.5.9.6 1.4-1.4-1.1z"/>
<path class="o29" d="M107.2 180.7l1.4.3 1.5-.8.7 1.5-1.5.7-1.5-.3z"/>
<path class="o30" d="M110.1 180.2l1.4-1.1.7 1.9-1.4.7z"/>
<path class="o31" d="M111.5 179.1l1.5-1 .7 2.5-1.5.4z"/>
<path class="o32" d="M113 178.1l1.5-.6 1.4-.1 1.5.5.7 3.3-1.5-.5-1.5-.3-1.4.2z"/>
<path class="o31" d="M117.4 177.9l1.4.8.7 3.3-1.4-.8z"/>
<path class="o27" d="M50.2 179.8l1.4.8.5 1.5-1.4.1z"/>
<path class="o28" d="M51.6 180.6l1.5-.2.4.6-1.4 1.1z"/>
<path class="o29" d="M53.1 180.4l1.4-1 .5 0-1.5 1.6z"/>
<path class="o31" d="M54.5 179.4l1.4-1.4.5-.5-1.4 1.9z"/>
<path class="o33" d="M55.9 178l1.4-1.8.5-.7-1.4 2z"/>
<path class="o35" d="M57.3 176.2l1.4-1.9.5-.4-1.4 1.6z"/>
<path class="o37" d="M58.7 174.3l1.5-1 .5 1-1.5-.4z"/>
<path class="o36" d="M60.2 173.3l1.4 1 .5 2-1.4-2z"/>
<path class="o34" d="M61.6 174.3l1.4 2.3.6 2.2-1.5-2.5z"/>
<path class="o31" d="M63 176.6l1.5 2.6.5 2.1-1.4-2.5z"/>
<path class="o28" d="M64.5 179.2l1.4 2.5.6 1.9-1.5-2.3z"/>
<path class="o25" d="M65.9 181.7l1.5 2.2.5 1.6-1.4-1.9z"/>
<path class="o22" d="M67.4 183.9l1.4 1.8.6.7-1.5-.9z"/>
<path class="o20" d="M68.8 185.7l1.5.7.5.4-1.4-.4z"/>
<path class="o19" d="M70.3 186.4l1.4.6.5.3-1.4-.5z"/>
<path class="o18" d="M71.7 187l1.4.5.6.2-1.5-.4z"/>
<path class="o17" d="M73.1 187.5l1.5.6.5 0-1.4-.4z"/>
<path class="o16" d="M74.6 188.1l1.4.4.6-.1-1.5-.3z"/>
<path class="o15" d="M76 188.5l1.5.4 1.4.2 1.4.1 1.5 0 1.4-.1.6-.6-1.5.2-1.4.1-1.4 0-1.5-.2-1.4-.2z"/>
<path class="o16" d="M83.2 189.1l1.4-.3.6-.5-1.4.2z"/>
<path class="o17" d="M84.6 188.8l1.5-.4.6-.5-1.5.4z"/>
<path class="o18" d="M86.1 188.4l1.4-.4.6-.4-1.4.3z"/>
<path class="o19" d="M87.5 188l1.5-.5.6-.3-1.5.4z"/>
<path class="o20" d="M89 187.5l1.4-.4.6-.3-1.4.4z"/>
<path class="o21" d="M90.4 187.1l1.5-.6.6-1.1-1.5 1.4z"/>
<path class="o24" d="M91.9 186.5l1.4-1.8.6-1.3-1.4 2z"/>
<path class="o27" d="M93.3 184.7l1.5-2.1.6-1.5-1.5 2.3z"/>
<path class="o30" d="M94.8 182.6l1.4-2.5.6-1.5-1.4 2.5z"/>
<path class="o33" d="M96.2 180.1l1.5-2.5.6-1.3-1.5 2.3z"/>
<path class="o36" d="M97.7 177.6l1.4-2.2.7-.4-1.5 1.3z"/>
<path class="o37" d="M99.1 175.4l1.5-.9.6 1.4-1.4-.9z"/>
<path class="o36" d="M100.6 174.5l1.4 1.1.7 2.3-1.5-2z"/>
<path class="o34" d="M102 175.6l1.5 2 .6 2.4-1.4-2.1z"/>
<path class="o32" d="M103.5 177.6l1.4 1.9.7 2.4-1.5-1.9z"/>
<path class="o29" d="M104.9 179.5l1.5 1.5.6 2.3-1.4-1.4z"/>
<path class="o28" d="M106.4 181l1.4 1.1.7 2.1-1.5-.9z"/>
<path class="o27" d="M107.8 182.1l1.5.3.7 1.4-1.5.4z"/>
<path class="o28" d="M109.3 182.4l1.5-.7.6 1.3-1.4.8z"/>
<path class="o29" d="M110.8 181.7l1.4-.7.7 1.3-1.5.7z"/>
<path class="o30" d="M112.2 181l1.5-.4 1.4-.2 1.5.3.7 2.1-1.5-.6-1.4-.2-1.5.3z"/>
<path class="o29" d="M116.6 180.7l1.5.5.7 2.5-1.5-.9z"/>
<path class="o28" d="M118.1 181.2l1.4.8.7 2.4-1.4-.7z"/>
<path class="o26" d="M50.7 182.2l1.4-.1.5 1.1-1.4.6z"/>
<path class="o27" d="M52.1 182.1l1.4-1.1.5.8-1.4 1.4z"/>
<path class="o29" d="M53.5 181l1.5-1.6.5.9-1.5 1.5z"/>
<path class="o31" d="M55 179.4l1.4-1.9.5 1.2-1.4 1.6z"/>
<path class="o33" d="M56.4 177.5l1.4-2 .5 2.1-1.4 1.1z"/>
<path class="o35" d="M57.8 175.5l1.4-1.6 1.5.4.5 4.2-1.5-1.1-1.4.2z"/>
<path class="o33" d="M60.7 174.3l1.4 2 .5 3.9-1.4-1.7z"/>
<path class="o31" d="M62.1 176.3l1.5 2.5.5 3.4-1.5-2z"/>
<path class="o28" d="M63.6 178.8l1.4 2.5.6 2.8-1.5-1.9z"/>
<path class="o25" d="M65 181.3l1.5 2.3.5 2.1-1.4-1.6z"/>
<path class="o23" d="M66.5 183.6l1.4 1.9.6 1-1.5-.8z"/>
<path class="o21" d="M67.9 185.5l1.5.9.5.4-1.4-.3z"/>
<path class="o20" d="M69.4 186.4l1.4.4.5.3-1.4-.3z"/>
<path class="o19" d="M70.8 186.8l1.4.5 1.5.4.5.1-1.4-.3-1.5-.4z"/>
<path class="o18" d="M73.7 187.7l1.4.4 1.5.3.5-.2-1.4-.2-1.5-.2z"/>
<path class="o17" d="M76.6 188.4l1.4.2 1.5.2 1.4 0 1.4-.1.6-.4-1.4.1-1.5 0-1.4-.1-1.5-.1z"/>
<path class="o18" d="M82.3 188.7l1.5-.2 1.4-.2.6-.4-1.4.2-1.5.2z"/>
<path class="o19" d="M85.2 188.3l1.5-.4.6-.2-1.5.2z"/>
<path class="o20" d="M86.7 187.9l1.4-.3 1.5-.4.6 0-1.5.2-1.4.3z"/>
<path class="o21" d="M89.6 187.2l1.4-.4.6-.3-1.4.7z"/>
<path class="o23" d="M91 186.8l1.5-1.4.6-.4-1.5 1.5z"/>
<path class="o26" d="M92.5 185.4l1.4-2 .6-.3-1.4 1.9z"/>
<path class="o29" d="M93.9 183.4l1.5-2.3.6.1-1.5 1.9z"/>
<path class="o31" d="M95.4 181.1l1.4-2.5.7 1-1.5 1.6z"/>
<path class="o34" d="M96.8 178.6l1.5-2.3.6 2.3-1.4 1z"/>
<path class="o35" d="M98.3 176.3l1.5-1.3 1.4.9.7 4.2-1.5-1.2-1.5-.3z"/>
<path class="o33" d="M101.2 175.9l1.5 2 .6 3.9-1.4-1.7z"/>
<path class="o31" d="M102.7 177.9l1.4 2.1.7 3.4-1.5-1.6z"/>
<path class="o29" d="M104.1 180l1.5 1.9.6 3-1.4-1.5z"/>
<path class="o27" d="M105.6 181.9l1.4 1.4.7 2.3-1.5-.7z"/>
<path class="o26" d="M107 183.3l1.5.9.7.4-1.5 1z"/>
<path class="o27" d="M108.5 184.2l1.5-.4.6-.5-1.4 1.3z"/>
<path class="o28" d="M110 183.8l1.4-.8.7-.8-1.5 1.1z"/>
<path class="o29" d="M111.4 183l1.5-.7.7-.7-1.5.6z"/>
<path class="o30" d="M112.9 182.3l1.5-.3 1.4.2.7.2-1.4-.7-1.5-.1z"/>
<path class="o29" d="M115.8 182.2l1.5.6.7.7-1.5-1.1z"/>
<path class="o28" d="M117.3 182.8l1.5.9.7 1.2-1.5-1.4z"/>
<path class="o26" d="M118.8 183.7l1.4.7.7 1.6-1.4-1.1z"/>
<path class="o25" d="M51.2 183.8l1.4-.6.5 1.3-1.4.6z"/>
<path class="o26" d="M52.6 183.2l1.4-1.4.5 1.7-1.4 1z"/>
<path class="o28" d="M54 181.8l1.5-1.5.5 2.1-1.5 1.1z"/>
<path class="o30" d="M55.5 180.3l1.4-1.6.5 2.9-1.4.8z"/>
<path class="o31" d="M56.9 178.7l1.4-1.1 1.4-.2 1.5 1.1.5 4.3-1.4-1-1.5-.4-1.4.2z"/>
<path class="o29" d="M61.2 178.5l1.4 1.7.6 3.9-1.5-1.3z"/>
<path class="o27" d="M62.6 180.2l1.5 2 .5 3.2-1.4-1.3z"/>
<path class="o25" d="M64.1 182.2l1.5 1.9.5 2.5-1.5-1.2z"/>
<path class="o23" d="M65.6 184.1l1.4 1.6.5 1.1-1.4-.2z"/>
<path class="o21" d="M67 185.7l1.5.8 1.4.3.5.4-1.4-.2-1.5-.2z"/>
<path class="o20" d="M69.9 186.8l1.4.3 1.5.4 1.4.3.6 0-1.5-.2-1.4-.2-1.5-.2z"/>
<path class="o19" d="M74.2 187.8l1.5.2 1.4.2 1.5.1 1.4.1 1.5 0 1.4-.1 1.5-.2.6-.2-1.5.1-1.5.1-1.4 0-1.5 0-1.4-.1-1.5-.1-1.4-.1z"/>
<path class="o20" d="M84.4 188.1l1.4-.2 1.5-.2.6 0-1.5.1-1.4.1z"/>
<path class="o21" d="M87.3 187.7l1.4-.3 1.5-.2.6.3-1.5.1-1.4.1z"/>
<path class="o22" d="M90.2 187.2l1.4-.7.6.4-1.4.6z"/>
<path class="o24" d="M91.6 186.5l1.5-1.5.6.7-1.5 1.2z"/>
<path class="o26" d="M93.1 185l1.4-1.9.7 1.3-1.5 1.3z"/>
<path class="o28" d="M94.5 183.1l1.5-1.9.6 2.1-1.4 1.1z"/>
<path class="o30" d="M96 181.2l1.5-1.6.6 3.1-1.5.6z"/>
<path class="o31" d="M97.5 179.6l1.4-1 1.5.3.6 4.5-1.4-.7-1.5 0z"/>
<path class="o30" d="M100.4 178.9l1.5 1.2.6 4.3-1.5-1z"/>
<path class="o29" d="M101.9 180.1l1.4 1.7.7 3.8-1.5-1.2z"/>
<path class="o27" d="M103.3 181.8l1.5 1.6.6 3.3-1.4-1.1z"/>
<path class="o25" d="M104.8 183.4l1.4 1.5 1.5.7.7-.8-1.5 1.6-1.5.3z"/>
<path class="o27" d="M107.7 185.6l1.5-1 .7-1.6-1.5 1.8z"/>
<path class="o29" d="M109.2 184.6l1.4-1.3.7-1.9-1.4 1.6z"/>
<path class="o31" d="M110.6 183.3l1.5-1.1.7-1.9-1.5 1.1z"/>
<path class="o32" d="M112.1 182.2l1.5-.6 1.5.1.7-.9-1.5-.7-1.5.2z"/>
<path class="o31" d="M115.1 181.7l1.4.7.7 0-1.4-1.6z"/>
<path class="o29" d="M116.5 182.4l1.5 1.1.7.7-1.5-1.8z"/>
<path class="o27" d="M118 183.5l1.5 1.4.7 1.1-1.5-1.8z"/>
<path class="o25" d="M119.5 184.9l1.4 1.1.7 1.3-1.4-1.3z"/>
<path class="o23" d="M51.7 185.1l1.4-.6.5 1.9-1.4.3z"/>
<path class="o24" d="M53.1 184.5l1.4-1 .5 2.3-1.4.6z"/>
<path class="o25" d="M54.5 183.5l1.5-1.1.5 2.9-1.5.5z"/>
<path class="o26" d="M56 182.4l1.4-.8.5 3.5-1.4.2z"/>
<path class="o27" d="M57.4 181.6l1.4-.2 1.5.4.5 3.9-1.4-.5-1.5-.1z"/>
<path class="o26" d="M60.3 181.8l1.4 1 .6 3.7-1.5-.8z"/>
<path class="o24" d="M61.7 182.8l1.5 1.3.5 3.1-1.4-.7z"/>
<path class="o23" d="M63.2 184.1l1.4 1.3.6 2-1.5-.2z"/>
<path class="o22" d="M64.6 185.4l1.5 1.2.5.9-1.4-.1z"/>
<path class="o21" d="M66.1 186.6l1.4.2 1.5.2 1.4.2 1.5.2 1.4.2.6.2-1.5-.1-1.4 0-1.5-.1-1.4-.1-1.5 0z"/>
<path class="o20" d="M73.3 187.6l1.5.2 1.4.1 1.5.1 1.4.1 1.5 0 1.4 0 1.5-.1.6.1-1.5 0-1.4-.1-1.5 0-1.4 0-1.5-.1-1.5-.1-1.4 0z"/>
<path class="o21" d="M83.5 188l1.5-.1 1.4-.1 1.5-.1 1.4-.1 1.5-.1.6.7-1.5 0-1.4 0-1.5 0-1.5-.1-1.4 0z"/>
<path class="o22" d="M90.8 187.5l1.4-.6.7 1.2-1.5.1z"/>
<path class="o23" d="M92.2 186.9l1.5-1.2.6 1.8-1.4.6z"/>
<path class="o24" d="M93.7 185.7l1.5-1.3.6 2.5-1.5.6z"/>
<path class="o26" d="M95.2 184.4l1.4-1.1.7 3.2-1.5.4z"/>
<path class="o27" d="M96.6 183.3l1.5-.6 1.5 0 .6 4-1.5-.3-1.4.1z"/>
<path class="o26" d="M99.6 182.7l1.4.7.7 3.9-1.5-.6z"/>
<path class="o25" d="M101 183.4l1.5 1 .6 3.6-1.4-.7z"/>
<path class="o24" d="M102.5 184.4l1.5 1.2 1.4 1.1.7.5-1.5 1.2-1.5-.4z"/>
<path class="o25" d="M105.4 186.7l1.5-.3.7-1.2-1.5 2z"/>
<path class="o27" d="M106.9 186.4l1.5-1.6.7-1.9-1.5 2.3z"/>
<path class="o30" d="M108.4 184.8l1.5-1.8.6-2.4-1.4 2.3z"/>
<path class="o32" d="M109.9 183l1.4-1.6.7-2.7-1.5 1.9z"/>
<path class="o34" d="M111.3 181.4l1.5-1.1 1.5-.2.7-1.3-1.5-.9-1.5.8z"/>
<path class="o33" d="M114.3 180.1l1.5.7.7 0-1.5-2z"/>
<path class="o31" d="M115.8 180.8l1.4 1.6.7.8-1.4-2.4z"/>
<path class="o29" d="M117.2 182.4l1.5 1.8.7 1.4-1.5-2.4z"/>
<path class="o26" d="M118.7 184.2l1.5 1.8.7 1.6-1.5-2z"/>
<path class="o24" d="M120.2 186l1.4 1.3.7 1.7-1.4-1.4z"/>
<path class="o21" d="M52.2 186.7l1.4-.3 1.4-.6.5 2.4-1.4 0-1.5-.2z"/>
<path class="o22" d="M55 185.8l1.5-.5 1.4-.2 1.5.1 1.4.5 1.5.8.5 2-1.5 0-1.4-.1-1.5-.2-1.4 0-1.5 0z"/>
<path class="o21" d="M62.3 186.5l1.4.7 1.5.2 1.4.1 1.5 0 1.4.1 1.5.1 1.4 0 1.5.1 1.4 0 1.5.1 1.5.1 1.4 0 1.5 0 1.4.1 1.5 0 1.4 0 1.5.1 1.5 0 1.4 0 1.5 0 1.5-.1 1.4-.6.7 2.1-1.5-.1-1.5-.1-1.5-.2-1.4-.1-1.5-.2-1.5-.2-1.4-.1-1.5-.2-1.5-.1-1.4-.1-1.5-.1-1.4-.1-1.5 0-1.5 0-1.4 0-1.5.1-1.4.1-1.5 0-1.4.1-1.5.1-1.5 0-1.4.1z"/>
<path class="o22" d="M94.3 187.5l1.5-.6 1.5-.4 1.4-.1 1.5.3 1.5.6 1.4.7 1.5.4.7-.1-1.5 1.2-1.5.2-1.5.1-1.4-.2-1.5-.1-1.5 0-1.4.1z"/>
<path class="o24" d="M104.6 188.4l1.5-1.2.7-1-1.5 2.1z"/>
<path class="o27" d="M106.1 187.2l1.5-2 .6-1.4-1.4 2.4z"/>
<path class="o30" d="M107.6 185.2l1.5-2.3.6-1.8-1.5 2.7z"/>
<path class="o33" d="M109.1 182.9l1.4-2.3.7-2.1-1.5 2.6z"/>
<path class="o35" d="M110.5 180.6l1.5-1.9.7-1.9-1.5 1.7z"/>
<path class="o36" d="M112 178.7l1.5-.8 1.5.9.7 1.2-1.5-2.5-1.5-.7z"/>
<path class="o33" d="M115 178.8l1.5 2 .7 1.9-1.5-2.7z"/>
<path class="o30" d="M116.5 180.8l1.4 2.4.7 2.2-1.4-2.7z"/>
<path class="o27" d="M117.9 183.2l1.5 2.4.7 2.2-1.5-2.4z"/>
<path class="o24" d="M119.4 185.6l1.5 2 .7 2-1.5-1.8z"/>
<path class="o22" d="M120.9 187.6l1.4 1.4.8 1.3-1.5-.7z"/>
<path class="o19" d="M52.6 188l1.5.2 1.4 0 1.5 0 1.4 0 1.5.2 1.4.1 1.5 0 1.4-.1.6 1.1-1.5.2-1.4.1-1.5 0-1.4 0-1.5 0-1.5-.1-1.4-.2-1.5-.3z"/>
<path class="o20" d="M64.2 188.4l1.5 0 1.5-.1 1.4-.1.6.7-1.5.2-1.5.2-1.4.2z"/>
<path class="o21" d="M68.6 188.2l1.5 0 1.4-.1 1.5-.1.5.4-1.4.2-1.5.1-1.4.2z"/>
<path class="o22" d="M73 188l1.4 0 1.5 0 1.5 0 1.4.1 1.5.1.6.5-1.5-.2-1.5-.1-1.4-.1-1.5.1-1.5 0z"/>
<path class="o21" d="M80.3 188.2l1.4.1 1.5.1 1.5.2 1.4.1.6 1.1-1.4-.3-1.5-.3-1.5-.3-1.4-.2z"/>
<path class="o20" d="M86.1 188.7l1.5.2 1.5.2 1.4.1.7 1.4-1.5-.3-1.5-.2-1.5-.3z"/>
<path class="o19" d="M90.5 189.2l1.5.2 1.5.1 1.5.1 1.4-.1 1.5 0 1.5.1 1.4.2.7 1-1.5.2-1.5.1-1.4 0-1.5 0-1.5-.2-1.5-.1-1.4-.2z"/>
<path class="o20" d="M100.8 189.8l1.5-.1 1.5-.2.7.3-1.5.8-1.5.2z"/>
<path class="o22" d="M103.8 189.5l1.5-1.2.6-.3-1.4 1.8z"/>
<path class="o25" d="M105.3 188.3l1.5-2.1.6-.5-1.5 2.3z"/>
<path class="o29" d="M106.8 186.2l1.4-2.4.7-.5-1.5 2.4z"/>
<path class="o32" d="M108.2 183.8l1.5-2.7.7-.1-1.5 2.3z"/>
<path class="o34" d="M109.7 181.1l1.5-2.6.7.9-1.5 1.6z"/>
<path class="o36" d="M111.2 178.5l1.5-1.7 1.5.7.7 3.6-1.5-1.7-1.5 0z"/>
<path class="o34" d="M114.2 177.5l1.5 2.5.7 3.5-1.5-2.4z"/>
<path class="o31" d="M115.7 180l1.5 2.7.7 3.3-1.5-2.5z"/>
<path class="o28" d="M117.2 182.7l1.4 2.7.7 3-1.4-2.4z"/>
<path class="o24" d="M118.6 185.4l1.5 2.4.7 2.5-1.5-1.9z"/>
<path class="o22" d="M120.1 187.8l1.5 1.8.7 1.6-1.5-.9z"/>
<path class="o20" d="M121.6 189.6l1.5.7.7 1.2-1.5-.3z"/>
<path class="o18" d="M53.1 189.2l1.5.3.5 1.4-1.5-.3z"/>
<path class="o17" d="M54.6 189.5l1.4.2 1.5.1 1.5 0 1.4 0 1.5 0 .5 1.3-1.5.1-1.4.1-1.5 0-1.4-.2-1.5-.2z"/>
<path class="o18" d="M61.9 189.8l1.4-.1 1.5-.2.5 1.1-1.4.3-1.5.2z"/>
<path class="o19" d="M64.8 189.5l1.4-.2 1.5-.2.5.8-1.4.4-1.5.3z"/>
<path class="o20" d="M67.7 189.1l1.5-.2.5.7-1.5.3z"/>
<path class="o21" d="M69.2 188.9l1.4-.2 1.5-.1 1.4-.2.6.5-1.5.2-1.4.2-1.5.3z"/>
<path class="o22" d="M73.5 188.4l1.5 0 1.5-.1 1.4.1 1.5.1 1.5.2.6.8-1.5-.3-1.5-.2-1.5-.1-1.4-.1-1.5.1z"/>
<path class="o21" d="M80.9 188.7l1.4.2 1.5.3.6 1.1-1.5-.5-1.4-.3z"/>
<path class="o20" d="M83.8 189.2l1.5.3.6 1.2-1.5-.4z"/>
<path class="o19" d="M85.3 189.5l1.4.3 1.5.3.6 1.4-1.4-.4-1.5-.4z"/>
<path class="o18" d="M88.2 190.1l1.5.2 1.5.3.6 1.6-1.5-.3-1.5-.4z"/>
<path class="o17" d="M91.2 190.6l1.4.2 1.5.1 1.5.2 1.5 0 1.4 0 .7 1.2-1.5.1-1.5.1-1.5 0-1.4-.1-1.5-.2z"/>
<path class="o18" d="M98.5 191.1l1.5-.1 1.5-.2.7.9-1.5.3-1.5.3z"/>
<path class="o19" d="M101.5 190.8l1.5-.2.6.7-1.4.4z"/>
<path class="o20" d="M103 190.6l1.5-.8.6.2-1.5 1.3z"/>
<path class="o23" d="M104.5 189.8l1.4-1.8.7.2-1.5 1.8z"/>
<path class="o26" d="M105.9 188l1.5-2.3.7.6-1.5 1.9z"/>
<path class="o29" d="M107.4 185.7l1.5-2.4.7 1.2-1.5 1.8z"/>
<path class="o31" d="M108.9 183.3l1.5-2.3.7 2.3-1.5 1.2z"/>
<path class="o33" d="M110.4 181l1.5-1.6 1.5 0 .7 4.5-1.5-.8-1.5.2z"/>
<path class="o32" d="M113.4 179.4l1.5 1.7.7 4.5-1.5-1.7z"/>
<path class="o30" d="M114.9 181.1l1.5 2.4.7 4-1.5-1.9z"/>
<path class="o27" d="M116.4 183.5l1.5 2.5.6 3.6-1.4-2.1z"/>
<path class="o24" d="M117.9 186l1.4 2.4.7 2.9-1.5-1.7z"/>
<path class="o21" d="M119.3 188.4l1.5 1.9.7 1.8-1.5-.8z"/>
<path class="o19" d="M120.8 190.3l1.5.9.7 1.4-1.5-.5z"/>
<path class="o18" d="M122.3 191.2l1.5.3.7 1.5-1.5-.4z"/>
<path class="o15" d="M53.6 190.6l1.5.3 1.5.2 1.4.2 1.5 0 1.4-.1 1.5-.1.5 1.2-1.4.3-1.5.1-1.5.1-1.4-.1-1.5-.2-1.5-.4z"/>
<path class="o16" d="M62.4 191.1l1.5-.2.5 1-1.5.4z"/>
<path class="o17" d="M63.9 190.9l1.4-.3.5.9-1.4.4z"/>
<path class="o18" d="M65.3 190.6l1.5-.3.5.8-1.5.4z"/>
<path class="o19" d="M66.8 190.3l1.4-.4.6.7-1.5.5z"/>
<path class="o20" d="M68.2 189.9l1.5-.3 1.5-.3.5.5-1.5.4-1.4.4z"/>
<path class="o21" d="M71.2 189.3l1.4-.2.6.5-1.5.2z"/>
<path class="o22" d="M72.6 189.1l1.5-.2 1.5-.1 1.4.1 1.5.1.6.8-1.5-.2-1.5-.2-1.4.1-1.5.1z"/>
<path class="o21" d="M78.5 189l1.5.2 1.5.3.5 1.1-1.4-.5-1.5-.3z"/>
<path class="o20" d="M81.5 189.5l1.4.3.6 1.3-1.5-.5z"/>
<path class="o19" d="M82.9 189.8l1.5.5 1.5.4.6 1.5-1.5-.6-1.5-.5z"/>
<path class="o18" d="M85.9 190.7l1.5.4.6 1.6-1.5-.5z"/>
<path class="o17" d="M87.4 191.1l1.4.4.6 1.7-1.4-.5z"/>
<path class="o16" d="M88.8 191.5l1.5.4.6 1.7-1.5-.4z"/>
<path class="o15" d="M90.3 191.9l1.5.3 1.5.2 1.4.1 1.5 0 1.5-.1.6 1.2-1.4.3-1.5.1-1.5 0-1.5-.2-1.5-.2z"/>
<path class="o16" d="M97.7 192.4l1.5-.1.6 1-1.5.3z"/>
<path class="o17" d="M99.2 192.3l1.5-.3.6.8-1.5.5z"/>
<path class="o18" d="M100.7 192l1.5-.3.6.7-1.5.4z"/>
<path class="o19" d="M102.2 191.7l1.4-.4.7.5-1.5.6z"/>
<path class="o20" d="M103.6 191.3l1.5-1.3.7.8-1.5 1z"/>
<path class="o23" d="M105.1 190l1.5-1.8.7 1.1-1.5 1.5z"/>
<path class="o25" d="M106.6 188.2l1.5-1.9.7 1.7-1.5 1.3z"/>
<path class="o28" d="M108.1 186.3l1.5-1.8.7 2.6-1.5.9z"/>
<path class="o29" d="M109.6 184.5l1.5-1.2.7 3.5-1.5.3z"/>
<path class="o30" d="M111.1 183.3l1.5-.2.7 4.1-1.5-.4z"/>
<path class="o29" d="M112.6 183.1l1.5.8.7 4.3-1.5-1z"/>
<path class="o27" d="M114.1 183.9l1.5 1.7.7 4-1.5-1.4z"/>
<path class="o25" d="M115.6 185.6l1.5 1.9.7 3.7-1.5-1.6z"/>
<path class="o22" d="M117.1 187.5l1.4 2.1.8 2.7-1.5-1.1z"/>
<path class="o20" d="M118.5 189.6l1.5 1.7.8 1.7-1.5-.7z"/>
<path class="o18" d="M120 191.3l1.5.8.7 1.4-1.4-.5z"/>
<path class="o17" d="M121.5 192.1l1.5.5.7 1.5-1.5-.6z"/>
<path class="o16" d="M123 192.6l1.5.4.7 1.5-1.5-.4z"/>
<path class="o13" d="M54.1 192.1l1.5.4.5 1.5-1.5-.3z"/>
<path class="o12" d="M55.6 192.5l1.5.2 1.4.1 1.5-.1.5 1.3-1.5.2-1.4 0-1.5-.2z"/>
<path class="o13" d="M60 192.7l1.5-.1.5 1.1-1.5.3z"/>
<path class="o14" d="M61.5 192.6l1.4-.3.5 1-1.4.4z"/>
<path class="o15" d="M62.9 192.3l1.5-.4.5.9-1.5.5z"/>
<path class="o16" d="M64.4 191.9l1.4-.4.6.7-1.5.6z"/>
<path class="o17" d="M65.8 191.5l1.5-.4.6.6-1.5.5z"/>
<path class="o19" d="M67.3 191.1l1.5-.5.5.6-1.4.5z"/>
<path class="o20" d="M68.8 190.6l1.4-.4 1.5-.4.6.6-1.5.3-1.5.5z"/>
<path class="o21" d="M71.7 189.8l1.5-.2 1.5-.1.5.6-1.5.1-1.4.2z"/>
<path class="o22" d="M74.7 189.5l1.4-.1 1.5.2.6.8-1.5-.2-1.5-.1z"/>
<path class="o21" d="M77.6 189.6l1.5.2 1.5.3.6 1.2-1.5-.5-1.5-.4z"/>
<path class="o20" d="M80.6 190.1l1.4.5.6 1.3-1.4-.6z"/>
<path class="o19" d="M82 190.6l1.5.5.6 1.4-1.5-.6z"/>
<path class="o18" d="M83.5 191.1l1.5.5.6 1.6-1.5-.7z"/>
<path class="o16" d="M85 191.6l1.5.6.6 1.6-1.5-.6z"/>
<path class="o15" d="M86.5 192.2l1.5.5.6 1.7-1.5-.6z"/>
<path class="o14" d="M88 192.7l1.4.5.7 1.7-1.5-.5z"/>
<path class="o13" d="M89.4 193.2l1.5.4.6 1.6-1.4-.3z"/>
<path class="o12" d="M90.9 193.6l1.5.2 1.5.2 1.5 0 .6 1.3-1.5.1-1.5 0-1.5-.2z"/>
<path class="o13" d="M95.4 194l1.5-.1.6 1.1-1.5.3z"/>
<path class="o14" d="M96.9 193.9l1.4-.3.7 1-1.5.4z"/>
<path class="o15" d="M98.3 193.6l1.5-.3.7.8-1.5.5z"/>
<path class="o16" d="M99.8 193.3l1.5-.5.7.7-1.5.6z"/>
<path class="o17" d="M101.3 192.8l1.5-.4.7.5-1.5.6z"/>
<path class="o19" d="M102.8 192.4l1.5-.6.7.5-1.5.6z"/>
<path class="o20" d="M104.3 191.8l1.5-1 .7 1-1.5.5z"/>
<path class="o22" d="M105.8 190.8l1.5-1.5.7 1.6-1.5.9z"/>
<path class="o24" d="M107.3 189.3l1.5-1.3.7 2.3-1.5.6z"/>
<path class="o25" d="M108.8 188l1.5-.9.7 2.9-1.5.3z"/>
<path class="o26" d="M110.3 187.1l1.5-.3.7 3.3-1.5-.1z"/>
<path class="o25" d="M111.8 186.8l1.5.4.7 3.5-1.5-.6z"/>
<path class="o24" d="M113.3 187.2l1.5 1 .7 3.4-1.5-.9z"/>
<path class="o23" d="M114.8 188.2l1.5 1.4.7 2.8-1.5-.8z"/>
<path class="o21" d="M116.3 189.6l1.5 1.6.7 1.9-1.5-.7z"/>
<path class="o19" d="M117.8 191.2l1.5 1.1.7 1.5-1.5-.7z"/>
<path class="o18" d="M119.3 192.3l1.5.7.7 1.5-1.5-.7z"/>
<path class="o16" d="M120.8 193l1.4.5.8 1.6-1.5-.6z"/>
<path class="o15" d="M122.2 193.5l1.5.6.8 1.6-1.5-.6z"/>
<path class="o14" d="M123.7 194.1l1.5.4.8 1.6-1.5-.4z"/>
<path class="o10" d="M54.6 193.7l1.5.3.5 1.4-1.4-.2z"/>
<path class="o9" d="M56.1 194l1.5.2 1.4 0 .6 1.1-1.5.2-1.5-.1z"/>
<path class="o10" d="M59 194.2l1.5-.2.5 1-1.4.3z"/>
<path class="o11" d="M60.5 194l1.5-.3.5.9-1.5.4z"/>
<path class="o13" d="M62 193.7l1.4-.4.6.7-1.5.6z"/>
<path class="o14" d="M63.4 193.3l1.5-.5.5.6-1.4.6z"/>
<path class="o16" d="M64.9 192.8l1.5-.6.5.6-1.5.6z"/>
<path class="o17" d="M66.4 192.2l1.5-.5.5.5-1.5.6z"/>
<path class="o19" d="M67.9 191.7l1.4-.5.6.4-1.5.6z"/>
<path class="o20" d="M69.3 191.2l1.5-.5.6.5-1.5.4z"/>
<path class="o21" d="M70.8 190.7l1.5-.3 1.4-.2 1.5-.1 1.5.1 1.5.2.6 1.1-1.5-.4-1.5-.2-1.5-.1-1.5.1-1.4.3z"/>
<path class="o20" d="M78.2 190.4l1.5.4.6 1.2-1.5-.5z"/>
<path class="o19" d="M79.7 190.8l1.5.5.5 1.3-1.4-.6z"/>
<path class="o18" d="M81.2 191.3l1.4.6.6 1.4-1.5-.7z"/>
<path class="o17" d="M82.6 191.9l1.5.6.6 1.6-1.5-.8z"/>
<path class="o15" d="M84.1 192.5l1.5.7.6 1.6-1.5-.7z"/>
<path class="o14" d="M85.6 193.2l1.5.6.6 1.6-1.5-.6z"/>
<path class="o12" d="M87.1 193.8l1.5.6.6 1.6-1.5-.6z"/>
<path class="o11" d="M88.6 194.4l1.5.5.6 1.5-1.5-.4z"/>
<path class="o10" d="M90.1 194.9l1.4.3.7 1.4-1.5-.2z"/>
<path class="o9" d="M91.5 195.2l1.5.2 1.5 0 .7 1.2-1.5.1-1.5-.1z"/>
<path class="o10" d="M94.5 195.4l1.5-.1.7 1-1.5.3z"/>
<path class="o11" d="M96 195.3l1.5-.3.7.8-1.5.5z"/>
<path class="o13" d="M97.5 195l1.5-.4.6.7-1.4.5z"/>
<path class="o14" d="M99 194.6l1.5-.5.6.5-1.5.7z"/>
<path class="o16" d="M100.5 194.1l1.5-.6.6.5-1.5.6z"/>
<path class="o17" d="M102 193.5l1.5-.6.6.4-1.5.7z"/>
<path class="o19" d="M103.5 192.9l1.5-.6.6.5-1.5.5z"/>
<path class="o20" d="M105 192.3l1.5-.5.6.5-1.5.5z"/>
<path class="o21" d="M106.5 191.8l1.5-.9.7 1.1-1.6.3z"/>
<path class="o22" d="M108 190.9l1.5-.6 1.5-.3 1.5.1 1.5.6.7 1.9-1.5-.4-1.5-.3-1.5 0-1.5.1z"/>
<path class="o21" d="M114 190.7l1.5.9.7 1.5-1.5-.5z"/>
<path class="o20" d="M115.5 191.6l1.5.8.7 1.4-1.5-.7z"/>
<path class="o18" d="M117 192.4l1.5.7.7 1.4-1.5-.7z"/>
<path class="o17" d="M118.5 193.1l1.5.7.7 1.5-1.5-.8z"/>
<path class="o15" d="M120 193.8l1.5.7.7 1.5-1.5-.7z"/>
<path class="o14" d="M121.5 194.5l1.5.6.7 1.6-1.5-.7z"/>
<path class="o12" d="M123 195.1l1.5.6.7 1.5-1.5-.5z"/>
<path class="o11" d="M124.5 195.7l1.5.4.7 1.5-1.5-.4z"/>
<path class="o6" d="M55.2 195.2l1.4.2 1.5.1.5.9-1.5.1-1.4-.1z"/>
<path class="o7" d="M58.1 195.5l1.5-.2.5.8-1.5.3z"/>
<path class="o9" d="M59.6 195.3l1.4-.3.6.7-1.5.4z"/>
<path class="o11" d="M61 195l1.5-.4.5.5-1.4.6z"/>
<path class="o13" d="M62.5 194.6l1.5-.6.5.4-1.5.7z"/>
<path class="o14" d="M64 194l1.4-.6.6.3-1.5.7z"/>
<path class="o16" d="M65.4 193.4l1.5-.6.6.3-1.5.6z"/>
<path class="o18" d="M66.9 192.8l1.5-.6.5.3-1.4.6z"/>
<path class="o19" d="M68.4 192.2l1.5-.6.5.4-1.5.5z"/>
<path class="o20" d="M69.9 191.6l1.5-.4.5.4-1.5.4z"/>
<path class="o21" d="M71.4 191.2l1.4-.3 1.5-.1 1.5.1 1.5.2.6.9-1.5-.3-1.5-.2-1.5 0-1.5.1z"/>
<path class="o20" d="M77.3 191.1l1.5.4.6 1-1.5-.5z"/>
<path class="o19" d="M78.8 191.5l1.5.5.5 1.2-1.4-.7z"/>
<path class="o18" d="M80.3 192l1.4.6.6 1.3-1.5-.7z"/>
<path class="o17" d="M81.7 192.6l1.5.7.6 1.4-1.5-.8z"/>
<path class="o15" d="M83.2 193.3l1.5.8.6 1.4-1.5-.8z"/>
<path class="o13" d="M84.7 194.1l1.5.7.6 1.4-1.5-.7z"/>
<path class="o11" d="M86.2 194.8l1.5.6.6 1.4-1.5-.6z"/>
<path class="o9" d="M87.7 195.4l1.5.6.6 1.3-1.5-.5z"/>
<path class="o7" d="M89.2 196l1.5.4.6 1.2-1.5-.3z"/>
<path class="o6" d="M90.7 196.4l1.5.2 1.5.1.6.9-1.5.1-1.5-.1z"/>
<path class="o7" d="M93.7 196.7l1.5-.1.6.7-1.5.3z"/>
<path class="o9" d="M95.2 196.6l1.5-.3.6.6-1.5.4z"/>
<path class="o11" d="M96.7 196.3l1.5-.5.6.5-1.5.6z"/>
<path class="o13" d="M98.2 195.8l1.4-.5.7.3-1.5.7z"/>
<path class="o14" d="M99.6 195.3l1.5-.7.7.4-1.5.6z"/>
<path class="o16" d="M101.1 194.6l1.5-.6.7.3-1.5.7z"/>
<path class="o18" d="M102.6 194l1.5-.7.7.4-1.5.6z"/>
<path class="o19" d="M104.1 193.3l1.5-.5.7.3-1.5.6z"/>
<path class="o20" d="M105.6 192.8l1.5-.5.7.5-1.5.3z"/>
<path class="o21" d="M107.1 192.3l1.6-.3 1.5-.1 1.5 0 1.5.3.7 1-1.5-.4-1.5-.2-1.6 0-1.5.2z"/>
<path class="o20" d="M113.2 192.2l1.5.4.7 1.1-1.5-.5z"/>
<path class="o19" d="M114.7 192.6l1.5.5.7 1.3-1.5-.7z"/>
<path class="o18" d="M116.2 193.1l1.5.7.7 1.3-1.5-.7z"/>
<path class="o17" d="M117.7 193.8l1.5.7.7 1.4-1.5-.8z"/>
<path class="o15" d="M119.2 194.5l1.5.8.7 1.4-1.5-.8z"/>
<path class="o13" d="M120.7 195.3l1.5.7.7 1.5-1.5-.8z"/>
<path class="o11" d="M122.2 196l1.5.7.7 1.4-1.5-.6z"/>
<path class="o9" d="M123.7 196.7l1.5.5.8 1.4-1.6-.5z"/>
<path class="o7" d="M125.2 197.2l1.5.4.8 1.3-1.5-.3z"/>
<path class="o3" d="M55.7 196.4l1.4.1.5.6-1.4.1z"/>
<path class="o4" d="M57.1 196.5l1.5-.1.5.5-1.5.2z"/>
<path class="o7" d="M58.6 196.4l1.5-.3.5.4-1.5.4z"/>
<path class="o9" d="M60.1 196.1l1.5-.4.5.2-1.5.6z"/>
<path class="o11" d="M61.6 195.7l1.4-.6.6.2-1.5.6z"/>
<path class="o13" d="M63 195.1l1.5-.7.5.2-1.4.7z"/>
<path class="o15" d="M64.5 194.4l1.5-.7.5.2-1.5.7z"/>
<path class="o17" d="M66 193.7l1.5-.6.5.1-1.5.7z"/>
<path class="o18" d="M67.5 193.1l1.4-.6.6.2-1.5.5z"/>
<path class="o20" d="M68.9 192.5l1.5-.5 1.5-.4.6.4-1.5.3-1.5.4z"/>
<path class="o21" d="M71.9 191.6l1.5-.1 1.5 0 1.5.2.6.8-1.5-.4-1.5-.1-1.5 0z"/>
<path class="o20" d="M76.4 191.7l1.5.3.5 1-1.4-.5z"/>
<path class="o19" d="M77.9 192l1.5.5.5 1.1-1.5-.6z"/>
<path class="o18" d="M79.4 192.5l1.4.7.6 1.2-1.5-.8z"/>
<path class="o17" d="M80.8 193.2l1.5.7.6 1.3-1.5-.8z"/>
<path class="o15" d="M82.3 193.9l1.5.8.6 1.3-1.5-.8z"/>
<path class="o13" d="M83.8 194.7l1.5.8.6 1.2-1.5-.7z"/>
<path class="o11" d="M85.3 195.5l1.5.7.6 1.2-1.5-.7z"/>
<path class="o8" d="M86.8 196.2l1.5.6.6 1.1-1.5-.5z"/>
<path class="o6" d="M88.3 196.8l1.5.5.6 1-1.5-.4z"/>
<path class="o4" d="M89.8 197.3l1.5.3.6.8-1.5-.1z"/>
<path class="o3" d="M91.3 197.6l1.5.1.6.7-1.5 0z"/>
<path class="o4" d="M92.8 197.7l1.5-.1.6.5-1.5.3z"/>
<path class="o7" d="M94.3 197.6l1.5-.3.6.4-1.5.4z"/>
<path class="o9" d="M95.8 197.3l1.5-.4.7.2-1.6.6z"/>
<path class="o11" d="M97.3 196.9l1.5-.6.7.2-1.5.6z"/>
<path class="o13" d="M98.8 196.3l1.5-.7.7.2-1.5.7z"/>
<path class="o15" d="M100.3 195.6l1.5-.6.7.1-1.5.7z"/>
<path class="o17" d="M101.8 195l1.5-.7.7.1-1.5.7z"/>
<path class="o18" d="M103.3 194.3l1.5-.6.7.2-1.5.5z"/>
<path class="o20" d="M104.8 193.7l1.5-.6 1.5-.3.7.4-1.5.3-1.5.4z"/>
<path class="o21" d="M107.8 192.8l1.5-.2 1.6 0 1.5.2.7.9-1.6-.4-1.5-.1-1.5 0z"/>
<path class="o20" d="M112.4 192.8l1.5.4.7 1-1.5-.5z"/>
<path class="o19" d="M113.9 193.2l1.5.5.7 1.1-1.5-.6z"/>
<path class="o18" d="M115.4 193.7l1.5.7.7 1.2-1.5-.8z"/>
<path class="o17" d="M116.9 194.4l1.5.7.7 1.3-1.5-.8z"/>
<path class="o15" d="M118.4 195.1l1.5.8.7 1.3-1.5-.8z"/>
<path class="o13" d="M119.9 195.9l1.5.8.7 1.3-1.5-.8z"/>
<path class="o11" d="M121.4 196.7l1.5.8.8 1.1-1.6-.6z"/>
<path class="o8" d="M122.9 197.5l1.5.6.8 1.1-1.5-.6z"/>
<path class="o6" d="M124.4 198.1l1.6.5.7.9-1.5-.3z"/>
<path class="o4" d="M126 198.6l1.5.3.7.8-1.5-.2z"/>
<path class="o4" d="M56.2 197.2l1.4-.1.6.3-1.5.2z"/>
<path class="o6" d="M57.6 197.1l1.5-.2.5.1-1.4.4z"/>
<path class="o8" d="M59.1 196.9l1.5-.4.5 0-1.5.5z"/>
<path class="o11" d="M60.6 196.5l1.5-.6.5-.1-1.5.7z"/>
<path class="o13" d="M62.1 195.9l1.5-.6.5-.1-1.5.6z"/>
<path class="o15" d="M63.6 195.3l1.4-.7.6-.1-1.5.7z"/>
<path class="o17" d="M65 194.6l1.5-.7.6-.1-1.5.7z"/>
<path class="o18" d="M66.5 193.9l1.5-.7.6 0-1.5.6z"/>
<path class="o19" d="M68 193.2l1.5-.5.5.1-1.4.4z"/>
<path class="o20" d="M69.5 192.7l1.5-.4.5.2-1.5.3z"/>
<path class="o21" d="M71 192.3l1.5-.3 1.5 0 1.5.1.5.7-1.5-.3-1.5-.1-1.5.1z"/>
<path class="o20" d="M75.5 192.1l1.5.4 1.4.5.6.9-1.5-.6-1.5-.5z"/>
<path class="o18" d="M78.4 193l1.5.6.6 1-1.5-.7z"/>
<path class="o17" d="M79.9 193.6l1.5.8.6 1-1.5-.8z"/>
<path class="o15" d="M81.4 194.4l1.5.8.6 1-1.5-.8z"/>
<path class="o13" d="M82.9 195.2l1.5.8.6 1-1.5-.8z"/>
<path class="o11" d="M84.4 196l1.5.7.7.9-1.6-.6z"/>
<path class="o9" d="M85.9 196.7l1.5.7.7.8-1.5-.6z"/>
<path class="o7" d="M87.4 197.4l1.5.5.7.7-1.5-.4z"/>
<path class="o4" d="M88.9 197.9l1.5.4.7.5-1.5-.2z"/>
<path class="o3" d="M90.4 198.3l1.5.1.7.4-1.5 0z"/>
<path class="o4" d="M91.9 198.4l1.5 0 .7.2-1.5.2z"/>
<path class="o6" d="M93.4 198.4l1.5-.3.7.1-1.5.4z"/>
<path class="o8" d="M94.9 198.1l1.5-.4.7 0-1.5.5z"/>
<path class="o11" d="M96.4 197.7l1.6-.6.6 0-1.5.6z"/>
<path class="o13" d="M98 197.1l1.5-.6.6-.1-1.5.7z"/>
<path class="o15" d="M99.5 196.5l1.5-.7.6-.1-1.5.7z"/>
<path class="o17" d="M101 195.8l1.5-.7.6-.1-1.5.7z"/>
<path class="o18" d="M102.5 195.1l1.5-.7.7.1-1.6.5z"/>
<path class="o19" d="M104 194.4l1.5-.5.7.2-1.5.4z"/>
<path class="o20" d="M105.5 193.9l1.5-.4.7.3-1.5.3z"/>
<path class="o21" d="M107 193.5l1.5-.3 1.5 0 1.5.1.8.8-1.6-.3-1.5-.1-1.5.1z"/>
<path class="o20" d="M111.5 193.3l1.6.4 1.5.5.7.9-1.5-.6-1.5-.4z"/>
<path class="o18" d="M114.6 194.2l1.5.6.7 1.1-1.5-.8z"/>
<path class="o17" d="M116.1 194.8l1.5.8.7 1-1.5-.7z"/>
<path class="o15" d="M117.6 195.6l1.5.8.7 1-1.5-.8z"/>
<path class="o13" d="M119.1 196.4l1.5.8.8 1-1.6-.8z"/>
<path class="o11" d="M120.6 197.2l1.5.8.8.9-1.5-.7z"/>
<path class="o9" d="M122.1 198l1.6.6.7.8-1.5-.5z"/>
<path class="o7" d="M123.7 198.6l1.5.6.7.6-1.5-.4z"/>
<path class="o4" d="M125.2 199.2l1.5.3.8.5-1.6-.2z"/>
<path class="o3" d="M126.7 199.5l1.5.2.8.3-1.5 0z"/>
<path class="o7" d="M56.7 197.6l1.5-.2.5-.2-1.5.3z"/>
<path class="o9" d="M58.2 197.4l1.4-.4.6-.2-1.5.4z"/>
<path class="o11" d="M59.6 197l1.5-.5.5-.3-1.4.6z"/>
<path class="o13" d="M61.1 196.5l1.5-.7.5-.2-1.5.6z"/>
<path class="o15" d="M62.6 195.8l1.5-.6.5-.3-1.5.7z"/>
<path class="o17" d="M64.1 195.2l1.5-.7.5-.2-1.5.6z"/>
<path class="o18" d="M65.6 194.5l1.5-.7.5-.1-1.5.6z"/>
<path class="o19" d="M67.1 193.8l1.5-.6.5 0-1.5.5z"/>
<path class="o20" d="M68.6 193.2l1.4-.4.6.1-1.5.3z"/>
<path class="o21" d="M70 192.8l1.5-.3 1.5-.1 1.5.1 1.5.3.6.7-1.5-.4-1.5-.3-1.5 0-1.5.1z"/>
<path class="o20" d="M76 192.8l1.5.5.6.8-1.5-.6z"/>
<path class="o19" d="M77.5 193.3l1.5.6.6.8-1.5-.6z"/>
<path class="o18" d="M79 193.9l1.5.7.6.9-1.5-.8z"/>
<path class="o16" d="M80.5 194.6l1.5.8.6.8-1.5-.7z"/>
<path class="o14" d="M82 195.4l1.5.8.7.8-1.6-.8z"/>
<path class="o13" d="M83.5 196.2l1.5.8.7.6-1.5-.6z"/>
<path class="o11" d="M85 197l1.6.6.6.6-1.5-.6z"/>
<path class="o9" d="M86.6 197.6l1.5.6.6.4-1.5-.4z"/>
<path class="o7" d="M88.1 198.2l1.5.4.6.2-1.5-.2z"/>
<path class="o6" d="M89.6 198.6l1.5.2 1.5 0 .6-.1-1.5.2-1.5-.1z"/>
<path class="o7" d="M92.6 198.8l1.5-.2.6-.2-1.5.3z"/>
<path class="o9" d="M94.1 198.6l1.5-.4.6-.2-1.5.4z"/>
<path class="o11" d="M95.6 198.2l1.5-.5.7-.3-1.6.6z"/>
<path class="o13" d="M97.1 197.7l1.5-.6.7-.3-1.5.6z"/>
<path class="o15" d="M98.6 197.1l1.5-.7.7-.3-1.5.7z"/>
<path class="o17" d="M100.1 196.4l1.5-.7.7-.2-1.5.6z"/>
<path class="o18" d="M101.6 195.7l1.5-.7.7 0-1.5.5z"/>
<path class="o19" d="M103.1 195l1.6-.5.6 0-1.5.5z"/>
<path class="o20" d="M104.7 194.5l1.5-.4.7.2-1.6.2z"/>
<path class="o21" d="M106.2 194.1l1.5-.3 1.5-.1 1.5.1 1.6.3.7.7-1.6-.4-1.5-.2-1.5-.1-1.5.2z"/>
<path class="o20" d="M112.3 194.1l1.5.4.7.8-1.5-.5z"/>
<path class="o19" d="M113.8 194.5l1.5.6.7.9-1.5-.7z"/>
<path class="o18" d="M115.3 195.1l1.5.8.7.8-1.5-.7z"/>
<path class="o16" d="M116.8 195.9l1.5.7.8.9-1.6-.8z"/>
<path class="o14" d="M118.3 196.6l1.5.8.8.8-1.5-.7z"/>
<path class="o13" d="M119.8 197.4l1.6.8.7.7-1.5-.7z"/>
<path class="o11" d="M121.4 198.2l1.5.7.7.5-1.5-.5z"/>
<path class="o9" d="M122.9 198.9l1.5.5.8.4-1.6-.4z"/>
<path class="o7" d="M124.4 199.4l1.5.4.8.3-1.5-.3z"/>
<path class="o6" d="M125.9 199.8l1.6.2 1.5 0 .8 0-1.6.1-1.5 0z"/>
<path class="o11" d="M57.2 197.5l1.5-.3.5-.4-1.5.4z"/>
<path class="o12" d="M58.7 197.2l1.5-.4.5-.5-1.5.5z"/>
<path class="o14" d="M60.2 196.8l1.4-.6.6-.4-1.5.5z"/>
<path class="o15" d="M61.6 196.2l1.5-.6.6-.4-1.5.6z"/>
<path class="o17" d="M63.1 195.6l1.5-.7.6-.3-1.5.6z"/>
<path class="o18" d="M64.6 194.9l1.5-.6.6-.2-1.5.5z"/>
<path class="o20" d="M66.1 194.3l1.5-.6.6-.3-1.5.7z"/>
<path class="o21" d="M67.6 193.7l1.5-.5.6-.7-1.5.9z"/>
<path class="o22" d="M69.1 193.2l1.5-.3 1.5-.1 1.5 0 1.5.3.6.1-1.5-.8-1.5-.4-1.5 0-1.5.5z"/>
<path class="o21" d="M75.1 193.1l1.5.4.6.6-1.5-.9z"/>
<path class="o20" d="M76.6 193.5l1.5.6.6.7-1.5-.7z"/>
<path class="o19" d="M78.1 194.1l1.5.6.6.7-1.5-.6z"/>
<path class="o17" d="M79.6 194.7l1.5.8.6.6-1.5-.7z"/>
<path class="o16" d="M81.1 195.5l1.5.7.6.6-1.5-.7z"/>
<path class="o14" d="M82.6 196.2l1.6.8.6.4-1.6-.6z"/>
<path class="o13" d="M84.2 197l1.5.6.6.4-1.5-.6z"/>
<path class="o11" d="M85.7 197.6l1.5.6.6.2-1.5-.4z"/>
<path class="o10" d="M87.2 198.2l1.5.4.6 0-1.5-.2z"/>
<path class="o9" d="M88.7 198.6l1.5.2 1.5.1.6-.3-1.5.1-1.5-.1z"/>
<path class="o10" d="M91.7 198.9l1.5-.2.7-.3-1.6.2z"/>
<path class="o11" d="M93.2 198.7l1.5-.3.7-.4-1.5.4z"/>
<path class="o12" d="M94.7 198.4l1.5-.4.7-.5-1.5.5z"/>
<path class="o14" d="M96.2 198l1.6-.6.6-.4-1.5.5z"/>
<path class="o15" d="M97.8 197.4l1.5-.6.6-.4-1.5.6z"/>
<path class="o17" d="M99.3 196.8l1.5-.7.7-.3-1.6.6z"/>
<path class="o18" d="M100.8 196.1l1.5-.6.7-.2-1.5.5z"/>
<path class="o19" d="M102.3 195.5l1.5-.5.7-.1-1.5.4z"/>
<path class="o20" d="M103.8 195l1.5-.5.7.2-1.5.2z"/>
<path class="o21" d="M105.3 194.5l1.6-.2 1.5-.2 1.5.1 1.5.2 1.6.4.7.7-1.6-.5-1.5-.3-1.5-.2-1.5 0-1.6.2z"/>
<path class="o20" d="M113 194.8l1.5.5.7.7-1.5-.5z"/>
<path class="o19" d="M114.5 195.3l1.5.7.7.7-1.5-.7z"/>
<path class="o17" d="M116 196l1.5.7.8.6-1.6-.6z"/>
<path class="o16" d="M117.5 196.7l1.6.8.7.5-1.5-.7z"/>
<path class="o14" d="M119.1 197.5l1.5.7.7.4-1.5-.6z"/>
<path class="o13" d="M120.6 198.2l1.5.7.8.3-1.6-.6z"/>
<path class="o11" d="M122.1 198.9l1.5.5.8.2-1.5-.4z"/>
<path class="o10" d="M123.6 199.4l1.6.4.7 0-1.5-.2z"/>
<path class="o9" d="M125.2 199.8l1.5.3 1.5 0 .8-.2-1.5 0-1.6-.1z"/>
<path class="o10" d="M128.2 200.1l1.6-.1.7-.3-1.5.2z"/>
<path class="o14" d="M57.7 197.2l1.5-.4.5-.4-1.5.3z"/>
<path class="o15" d="M59.2 196.8l1.5-.5.5-.4-1.5.5z"/>
<path class="o16" d="M60.7 196.3l1.5-.5.5-.4-1.5.5z"/>
<path class="o18" d="M62.2 195.8l1.5-.6.5-.3-1.5.5z"/>
<path class="o19" d="M63.7 195.2l1.5-.6.5-.8-1.5 1.1z"/>
<path class="o21" d="M65.2 194.6l1.5-.5.5-1.8-1.5 1.5z"/>
<path class="o23" d="M66.7 194.1l1.5-.7.5-2.4-1.5 1.3z"/>
<path class="o24" d="M68.2 193.4l1.5-.9.5-2.4-1.5.9z"/>
<path class="o25" d="M69.7 192.5l1.5-.5.5-2.3-1.5.4z"/>
<path class="o26" d="M71.2 192l1.5 0 .5-1.8-1.5-.5z"/>
<path class="o25" d="M72.7 192l1.5.4.5-1.2-1.5-1z"/>
<path class="o24" d="M74.2 192.4l1.5.8.6-.6-1.6-1.4z"/>
<path class="o22" d="M75.7 193.2l1.5.9.6.1-1.5-1.6z"/>
<path class="o20" d="M77.2 194.1l1.5.7.6.6-1.5-1.2z"/>
<path class="o19" d="M78.7 194.8l1.5.6.6.6-1.5-.6z"/>
<path class="o17" d="M80.2 195.4l1.5.7.6.5-1.5-.6z"/>
<path class="o16" d="M81.7 196.1l1.5.7.7.4-1.6-.6z"/>
<path class="o15" d="M83.2 196.8l1.6.6.6.2-1.5-.4z"/>
<path class="o14" d="M84.8 197.4l1.5.6.6 0-1.5-.4z"/>
<path class="o13" d="M86.3 198l1.5.4.6-.2-1.5-.2z"/>
<path class="o12" d="M87.8 198.4l1.5.2 1.5.1 1.5-.1.7-.5-1.5.2-1.6 0-1.5-.1z"/>
<path class="o13" d="M92.3 198.6l1.6-.2.6-.6-1.5.3z"/>
<path class="o14" d="M93.9 198.4l1.5-.4.6-.6-1.5.4z"/>
<path class="o15" d="M95.4 198l1.5-.5.6-.5-1.5.4z"/>
<path class="o16" d="M96.9 197.5l1.5-.5.7-.5-1.6.5z"/>
<path class="o18" d="M98.4 197l1.5-.6.7-.3-1.5.4z"/>
<path class="o19" d="M99.9 196.4l1.6-.6.6-.1-1.5.4z"/>
<path class="o20" d="M101.5 195.8l1.5-.5.7 0-1.6.4z"/>
<path class="o21" d="M103 195.3l1.5-.4 1.5-.2.7.2-1.5.1-1.5.3z"/>
<path class="o22" d="M106 194.7l1.6-.2 1.5 0 .7.5-1.5-.1-1.6 0z"/>
<path class="o21" d="M109.1 194.5l1.5.2 1.5.3.8.6-1.6-.3-1.5-.3z"/>
<path class="o20" d="M112.1 195l1.6.5 1.5.5.7.6-1.5-.5-1.5-.5z"/>
<path class="o19" d="M115.2 196l1.5.7.8.5-1.6-.6z"/>
<path class="o17" d="M116.7 196.7l1.6.6.7.4-1.5-.5z"/>
<path class="o16" d="M118.3 197.3l1.5.7.7.3-1.5-.6z"/>
<path class="o15" d="M119.8 198l1.5.6.8.2-1.6-.5z"/>
<path class="o14" d="M121.3 198.6l1.6.6.7 0-1.5-.4z"/>
<path class="o13" d="M122.9 199.2l1.5.4.7-.2-1.5-.2z"/>
<path class="o12" d="M124.4 199.6l1.5.2 1.6.1 1.5 0 .8-.4-1.6.1-1.5 0-1.6-.2z"/>
<path class="o13" d="M129 199.9l1.5-.2.8-.5-1.5.3z"/>
<path class="o16" d="M58.2 196.7l1.5-.3.5-.4-1.5.3z"/>
<path class="o17" d="M59.7 196.4l1.5-.5.5-.3-1.5.4z"/>
<path class="o18" d="M61.2 195.9l1.5-.5.5-.5-1.5.7z"/>
<path class="o20" d="M62.7 195.4l1.5-.5.5-1.7-1.5 1.7z"/>
<path class="o22" d="M64.2 194.9l1.5-1.1.5-2.5-1.5 1.9z"/>
<path class="o25" d="M65.7 193.8l1.5-1.5.5-3-1.5 2z"/>
<path class="o27" d="M67.2 192.3l1.5-1.3.5-3.2-1.5 1.5z"/>
<path class="o29" d="M68.7 191l1.5-.9.6-3.1-1.6.8z"/>
<path class="o30" d="M70.2 190.1l1.5-.4.6-2.4-1.5-.3z"/>
<path class="o29" d="M71.7 189.7l1.5.5.6-1.6-1.5-1.3z"/>
<path class="o28" d="M73.2 190.2l1.5 1 .6-.6-1.5-2z"/>
<path class="o25" d="M74.7 191.2l1.6 1.4.6.1-1.6-2.1z"/>
<path class="o23" d="M76.3 192.6l1.5 1.6.6.4-1.5-1.9z"/>
<path class="o20" d="M77.8 194.2l1.5 1.2.6.6-1.5-1.4z"/>
<path class="o19" d="M79.3 195.4l1.5.6.6.5-1.5-.5z"/>
<path class="o18" d="M80.8 196l1.5.6.6.4-1.5-.5z"/>
<path class="o17" d="M82.3 196.6l1.6.6.6.1-1.6-.3z"/>
<path class="o16" d="M83.9 197.2l1.5.4.6 0-1.5-.3z"/>
<path class="o15" d="M85.4 197.6l1.5.4 1.5.2 1.5.1 1.6 0 1.5-.2.6-.6-1.5.2-1.5.1-1.6.1-1.5-.1-1.5-.2z"/>
<path class="o16" d="M93 198.1l1.5-.3.7-.5-1.6.2z"/>
<path class="o17" d="M94.5 197.8l1.5-.4.7-.4-1.5.3z"/>
<path class="o18" d="M96 197.4l1.5-.4.7-.4-1.5.4z"/>
<path class="o19" d="M97.5 197l1.6-.5 1.5-.4.7-.2-1.6.4-1.5.3z"/>
<path class="o20" d="M100.6 196.1l1.5-.4.7 0-1.5.2z"/>
<path class="o21" d="M102.1 195.7l1.6-.4 1.5-.3.7.4-1.6.1-1.5.2z"/>
<path class="o22" d="M105.2 195l1.5-.1 1.6 0 1.5.1 1.5.3.7.5-1.5-.2-1.5-.2-1.6-.1-1.5.1z"/>
<path class="o21" d="M111.3 195.3l1.6.3.7.6-1.6-.4z"/>
<path class="o20" d="M112.9 195.6l1.5.5 1.5.5.8.4-1.6-.4-1.5-.4z"/>
<path class="o19" d="M115.9 196.6l1.6.6.7.3-1.5-.5z"/>
<path class="o18" d="M117.5 197.2l1.5.5.7.2-1.5-.4z"/>
<path class="o17" d="M119 197.7l1.5.6.8 0-1.6-.4z"/>
<path class="o16" d="M120.5 198.3l1.6.5.7-.1-1.5-.4z"/>
<path class="o15" d="M122.1 198.8l1.5.4 1.5.2 1.6.2 1.5 0 1.6-.1 1.5-.3.8-.4-1.5.2-1.6.2-1.5 0-1.6-.1-1.5-.2-1.6-.2z"/>
<path class="o18" d="M58.7 196.3l1.5-.3.6-.3-1.6.3z"/>
<path class="o19" d="M60.2 196l1.5-.4.6-.6-1.5.7z"/>
<path class="o21" d="M61.7 195.6l1.5-.7.6-1.8-1.5 1.9z"/>
<path class="o24" d="M63.2 194.9l1.5-1.7.6-2.5-1.5 2.4z"/>
<path class="o27" d="M64.7 193.2l1.5-1.9.6-3.1-1.5 2.5z"/>
<path class="o30" d="M66.2 191.3l1.5-2 .6-3.4-1.5 2.3z"/>
<path class="o32" d="M67.7 189.3l1.5-1.5.6-3.5-1.5 1.6z"/>
<path class="o33" d="M69.2 187.8l1.6-.8 1.5.3.5-1.3-1.5-1.7-1.5 0z"/>
<path class="o31" d="M72.3 187.3l1.5 1.3.6-.1-1.6-2.5z"/>
<path class="o29" d="M73.8 188.6l1.5 2 .6.5-1.5-2.6z"/>
<path class="o26" d="M75.3 190.6l1.6 2.1.5.8-1.5-2.4z"/>
<path class="o23" d="M76.9 192.7l1.5 1.9.6.9-1.6-2z"/>
<path class="o20" d="M78.4 194.6l1.5 1.4.6.4-1.5-.9z"/>
<path class="o19" d="M79.9 196l1.5.5.6.3-1.5-.4z"/>
<path class="o18" d="M81.4 196.5l1.5.5 1.6.3.6 0-1.5-.2-1.6-.3z"/>
<path class="o17" d="M84.5 197.3l1.5.3 1.5.2 1.5.1 1.6-.1 1.5-.1.6-.4-1.5.1-1.5 0-1.6 0-1.5 0-1.5-.1z"/>
<path class="o18" d="M92.1 197.7l1.5-.2 1.6-.2.6-.4-1.5.2-1.6.2z"/>
<path class="o19" d="M95.2 197.3l1.5-.3 1.5-.4.7-.1-1.6.2-1.5.2z"/>
<path class="o20" d="M98.2 196.6l1.5-.3.7 0-1.5.2z"/>
<path class="o21" d="M99.7 196.3l1.6-.4 1.5-.2.7.3-1.5.1-1.6.2z"/>
<path class="o22" d="M102.8 195.7l1.5-.2 1.6-.1 1.5-.1 1.6.1 1.5.2.7.7-1.5-.2-1.6-.1-1.5-.1-1.6 0-1.5.1z"/>
<path class="o21" d="M110.5 195.6l1.5.2 1.6.4 1.5.4.7.5-1.5-.3-1.5-.3-1.6-.2z"/>
<path class="o20" d="M115.1 196.6l1.6.4.7.4-1.6-.3z"/>
<path class="o19" d="M116.7 197l1.5.5 1.5.4.8.1-1.6-.3-1.5-.3z"/>
<path class="o18" d="M119.7 197.9l1.6.4 1.5.4.8-.2-1.6-.2-1.5-.3z"/>
<path class="o17" d="M122.8 198.7l1.6.2 1.5.2 1.6.1 1.5 0 1.6-.2.8-.3-1.6.1-1.6 0-1.5 0-1.6-.1-1.5-.2z"/>
<path class="o18" d="M130.6 199l1.5-.2.8-.3-1.5.2z"/>
<path class="o20" d="M59.2 196l1.6-.3.5-.4-1.5.5z"/>
<path class="o22" d="M60.8 195.7l1.5-.7.5-1.5-1.5 1.8z"/>
<path class="o24" d="M62.3 195l1.5-1.9.5-2-1.5 2.4z"/>
<path class="o28" d="M63.8 193.1l1.5-2.4.5-2.2-1.5 2.6z"/>
<path class="o31" d="M65.3 190.7l1.5-2.5.5-2.5-1.5 2.8z"/>
<path class="o34" d="M66.8 188.2l1.5-2.3.5-2.6-1.5 2.4z"/>
<path class="o36" d="M68.3 185.9l1.5-1.6 1.5 0 .6.2-1.6-1.9-1.5.7z"/>
<path class="o34" d="M71.3 184.3l1.5 1.7.6 1.3-1.5-2.8z"/>
<path class="o32" d="M72.8 186l1.6 2.5.6 1.7-1.6-2.9z"/>
<path class="o29" d="M74.4 188.5l1.5 2.6.6 1.7-1.5-2.6z"/>
<path class="o25" d="M75.9 191.1l1.5 2.4.6 1.5-1.5-2.2z"/>
<path class="o22" d="M77.4 193.5l1.6 2 .6.9-1.6-1.4z"/>
<path class="o20" d="M79 195.5l1.5.9 1.5.4.6.1-1.5-.2-1.5-.3z"/>
<path class="o19" d="M82 196.8l1.6.3 1.5.2 1.5.1 1.5 0 1.6 0 1.5 0 1.5-.1.7-.3-1.5.1-1.6 0-1.5 0-1.6-.2-1.5-.1-1.5 0-1.6.1z"/>
<path class="o20" d="M92.7 197.3l1.6-.2 1.5-.2 1.5-.2.7.1-1.5.1-1.6.1-1.5 0z"/>
<path class="o21" d="M97.3 196.7l1.6-.2 1.5-.2 1.6-.2 1.5-.1.7.6-1.6.1-1.5 0-1.5.1-1.6 0z"/>
<path class="o22" d="M103.5 196l1.5-.1 1.6 0 1.5.1 1.6.1 1.5.2.7.7-1.5-.1-1.6-.1-1.5-.1-1.6 0-1.5-.1z"/>
<path class="o21" d="M111.2 196.3l1.6.2 1.5.3 1.5.3.8.4-1.6-.2-1.5-.1-1.6-.2z"/>
<path class="o20" d="M115.8 197.1l1.6.3 1.5.3 1.6.3.7 0-1.5-.1-1.6-.2-1.5-.2z"/>
<path class="o19" d="M120.5 198l1.5.3 1.6.2 1.5.2 1.6.1 1.5 0 1.6 0 1.6-.1 1.5-.2.8-.1-1.6.1-1.5 0-1.6-.2-1.5 0-1.6 0-1.6 0-1.5-.1-1.6-.2z"/>
<path class="o22" d="M59.8 195.8l1.5-.5.5-.9-1.5 1.3z"/>
<path class="o24" d="M61.3 195.3l1.5-1.8.5-1.2-1.5 2.1z"/>
<path class="o27" d="M62.8 193.5l1.5-2.4.5-1.1-1.5 2.3z"/>
<path class="o30" d="M64.3 191.1l1.5-2.6.5-.9-1.5 2.4z"/>
<path class="o33" d="M65.8 188.5l1.5-2.8.6-.1-1.6 2z"/>
<path class="o36" d="M67.3 185.7l1.5-2.4 1.5-.7.6 3.1-1.5-1-1.5.9z"/>
<path class="o35" d="M70.3 182.6l1.6 1.9.6 3.3-1.6-2.1z"/>
<path class="o33" d="M71.9 184.5l1.5 2.8.6 3-1.5-2.5z"/>
<path class="o30" d="M73.4 187.3l1.6 2.9.6 2.6-1.6-2.5z"/>
<path class="o27" d="M75 190.2l1.5 2.6.6 2.1-1.5-2.1z"/>
<path class="o24" d="M76.5 192.8l1.5 2.2.6 1.3-1.5-1.4z"/>
<path class="o22" d="M78 195l1.6 1.4 1.5.3 1.5.2 1.6-.1 1.5 0 1.5.1 1.6.2.6-1-1.5-.8-1.6-.5-1.5-.2-1.5.3-1.6.5-1.5.6-1.6.3z"/>
<path class="o21" d="M88.8 197.1l1.5 0 1.6 0 1.5-.1 1.5 0 1.6-.1 1.5-.1 1.6 0 1.5-.1 1.5 0 1.6-.1 1.5.1 1.6 0 1.5.1 1.6.1 1.5.1 1.6.2 1.5.1 1.6.2 1.5.2 1.6.2 1.5.1 1.6.2.8-1-1.6.7-1.6.1-1.5 0-1.6-.1-1.5 0-1.6 0-1.6-.1-1.5 0-1.6 0-1.5-.1-1.6 0-1.5-.1-1.6 0-1.5-.1-1.6-.1-1.5-.1-1.6 0-1.5-.1-1.6-.1-1.5 0-1.5-.3-1.6-.7z"/>
<path class="o22" d="M122.8 198.2l1.5.1 1.6 0 1.6 0 1.5 0 1.6.2.8-1.4-1.6-.7-1.5-.3-1.6 0-1.6.5-1.5.6z"/>
<path class="o21" d="M130.6 198.5l1.5 0 1.6-.1.8-.2-1.5-.4-1.6-.7z"/>
<path class="o24" d="M60.3 195.7l1.5-1.3.5-.5-1.5 1.2z"/>
<path class="o26" d="M61.8 194.4l1.5-2.1.6-.3-1.6 1.9z"/>
<path class="o29" d="M63.3 192.3l1.5-2.3.6.2-1.5 1.8z"/>
<path class="o31" d="M64.8 190l1.5-2.4.6 1.1-1.5 1.5z"/>
<path class="o33" d="M66.3 187.6l1.6-2 .5 2.4-1.5.7z"/>
<path class="o34" d="M67.9 185.6l1.5-.9 1.5 1 .6 3.9-1.5-1.3-1.6-.3z"/>
<path class="o32" d="M70.9 185.7l1.6 2.1.6 3.6-1.6-1.8z"/>
<path class="o30" d="M72.5 187.8l1.5 2.5.6 3.1-1.5-2z"/>
<path class="o27" d="M74 190.3l1.6 2.5.6 2.4-1.6-1.8z"/>
<path class="o25" d="M75.6 192.8l1.5 2.1.6.6-1.5-.3z"/>
<path class="o24" d="M77.1 194.9l1.5 1.4 1.6-.3.6-2.6-1.6 1.2-1.5.9z"/>
<path class="o25" d="M80.2 196l1.5-.6.6-3.1-1.5 1.1z"/>
<path class="o26" d="M81.7 195.4l1.6-.5.6-3.1-1.6.5z"/>
<path class="o27" d="M83.3 194.9l1.5-.3 1.5.2.7-2.2-1.6-.8-1.5 0z"/>
<path class="o26" d="M86.3 194.8l1.6.5.6-1.4-1.5-1.3z"/>
<path class="o24" d="M87.9 195.3l1.5.8.7-.7-1.6-1.5z"/>
<path class="o23" d="M89.4 196.1l1.6.7.6-.1-1.5-1.3z"/>
<path class="o22" d="M91 196.8l1.5.3.7.4-1.6-.8z"/>
<path class="o21" d="M92.5 197.1l1.5 0 1.6.1 1.5.1 1.6 0 1.5.1.7 1.1-1.5-.2-1.6-.2-1.5-.2-1.6-.2-1.5-.2z"/>
<path class="o20" d="M100.2 197.4l1.6.1 1.5.1 1.6 0 1.5.1 1.6 0 1.5.1 1.6 0 .7 1-1.6.1-1.5 0-1.6 0-1.5 0-1.6-.1-1.5-.1-1.6-.2z"/>
<path class="o21" d="M111.1 197.8l1.5 0 1.6.1 1.6 0 1.5 0 1.6.1.7.2-1.5.2-1.6.1-1.6.1-1.5.1-1.6.1z"/>
<path class="o22" d="M118.9 198l1.5 0 .8-.9-1.6 1.1z"/>
<path class="o23" d="M120.4 198l1.6-.1.8-2.2-1.6 1.4z"/>
<path class="o24" d="M122 197.9l1.6-.7.7-2.8-1.5 1.3z"/>
<path class="o26" d="M123.6 197.2l1.5-.6.8-3.1-1.6.9z"/>
<path class="o27" d="M125.1 196.6l1.6-.5 1.6 0 .8-2.6-1.6-.4-1.6.4z"/>
<path class="o26" d="M128.3 196.1l1.5.3.8-1.9-1.5-1z"/>
<path class="o25" d="M129.8 196.4l1.6.7.8-1.4-1.6-1.2z"/>
<path class="o24" d="M131.4 197.1l1.6.7.8-.8-1.6-1.3z"/>
<path class="o23" d="M133 197.8l1.5.4.8-.5-1.5-.7z"/>
<path class="o25" d="M60.8 195.1l1.5-1.2.6-.1-1.5 1.1z"/>
<path class="o27" d="M62.3 193.9l1.6-1.9.5.5-1.5 1.3z"/>
<path class="o29" d="M63.9 192l1.5-1.8.5 1.1-1.5 1.2z"/>
<path class="o31" d="M65.4 190.2l1.5-1.5.6 2-1.6.6z"/>
<path class="o32" d="M66.9 188.7l1.5-.7 1.6.3.6 3.2-1.6-.8-1.5 0z"/>
<path class="o31" d="M70 188.3l1.5 1.3.6 3.1-1.5-1.2z"/>
<path class="o29" d="M71.5 189.6l1.6 1.8.6 2.8-1.6-1.5z"/>
<path class="o27" d="M73.1 191.4l1.5 2 .6 2-1.5-1.2z"/>
<path class="o25" d="M74.6 193.4l1.6 1.8 1.5.3.6-2.2-1.5 1.4-1.6.7z"/>
<path class="o27" d="M77.7 195.5l1.5-.9.6-3-1.5 1.7z"/>
<path class="o29" d="M79.2 194.6l1.6-1.2.6-3.5-1.6 1.7z"/>
<path class="o30" d="M80.8 193.4l1.5-1.1.6-3.6-1.5 1.2z"/>
<path class="o31" d="M82.3 192.3l1.6-.5 1.5 0 .6-2.1-1.5-1.1-1.6.1z"/>
<path class="o30" d="M85.4 191.8l1.6.8.6-1-1.6-1.9z"/>
<path class="o28" d="M87 192.6l1.5 1.3.6-.2-1.5-2.1z"/>
<path class="o26" d="M88.5 193.9l1.6 1.5.6.3-1.6-2z"/>
<path class="o24" d="M90.1 195.4l1.5 1.3.7.8-1.6-1.8z"/>
<path class="o22" d="M91.6 196.7l1.6.8.6.8-1.5-.8z"/>
<path class="o21" d="M93.2 197.5l1.5.2 1.6.2.6 1.1-1.5-.4-1.6-.3z"/>
<path class="o20" d="M96.3 197.9l1.5.2 1.6.2.6 1.4-1.5-.4-1.6-.3z"/>
<path class="o19" d="M99.4 198.3l1.5.2 1.6.2 1.5.1 1.6.1 1.5 0 1.6 0 1.5 0 .8 1.1-1.6.2-1.6.1-1.5 0-1.6 0-1.5-.1-1.6-.3-1.6-.2z"/>
<path class="o20" d="M110.2 198.9l1.6-.1 1.6-.1 1.5-.1.8.7-1.6.3-1.6.2-1.5.2z"/>
<path class="o21" d="M114.9 198.6l1.6-.1 1.6-.1.7 0-1.6.7-1.5.2z"/>
<path class="o23" d="M118.1 198.4l1.5-.2.8-1.5-1.6 1.7z"/>
<path class="o25" d="M119.6 198.2l1.6-1.1.8-2.3-1.6 1.9z"/>
<path class="o27" d="M121.2 197.1l1.6-1.4.8-3-1.6 2.1z"/>
<path class="o29" d="M122.8 195.7l1.5-1.3.8-3.4-1.5 1.7z"/>
<path class="o31" d="M124.3 194.4l1.6-.9 1.6-.4 1.6.4.8-2-1.6-1.3-1.6-.2-1.6 1z"/>
<path class="o30" d="M129.1 193.5l1.5 1 .8-1.2-1.5-1.8z"/>
<path class="o28" d="M130.6 194.5l1.6 1.2.8-.6-1.6-1.8z"/>
<path class="o26" d="M132.2 195.7l1.6 1.3.8-.4-1.6-1.5z"/>
<path class="o25" d="M133.8 197l1.5.7.8-.2-1.5-.9z"/>
<path class="o26" d="M61.4 194.9l1.5-1.1.5-.1-1.5.6z"/>
<path class="o28" d="M62.9 193.8l1.5-1.3.6.3-1.6.9z"/>
<path class="o29" d="M64.4 192.5l1.5-1.2.6 1-1.5.5z"/>
<path class="o30" d="M65.9 191.3l1.6-.6 1.5 0 .6 1.9-1.5-.4-1.6.1z"/>
<path class="o29" d="M69 190.7l1.6.8.6 2-1.6-.9z"/>
<path class="o28" d="M70.6 191.5l1.5 1.2.6 1.7-1.5-.9z"/>
<path class="o27" d="M72.1 192.7l1.6 1.5.6.7-1.6-.5z"/>
<path class="o26" d="M73.7 194.2l1.5 1.2.6-1.3-1.5.8z"/>
<path class="o27" d="M75.2 195.4l1.6-.7.6-2-1.6 1.4z"/>
<path class="o29" d="M76.8 194.7l1.5-1.4.6-2.5-1.5 1.9z"/>
<path class="o31" d="M78.3 193.3l1.5-1.7.6-3-1.5 2.2z"/>
<path class="o33" d="M79.8 191.6l1.6-1.7.6-3.4-1.6 2.1z"/>
<path class="o35" d="M81.4 189.9l1.5-1.2 1.6-.1.6-1.4-1.6-1.5-1.5.8z"/>
<path class="o34" d="M84.5 188.6l1.5 1.1.7.1-1.6-2.6z"/>
<path class="o31" d="M86 189.7l1.6 1.9.6.9-1.5-2.7z"/>
<path class="o29" d="M87.6 191.6l1.5 2.1.7 1.4-1.6-2.6z"/>
<path class="o26" d="M89.1 193.7l1.6 2 .7 1.6-1.6-2.2z"/>
<path class="o23" d="M90.7 195.7l1.6 1.8.6 1.5-1.5-1.7z"/>
<path class="o21" d="M92.3 197.5l1.5.8.7 1.2-1.6-.5z"/>
<path class="o20" d="M93.8 198.3l1.6.3 1.5.4.7 1.5-1.6-.5-1.5-.5z"/>
<path class="o19" d="M96.9 199l1.6.3.7 1.6-1.6-.4z"/>
<path class="o18" d="M98.5 199.3l1.5.4 1.6.2.7 1.7-1.6-.3-1.5-.4z"/>
<path class="o17" d="M101.6 199.9l1.6.3 1.5.1 1.6 0 1.5 0 .7 1.4-1.5.2-1.6 0-1.6-.1-1.5-.2z"/>
<path class="o18" d="M107.8 200.3l1.6-.1 1.6-.2.7 1.2-1.6.3-1.6.2z"/>
<path class="o19" d="M111 200l1.5-.2 1.6-.2.7.8-1.5.4-1.6.4z"/>
<path class="o20" d="M114.1 199.6l1.6-.3.7.7-1.6.4z"/>
<path class="o21" d="M115.7 199.3l1.5-.2.8.1-1.6.8z"/>
<path class="o23" d="M117.2 199.1l1.6-.7.8-1.2-1.6 2z"/>
<path class="o25" d="M118.8 198.4l1.6-1.7.8-1.8-1.6 2.3z"/>
<path class="o28" d="M120.4 196.7l1.6-1.9.8-2.5-1.6 2.6z"/>
<path class="o31" d="M122 194.8l1.6-2.1.7-3-1.5 2.6z"/>
<path class="o33" d="M123.6 192.7l1.5-1.7.8-3.4-1.6 2.1z"/>
<path class="o35" d="M125.1 191l1.6-1 1.6.2.8-1.1-1.6-1.8-1.6.3z"/>
<path class="o33" d="M128.3 190.2l1.6 1.3.8-.1-1.6-2.3z"/>
<path class="o31" d="M129.9 191.5l1.5 1.8.8.3-1.5-2.2z"/>
<path class="o29" d="M131.4 193.3l1.6 1.8.8.3-1.6-1.8z"/>
<path class="o27" d="M133 195.1l1.6 1.5.8.1-1.6-1.3z"/>
<path class="o26" d="M134.6 196.6l1.5.9.9-.6-1.6-.2z"/>
<path class="o28" d="M61.9 194.3l1.5-.6.6-1.5-1.6.7z"/>
<path class="o29" d="M63.4 193.7l1.6-.9.5-1.1-1.5.5z"/>
<path class="o30" d="M65 192.8l1.5-.5 1.6-.1 1.5.4.6-.2-1.6-.6-1.5-.2-1.6.1z"/>
<path class="o29" d="M69.6 192.6l1.6.9.5-.3-1.5-.8z"/>
<path class="o28" d="M71.2 193.5l1.5.9.6-.3-1.6-.9z"/>
<path class="o27" d="M72.7 194.4l1.6.5.5-1-1.5.2z"/>
<path class="o28" d="M74.3 194.9l1.5-.8.6-1.3-1.6 1.1z"/>
<path class="o29" d="M75.8 194.1l1.6-1.4.5-1.5-1.5 1.6z"/>
<path class="o32" d="M77.4 192.7l1.5-1.9.6-1.5-1.6 1.9z"/>
<path class="o34" d="M78.9 190.8l1.5-2.2.7-1.3-1.6 2z"/>
<path class="o36" d="M80.4 188.6l1.6-2.1.6-.3-1.5 1.1z"/>
<path class="o37" d="M82 186.5l1.5-.8.7 1.5-1.6-1z"/>
<path class="o36" d="M83.5 185.7l1.6 1.5.6 2.6-1.5-2.6z"/>
<path class="o33" d="M85.1 187.2l1.6 2.6.6 2.8-1.6-2.8z"/>
<path class="o30" d="M86.7 189.8l1.5 2.7.7 2.8-1.6-2.7z"/>
<path class="o27" d="M88.2 192.5l1.6 2.6.6 2.6-1.5-2.4z"/>
<path class="o24" d="M89.8 195.1l1.6 2.2.6 2.4-1.6-2z"/>
<path class="o21" d="M91.4 197.3l1.5 1.7.7 1.4-1.6-.7z"/>
<path class="o20" d="M92.9 199l1.6.5.6 1.5-1.5-.6z"/>
<path class="o19" d="M94.5 199.5l1.5.5.7 1.6-1.6-.6z"/>
<path class="o18" d="M96 200l1.6.5.7 1.7-1.6-.6z"/>
<path class="o17" d="M97.6 200.5l1.6.4.6 1.8-1.5-.5z"/>
<path class="o16" d="M99.2 200.9l1.5.4.7 1.8-1.6-.4z"/>
<path class="o15" d="M100.7 201.3l1.6.3 1.5.2 1.6.1 1.6 0 1.5-.2.8 1.3-1.6.3-1.6.2-1.6 0-1.5-.1-1.6-.3z"/>
<path class="o16" d="M108.5 201.7l1.6-.2.7 1.1-1.5.4z"/>
<path class="o17" d="M110.1 201.5l1.6-.3.7 1-1.6.4z"/>
<path class="o18" d="M111.7 201.2l1.6-.4.7.9-1.6.5z"/>
<path class="o19" d="M113.3 200.8l1.5-.4.8.8-1.6.5z"/>
<path class="o20" d="M114.8 200.4l1.6-.4.8.5-1.6.7z"/>
<path class="o22" d="M116.4 200l1.6-.8.7-.5-1.5 1.8z"/>
<path class="o25" d="M118 199.2l1.6-2 .7-.9-1.6 2.4z"/>
<path class="o28" d="M119.6 197.2l1.6-2.3.7-1.2-1.6 2.6z"/>
<path class="o31" d="M121.2 194.9l1.6-2.6.7-1.3-1.6 2.7z"/>
<path class="o34" d="M122.8 192.3l1.5-2.6.8-1.1-1.6 2.4z"/>
<path class="o36" d="M124.3 189.7l1.6-2.1.8 0-1.6 1z"/>
<path class="o37" d="M125.9 187.6l1.6-.3.8 1.5-1.6-1.2z"/>
<path class="o35" d="M127.5 187.3l1.6 1.8.8 1.8-1.6-2.1z"/>
<path class="o33" d="M129.1 189.1l1.6 2.3.8 1.6-1.6-2.1z"/>
<path class="o31" d="M130.7 191.4l1.5 2.2.8 1.1-1.5-1.7z"/>
<path class="o29" d="M132.2 193.6l1.6 1.8.8.5-1.6-1.2z"/>
<path class="o28" d="M133.8 195.4l1.6 1.3.8-.5-1.6-.3z"/>
<path class="o27" d="M135.4 196.7l1.6.2.8-1.5-1.6.8z"/>
<path class="o31" d="M62.4 192.9l1.6-.7.5-2.5-1.5.9z"/>
<path class="o32" d="M64 192.2l1.5-.5 1.6-.1 1.5.2.6-1.5-1.6-.8-1.5-.2-1.6.4z"/>
<path class="o31" d="M68.6 191.8l1.6.6.6-1-1.6-1.1z"/>
<path class="o30" d="M70.2 192.4l1.5.8.6-.5-1.5-1.3z"/>
<path class="o29" d="M71.7 193.2l1.6.9 1.5-.2.6-.4-1.5.2-1.6-1z"/>
<path class="o30" d="M74.8 193.9l1.6-1.1.6-.2-1.6.9z"/>
<path class="o31" d="M76.4 192.8l1.5-1.6.7.3-1.6 1.1z"/>
<path class="o33" d="M77.9 191.2l1.6-1.9.6 1-1.5 1.2z"/>
<path class="o34" d="M79.5 189.3l1.6-2 .6 2.4-1.6.6z"/>
<path class="o35" d="M81.1 187.3l1.5-1.1 1.6 1 .6 4.7-1.6-1.6-1.5-.6z"/>
<path class="o33" d="M84.2 187.2l1.5 2.6.7 4.3-1.6-2.2z"/>
<path class="o30" d="M85.7 189.8l1.6 2.8.7 3.9-1.6-2.4z"/>
<path class="o27" d="M87.3 192.6l1.6 2.7.6 3.4-1.5-2.2z"/>
<path class="o24" d="M88.9 195.3l1.5 2.4.7 2.9-1.6-1.9z"/>
<path class="o21" d="M90.4 197.7l1.6 2 .7 1.7-1.6-.8z"/>
<path class="o19" d="M92 199.7l1.6.7.6 1.7-1.5-.7z"/>
<path class="o18" d="M93.6 200.4l1.5.6.7 1.8-1.6-.7z"/>
<path class="o16" d="M95.1 201l1.6.6.7 1.8-1.6-.6z"/>
<path class="o15" d="M96.7 201.6l1.6.6.7 1.8-1.6-.6z"/>
<path class="o14" d="M98.3 202.2l1.5.5.7 1.8-1.5-.5z"/>
<path class="o13" d="M99.8 202.7l1.6.4.7 1.8-1.6-.4z"/>
<path class="o12" d="M101.4 203.1l1.6.3 1.5.1 1.6 0 .7 1.4-1.6.2-1.5-.1-1.6-.1z"/>
<path class="o13" d="M106.1 203.5l1.6-.2.7 1.3-1.6.3z"/>
<path class="o14" d="M107.7 203.3l1.6-.3.7 1.1-1.6.5z"/>
<path class="o15" d="M109.3 203l1.5-.4.8 1-1.6.5z"/>
<path class="o16" d="M110.8 202.6l1.6-.4.7.9-1.5.5z"/>
<path class="o17" d="M112.4 202.2l1.6-.5.7.8-1.6.6z"/>
<path class="o19" d="M114 201.7l1.6-.5.7.7-1.6.6z"/>
<path class="o20" d="M115.6 201.2l1.6-.7.7.2-1.6 1.2z"/>
<path class="o23" d="M117.2 200.5l1.5-1.8.8 0-1.6 2z"/>
<path class="o26" d="M118.7 198.7l1.6-2.4.8.2-1.6 2.2z"/>
<path class="o29" d="M120.3 196.3l1.6-2.6.8.5-1.6 2.3z"/>
<path class="o32" d="M121.9 193.7l1.6-2.7.8 1.3-1.6 1.9z"/>
<path class="o34" d="M123.5 191l1.6-2.4.8 2.7-1.6 1z"/>
<path class="o35" d="M125.1 188.6l1.6-1 1.6 1.2.8 3.7-1.6-1-1.6-.2z"/>
<path class="o34" d="M128.3 188.8l1.6 2.1.8 2.9-1.6-1.3z"/>
<path class="o32" d="M129.9 190.9l1.6 2.1.8 2-1.6-1.2z"/>
<path class="o30" d="M131.5 193l1.5 1.7.9 1-1.6-.7z"/>
<path class="o29" d="M133 194.7l1.6 1.2 1.6.3.9-1.9-1.6 1.2-1.6.2z"/>
<path class="o30" d="M136.2 196.2l1.6-.8.9-2.3-1.6 1.2z"/>
<path class="o35" d="M63 190.6l1.5-.9 1.6-.4 1.5.2.6-1.6-1.6-.9-1.5 0-1.6.7z"/>
<path class="o34" d="M67.6 189.5l1.6.8.6-1-1.6-1.4z"/>
<path class="o33" d="M69.2 190.3l1.6 1.1.5-.3-1.5-1.8z"/>
<path class="o31" d="M70.8 191.4l1.5 1.3.6.2-1.6-1.8z"/>
<path class="o30" d="M72.3 192.7l1.6 1 .6.4-1.6-1.2z"/>
<path class="o29" d="M73.9 193.7l1.5-.2.6.8-1.5-.2z"/>
<path class="o30" d="M75.4 193.5l1.6-.9.6 1.4-1.6.3z"/>
<path class="o31" d="M77 192.6l1.6-1.1.6 2.1-1.6.4z"/>
<path class="o32" d="M78.6 191.5l1.5-1.2 1.6-.6 1.5.6.7 4.8-1.6-1.1-1.6-.5-1.5.1z"/>
<path class="o30" d="M83.2 190.3l1.6 1.6.7 4.8-1.6-1.6z"/>
<path class="o28" d="M84.8 191.9l1.6 2.2.6 4.4-1.5-1.8z"/>
<path class="o25" d="M86.4 194.1l1.6 2.4.6 3.8-1.6-1.8z"/>
<path class="o23" d="M88 196.5l1.5 2.2.7 2.9-1.6-1.3z"/>
<path class="o20" d="M89.5 198.7l1.6 1.9.7 1.7-1.6-.7z"/>
<path class="o18" d="M91.1 200.6l1.6.8.6 1.6-1.5-.7z"/>
<path class="o17" d="M92.7 201.4l1.5.7.7 1.6-1.6-.7z"/>
<path class="o15" d="M94.2 202.1l1.6.7.7 1.7-1.6-.8z"/>
<path class="o14" d="M95.8 202.8l1.6.6.7 1.8-1.6-.7z"/>
<path class="o12" d="M97.4 203.4l1.6.6.6 1.7-1.5-.5z"/>
<path class="o11" d="M99 204l1.5.5.7 1.7-1.6-.5z"/>
<path class="o10" d="M100.5 204.5l1.6.4.7 1.5-1.6-.2z"/>
<path class="o9" d="M102.1 204.9l1.6.1 1.5.1.8 1.2-1.6.2-1.6-.1z"/>
<path class="o10" d="M105.2 205.1l1.6-.2.7 1.1-1.5.3z"/>
<path class="o11" d="M106.8 204.9l1.6-.3.7.9-1.6.5z"/>
<path class="o13" d="M108.4 204.6l1.6-.5.7.9-1.6.5z"/>
<path class="o14" d="M110 204.1l1.6-.5.7.8-1.6.6z"/>
<path class="o16" d="M111.6 203.6l1.5-.5.8.6-1.6.7z"/>
<path class="o17" d="M113.1 203.1l1.6-.6.8.6-1.6.6z"/>
<path class="o19" d="M114.7 202.5l1.6-.6.8.7-1.6.5z"/>
<path class="o20" d="M116.3 201.9l1.6-1.2.8.6-1.6 1.3z"/>
<path class="o23" d="M117.9 200.7l1.6-2 .8.9-1.6 1.7z"/>
<path class="o26" d="M119.5 198.7l1.6-2.2.8 1.4-1.6 1.7z"/>
<path class="o28" d="M121.1 196.5l1.6-2.3.8 2.2-1.6 1.5z"/>
<path class="o31" d="M122.7 194.2l1.6-1.9.8 3.1-1.6 1z"/>
<path class="o32" d="M124.3 192.3l1.6-1 1.6.2 1.6 1 .8 3.3-1.6-.5-1.6-.2-1.6.3z"/>
<path class="o31" d="M129.1 192.5l1.6 1.3.8 2.4-1.6-.4z"/>
<path class="o30" d="M130.7 193.8l1.6 1.2 1.6.7.8-.7-1.6 1.1-1.6.1z"/>
<path class="o31" d="M133.9 195.7l1.6-.2.8-2.2-1.6 1.7z"/>
<path class="o32" d="M135.5 195.5l1.6-1.2.8-2.7-1.6 1.7z"/>
<path class="o34" d="M137.1 194.3l1.6-1.2.8-2.9-1.6 1.4z"/>
<path class="o38" d="M63.5 187.7l1.6-.7 1.5 0 .6-1.1-1.6-.8-1.6.2z"/>
<path class="o37" d="M66.6 187l1.6.9.6-.3-1.6-1.7z"/>
<path class="o36" d="M68.2 187.9l1.6 1.4.5.4-1.5-2.1z"/>
<path class="o34" d="M69.8 189.3l1.5 1.8.6.8-1.6-2.2z"/>
<path class="o32" d="M71.3 191.1l1.6 1.8.6 1-1.6-2z"/>
<path class="o30" d="M72.9 192.9l1.6 1.2.6 1.5-1.6-1.7z"/>
<path class="o29" d="M74.5 194.1l1.5.2.7 1.9-1.6-.6z"/>
<path class="o28" d="M76 194.3l1.6-.3.6 2.5-1.5-.3z"/>
<path class="o29" d="M77.6 194l1.6-.4 1.5-.1.7 3.8-1.6-.5-1.6-.3z"/>
<path class="o28" d="M80.7 193.5l1.6.5.7 4.2-1.6-.9z"/>
<path class="o27" d="M82.3 194l1.6 1.1.6 4.2-1.5-1.1z"/>
<path class="o25" d="M83.9 195.1l1.6 1.6.6 3.9-1.6-1.3z"/>
<path class="o23" d="M85.5 196.7l1.5 1.8.7 3.3-1.6-1.2z"/>
<path class="o21" d="M87 198.5l1.6 1.8.7 2.1-1.6-.6z"/>
<path class="o19" d="M88.6 200.3l1.6 1.3.6 1.4-1.5-.6z"/>
<path class="o18" d="M90.2 201.6l1.6.7.6 1.5-1.6-.8z"/>
<path class="o16" d="M91.8 202.3l1.5.7.7 1.5-1.6-.7z"/>
<path class="o15" d="M93.3 203l1.6.7.7 1.6-1.6-.8z"/>
<path class="o13" d="M94.9 203.7l1.6.8.7 1.5-1.6-.7z"/>
<path class="o11" d="M96.5 204.5l1.6.7.7 1.5-1.6-.7z"/>
<path class="o9" d="M98.1 205.2l1.5.5.7 1.5-1.5-.5z"/>
<path class="o7" d="M99.6 205.7l1.6.5.7 1.3-1.6-.3z"/>
<path class="o6" d="M101.2 206.2l1.6.2 1.6.1.7 1-1.6.1-1.6-.1z"/>
<path class="o7" d="M104.4 206.5l1.6-.2.7.9-1.6.3z"/>
<path class="o9" d="M106 206.3l1.5-.3.8.7-1.6.5z"/>
<path class="o11" d="M107.5 206l1.6-.5.8.7-1.6.5z"/>
<path class="o12" d="M109.1 205.5l1.6-.5.7.5-1.5.7z"/>
<path class="o14" d="M110.7 205l1.6-.6.7.4-1.6.7z"/>
<path class="o16" d="M112.3 204.4l1.6-.7.7.5-1.6.6z"/>
<path class="o17" d="M113.9 203.7l1.6-.6.7.5-1.6.6z"/>
<path class="o19" d="M115.5 203.1l1.6-.5.7.5-1.6.5z"/>
<path class="o20" d="M117.1 202.6l1.6-1.3.7 1.1-1.6.7z"/>
<path class="o22" d="M118.7 201.3l1.6-1.7.7 1.6-1.6 1.2z"/>
<path class="o25" d="M120.3 199.6l1.6-1.7.7 2.2-1.6 1.1z"/>
<path class="o26" d="M121.9 197.9l1.6-1.5.7 2.8-1.6.9z"/>
<path class="o28" d="M123.5 196.4l1.6-1 .7 3.2-1.6.6z"/>
<path class="o29" d="M125.1 195.4l1.6-.3 1.6.2 1.6.5 1.6.4.8.6-1.6 1-1.6.4-1.6.1-1.7.3z"/>
<path class="o30" d="M131.5 196.2l1.6-.1.8-1.1-1.6 1.8z"/>
<path class="o31" d="M133.1 196.1l1.6-1.1.8-2.1-1.6 2.1z"/>
<path class="o33" d="M134.7 195l1.6-1.7.9-2.5-1.7 2.1z"/>
<path class="o35" d="M136.3 193.3l1.6-1.7.9-2.7-1.6 1.9z"/>
<path class="o37" d="M137.9 191.6l1.6-1.4.9-2.4-1.6 1.1z"/>
<path class="o39" d="M64 185.3l1.6-.2 1.6.8.6 1-1.6-1.6-1.6-.6z"/>
<path class="o37" d="M67.2 185.9l1.6 1.7.6 1.4-1.6-2.1z"/>
<path class="o35" d="M68.8 187.6l1.5 2.1.6 1.7-1.5-2.4z"/>
<path class="o33" d="M70.3 189.7l1.6 2.2.6 1.8-1.6-2.3z"/>
<path class="o31" d="M71.9 191.9l1.6 2 .6 1.7-1.6-1.9z"/>
<path class="o29" d="M73.5 193.9l1.6 1.7.6 1.5-1.6-1.5z"/>
<path class="o27" d="M75.1 195.6l1.6.6.6 2.1-1.6-1.2z"/>
<path class="o26" d="M76.7 196.2l1.5.3 1.6.3.6 2.8-1.5-.5-1.6-.8z"/>
<path class="o25" d="M79.8 196.8l1.6.5.6 3.1-1.6-.8z"/>
<path class="o24" d="M81.4 197.3l1.6.9.6 3-1.6-.8z"/>
<path class="o23" d="M83 198.2l1.5 1.1.7 2.5-1.6-.6z"/>
<path class="o22" d="M84.5 199.3l1.6 1.3.7 1.7-1.6-.5z"/>
<path class="o20" d="M86.1 200.6l1.6 1.2.6 1.1-1.5-.6z"/>
<path class="o19" d="M87.7 201.8l1.6.6.6 1.2-1.6-.7z"/>
<path class="o18" d="M89.3 202.4l1.5.6.7 1.3-1.6-.7z"/>
<path class="o16" d="M90.8 203l1.6.8.7 1.3-1.6-.8z"/>
<path class="o15" d="M92.4 203.8l1.6.7.7 1.4-1.6-.8z"/>
<path class="o13" d="M94 204.5l1.6.8.7 1.3-1.6-.7z"/>
<path class="o10" d="M95.6 205.3l1.6.7.7 1.3-1.6-.7z"/>
<path class="o8" d="M97.2 206l1.6.7.6 1.1-1.5-.5z"/>
<path class="o6" d="M98.8 206.7l1.5.5.7 1-1.6-.4z"/>
<path class="o4" d="M100.3 207.2l1.6.3.7.9-1.6-.2z"/>
<path class="o3" d="M101.9 207.5l1.6.1.7.7-1.6.1z"/>
<path class="o4" d="M103.5 207.6l1.6-.1.7.6-1.6.2z"/>
<path class="o7" d="M105.1 207.5l1.6-.3.7.4-1.6.5z"/>
<path class="o9" d="M106.7 207.2l1.6-.5.7.4-1.6.5z"/>
<path class="o11" d="M108.3 206.7l1.6-.5.7.2-1.6.7z"/>
<path class="o13" d="M109.9 206.2l1.5-.7.8.2-1.6.7z"/>
<path class="o15" d="M111.4 205.5l1.6-.7.8.3-1.6.6z"/>
<path class="o17" d="M113 204.8l1.6-.6.8.3-1.6.6z"/>
<path class="o18" d="M114.6 204.2l1.6-.6.8.3-1.6.6z"/>
<path class="o19" d="M116.2 203.6l1.6-.5.8.4-1.6.4z"/>
<path class="o20" d="M117.8 203.1l1.6-.7.8.6-1.6.5z"/>
<path class="o21" d="M119.4 202.4l1.6-1.2.8 1.4-1.6.4z"/>
<path class="o23" d="M121 201.2l1.6-1.1.8 1.7-1.6.8z"/>
<path class="o24" d="M122.6 200.1l1.6-.9.8 2-1.6.6z"/>
<path class="o25" d="M124.2 199.2l1.6-.6.8 2.1-1.6.5z"/>
<path class="o26" d="M125.8 198.6l1.7-.3.7 1.8-1.6.6z"/>
<path class="o27" d="M127.5 198.3l1.6-.1.8.8-1.7 1.1z"/>
<path class="o28" d="M129.1 198.2l1.6-.4.8-.2-1.6 1.4z"/>
<path class="o29" d="M130.7 197.8l1.6-1 .8-1.1-1.6 1.9z"/>
<path class="o31" d="M132.3 196.8l1.6-1.8.8-1.4-1.6 2.1z"/>
<path class="o34" d="M133.9 195l1.6-2.1.9-1.7-1.7 2.4z"/>
<path class="o36" d="M135.5 192.9l1.7-2.1.8-1.7-1.6 2.1z"/>
<path class="o38" d="M137.2 190.8l1.6-1.9.8-1.2-1.6 1.4z"/>
<path class="o39" d="M138.8 188.9l1.6-1.1.9-.6-1.7.5z"/></g>
<g class="s"><path class="b6" d="M48.3 170.3l1.4 0 1.4 0 1.4.1 1.4 0 .5.1-1.4.4-1.4-.1-1.4 0-1.5-.1z"/>
<path class="b8" d="M53.9 170.4l1.4-1.1.5-1.4-1.4 2.6z"/>
<path class="b12" d="M55.3 169.3l1.4-3.1.5-1.8-1.4 3.5z"/>
<path class="b17" d="M56.7 166.2l1.4-4 .5-2-1.4 4.2z"/>
<path class="b22" d="M58.1 162.2l1.4-4.7.5-1.8-1.4 4.5z"/>
<path class="b28" d="M59.5 157.5l1.4-5 .4-1.3-1.3 4.5z"/>
<path class="b33" d="M60.9 152.5l1.3-5.2.6.5-1.5 3.4z"/>
<path class="b37" d="M62.2 147.3l1.4-4.2 1.5.2.5 6.3-1.4-2.6-1.4.8z"/>
<path class="b34" d="M65.1 143.3l1.4 4.4.6 6.1-1.5-4.2z"/>
<path class="b29" d="M66.5 147.7l1.5 5.2.5 5.6-1.4-4.7z"/>
<path class="b24" d="M68 152.9l1.4 5.2.6 4.8-1.5-4.4z"/>
<path class="b18" d="M69.4 158.1l1.5 4.6.5 4.2-1.4-4z"/>
<path class="b13" d="M70.9 162.7l1.4 4.1.6 3.3-1.5-3.2z"/>
<path class="b9" d="M72.3 166.8l1.4 3.1.6 1.6-1.4-1.4z"/>
<path class="b6" d="M73.7 169.9l1.5 1.1 1.4.1 1.4 0 1.4.1 1.5 0 1.4.1 1.4 0 1.5 0 1.4.1 1.4 0 1.4.1.6.2-1.4.2-1.4 0-1.5-.1-1.4 0-1.4-.1-1.5 0-1.4-.1-1.4 0-1.4 0-1.5-.1-1.4 0z"/>
<path class="b8" d="M89.4 171.5l1.5-1.1.6-1.3-1.5 2.6z"/>
<path class="b12" d="M90.9 170.4l1.4-3 .6-1.8-1.4 3.5z"/>
<path class="b17" d="M92.3 167.4l1.4-4 .7-2-1.5 4.2z"/>
<path class="b22" d="M93.7 163.4l1.5-4.6.6-1.9-1.4 4.5z"/>
<path class="b28" d="M95.2 158.8l1.4-5.1.6-1.3-1.4 4.5z"/>
<path class="b33" d="M96.6 153.7l1.5-5.2.6.3-1.5 3.6z"/>
<path class="b37" d="M98.1 148.5l1.4-4.4 1.5-.2.6 6.4-1.5-2.5-1.4 1z"/>
<path class="b35" d="M101 143.9l1.4 4.4.6 6.2-1.4-4.2z"/>
<path class="b30" d="M102.4 148.3l1.4 5.3.7 5.6-1.5-4.7z"/>
<path class="b24" d="M103.8 153.6l1.5 5.1.6 5-1.4-4.5z"/>
<path class="b18" d="M105.3 158.7l1.4 4.8.6 4.2-1.4-4z"/>
<path class="b13" d="M106.7 163.5l1.4 4.1.7 3.4-1.5-3.3z"/>
<path class="b9" d="M108.1 167.6l1.5 3.2.6 1.7-1.4-1.5z"/>
<path class="b6" d="M109.6 170.8l1.4 1.3 1.5 0 1.4.1 1.4 0 1.5.1.7.4-1.5 0-1.4 0-1.5-.1-1.4 0-1.5-.1z"/>
<path class="b6" d="M48.7 170.7l1.5.1 1.4 0 1.4.1.5.4-1.5 0-1.4-.1-1.4 0z"/>
<path class="b7" d="M53 170.9l1.4-.4.5-.2-1.4 1z"/>
<path class="b9" d="M54.4 170.5l1.4-2.6.5-.4-1.4 2.8z"/>
<path class="b14" d="M55.8 167.9l1.4-3.5.5-.2-1.4 3.3z"/>
<path class="b19" d="M57.2 164.4l1.4-4.2.5.4-1.4 3.6z"/>
<path class="b23" d="M58.6 160.2l1.4-4.5.5 1.6-1.4 3.3z"/>
<path class="b28" d="M60 155.7l1.3-4.5.6 3.7-1.4 2.4z"/>
<path class="b31" d="M61.3 151.2l1.5-3.4.5 6.2-1.4.9z"/>
<path class="b32" d="M62.8 147.8l1.4-.8.5 8.1-1.4-1.1z"/>
<path class="b31" d="M64.2 147l1.4 2.6.6 8.1-1.5-2.6z"/>
<path class="b27" d="M65.6 149.6l1.5 4.2.5 7.3-1.4-3.4z"/>
<path class="b22" d="M67.1 153.8l1.4 4.7.6 6.2-1.5-3.6z"/>
<path class="b18" d="M68.5 158.5l1.5 4.4.5 5.2-1.4-3.4z"/>
<path class="b13" d="M70 162.9l1.4 4 .6 4-1.5-2.8z"/>
<path class="b9" d="M71.4 166.9l1.5 3.2.5 1.8-1.4-1z"/>
<path class="b7" d="M72.9 170.1l1.4 1.4.5.5-1.4-.1z"/>
<path class="b6" d="M74.3 171.5l1.4 0 1.5.1 1.4 0 1.4 0 1.4.1 1.5 0 1.4.1 1.4 0 1.5.1 1.4 0 .6.5-1.4-.1-1.5 0-1.4-.1-1.4 0-1.5 0-1.4-.1-1.5 0-1.4-.1-1.4 0-1.5 0z"/>
<path class="b7" d="M88.6 171.9l1.4-.2.6-.3-1.4 1z"/>
<path class="b9" d="M90 171.7l1.5-2.6.6-.4-1.5 2.7z"/>
<path class="b13" d="M91.5 169.1l1.4-3.5.6-.2-1.4 3.3z"/>
<path class="b18" d="M92.9 165.6l1.5-4.2.6.4-1.5 3.6z"/>
<path class="b23" d="M94.4 161.4l1.4-4.5.6 1.6-1.4 3.3z"/>
<path class="b28" d="M95.8 156.9l1.4-4.5.7 3.5-1.5 2.6z"/>
<path class="b31" d="M97.2 152.4l1.5-3.6.6 6.1-1.4 1z"/>
<path class="b32" d="M98.7 148.8l1.4-1 .7 8.1-1.5-1z"/>
<path class="b31" d="M100.1 147.8l1.5 2.5.6 8.1-1.4-2.5z"/>
<path class="b27" d="M101.6 150.3l1.4 4.2.7 7.4-1.5-3.5z"/>
<path class="b23" d="M103 154.5l1.5 4.7.6 6.3-1.4-3.6z"/>
<path class="b18" d="M104.5 159.2l1.4 4.5.7 5.3-1.5-3.5z"/>
<path class="b13" d="M105.9 163.7l1.4 4 .7 4.1-1.4-2.8z"/>
<path class="b9" d="M107.3 167.7l1.5 3.3.6 2-1.4-1.2z"/>
<path class="b7" d="M108.8 171l1.4 1.5.7.5-1.5 0z"/>
<path class="b6" d="M110.2 172.5l1.5.1 1.4 0 1.5.1 1.4 0 1.5 0 .7.5-1.5 0-1.4-.1-1.5 0-1.5 0-1.4-.1z"/>
<path class="b6" d="M49.2 171.2l1.4 0 .5-.6-1.4.9z"/>
<path class="b7" d="M50.6 171.2l1.4.1.5-1.5-1.4.8z"/>
<path class="b8" d="M52 171.3l1.5 0 .4-1.9-1.4.4z"/>
<path class="b9" d="M53.5 171.3l1.4-1 .4-2-1.4 1.1z"/>
<path class="b11" d="M54.9 170.3l1.4-2.8.4-.9-1.4 1.7z"/>
<path class="b15" d="M56.3 167.5l1.4-3.3.5.7-1.5 1.7z"/>
<path class="b18" d="M57.7 164.2l1.4-3.6.5 2.8-1.4 1.5z"/>
<path class="b21" d="M59.1 160.6l1.4-3.3.5 4.5-1.4 1.6z"/>
<path class="b24" d="M60.5 157.3l1.4-2.4.5 6.1-1.4.8z"/>
<path class="b25" d="M61.9 154.9l1.4-.9.6 7.3-1.5-.3z"/>
<path class="b24" d="M63.3 154l1.4 1.1.6 7.7-1.4-1.5z"/>
<path class="b22" d="M64.7 155.1l1.5 2.6.5 7.4-1.4-2.3z"/>
<path class="b19" d="M66.2 157.7l1.4 3.4.6 6.6-1.5-2.6z"/>
<path class="b15" d="M67.6 161.1l1.5 3.6.5 5.5-1.4-2.5z"/>
<path class="b11" d="M69.1 164.7l1.4 3.4.6 4-1.5-1.9z"/>
<path class="b8" d="M70.5 168.1l1.5 2.8.5 1.4-1.4-.2z"/>
<path class="b6" d="M72 170.9l1.4 1 1.4.1 1.5 0 1.4 0 1.4.1 1.5 0 1.4.1 1.5 0 1.4 0 1.4.1 1.5 0 1.4.1.6.5-1.4-.1-1.5 0-1.4-.1-1.5 0-1.4-.1-1.5 0-1.4 0-1.4-.1-1.5 0-1.4-.1-1.4 0-1.5-.1z"/>
<path class="b7" d="M89.2 172.4l1.4-1 .6.5-1.4 1z"/>
<path class="b10" d="M90.6 171.4l1.5-2.7.6.9-1.5 2.3z"/>
<path class="b13" d="M92.1 168.7l1.4-3.3.6 1.7-1.4 2.5z"/>
<path class="b17" d="M93.5 165.4l1.5-3.6.6 2.9-1.5 2.4z"/>
<path class="b21" d="M95 161.8l1.4-3.3.6 4.3-1.4 1.9z"/>
<path class="b24" d="M96.4 158.5l1.5-2.6.6 6.1-1.5.8z"/>
<path class="b25" d="M97.9 155.9l1.4-1 .6 7.4-1.4-.3z"/>
<path class="b24" d="M99.3 154.9l1.5 1 .6 7.8-1.5-1.4z"/>
<path class="b22" d="M100.8 155.9l1.4 2.5.7 6.9-1.5-1.6z"/>
<path class="b20" d="M102.2 158.4l1.5 3.5.6 5.1-1.4-1.7z"/>
<path class="b16" d="M103.7 161.9l1.4 3.6.7 3.4-1.5-1.9z"/>
<path class="b13" d="M105.1 165.5l1.5 3.5.6 1.6-1.4-1.7z"/>
<path class="b10" d="M106.6 169l1.4 2.8.7-.6-1.5-.6z"/>
<path class="b8" d="M108 171.8l1.4 1.2.7-1.1-1.4-.7z"/>
<path class="b7" d="M109.4 173l1.5 0 .7-.1-1.5-1z"/>
<path class="b6" d="M110.9 173l1.4.1 1.5 0 1.5 0 1.4.1 1.5 0 .7.3-1.5.2-1.5-.1-1.4 0-1.5-.1-1.4-.6z"/>
<path class="b11" d="M49.7 171.5l1.4-.9.4-4.5-1.4 1.6z"/>
<path class="b12" d="M51.1 170.6l1.4-.8.4-4.7-1.4 1z"/>
<path class="b13" d="M52.5 169.8l1.4-.4.5-4.4-1.5.1z"/>
<path class="b14" d="M53.9 169.4l1.4-1.1 1.4-1.7.5-1.3-1.4 0-1.4-.3z"/>
<path class="b16" d="M56.7 166.6l1.5-1.7 1.4-1.5.5 2.9-1.4-.7-1.5-.3z"/>
<path class="b17" d="M59.6 163.4l1.4-1.6 1.4-.8 1.5.3.5 6.7-1.4-.8-1.5-.1-1.4-.8z"/>
<path class="b16" d="M63.9 161.3l1.4 1.5.6 6.5-1.5-1.3z"/>
<path class="b14" d="M65.3 162.8l1.4 2.3.6 5.8-1.4-1.6z"/>
<path class="b11" d="M66.7 165.1l1.5 2.6.6 4.7-1.5-1.5z"/>
<path class="b9" d="M68.2 167.7l1.4 2.5.6 2.5-1.4-.3z"/>
<path class="b7" d="M69.6 170.2l1.5 1.9.5.7-1.4-.1z"/>
<path class="b6" d="M71.1 172.1l1.4.2 1.5.1 1.4 0 1.4.1 1.5 0 1.4.1 1.4 0 1.5 0 1.4.1 1.5 0 1.4.1 1.5 0 1.4.1.6.4-1.4 0-1.5 0-1.4-.1-1.5 0-1.4-.1-1.5 0-1.4-.1-1.5 0-1.4 0-1.4-.1-1.5 0-1.4-.1-1.5 0z"/>
<path class="b7" d="M89.8 172.9l1.4-1 .7 1.2-1.5.2z"/>
<path class="b9" d="M91.2 171.9l1.5-2.3.6 2.1-1.4 1.4z"/>
<path class="b11" d="M92.7 169.6l1.4-2.5.7 3-1.5 1.6z"/>
<path class="b14" d="M94.1 167.1l1.5-2.4.6 4.2-1.4 1.2z"/>
<path class="b16" d="M95.6 164.7l1.4-1.9.7 5.4-1.5.7z"/>
<path class="b17" d="M97 162.8l1.5-.8.6 6.1-1.4.1z"/>
<path class="b18" d="M98.5 162l1.4.3 1.5 1.4.6 3.1-1.4.6-1.5.7z"/>
<path class="b17" d="M101.4 163.7l1.5 1.6.6 1.3-1.5.2z"/>
<path class="b16" d="M102.9 165.3l1.4 1.7.7-.3-1.5-.1z"/>
<path class="b15" d="M104.3 167l1.5 1.9.6-2.5-1.4.3z"/>
<path class="b14" d="M105.8 168.9l1.4 1.7.7-3.9-1.5-.3z"/>
<path class="b13" d="M107.2 170.6l1.5.6.6-3.4-1.4-1.1z"/>
<path class="b11" d="M108.7 171.2l1.4.7.7-2.4-1.5-1.7z"/>
<path class="b10" d="M110.1 171.9l1.5 1 .7-1.4-1.5-2z"/>
<path class="b8" d="M111.6 172.9l1.4.6.7-.2-1.4-1.8z"/>
<path class="b6" d="M113 173.5l1.5.1 1.4 0 .7-.2-1.4.7-1.5-.8z"/>
<path class="b7" d="M115.9 173.6l1.5.1.7-2-1.5 1.7z"/>
<path class="b9" d="M117.4 173.7l1.5-.2.7-3.8-1.5 2z"/>
<path class="b18" d="M50.1 167.7l1.4-1.6.4-6.1-1.4 1.8z"/>
<path class="b20" d="M51.5 166.1l1.4-1 1.5-.1.4-4.9-1.4-.8-1.5.7z"/>
<path class="b19" d="M54.4 165l1.4.3.5-3.3-1.5-1.9z"/>
<path class="b18" d="M55.8 165.3l1.4 0 .5-.6-1.4-2.7z"/>
<path class="b16" d="M57.2 165.3l1.5.3.5 1.5-1.5-2.4z"/>
<path class="b14" d="M58.7 165.6l1.4.7.5 3.2-1.4-2.4z"/>
<path class="b12" d="M60.1 166.3l1.4.8.6 4.5-1.5-2.1z"/>
<path class="b11" d="M61.5 167.1l1.5.1.5 5-1.4-.6z"/>
<path class="b10" d="M63 167.2l1.4.8.6 4.7-1.5-.5z"/>
<path class="b9" d="M64.4 168l1.5 1.3.5 3.8-1.4-.4z"/>
<path class="b8" d="M65.9 169.3l1.4 1.6.5 2.2-1.4 0z"/>
<path class="b7" d="M67.3 170.9l1.5 1.5.5.8-1.5-.1z"/>
<path class="b6" d="M68.8 172.4l1.4.3 1.4.1 1.5 0 1.4.1 1.5 0 1.4.1 1.4 0 1.5 0 1.4.1 1.5 0 1.4.1 1.5 0 1.4.1 1.5 0 1.4 0 1.5-.2.6.8-1.5-.1-1.4 0-1.5-.1-1.4 0-1.5 0-1.4-.1-1.5 0-1.4-.1-1.5 0-1.4-.1-1.5 0-1.4 0-1.5-.1-1.4 0-1.5-.1-1.4 0z"/>
<path class="b7" d="M91.9 173.1l1.4-1.4.6 2.2-1.4 0z"/>
<path class="b8" d="M93.3 171.7l1.5-1.6.6 3.2-1.5.6z"/>
<path class="b10" d="M94.8 170.1l1.4-1.2.6 4-1.4.4z"/>
<path class="b11" d="M96.2 168.9l1.5-.7.6 3.5-1.5 1.2z"/>
<path class="b13" d="M97.7 168.2l1.4-.1.7 1.4-1.5 2.2z"/>
<path class="b14" d="M99.1 168.1l1.5-.7.6-.3-1.4 2.4z"/>
<path class="b17" d="M100.6 167.4l1.4-.6.7-2.2-1.5 2.5z"/>
<path class="b18" d="M102 166.8l1.5-.2.7-4.3-1.5 2.3z"/>
<path class="b20" d="M103.5 166.6l1.5.1 1.4-.3 1.5.3.7-4.4-1.5-1.4-1.5 0-1.4 1.4z"/>
<path class="b18" d="M107.9 166.7l1.4 1.1.7-3.1-1.4-2.4z"/>
<path class="b16" d="M109.3 167.8l1.5 1.7.7-1.8-1.5-3z"/>
<path class="b13" d="M110.8 169.5l1.5 2 .6-.8-1.4-3z"/>
<path class="b9" d="M112.3 171.5l1.4 1.8.7-.3-1.5-2.3z"/>
<path class="b8" d="M113.7 173.3l1.5.8.7-2-1.5.9z"/>
<path class="b9" d="M115.2 174.1l1.4-.7.8-4.1-1.5 2.8z"/>
<path class="b12" d="M116.6 173.4l1.5-1.7.7-5.3-1.4 2.9z"/>
<path class="b15" d="M118.1 171.7l1.5-2 .7-6-1.5 2.7z"/>
<path class="b26" d="M50.5 161.8l1.4-1.8.4-7-1.4 1.7z"/>
<path class="b27" d="M51.9 160l1.5-.7 1.4.8.5-3.7-1.5-2.7-1.5-.7z"/>
<path class="b24" d="M54.8 160.1l1.5 1.9.4-1.9-1.4-3.7z"/>
<path class="b20" d="M56.3 162l1.4 2.7.5-.6-1.5-4z"/>
<path class="b16" d="M57.7 164.7l1.5 2.4.5.9-1.5-3.9z"/>
<path class="b12" d="M59.2 167.1l1.4 2.4.5 1.8-1.4-3.3z"/>
<path class="b9" d="M60.6 169.5l1.5 2.1.5 1.8-1.5-2.1z"/>
<path class="b7" d="M62.1 171.6l1.4.6.5 1.3-1.4-.1z"/>
<path class="b6" d="M63.5 172.2l1.5.5 1.4.4 1.4 0 1.5.1 1.4 0 1.5.1 1.4 0 1.5.1 1.4 0 1.5 0 1.4.1 1.5 0 1.4.1 1.5 0 1.4.1 1.5 0 1.4 0 1.5.1 1.4 0 1.5.1 1.4 0 1.5-.6.6 1.1-1.5 0-1.4 0-1.5-.1-1.4 0-1.5-.1-1.5 0-1.4-.1-1.5 0-1.4 0-1.5-.1-1.4 0-1.5-.1-1.4 0-1.5-.1-1.4 0-1.5 0-1.4-.1-1.5 0-1.4-.1-1.5 0-1.4-.1-1.5 0z"/>
<path class="b8" d="M95.4 173.3l1.4-.4.7-.6-1.5 2.1z"/>
<path class="b10" d="M96.8 172.9l1.5-1.2.6-2.6-1.4 3.2z"/>
<path class="b14" d="M98.3 171.7l1.5-2.2.6-4.2-1.5 3.8z"/>
<path class="b18" d="M99.8 169.5l1.4-2.4.7-5.8-1.5 4z"/>
<path class="b22" d="M101.2 167.1l1.5-2.5.7-7-1.5 3.7z"/>
<path class="b25" d="M102.7 164.6l1.5-2.3.6-7.3-1.4 2.6z"/>
<path class="b27" d="M104.2 162.3l1.4-1.4 1.5 0 .7-4.8-1.5-1.7-1.5.6z"/>
<path class="b25" d="M107.1 160.9l1.5 1.4.6-2.8-1.4-3.4z"/>
<path class="b22" d="M108.6 162.3l1.4 2.4.7-1.2-1.5-4z"/>
<path class="b18" d="M110 164.7l1.5 3 .7-.2-1.5-4z"/>
<path class="b14" d="M111.5 167.7l1.4 3 .7-.5-1.4-2.7z"/>
<path class="b12" d="M112.9 170.7l1.5 2.3 1.5-.9.7-4.5-1.5 2.7-1.5-.1z"/>
<path class="b16" d="M115.9 172.1l1.5-2.8.7-5.6-1.5 3.9z"/>
<path class="b20" d="M117.4 169.3l1.4-2.9.8-6.6-1.5 3.9z"/>
<path class="b24" d="M118.8 166.4l1.5-2.7.8-7.2-1.5 3.3z"/>
<path class="b34" d="M50.9 154.7l1.4-1.7 1.5.7.5-2.5-1.5-3.8-1.5-.1z"/>
<path class="b30" d="M53.8 153.7l1.5 2.7.4-.2-1.4-5z"/>
<path class="b26" d="M55.3 156.4l1.4 3.7.5 1-1.5-4.9z"/>
<path class="b21" d="M56.7 160.1l1.5 4 .5 1.7-1.5-4.7z"/>
<path class="b16" d="M58.2 164.1l1.5 3.9.5 1.8-1.5-4z"/>
<path class="b11" d="M59.7 168l1.4 3.3.6 1.6-1.5-3.1z"/>
<path class="b7" d="M61.1 171.3l1.5 2.1.5.5-1.4-1z"/>
<path class="b6" d="M62.6 173.4l1.4.1 1.5 0 1.4.1 1.5 0 1.4.1 1.5 0 1.4.1 1.5 0 1.4 0 1.5.1 1.4 0 1.5.1 1.4 0 1.5.1 1.4 0 1.5 0 1.4.1 1.5 0 1.5.1 1.4 0 1.5.1 1.4 0 .7.5-1.5 0-1.5-.1-1.4 0-1.5-.1-1.5 0-1.4-.1-1.5 0-1.4 0-1.5-.1-1.4 0-1.5-.1-1.5 0-1.4-.1-1.5 0-1.4 0-1.5-.1-1.4 0-1.5-.1-1.4 0-1.5-.1-1.4 0-1.5-.1z"/>
<path class="b7" d="M94.5 174.4l1.5 0 .6-1.8-1.4 2.3z"/>
<path class="b10" d="M96 174.4l1.5-2.1.6-3.3-1.5 3.6z"/>
<path class="b15" d="M97.5 172.3l1.4-3.2.7-4.4-1.5 4.3z"/>
<path class="b20" d="M98.9 169.1l1.5-3.8.7-5.4-1.5 4.8z"/>
<path class="b25" d="M100.4 165.3l1.5-4 .6-6.4-1.4 5z"/>
<path class="b30" d="M101.9 161.3l1.5-3.7.6-7.3-1.5 4.6z"/>
<path class="b34" d="M103.4 157.6l1.4-2.6 1.5-.6.7-4.1-1.5-2.2-1.5 2.2z"/>
<path class="b32" d="M106.3 154.4l1.5 1.7.7-1.2-1.5-4.6z"/>
<path class="b28" d="M107.8 156.1l1.4 3.4.7.5-1.4-5.1z"/>
<path class="b23" d="M109.2 159.5l1.5 4 .7 1.4-1.5-4.9z"/>
<path class="b19" d="M110.7 163.5l1.5 4 .7.7-1.5-3.3z"/>
<path class="b15" d="M112.2 167.5l1.4 2.7 1.5.1.7-3.1-1.5 1.6-1.4-.6z"/>
<path class="b18" d="M115.1 170.3l1.5-2.7.7-5-1.5 4.6z"/>
<path class="b23" d="M116.6 167.6l1.5-3.9.7-6-1.5 4.9z"/>
<path class="b28" d="M118.1 163.7l1.5-3.9.7-7-1.5 4.9z"/>
<path class="b32" d="M119.6 159.8l1.5-3.3.7-7.4-1.5 3.7z"/>
<path class="b38" d="M51.3 147.3l1.5.1.5 2.2-1.5-3.6z"/>
<path class="b35" d="M52.8 147.4l1.5 3.8.5 3.5-1.5-5.1z"/>
<path class="b30" d="M54.3 151.2l1.4 5 .6 3.8-1.5-5.3z"/>
<path class="b24" d="M55.7 156.2l1.5 4.9.6 3.7-1.5-4.8z"/>
<path class="b18" d="M57.2 161.1l1.5 4.7.5 3.3-1.4-4.3z"/>
<path class="b13" d="M58.7 165.8l1.5 4 .5 2.8-1.5-3.5z"/>
<path class="b9" d="M60.2 169.8l1.5 3.1.5 1.5-1.5-1.8z"/>
<path class="b6" d="M61.7 172.9l1.4 1 1.5.1 1.4 0 1.5.1 1.4 0 1.5.1 1.4 0 1.5.1 1.4 0 1.5 0 1.4.1 1.5 0 1.5.1 1.4 0 1.5.1 1.4 0 1.5 0 1.4.1 1.5 0 1.5.1 1.4 0 1.5.1.6.5-1.4-.1-1.5 0-1.5-.1-1.4 0-1.5-.1-1.5 0-1.4 0-1.5-.1-1.5 0-1.4-.1-1.5 0-1.5-.1-1.4 0-1.5-.1-1.4 0-1.5 0-1.4-.1-1.5 0-1.5-.1-1.4 0-1.5-.1-1.4 0z"/>
<path class="b7" d="M93.7 174.9l1.5 0 .6-1.3-1.5 1.8z"/>
<path class="b10" d="M95.2 174.9l1.4-2.3.7-2.4-1.5 3.4z"/>
<path class="b14" d="M96.6 172.6l1.5-3.6.6-3-1.4 4.2z"/>
<path class="b20" d="M98.1 169l1.5-4.3.6-3.6-1.5 4.9z"/>
<path class="b25" d="M99.6 164.7l1.5-4.8.6-4-1.5 5.2z"/>
<path class="b31" d="M101.1 159.9l1.4-5 .7-4.1-1.5 5.1z"/>
<path class="b36" d="M102.5 154.9l1.5-4.6.7-3-1.5 3.5z"/>
<path class="b38" d="M104 150.3l1.5-2.2.7.5-1.5-1.3z"/>
<path class="b37" d="M105.5 148.1l1.5 2.2.7 3-1.5-4.7z"/>
<path class="b32" d="M107 150.3l1.5 4.6.6 3.7-1.4-5.3z"/>
<path class="b27" d="M108.5 154.9l1.4 5.1.7 3.8-1.5-5.2z"/>
<path class="b21" d="M109.9 160l1.5 4.9.7 3-1.5-4.1z"/>
<path class="b17" d="M111.4 164.9l1.5 3.3.6.8-1.4-1.1z"/>
<path class="b16" d="M112.9 168.2l1.4.6.7-.8-1.5 1z"/>
<path class="b18" d="M114.3 168.8l1.5-1.6.7-3.2-1.5 4z"/>
<path class="b23" d="M115.8 167.2l1.5-4.6.7-3.7-1.5 5.1z"/>
<path class="b28" d="M117.3 162.6l1.5-4.9.8-4.1-1.6 5.3z"/>
<path class="b34" d="M118.8 157.7l1.5-4.9.8-3.8-1.5 4.6z"/>
<path class="b38" d="M120.3 152.8l1.5-3.7.8-1.4-1.5 1.3z"/>
<path class="b34" d="M51.8 146l1.5 3.6.5 7.5-1.5-3.5z"/>
<path class="b30" d="M53.3 149.6l1.5 5.1.5 6.6-1.5-4.2z"/>
<path class="b25" d="M54.8 154.7l1.5 5.3.5 5.7-1.5-4.4z"/>
<path class="b19" d="M56.3 160l1.5 4.8.5 4.9-1.5-4z"/>
<path class="b14" d="M57.8 164.8l1.4 4.3.6 3.9-1.5-3.3z"/>
<path class="b9" d="M59.2 169.1l1.5 3.5.5 2.2-1.4-1.8z"/>
<path class="b7" d="M60.7 172.6l1.5 1.8.5.5-1.5-.1z"/>
<path class="b6" d="M62.2 174.4l1.4 0 1.5.1 1.4 0 1.5.1 1.5 0 1.4.1 1.5 0 1.4 0 1.5.1 1.4 0 1.5.1 1.5 0 1.4.1 1.5 0 1.5.1 1.4 0 1.5 0 1.5.1 1.4 0 1.5.1 1.5 0 1.4.1.7-.1-1.5.5-1.5 0-1.5-.1-1.4 0-1.5-.1-1.5 0-1.4 0-1.5-.1-1.5 0-1.5-.1-1.4 0-1.5-.1-1.5 0-1.4-.1-1.5 0-1.4 0-1.5-.1-1.5 0-1.4-.1-1.5 0-1.4-.1-1.5 0z"/>
<path class="b8" d="M94.3 175.4l1.5-1.8.6-1.1-1.4 2.8z"/>
<path class="b12" d="M95.8 173.6l1.5-3.4.6-1.3-1.5 3.6z"/>
<path class="b18" d="M97.3 170.2l1.4-4.2.7-1.3-1.5 4.2z"/>
<path class="b23" d="M98.7 166l1.5-4.9.7-.7-1.5 4.3z"/>
<path class="b28" d="M100.2 161.1l1.5-5.2.7.5-1.5 4z"/>
<path class="b33" d="M101.7 155.9l1.5-5.1.7 3-1.5 2.6z"/>
<path class="b36" d="M103.2 150.8l1.5-3.5 1.5 1.3.6 7.9-1.4-2.7-1.5 0z"/>
<path class="b32" d="M106.2 148.6l1.5 4.7.6 7.2-1.5-4z"/>
<path class="b27" d="M107.7 153.3l1.4 5.3.7 6.3-1.5-4.4z"/>
<path class="b22" d="M109.1 158.6l1.5 5.2.7 5.4-1.5-4.3z"/>
<path class="b17" d="M110.6 163.8l1.5 4.1.6 3.1-1.4-1.8z"/>
<path class="b15" d="M112.1 167.9l1.4 1.1.7 1.5-1.5.5z"/>
<path class="b17" d="M113.5 169l1.5-1 .7-.8-1.5 3.3z"/>
<path class="b21" d="M115 168l1.5-4 .7-1.1-1.5 4.3z"/>
<path class="b26" d="M116.5 164l1.5-5.1.8-.2-1.6 4.2z"/>
<path class="b31" d="M118 158.9l1.6-5.3.7 1.6-1.5 3.5z"/>
<path class="b35" d="M119.6 153.6l1.5-4.6.7 4.9-1.5 1.3z"/>
<path class="b36" d="M121.1 149l1.5-1.3.7 7.7-1.5-1.5z"/>
<path class="b26" d="M52.3 153.6l1.5 3.5.6 7.8-1.5-3z"/>
<path class="b22" d="M53.8 157.1l1.5 4.2.6 6.9-1.5-3.3z"/>
<path class="b18" d="M55.3 161.3l1.5 4.4.6 5.7-1.5-3.2z"/>
<path class="b13" d="M56.8 165.7l1.5 4 .5 4.5-1.4-2.8z"/>
<path class="b9" d="M58.3 169.7l1.5 3.3.5 2.3-1.5-1.1z"/>
<path class="b7" d="M59.8 173l1.4 1.8.6.5-1.5 0z"/>
<path class="b6" d="M61.2 174.8l1.5.1 1.5 0 1.4.1 1.5 0 1.4.1 1.5 0 1.5.1 1.4 0 1.5 0 1.4.1 1.5 0 1.5.1 1.4 0 1.5.1 1.5 0 1.5.1 1.4 0 1.5 0 1.5.1 1.4 0 1.5.1 1.5 0 .6.5-1.5 0-1.4-.1-1.5 0-1.5-.1-1.5 0-1.5 0-1.4-.1-1.5 0-1.5-.1-1.4 0-1.5-.1-1.5 0-1.5-.1-1.4 0-1.5 0-1.5-.1-1.4 0-1.5-.1-1.4 0-1.5-.1-1.5 0-1.4-.1z"/>
<path class="b7" d="M93.5 175.8l1.5-.5.6-.1-1.5 1.1z"/>
<path class="b9" d="M95 175.3l1.4-2.8.7.1-1.5 2.6z"/>
<path class="b14" d="M96.4 172.5l1.5-3.6.7.5-1.5 3.2z"/>
<path class="b18" d="M97.9 168.9l1.5-4.2.6 1.4-1.4 3.3z"/>
<path class="b23" d="M99.4 164.7l1.5-4.3.6 2.9-1.5 2.8z"/>
<path class="b27" d="M100.9 160.4l1.5-4 .6 4.9-1.5 2z"/>
<path class="b29" d="M102.4 156.4l1.5-2.6.6 7.1-1.5.4z"/>
<path class="b30" d="M103.9 153.8l1.5 0 .6 8.4-1.5-1.3z"/>
<path class="b28" d="M105.4 153.8l1.4 2.7.7 8.2-1.5-2.5z"/>
<path class="b24" d="M106.8 156.5l1.5 4 .7 7.4-1.5-3.2z"/>
<path class="b20" d="M108.3 160.5l1.5 4.4.7 6.4-1.5-3.4z"/>
<path class="b15" d="M109.8 164.9l1.5 4.3.6 5-1.4-2.9z"/>
<path class="b13" d="M111.3 169.2l1.4 1.8 1.5-.5.7.9-1.5 2.8-1.5 0z"/>
<path class="b16" d="M114.2 170.5l1.5-3.3.7.9-1.5 3.3z"/>
<path class="b21" d="M115.7 167.2l1.5-4.3.7 2.1-1.5 3.1z"/>
<path class="b25" d="M117.2 162.9l1.6-4.2.7 3.9-1.6 2.4z"/>
<path class="b28" d="M118.8 158.7l1.5-3.5.7 6.2-1.5 1.2z"/>
<path class="b30" d="M120.3 155.2l1.5-1.3.7 8-1.5-.5z"/>
<path class="b29" d="M121.8 153.9l1.5 1.5.7 8.5-1.5-2z"/>
<path class="b18" d="M52.9 161.9l1.5 3 .5 6.7-1.4-2.3z"/>
<path class="b14" d="M54.4 164.9l1.5 3.3.5 5.7-1.5-2.3z"/>
<path class="b11" d="M55.9 168.2l1.5 3.2.5 4.2-1.5-1.7z"/>
<path class="b8" d="M57.4 171.4l1.4 2.8.6 1.6-1.5-.2z"/>
<path class="b6" d="M58.8 174.2l1.5 1.1 1.5 0 1.4.1 1.5 0 1.5.1 1.4 0 1.5.1 1.4 0 1.5.1 1.5 0 1.4 0 1.5.1 1.5 0 1.5.1 1.4 0 1.5.1 1.5 0 1.4.1 1.5 0 1.5 0 1.5.1 1.5 0 1.4.1 1.5 0 .6.5-1.4 0-1.5-.1-1.5 0-1.5 0-1.5-.1-1.5 0-1.4-.1-1.5 0-1.5-.1-1.5 0-1.4-.1-1.5 0-1.5-.1-1.5 0-1.4 0-1.5-.1-1.5 0-1.4-.1-1.5 0-1.5-.1-1.4 0-1.5-.1-1.5 0-1.4 0z"/>
<path class="b7" d="M94.1 176.3l1.5-1.1.6.8-1.5.8z"/>
<path class="b9" d="M95.6 175.2l1.5-2.6.6 1.4-1.5 2z"/>
<path class="b13" d="M97.1 172.6l1.5-3.2.6 2.3-1.5 2.3z"/>
<path class="b16" d="M98.6 169.4l1.4-3.3.7 3.6-1.5 2z"/>
<path class="b20" d="M100 166.1l1.5-2.8.7 5-1.5 1.4z"/>
<path class="b22" d="M101.5 163.3l1.5-2 1.5-.4.7 7.4-1.5-.5-1.5.5z"/>
<path class="b21" d="M104.5 160.9l1.5 1.3.7 7.6-1.5-1.5z"/>
<path class="b19" d="M106 162.2l1.5 2.5.7 7.2-1.5-2.1z"/>
<path class="b16" d="M107.5 164.7l1.5 3.2.6 6.4-1.4-2.4z"/>
<path class="b13" d="M109 167.9l1.5 3.4.6 5.1-1.5-2.1z"/>
<path class="b10" d="M110.5 171.3l1.4 2.9.7 3-1.5-.8z"/>
<path class="b9" d="M111.9 174.2l1.5 0 .7 1.3-1.5 1.7z"/>
<path class="b11" d="M113.4 174.2l1.5-2.8.7 1.9-1.5 2.2z"/>
<path class="b15" d="M114.9 171.4l1.5-3.3.7 3-1.5 2.2z"/>
<path class="b18" d="M116.4 168.1l1.5-3.1.7 4.4-1.5 1.7z"/>
<path class="b21" d="M117.9 165l1.6-2.4.7 5.8-1.6 1z"/>
<path class="b22" d="M119.5 162.6l1.5-1.2 1.5.5.7 7.6-1.5-1.1-1.5 0z"/>
<path class="b20" d="M122.5 161.9l1.5 2 .6 7.5-1.4-1.9z"/>
<path class="b10" d="M53.5 169.3l1.4 2.3.6 4.5-1.5-1.1z"/>
<path class="b8" d="M54.9 171.6l1.5 2.3.5 2.3-1.4-.1z"/>
<path class="b7" d="M56.4 173.9l1.5 1.7.5.6-1.5 0z"/>
<path class="b6" d="M57.9 175.6l1.5.2 1.4 0 1.5 0 1.5.1 1.4 0 1.5.1 1.5 0 1.4.1 1.5 0 1.5.1 1.4 0 1.5 0 1.5.1 1.5 0 1.4.1 1.5 0 1.5.1 1.5 0 1.4.1 1.5 0 1.5.1 1.5 0 1.5 0 1.5.1 1.4 0 1.5-.8.7 1.3-1.5 0-1.5 0-1.5 0-1.5-.1-1.5 0-1.5-.1-1.4 0-1.5-.1-1.5 0-1.5-.1-1.5 0-1.5-.1-1.4 0-1.5 0-1.5-.1-1.5 0-1.4-.1-1.5 0-1.5-.1-1.5 0-1.4-.1-1.5 0-1.5 0-1.5-.1-1.4 0-1.5-.1z"/>
<path class="b8" d="M96.2 176l1.5-2 .7 2.3-1.5 1z"/>
<path class="b10" d="M97.7 174l1.5-2.3.7 3.4-1.5 1.2z"/>
<path class="b13" d="M99.2 171.7l1.5-2 .6 4.4-1.4 1z"/>
<path class="b14" d="M100.7 169.7l1.5-1.4.6 5.4-1.5.4z"/>
<path class="b15" d="M102.2 168.3l1.5-.5 1.5.5.6 6.4-1.5-.8-1.5-.2z"/>
<path class="b14" d="M105.2 168.3l1.5 1.5.6 6.1-1.5-1.2z"/>
<path class="b12" d="M106.7 169.8l1.5 2.1.6 5.3-1.5-1.3z"/>
<path class="b9" d="M108.2 171.9l1.4 2.4.7 3.5-1.5-.6z"/>
<path class="b8" d="M109.6 174.3l1.5 2.1.7 1.4-1.5 0z"/>
<path class="b6" d="M111.1 176.4l1.5.8.7.7-1.5-.1z"/>
<path class="b7" d="M112.6 177.2l1.5-1.7.7 1.9-1.5.5z"/>
<path class="b9" d="M114.1 175.5l1.5-2.2.7 2.9-1.5 1.2z"/>
<path class="b12" d="M115.6 173.3l1.5-2.2.7 4-1.5 1.1z"/>
<path class="b14" d="M117.1 171.1l1.5-1.7.7 5-1.5.7z"/>
<path class="b15" d="M118.6 169.4l1.6-1 1.5 0 .7 6.4-1.6-.6-1.5.2z"/>
<path class="b14" d="M121.7 168.4l1.5 1.1.7 6.3-1.5-1z"/>
<path class="b13" d="M123.2 169.5l1.4 1.9.8 5.7-1.5-1.3z"/>
<path class="b6" d="M54 175l1.5 1.1 1.4.1 1.5 0 1.5.1 1.4 0 1.5.1 1.5 0 1.5 0 1.4.1 1.5 0 1.5.1 1.5 0 1.4.1 1.5 0 1.5.1 1.5 0 1.4 0 1.5.1 1.5 0 1.5.1 1.5 0 1.5.1 1.4 0 1.5.1 1.5 0 1.5.1 1.5 0 1.5 0 1.5 0 1.5-1 .6 1.6-1.5 0-1.5 0-1.5-.1-1.5 0-1.5-.1-1.5 0-1.4-.1-1.5 0-1.5-.1-1.5 0-1.5-.1-1.5 0-1.5 0-1.5-.1-1.4 0-1.5-.1-1.5 0-1.5-.1-1.5 0-1.5-.1-1.4 0-1.5 0-1.5-.1-1.5 0-1.4-.1-1.5 0-1.5-.1-1.5 0-1.4-.1-1.5 0z"/>
<path class="b7" d="M98.4 176.3l1.5-1.2.6 2.9-1.5-.1z"/>
<path class="b8" d="M99.9 175.1l1.4-1 .7 3.8-1.5.1z"/>
<path class="b9" d="M101.3 174.1l1.5-.4 1.5.2 1.5.8.7 3.5-1.5-.1-1.5-.2-1.5 0z"/>
<path class="b8" d="M105.8 174.7l1.5 1.2.7 2.3-1.5 0z"/>
<path class="b7" d="M107.3 175.9l1.5 1.3.7 1.1-1.5-.1z"/>
<path class="b6" d="M108.8 177.2l1.5.6 1.5 0 1.5.1 1.5-.5.7 1.1-1.5-.1-1.5 0-1.5-.1-1.5 0z"/>
<path class="b7" d="M114.8 177.4l1.5-1.2.7 2.3-1.5 0z"/>
<path class="b8" d="M116.3 176.2l1.5-1.1.7 3.3-1.5.1z"/>
<path class="b9" d="M117.8 175.1l1.5-.7 1.5-.2 1.6.6.7 3.9-1.5-.2-1.6-.1-1.5 0z"/>
<path class="b8" d="M122.4 174.8l1.5 1 .7 2.9-1.5 0z"/>
<path class="b7" d="M123.9 175.8l1.5 1.3.7 1.7-1.5-.1z"/>
<path class="b6" d="M54.5 176.6l1.5 0 1.4.1 1.5 0 1.5.1 1.5 0 1.4.1 1.5 0 1.5.1 1.5 0 1.4 0 1.5.1 1.5 0 1.5.1 1.5 0 1.5.1 1.4 0 1.5.1 1.5 0 1.5 0 1.5.1 1.5 0 1.5.1 1.5 0 1.4.1 1.5 0 1.5.1 1.5 0 1.5.1 1.5 0 1.5 0 1.5.1 1.5-.1 1.5 0 1.5.2 1.5.1 1.5 0 1.5.1 1.5 0 1.5.1 1.5 0 1.5.1 1.5 0 1.5-.1 1.5 0 1.6.1 1.5.2 1.5 0 1.5.1.7.5-1.5-.1-1.5 0-1.5 0-1.5-.1-1.5 0-1.6-.1-1.5 0-1.5-.1-1.5 0-1.5-.1-1.5 0-1.5-.1-1.5 0-1.5 0-1.5-.1-1.5 0-1.5-.1-1.5 0-1.5-.1-1.5 0-1.5-.1-1.5 0-1.5-.1-1.5 0-1.5-.1-1.5 0-1.5 0-1.5-.1-1.5 0-1.5-.1-1.5 0-1.5-.1-1.5 0-1.5-.1-1.4 0-1.5-.1-1.5 0-1.5 0-1.5-.1-1.5 0-1.4-.1-1.5 0-1.5-.1-1.5 0-1.5-.1-1.4 0-1.5-.1-1.5 0z"/>
<path class="b6" d="M55 177.1l1.5 0 1.5.1 1.4 0 1.5.1 1.5 0 1.5.1 1.5 0 1.4.1 1.5 0 1.5.1 1.5 0 1.5 0 1.5.1 1.4 0 1.5.1 1.5 0 1.5.1 1.5 0 1.5.1 1.5 0 1.5.1 1.5 0 1.5 0 1.5.1 1.5 0 1.5.1 1.5 0 1.5.1 1.5 0 1.5.1 1.5 0 1.5.1 1.5 0 1.5.1 1.5 0 1.5 0 1.5.1 1.5 0 1.5.1 1.5 0 1.5.1 1.5 0 1.6.1 1.5 0 1.5.1 1.5 0 1.5 0 1.5.1.8.5-1.5 0-1.5-.1-1.6 0-1.5-.1-1.5 0-1.5-.1-1.5 0-1.6 0-1.5-.1-1.5 0-1.5-.1-1.5 0-1.5-.1-1.5 0-1.6-.1-1.5 0-1.5-.1-1.5 0-1.5-.1-1.5 0-1.5 0-1.5-.1-1.5 0-1.5-.1-1.5 0-1.5-.1-1.5 0-1.5-.1-1.5 0-1.5-.1-1.5 0-1.5-.1-1.5 0-1.5 0-1.5-.1-1.5 0-1.5-.1-1.4 0-1.5-.1-1.5 0-1.5-.1-1.5 0-1.5-.1-1.5 0-1.4 0-1.5-.1-1.5 0-1.5-.1z"/>
<path class="b6" d="M55.5 177.6l1.5.1 1.5 0 1.5.1 1.4 0 1.5 0 1.5.1 1.5 0 1.5.1 1.5 0 1.5.1 1.4 0 1.5.1 1.5 0 1.5.1 1.5 0 1.5 0 1.5.1 1.5 0 1.5.1 1.5 0 1.5.1 1.5 0 1.5.1 1.5 0 1.5.1 1.5 0 1.5.1 1.5 0 1.5 0 1.5.1 1.5 0 1.5.1 1.5 0 1.6.1 1.5 0 1.5.1 1.5 0 1.5.1 1.5 0 1.5.1 1.6 0 1.5 0 1.5.1 1.5 0 1.5.1 1.6 0 1.5.1 1.5 0 .8.6-1.6-.1-1.5 0-1.5-.1-1.6 0-1.5-.1-1.5 0-1.5-.1-1.5 0-1.6-.1-1.5 0-1.5-.1-1.5 0-1.5-.1-1.6 0-1.5 0-1.5-.1-1.5 0-1.5-.1-1.5 0-1.5-.1-1.5 0-1.6-.1-1.5 0-1.5-.1-1.5 0-1.5-.1-1.5 0-1.5 0-1.5-.1-1.5 0-1.5-.1-1.5 0-1.5-.1-1.5 0-1.5-.1-1.5 0-1.5-.1-1.5 0-1.5-.1-1.5 0-1.5 0-1.5-.1-1.4 0-1.5-.1-1.5 0-1.5-.1-1.5 0-1.5-.1z"/>
<path class="b6" d="M56 178.1l1.5.1 1.5 0 1.5.1 1.5 0 1.5.1 1.4 0 1.5.1 1.5 0 1.5 0 1.5.1 1.5 0 1.5.1 1.5 0 1.5.1 1.5 0 1.5.1 1.5 0 1.5.1 1.5 0 1.5.1 1.5 0 1.5 0 1.5.1 1.5 0 1.5.1 1.5 0 1.6.1 1.5 0 1.5.1 1.5 0 1.5.1 1.5 0 1.5.1 1.5 0 1.6 0 1.5.1 1.5 0 1.5.1 1.5 0 1.6.1 1.5 0 1.5.1 1.5 0 1.5.1 1.6 0 1.5.1 1.5 0 1.6.1.7.5-1.5-.1-1.5 0-1.6-.1-1.5 0-1.5 0-1.6-.1-1.5 0-1.5-.1-1.6 0-1.5-.1-1.5 0-1.5-.1-1.5 0-1.6-.1-1.5 0-1.5-.1-1.5 0-1.5-.1-1.6 0-1.5 0-1.5-.1-1.5 0-1.5-.1-1.5 0-1.5-.1-1.6 0-1.5-.1-1.5 0-1.5-.1-1.5 0-1.5-.1-1.5 0-1.5-.1-1.5 0-1.5 0-1.5-.1-1.5 0-1.5-.1-1.5 0-1.5-.1-1.5 0-1.5-.1-1.5 0-1.5-.1-1.5 0-1.5-.1-1.5 0-1.5 0z"/>
<path class="b6" d="M56.5 178.7l1.5 0 1.5 0 1.5.1 1.5 0 1.5.1 1.5 0 1.5.1 1.5 0 1.5.1 1.5 0 1.5.1 1.5 0 1.5.1 1.5 0 1.5 0 1.5.1 1.5 0 1.5.1 1.5 0 1.5.1 1.5 0 1.5.1 1.6 0 1.5.1 1.5 0 1.5.1 1.5 0 1.5.1 1.5 0 1.6 0 1.5.1 1.5 0 1.5.1 1.5 0 1.6.1 1.5 0 1.5.1 1.5 0 1.5.1 1.6 0 1.5.1 1.5 0 1.6.1 1.5 0 1.5 0 1.6.1 1.5 0 1.5.1.8.5-1.5 0-1.6-.1-1.5 0-1.6-.1-1.5 0-1.5-.1-1.6 0-1.5 0-1.5-.1-1.6 0-1.5-.1-1.5 0-1.5-.1-1.6 0-1.5-.1-1.5 0-1.6-.1-1.5 0-1.5-.1-1.5 0-1.5-.1-1.6 0-1.5-.1-1.5 0-1.5-.1-1.5 0-1.5 0-1.6-.1-1.5 0-1.5-.1-1.5 0-1.5-.1-1.5 0-1.5-.1-1.5 0-1.5-.1-1.6 0-1.5-.1-1.5 0-1.5-.1-1.5 0-1.5 0-1.5-.1-1.5 0-1.5-.1-1.5 0-1.5-.1-1.5 0z"/>
<path class="b6" d="M57 179.2l1.5 0 1.5.1 1.5 0 1.5.1 1.5 0 1.5.1 1.5 0 1.5 0 1.5.1 1.5 0 1.5.1 1.6 0 1.5.1 1.5 0 1.5.1 1.5 0 1.5.1 1.5 0 1.5.1 1.5 0 1.6.1 1.5 0 1.5 0 1.5.1 1.5 0 1.5.1 1.6 0 1.5.1 1.5 0 1.5.1 1.5 0 1.6.1 1.5 0 1.5.1 1.6 0 1.5.1 1.5 0 1.5.1 1.6 0 1.5.1 1.5 0 1.6 0 1.5.1 1.5 0 1.6.1 1.5 0 1.6.1 1.5 0 .8.6-1.6-.1-1.5 0-1.6-.1-1.5 0-1.5-.1-1.6 0-1.5-.1-1.6 0-1.5-.1-1.5 0-1.6-.1-1.5 0-1.5 0-1.6-.1-1.5 0-1.5-.1-1.6 0-1.5-.1-1.5 0-1.6-.1-1.5 0-1.5-.1-1.5 0-1.6-.1-1.5 0-1.5-.1-1.5 0-1.5-.1-1.6 0-1.5-.1-1.5 0-1.5-.2-1.5-.1-1.5.1-1.6 0-1.5 0-1.5-.1-1.5 0-1.5-.1-1.5 0-1.5-.1-1.5 0-1.5-.2-1.5-.1-1.5 0-1.5.1-1.5 0-1.5-.1z"/>
<path class="b7" d="M57.6 179.7l1.5.1.5-1.9-1.5 1.2z"/>
<path class="b8" d="M59.1 179.8l1.5 0 .5-2.9-1.5 1z"/>
<path class="b9" d="M60.6 179.8l1.5-.1 1.5 0 1.5.1.5-2.3-1.5-.8-1.5-.2-1.5.4z"/>
<path class="b8" d="M65.1 179.8l1.5.2.5-1.3-1.5-1.2z"/>
<path class="b7" d="M66.6 180l1.5 0 .5 0-1.5-1.3z"/>
<path class="b6" d="M68.1 180l1.5.1 1.5 0 1.5.1 1.5 0 .6 0-1.5.5-1.5 0-1.5-.1-1.6-.6z"/>
<path class="b7" d="M74.1 180.2l1.5.1.6-1.3-1.5 1.2z"/>
<path class="b8" d="M75.6 180.3l1.5 0 .6-2.5-1.5 1.2z"/>
<path class="b9" d="M77.1 180.3l1.6 0 1.5-.1 1.5.1.6-2.8-1.5-.5-1.6.1-1.5.7z"/>
<path class="b8" d="M81.7 180.3l1.5.2.6-1.9-1.5-1.1z"/>
<path class="b7" d="M83.2 180.5l1.5 0 .6-.6-1.5-1.3z"/>
<path class="b6" d="M84.7 180.5l1.5.1 1.6 0 1.5.1 1.5 0 1.5.1 1.5 0 1.6.1 1.5 0 1.5.1 1.5 0 1.6.1 1.5 0 1.5.1 1.6 0 1.5.1 1.5 0 1.6.1 1.5 0 1.5 0 1.6.1 1.5 0 1.5.1 1.6 0 1.5.1 1.6 0 1.5.1 1.5 0 1.6.1 1.5 0 1.6.1.8-.6-1.6 1-1.6 0-1.5 0-1.5-.1-1.6 0-1.5-.1-1.6 0-1.5-.1-1.6 0-1.5-.1-1.6 0-1.5-.1-1.5 0-1.6-.1-1.5 0-1.5 0-1.6-.1-1.5 0-1.5-.1-1.6 0-1.5-.1-1.5 0-1.6-.1-1.5 0-1.5-.1-1.6 0-1.5-.1-1.5 0-1.5-.1-1.6-1.2z"/>
<path class="b13" d="M58.1 179.1l1.5-1.2.5-5.4-1.5 1.8z"/>
<path class="b14" d="M59.6 177.9l1.5-1 .5-5.4-1.5 1z"/>
<path class="b15" d="M61.1 176.9l1.5-.4 1.5.2.5-4.1-1.5-1.1-1.5 0z"/>
<path class="b14" d="M64.1 176.7l1.5.8.5-3-1.5-1.9z"/>
<path class="b12" d="M65.6 177.5l1.5 1.2.6-1.9-1.6-2.3z"/>
<path class="b9" d="M67.1 178.7l1.5 1.3.6-.8-1.5-2.4z"/>
<path class="b7" d="M68.6 180l1.6.6.5.4-1.5-1.8z"/>
<path class="b6" d="M70.2 180.6l1.5.1.5-.4-1.5.7z"/>
<path class="b8" d="M71.7 180.7l1.5 0 .6-2.5-1.6 2.1z"/>
<path class="b9" d="M73.2 180.7l1.5-.5.6-4.3-1.5 2.3z"/>
<path class="b12" d="M74.7 180.2l1.5-1.2.6-5.2-1.5 2.1z"/>
<path class="b14" d="M76.2 179l1.5-1.2.6-5.4-1.5 1.4z"/>
<path class="b15" d="M77.7 177.8l1.5-.7 1.6-.1.6-4.5-1.6-.6-1.5.5z"/>
<path class="b14" d="M80.8 177l1.5.5.6-3.5-1.5-1.5z"/>
<path class="b13" d="M82.3 177.5l1.5 1.1.6-2.4-1.5-2.2z"/>
<path class="b10" d="M83.8 178.6l1.5 1.3.7-1.3-1.6-2.4z"/>
<path class="b8" d="M85.3 179.9l1.6 1.2.6-.3-1.5-2.2z"/>
<path class="b6" d="M86.9 181.1l1.5.1 1.5 0 1.5.1 1.6 0 1.5.1 1.5 0 1.6.1 1.5 0 1.5.1 1.6 0 1.5.1 1.5 0 1.6.1 1.5 0 1.5 0 1.6.1 1.5 0 1.5.1 1.6 0 1.5.1 1.6 0 1.5.1 1.6 0 1.5.1 1.6 0 1.5.1.8.4-1.6.1-1.5-.1-1.6 0-1.5-.1-1.6 0-1.5-.1-1.6 0-1.5-.1-1.6 0-1.5-.1-1.6 0-1.5-.1-1.5 0-1.6-.1-1.5 0-1.6 0-1.5-.1-1.5 0-1.6-.1-1.5 0-1.5-.1-1.6 0-1.5-.1-1.5 0-1.6-.1-1.5-.9z"/>
<path class="b7" d="M126.8 182.4l1.5 0 .8-1.3-1.5 1.7z"/>
<path class="b8" d="M128.3 182.4l1.6 0 .8-3.6-1.6 2.3z"/>
<path class="b10" d="M129.9 182.4l1.6-1 .8-4.9-1.6 2.3z"/>
<path class="b20" d="M58.6 174.3l1.5-1.8.4-6.9-1.5 2z"/>
<path class="b22" d="M60.1 172.5l1.5-1 1.5 0 .5-5-1.5-1.3-1.6.4z"/>
<path class="b21" d="M63.1 171.5l1.5 1.1.5-3.5-1.5-2.6z"/>
<path class="b18" d="M64.6 172.6l1.5 1.9.6-2.1-1.6-3.3z"/>
<path class="b15" d="M66.1 174.5l1.6 2.3.5-.9-1.5-3.5z"/>
<path class="b11" d="M67.7 176.8l1.5 2.4.6-.3-1.6-3z"/>
<path class="b9" d="M69.2 179.2l1.5 1.8.6-2.1-1.5 0z"/>
<path class="b10" d="M70.7 181l1.5-.7.6-4.2-1.5 2.8z"/>
<path class="b13" d="M72.2 180.3l1.6-2.1.5-5.5-1.5 3.4z"/>
<path class="b16" d="M73.8 178.2l1.5-2.3.5-6.5-1.5 3.3z"/>
<path class="b19" d="M75.3 175.9l1.5-2.1.5-6.9-1.5 2.5z"/>
<path class="b21" d="M76.8 173.8l1.5-1.4.6-6.7-1.6 1.2z"/>
<path class="b22" d="M78.3 172.4l1.5-.5 1.6.6.6-4.2-1.6-2.1-1.5-.5z"/>
<path class="b20" d="M81.4 172.5l1.5 1.5.6-2.7-1.5-3z"/>
<path class="b16" d="M82.9 174l1.5 2.2.6-1.4-1.5-3.5z"/>
<path class="b13" d="M84.4 176.2l1.6 2.4.6-.4-1.6-3.4z"/>
<path class="b9" d="M86 178.6l1.5 2.2.6.3-1.5-2.9z"/>
<path class="b7" d="M87.5 180.8l1.5.9.7.6-1.6-1.2z"/>
<path class="b6" d="M89 181.7l1.6.1 1.5 0 1.5.1 1.6 0 1.5.1 1.5 0 1.6.1 1.5 0 1.5.1 1.6 0 1.5 0 1.6.1 1.5 0 1.5.1 1.6 0 1.5.1 1.6 0 1.5.1 1.6 0 1.5.1 1.6 0 1.5.1 1.6 0 1.5.1.8-.6-1.6 1.1-1.5-.1-1.6 0-1.5-.1-1.6 0-1.5-.1-1.6 0-1.6-.1-1.5 0-1.6-.1-1.5 0-1.5-.1-1.6 0-1.5-.1-1.6 0-1.5 0-1.6-.1-1.5 0-1.6-.1-1.5 0-1.5-.1-1.6 0-1.5-.1-1.5 0z"/>
<path class="b8" d="M126 182.9l1.6-.1.8-3.3-1.6 2.8z"/>
<path class="b11" d="M127.6 182.8l1.5-1.7.9-4.9-1.6 3.3z"/>
<path class="b14" d="M129.1 181.1l1.6-2.3.8-6.1-1.5 3.5z"/>
<path class="b18" d="M130.7 178.8l1.6-2.3.8-6.8-1.6 3z"/>
<path class="b29" d="M59 167.6l1.5-2 .5-7.2-1.5 1.4z"/>
<path class="b30" d="M60.5 165.6l1.6-.4.5-5.4-1.6-1.4z"/>
<path class="b28" d="M62.1 165.2l1.5 1.3.5-3-1.5-3.7z"/>
<path class="b25" d="M63.6 166.5l1.5 2.6.6-1.1-1.6-4.5z"/>
<path class="b21" d="M65.1 169.1l1.6 3.3.5.1-1.5-4.5z"/>
<path class="b16" d="M66.7 172.4l1.5 3.5.6.1-1.6-3.5z"/>
<path class="b13" d="M68.2 175.9l1.6 3 1.5 0 .5-4.1-1.5 1.8-1.5-.6z"/>
<path class="b15" d="M71.3 178.9l1.5-2.8.6-5.6-1.6 4.3z"/>
<path class="b20" d="M72.8 176.1l1.5-3.4.6-6.7-1.5 4.5z"/>
<path class="b24" d="M74.3 172.7l1.5-3.3.6-7.6-1.5 4.2z"/>
<path class="b28" d="M75.8 169.4l1.5-2.5.6-7.7-1.5 2.6z"/>
<path class="b30" d="M77.3 166.9l1.6-1.2.6-6.4-1.6-.1z"/>
<path class="b29" d="M78.9 165.7l1.5.5.6-4.1-1.5-2.8z"/>
<path class="b27" d="M80.4 166.2l1.6 2.1.6-2-1.6-4.2z"/>
<path class="b23" d="M82 168.3l1.5 3 .6-.4-1.5-4.6z"/>
<path class="b18" d="M83.5 171.3l1.5 3.5.7.5-1.6-4.4z"/>
<path class="b14" d="M85 174.8l1.6 3.4.6 1-1.5-3.9z"/>
<path class="b9" d="M86.6 178.2l1.5 2.9.7 1-1.6-2.9z"/>
<path class="b7" d="M88.1 181.1l1.6 1.2.6.5-1.5-.7z"/>
<path class="b6" d="M89.7 182.3l1.5 0 1.5.1 1.6 0 1.5.1 1.5 0 1.6.1 1.5 0 1.6.1 1.5 0 1.6 0 1.5.1 1.6 0 1.5.1 1.5 0 1.6.1 1.5 0 1.6.1 1.6 0 1.5.1 1.6 0 1.5.1 1.6 0 .7.6-1.5-.1-1.6 0-1.5-.1-1.6 0-1.6-.1-1.5 0-1.6-.1-1.5 0-1.6-.1-1.5 0-1.6-.1-1.5 0-1.6 0-1.5-.1-1.6 0-1.5-.1-1.6 0-1.5-.1-1.6 0-1.5-.1-1.6 0-1.5-.1z"/>
<path class="b7" d="M123.7 183.3l1.5.1.8-1.4-1.6 1.9z"/>
<path class="b9" d="M125.2 183.4l1.6-1.1.8-3.7-1.6 3.4z"/>
<path class="b13" d="M126.8 182.3l1.6-2.8.8-5-1.6 4.1z"/>
<path class="b18" d="M128.4 179.5l1.6-3.3.8-6.3-1.6 4.6z"/>
<path class="b22" d="M130 176.2l1.5-3.5.9-7.2-1.6 4.4z"/>
<path class="b26" d="M131.5 172.7l1.6-3 .9-7.8-1.6 3.6z"/>
<path class="b36" d="M59.5 159.8l1.5-1.4.5-4.2-1.5-1.4z"/>
<path class="b35" d="M61 158.4l1.6 1.4.5-.7-1.6-4.9z"/>
<path class="b31" d="M62.6 159.8l1.5 3.7.6 1.1-1.6-5.5z"/>
<path class="b26" d="M64.1 163.5l1.6 4.5.5 2-1.5-5.4z"/>
<path class="b21" d="M65.7 168l1.5 4.5.6 1.8-1.6-4.3z"/>
<path class="b17" d="M67.2 172.5l1.6 3.5.5-.6-1.5-1.1z"/>
<path class="b15" d="M68.8 176l1.5.6.6-2.2-1.6 1z"/>
<path class="b17" d="M70.3 176.6l1.5-1.8.6-4.6-1.5 4.2z"/>
<path class="b22" d="M71.8 174.8l1.6-4.3.5-5.6-1.5 5.3z"/>
<path class="b27" d="M73.4 170.5l1.5-4.5.5-6.6-1.5 5.5z"/>
<path class="b32" d="M74.9 166l1.5-4.2.6-7.2-1.6 4.8z"/>
<path class="b36" d="M76.4 161.8l1.5-2.6 1.6.1.6-2.3-1.6-3.7-1.5 1.3z"/>
<path class="b33" d="M79.5 159.3l1.5 2.8.6.4-1.5-5.5z"/>
<path class="b28" d="M81 162.1l1.6 4.2.6 1.7-1.6-5.5z"/>
<path class="b23" d="M82.6 166.3l1.5 4.6.6 2.3-1.5-5.2z"/>
<path class="b18" d="M84.1 170.9l1.6 4.4.6 2.4-1.6-4.5z"/>
<path class="b12" d="M85.7 175.3l1.5 3.9.7 2.2-1.6-3.7z"/>
<path class="b8" d="M87.2 179.2l1.6 2.9.6 1.2-1.5-1.9z"/>
<path class="b6" d="M88.8 182.1l1.5.7 1.5.1 1.6 0 1.5.1 1.6 0 1.5.1 1.6 0 1.5.1 1.6 0 1.5.1 1.6 0 1.5 0 1.6.1 1.5 0 1.6.1 1.5 0 1.6.1 1.5 0 1.6.1 1.6 0 1.5.1 1.6 0 .7.6-1.5-.1-1.6 0-1.6-.1-1.5 0-1.6 0-1.5-.1-1.6 0-1.6-.1-1.5 0-1.6-.1-1.5 0-1.6-.1-1.6 0-1.5-.1-1.6 0-1.5-.1-1.6 0-1.5-.1-1.6 0-1.5-.1-1.6 0-1.5-.1z"/>
<path class="b7" d="M122.9 183.8l1.5.1.8-1.3-1.6 1.8z"/>
<path class="b9" d="M124.4 183.9l1.6-1.9.8-3-1.6 3.6z"/>
<path class="b14" d="M126 182l1.6-3.4.8-4.1-1.6 4.5z"/>
<path class="b19" d="M127.6 178.6l1.6-4.1.8-5.1-1.6 5.1z"/>
<path class="b25" d="M129.2 174.5l1.6-4.6.8-6-1.6 5.5z"/>
<path class="b30" d="M130.8 169.9l1.6-4.4.9-7.1-1.7 5.5z"/>
<path class="b34" d="M132.4 165.5l1.6-3.6.9-7.2-1.6 3.7z"/>
<path class="b38" d="M60 152.8l1.5 1.4.6 4.8-1.6-3.9z"/>
<path class="b34" d="M61.5 154.2l1.6 4.9.6 5.2-1.6-5.3z"/>
<path class="b28" d="M63.1 159.1l1.6 5.5.6 5-1.6-5.3z"/>
<path class="b23" d="M64.7 164.6l1.5 5.4.6 4.4-1.5-4.8z"/>
<path class="b18" d="M66.2 170l1.6 4.3.6 1.9-1.6-1.8z"/>
<path class="b16" d="M67.8 174.3l1.5 1.1.6.3-1.5.5z"/>
<path class="b17" d="M69.3 175.4l1.6-1 .5-2.2-1.5 3.5z"/>
<path class="b21" d="M70.9 174.4l1.5-4.2.6-3-1.6 5z"/>
<path class="b27" d="M72.4 170.2l1.5-5.3.6-3-1.5 5.3z"/>
<path class="b32" d="M73.9 164.9l1.5-5.5.6-2.3-1.5 4.8z"/>
<path class="b37" d="M75.4 159.4l1.6-4.8.6.3-1.6 2.2z"/>
<path class="b38" d="M77 154.6l1.5-1.3.6 4-1.5-2.4z"/>
<path class="b36" d="M78.5 153.3l1.6 3.7.6 5.2-1.6-4.9z"/>
<path class="b31" d="M80.1 157l1.5 5.5.7 5.1-1.6-5.4z"/>
<path class="b25" d="M81.6 162.5l1.6 5.5.6 4.7-1.5-5.1z"/>
<path class="b20" d="M83.2 168l1.5 5.2.7 4.2-1.6-4.7z"/>
<path class="b14" d="M84.7 173.2l1.6 4.5.6 3.5-1.5-3.8z"/>
<path class="b10" d="M86.3 177.7l1.6 3.7.6 2.4-1.6-2.6z"/>
<path class="b7" d="M87.9 181.4l1.5 1.9.6.6-1.5-.1z"/>
<path class="b6" d="M89.4 183.3l1.5.1 1.6 0 1.5.1 1.6 0 1.5.1 1.6 0 1.5.1 1.6 0 1.5.1 1.6 0 1.6.1 1.5 0 1.6.1 1.5 0 1.6.1 1.6 0 1.5.1 1.6 0 1.5 0 1.6.1 1.6 0 1.5.1.8-.5-1.6 1-1.5 0-1.6-.1-1.6 0-1.5-.1-1.6 0-1.6-.1-1.5 0-1.6-.1-1.6 0-1.5-.1-1.6 0-1.6-.1-1.5 0-1.6-.1-1.5 0-1.6-.1-1.5 0-1.6-.1-1.6 0-1.5-.1-1.6 0z"/>
<path class="b9" d="M123.6 184.4l1.6-1.8.8-1.9-1.6 3.2z"/>
<path class="b13" d="M125.2 182.6l1.6-3.6.8-2.6-1.6 4.3z"/>
<path class="b18" d="M126.8 179l1.6-4.5.8-2.9-1.6 4.8z"/>
<path class="b24" d="M128.4 174.5l1.6-5.1.8-3.1-1.6 5.3z"/>
<path class="b30" d="M130 169.4l1.6-5.5.9-2.8-1.7 5.2z"/>
<path class="b35" d="M131.6 163.9l1.7-5.5.8-1.3-1.6 4z"/>
<path class="b38" d="M133.3 158.4l1.6-3.7.8 2.3-1.6.1z"/>
<path class="b32" d="M60.5 155.1l1.6 3.9.6 8.3-1.6-3.5z"/>
<path class="b28" d="M62.1 159l1.6 5.3.6 7.3-1.6-4.3z"/>
<path class="b23" d="M63.7 164.3l1.6 5.3.6 6.2-1.6-4.2z"/>
<path class="b18" d="M65.3 169.6l1.5 4.8.6 4.3-1.5-2.9z"/>
<path class="b15" d="M66.8 174.4l1.6 1.8 1.5-.5.6.2-1.5 2.8-1.6 0z"/>
<path class="b19" d="M69.9 175.7l1.5-3.5.6-.4-1.5 4.1z"/>
<path class="b23" d="M71.4 172.2l1.6-5 .6.4-1.6 4.2z"/>
<path class="b28" d="M73 167.2l1.5-5.3.6 2.3-1.5 3.4z"/>
<path class="b32" d="M74.5 161.9l1.5-4.8.6 5.3-1.5 1.8z"/>
<path class="b34" d="M76 157.1l1.6-2.2 1.5 2.4.7 8.7-1.6-2.9-1.6-.7z"/>
<path class="b30" d="M79.1 157.3l1.6 4.9.6 7.8-1.5-4z"/>
<path class="b25" d="M80.7 162.2l1.6 5.4.6 6.8-1.6-4.4z"/>
<path class="b20" d="M82.3 167.6l1.5 5.1.7 5.8-1.6-4.1z"/>
<path class="b15" d="M83.8 172.7l1.6 4.7.6 4.6-1.5-3.5z"/>
<path class="b10" d="M85.4 177.4l1.5 3.8.7 3.1-1.6-2.3z"/>
<path class="b7" d="M86.9 181.2l1.6 2.6.6.6-1.5-.1z"/>
<path class="b6" d="M88.5 183.8l1.5.1 1.6 0 1.5.1 1.6 0 1.6.1 1.5 0 1.6.1 1.5 0 1.6.1 1.5 0 1.6.1 1.6 0 1.5.1 1.6 0 1.6.1 1.5 0 1.6.1 1.6 0 1.5.1 1.6 0 1.6.1 1.5 0 .8.6-1.6-.1-1.6 0-1.5-.1-1.6 0-1.6-.1-1.5 0-1.6-.1-1.6 0-1.6-.1-1.5 0-1.6-.1-1.6 0-1.5-.1-1.6 0-1.6-.1-1.5 0-1.6-.1-1.5 0-1.6-.1-1.6 0-1.5-.1-1.6 0z"/>
<path class="b7" d="M122.8 184.9l1.6-1 .8-.7-1.6 2.3z"/>
<path class="b11" d="M124.4 183.9l1.6-3.2.8-.9-1.6 3.4z"/>
<path class="b16" d="M126 180.7l1.6-4.3.8-.7-1.6 4.1z"/>
<path class="b21" d="M127.6 176.4l1.6-4.8.8-.2-1.6 4.3z"/>
<path class="b26" d="M129.2 171.6l1.6-5.3.8 1.2-1.6 3.9z"/>
<path class="b30" d="M130.8 166.3l1.7-5.2.7 3.6-1.6 2.8z"/>
<path class="b34" d="M132.5 161.1l1.6-4 1.6-.1.7 8.9-1.6-1.9-1.6.7z"/>
<path class="b24" d="M61.1 163.8l1.6 3.5.6 8.1-1.6-3z"/>
<path class="b20" d="M62.7 167.3l1.6 4.3.6 7-1.6-3.2z"/>
<path class="b16" d="M64.3 171.6l1.6 4.2.6 5.8-1.6-3z"/>
<path class="b12" d="M65.9 175.8l1.5 2.9 1.6 0 .5 1.6-1.5 2.3-1.5-1z"/>
<path class="b14" d="M69 178.7l1.5-2.8.6 1.3-1.6 3.1z"/>
<path class="b18" d="M70.5 175.9l1.5-4.1.6 2.3-1.5 3.1z"/>
<path class="b22" d="M72 171.8l1.6-4.2.6 4.1-1.6 2.4z"/>
<path class="b25" d="M73.6 167.6l1.5-3.4.6 6.1-1.5 1.4z"/>
<path class="b27" d="M75.1 164.2l1.5-1.8 1.6.7.6 8.7-1.5-1.5-1.6 0z"/>
<path class="b25" d="M78.2 163.1l1.6 2.9.6 8.4-1.6-2.6z"/>
<path class="b22" d="M79.8 166l1.5 4 .7 7.2-1.6-2.8z"/>
<path class="b18" d="M81.3 170l1.6 4.4.6 5.4-1.5-2.6z"/>
<path class="b14" d="M82.9 174.4l1.6 4.1.6 3.8-1.6-2.5z"/>
<path class="b10" d="M84.5 178.5l1.5 3.5.7 1.7-1.6-1.4z"/>
<path class="b8" d="M86 182l1.6 2.3.6-.1-1.5-.5z"/>
<path class="b6" d="M87.6 184.3l1.5.1 1.6 0 1.5.1 1.6 0 1.6.1 1.5 0 1.6.1 1.5 0 1.6.1 1.6 0 1.5.1 1.6 0 1.6.1 1.5 0 1.6.1 1.6 0 1.6.1 1.5 0 1.6.1 1.6 0 1.5.1 1.6 0 .8-.3-1.6.5-1.6.3-1.6-.1-1.5 0-1.6-.1-1.6 0-1.6-.1-1.5 0-1.6-.1-1.6 0-1.6-.1-1.5 0-1.6-.1-1.6 0-1.5-.1-1.6 0-1.6-.1-1.5 0-1.6-.1-1.6 0-1.5-.1-1.6-.7z"/>
<path class="b7" d="M122 185.4l1.6.1.8-1-1.6.6z"/>
<path class="b9" d="M123.6 185.5l1.6-2.3.8-.8-1.6 2.1z"/>
<path class="b12" d="M125.2 183.2l1.6-3.4.8.1-1.6 2.5z"/>
<path class="b16" d="M126.8 179.8l1.6-4.1.8 1.6-1.6 2.6z"/>
<path class="b20" d="M128.4 175.7l1.6-4.3.8 3.2-1.6 2.7z"/>
<path class="b24" d="M130 171.4l1.6-3.9.8 5-1.6 2.1z"/>
<path class="b27" d="M131.6 167.5l1.6-2.8 1.6-.7.8 8.6-1.6-.8-1.6.7z"/>
<path class="b26" d="M134.8 164l1.6 1.9.8 8.8-1.6-2.1z"/>
<path class="b15" d="M61.7 172.4l1.6 3 .6 6.6-1.6-2.1z"/>
<path class="b12" d="M63.3 175.4l1.6 3.2.6 5.4-1.6-2z"/>
<path class="b9" d="M64.9 178.6l1.6 3 .5 3.2-1.5-.8z"/>
<path class="b8" d="M66.5 181.6l1.5 1 .6 1.5-1.6.7z"/>
<path class="b9" d="M68 182.6l1.5-2.3.6 1.9-1.5 1.9z"/>
<path class="b13" d="M69.5 180.3l1.6-3.1.6 2.9-1.6 2.1z"/>
<path class="b16" d="M71.1 177.2l1.5-3.1.6 4.3-1.5 1.7z"/>
<path class="b18" d="M72.6 174.1l1.6-2.4.6 5.6-1.6 1.1z"/>
<path class="b20" d="M74.2 171.7l1.5-1.4 1.6 0 1.5 1.5.7 5.7-1.6 0-1.6-.3-1.5.1z"/>
<path class="b18" d="M78.8 171.8l1.6 2.6.6 3.4-1.5-.3z"/>
<path class="b17" d="M80.4 174.4l1.6 2.8.6 1.4-1.6-.8z"/>
<path class="b14" d="M82 177.2l1.5 2.6.7-.4-1.6-.8z"/>
<path class="b13" d="M83.5 179.8l1.6 2.5.6-2.7-1.5-.2z"/>
<path class="b11" d="M85.1 182.3l1.6 1.4.6-3.3-1.6-.8z"/>
<path class="b10" d="M86.7 183.7l1.5.5.7-2.3-1.6-1.5z"/>
<path class="b8" d="M88.2 184.2l1.6.7.6-1.3-1.5-1.7z"/>
<path class="b7" d="M89.8 184.9l1.5.1.7.2-1.6-1.6z"/>
<path class="b6" d="M91.3 185l1.6 0 1.6.1 1.5 0 1.6.1 1.6 0 1.5.1 1.6 0 1.6.1 1.5 0 1.6.1 1.6 0 1.6.1 1.5 0 1.6.1 1.6 0 1.6.1.7.2-1.6.3-1.5 0-1.6-.1-1.6 0-1.6-.1-1.6 0-1.5-.1-1.6 0-1.6-.1-1.6 0-1.5-.1-1.6 0-1.6-.1-1.6 0-1.5-.1-1.6-.4z"/>
<path class="b7" d="M116.5 185.8l1.5 0 .8-1.3-1.6 1.5z"/>
<path class="b8" d="M118 185.8l1.6.1.8-3-1.6 1.6z"/>
<path class="b9" d="M119.6 185.9l1.6-.3.8-4.1-1.6 1.4z"/>
<path class="b10" d="M121.2 185.6l1.6-.5.8-4.4-1.6.8z"/>
<path class="b11" d="M122.8 185.1l1.6-.6.8-3.8-1.6 0z"/>
<path class="b12" d="M124.4 184.5l1.6-2.1.8-2.5-1.6.8z"/>
<path class="b14" d="M126 182.4l1.6-2.5.8-.6-1.6.6z"/>
<path class="b16" d="M127.6 179.9l1.6-2.6.8 1.7-1.6.3z"/>
<path class="b18" d="M129.2 177.3l1.6-2.7.8 4.6-1.6-.2z"/>
<path class="b19" d="M130.8 174.6l1.6-2.1.8 6.4-1.6.3z"/>
<path class="b20" d="M132.4 172.5l1.6-.7 1.6.8.8 7.7-1.6-1.1-1.6-.3z"/>
<path class="b18" d="M135.6 172.6l1.6 2.1.7 7.5-1.5-1.9z"/>
<path class="b9" d="M62.3 179.9l1.6 2.1.6 3.2-1.6-.2z"/>
<path class="b7" d="M63.9 182l1.6 2 .5 1.3-1.5-.1z"/>
<path class="b6" d="M65.5 184l1.5.8 1.6-.7.6 1.3-1.6-.1-1.6 0z"/>
<path class="b8" d="M68.6 184.1l1.5-1.9.6 2.6-1.5.6z"/>
<path class="b10" d="M70.1 182.2l1.6-2.1.6 3.7-1.6 1z"/>
<path class="b11" d="M71.7 180.1l1.5-1.7.6 4.7-1.5.7z"/>
<path class="b13" d="M73.2 178.4l1.6-1.1.6 5.3-1.6.5z"/>
<path class="b14" d="M74.8 177.3l1.5-.1.7 3.6-1.6 1.8z"/>
<path class="b15" d="M76.3 177.2l1.6.3.6 1.4-1.5 1.9z"/>
<path class="b16" d="M77.9 177.5l1.6 0 .6-.3-1.6 1.7z"/>
<path class="b17" d="M79.5 177.5l1.5.3.6-2.3-1.5 1.7z"/>
<path class="b18" d="M81 177.8l1.6.8 1.6.8.6-5.6-1.6.3-1.6 1.4z"/>
<path class="b17" d="M84.2 179.4l1.5.2.7-4.7-1.6-1.1z"/>
<path class="b16" d="M85.7 179.6l1.6.8.6-3.5-1.5-2z"/>
<path class="b14" d="M87.3 180.4l1.6 1.5.6-2.3-1.6-2.7z"/>
<path class="b11" d="M88.9 181.9l1.5 1.7.7-1.1-1.6-2.9z"/>
<path class="b9" d="M90.4 183.6l1.6 1.6.7-.2-1.6-2.5z"/>
<path class="b7" d="M92 185.2l1.6.4.6.6-1.5-1.2z"/>
<path class="b6" d="M93.6 185.6l1.5.1 1.6 0 1.6.1 1.6 0 1.5.1 1.6 0 1.6.1 1.6 0 1.5.1 1.6 0 1.6.1 1.6 0 1.6.1.7.4-1.6.1-1.6-.1-1.6 0-1.5-.1-1.6 0-1.6-.1-1.6 0-1.6-.1-1.6 0-1.5-.1-1.6 0-1.6-.1-1.6 0z"/>
<path class="b7" d="M114.1 186.3l1.5 0 .8-1.7-1.6 2.1z"/>
<path class="b9" d="M115.6 186.3l1.6-.3.8-4.1-1.6 2.7z"/>
<path class="b11" d="M117.2 186l1.6-1.5.8-5.3-1.6 2.7z"/>
<path class="b14" d="M118.8 184.5l1.6-1.6.8-6.1-1.6 2.4z"/>
<path class="b16" d="M120.4 182.9l1.6-1.4.8-6.2-1.6 1.5z"/>
<path class="b17" d="M122 181.5l1.6-.8 1.6 0 1.6-.8.8-2.1-1.6-1.8-1.6-1-1.6.3z"/>
<path class="b16" d="M126.8 179.9l1.6-.6 1.6-.3.8 2.5-1.6-1.9-1.6-1.8z"/>
<path class="b14" d="M130 179l1.6.2 1.6-.3.7 5.9-1.6-1.2-1.5-2.1z"/>
<path class="b13" d="M133.2 178.9l1.6.3.7 6.2-1.6-.6z"/>
<path class="b12" d="M134.8 179.2l1.6 1.1.7 6.1-1.6-1z"/>
<path class="b11" d="M136.4 180.3l1.5 1.9.8 5.2-1.6-1z"/>
<path class="b6" d="M62.9 185l1.6.2 1.5.1 1.6 0 1.6.1 1.5-.6.6 1.2-1.6 0-1.5-.1-1.6 0-1.5-.1-1.6 0z"/>
<path class="b7" d="M70.7 184.8l1.6-1 .6 2.3-1.6-.1z"/>
<path class="b8" d="M72.3 183.8l1.5-.7.6 1.8-1.5 1.2z"/>
<path class="b10" d="M73.8 183.1l1.6-.5.6-.7-1.6 3z"/>
<path class="b13" d="M75.4 182.6l1.6-1.8.6-2.6-1.6 3.7z"/>
<path class="b16" d="M77 180.8l1.5-1.9.6-4.5-1.5 3.8z"/>
<path class="b20" d="M78.5 178.9l1.6-1.7.6-6.5-1.6 3.7z"/>
<path class="b22" d="M80.1 177.2l1.5-1.7.6-7.5-1.5 2.7z"/>
<path class="b24" d="M81.6 175.5l1.6-1.4.6-7-1.6.9z"/>
<path class="b25" d="M83.2 174.1l1.6-.3.6-5.5-1.6-1.2z"/>
<path class="b24" d="M84.8 173.8l1.6 1.1.6-3.8-1.6-2.8z"/>
<path class="b21" d="M86.4 174.9l1.5 2 .7-2-1.6-3.8z"/>
<path class="b17" d="M87.9 176.9l1.6 2.7.7-.8-1.6-3.9z"/>
<path class="b13" d="M89.5 179.6l1.6 2.9.6.1-1.5-3.8z"/>
<path class="b10" d="M91.1 182.5l1.6 2.5.6.6-1.6-3z"/>
<path class="b7" d="M92.7 185l1.5 1.2.7.6-1.6-1.2z"/>
<path class="b6" d="M94.2 186.2l1.6 0 1.6.1 1.6 0 1.5.1 1.6 0 1.6.1 1.6 0 1.6.1 1.6 0 1.5.1 1.6 0 1.6.1.8-.5-1.6 1-1.6 0-1.6-.1-1.6 0-1.6-.1-1.6 0-1.6-.1-1.6 0-1.5-.1-1.6 0-1.6-.1-1.6 0z"/>
<path class="b8" d="M113.2 186.8l1.6-.1.8-3.4-1.6 3z"/>
<path class="b11" d="M114.8 186.7l1.6-2.1.8-4.9-1.6 3.6z"/>
<path class="b15" d="M116.4 184.6l1.6-2.7.8-6.1-1.6 3.9z"/>
<path class="b19" d="M118 181.9l1.6-2.7.8-7.1-1.6 3.7z"/>
<path class="b22" d="M119.6 179.2l1.6-2.4.8-7.5-1.6 2.8z"/>
<path class="b24" d="M121.2 176.8l1.6-1.5.8-7.1-1.6 1.1z"/>
<path class="b25" d="M122.8 175.3l1.6-.3.8-5.7-1.6-1.1z"/>
<path class="b24" d="M124.4 175l1.6 1 .8-3.9-1.6-2.8z"/>
<path class="b21" d="M126 176l1.6 1.8.8-2-1.6-3.7z"/>
<path class="b18" d="M127.6 177.8l1.6 1.8.8.2-1.6-4z"/>
<path class="b15" d="M129.2 179.6l1.6 1.9.8 2.1-1.6-3.8z"/>
<path class="b11" d="M130.8 181.5l1.5 2.1.8 3.2-1.5-3.2z"/>
<path class="b9" d="M132.3 183.6l1.6 1.2.8 3.2-1.6-1.2z"/>
<path class="b8" d="M133.9 184.8l1.6.6.8 2.7-1.6-.1z"/>
<path class="b7" d="M135.5 185.4l1.6 1 .9 1.7-1.7 0z"/>
<path class="b6" d="M137.1 186.4l1.6 1 .9.8-1.6-.1z"/>
<path class="b6" d="M63.5 185.8l1.6 0 1.5.1 1.6 0 1.5.1 1.6 0 .6.6-1.6-.1-1.5 0-1.6-.1-1.6 0-1.5-.1z"/>
<path class="b7" d="M71.3 186l1.6.1.6-1.1-1.6 1.6z"/>
<path class="b9" d="M72.9 186.1l1.5-1.2.6-3.4-1.5 3.5z"/>
<path class="b13" d="M74.4 184.9l1.6-3 .6-4.7-1.6 4.3z"/>
<path class="b18" d="M76 181.9l1.6-3.7.5-5.9-1.5 4.9z"/>
<path class="b23" d="M77.6 178.2l1.5-3.8.6-7.1-1.6 5z"/>
<path class="b27" d="M79.1 174.4l1.6-3.7.6-7.9-1.6 4.5z"/>
<path class="b31" d="M80.7 170.7l1.5-2.7.7-7.8-1.6 2.6z"/>
<path class="b32" d="M82.2 168l1.6-.9.7-5.8-1.6-1.1z"/>
<path class="b31" d="M83.8 167.1l1.6 1.2.6-3-1.5-4z"/>
<path class="b28" d="M85.4 168.3l1.6 2.8.6-.7-1.6-5.1z"/>
<path class="b23" d="M87 171.1l1.6 3.8.6.5-1.6-5z"/>
<path class="b18" d="M88.6 174.9l1.6 3.9.6 1.3-1.6-4.7z"/>
<path class="b13" d="M90.2 178.8l1.5 3.8.7 1.5-1.6-4z"/>
<path class="b9" d="M91.7 182.6l1.6 3 .7 1.4-1.6-2.9z"/>
<path class="b7" d="M93.3 185.6l1.6 1.2.7.5-1.6-.3z"/>
<path class="b6" d="M94.9 186.8l1.6 0 1.6.1 1.6 0 1.5.1 1.6 0 1.6.1 1.6 0 1.6.1 1.6 0 1.6.1.7.6-1.6-.1-1.6 0-1.6-.1-1.6 0-1.6-.1-1.6-.1-1.5 0-1.6-.1-1.6 0-1.6-.1z"/>
<path class="b7" d="M110.8 187.3l1.6 0 .7-.9-1.6 1.5z"/>
<path class="b9" d="M112.4 187.3l1.6-1 .7-3.3-1.6 3.4z"/>
<path class="b13" d="M114 186.3l1.6-3 .7-4.7-1.6 4.4z"/>
<path class="b18" d="M115.6 183.3l1.6-3.6.8-5.9-1.7 4.8z"/>
<path class="b22" d="M117.2 179.7l1.6-3.9.8-7.1-1.6 5.1z"/>
<path class="b27" d="M118.8 175.8l1.6-3.7.8-8-1.6 4.6z"/>
<path class="b31" d="M120.4 172.1l1.6-2.8.9-8-1.7 2.8z"/>
<path class="b32" d="M122 169.3l1.6-1.1.9-5.9-1.6-1z"/>
<path class="b31" d="M123.6 168.2l1.6 1.1.9-3.1-1.6-3.9z"/>
<path class="b28" d="M125.2 169.3l1.6 2.8.8-.9-1.5-5z"/>
<path class="b23" d="M126.8 172.1l1.6 3.7.8.6-1.6-5.2z"/>
<path class="b19" d="M128.4 175.8l1.6 4 .8 1.3-1.6-4.7z"/>
<path class="b14" d="M130 179.8l1.6 3.8.8 1.6-1.6-4.1z"/>
<path class="b9" d="M131.6 183.6l1.5 3.2.9 1.4-1.6-3z"/>
<path class="b7" d="M133.1 186.8l1.6 1.2.9.6-1.6-.4z"/>
<path class="b6" d="M134.7 188l1.6.1 1.7 0 1.6.1.8.6-1.6-.1-1.6 0-1.6-.1z"/>
<path class="b6" d="M64.1 186.3l1.5.1 1.6 0 1.6.1 1.5 0 1.6.1.6-.8-1.6 1.3-1.6 0-1.5-.1-1.6 0-1.6-.1z"/>
<path class="b9" d="M71.9 186.6l1.6-1.6.6-2.6-1.6 3.4z"/>
<path class="b13" d="M73.5 185l1.5-3.5.6-3.6-1.5 4.5z"/>
<path class="b18" d="M75 181.5l1.6-4.3.6-4.4-1.6 5.1z"/>
<path class="b24" d="M76.6 177.2l1.5-4.9.6-5.1-1.5 5.6z"/>
<path class="b30" d="M78.1 172.3l1.6-5 .6-5.8-1.6 5.7z"/>
<path class="b35" d="M79.7 167.3l1.6-4.5.6-6-1.6 4.7z"/>
<path class="b37" d="M81.3 162.8l1.6-2.6 1.6 1.1.6.6-1.6-4.9-1.6-.2z"/>
<path class="b33" d="M84.5 161.3l1.5 4 .7 2.5-1.6-5.9z"/>
<path class="b28" d="M86 165.3l1.6 5.1.7 3-1.6-5.6z"/>
<path class="b22" d="M87.6 170.4l1.6 5 .7 3.2-1.6-5.2z"/>
<path class="b17" d="M89.2 175.4l1.6 4.7.7 3-1.6-4.5z"/>
<path class="b12" d="M90.8 180.1l1.6 4 .7 2.5-1.6-3.5z"/>
<path class="b8" d="M92.4 184.1l1.6 2.9.7.9-1.6-1.3z"/>
<path class="b6" d="M94 187l1.6.3 1.6.1 1.6 0 1.6.1 1.5 0 1.6.1 1.6.1 1.6 0 1.6.1 1.6 0 1.6.1.7-.6-1.6 1.1-1.6-.1-1.6 0-1.6-.1-1.6 0-1.6-.1-1.5 0-1.6-.1-1.6 0-1.6-.1-1.6 0z"/>
<path class="b9" d="M111.5 187.9l1.6-1.5.8-2.5-1.7 3.4z"/>
<path class="b13" d="M113.1 186.4l1.6-3.4.8-3.6-1.6 4.5z"/>
<path class="b18" d="M114.7 183l1.6-4.4.8-4.3-1.6 5.1z"/>
<path class="b24" d="M116.3 178.6l1.7-4.8.8-5.1-1.7 5.6z"/>
<path class="b29" d="M118 173.8l1.6-5.1.8-5.8-1.6 5.8z"/>
<path class="b34" d="M119.6 168.7l1.6-4.6.8-6.1-1.6 4.9z"/>
<path class="b37" d="M121.2 164.1l1.7-2.8 1.6 1 .8.4-1.6-4.8-1.7.1z"/>
<path class="b33" d="M124.5 162.3l1.6 3.9.7 2.4-1.5-5.9z"/>
<path class="b28" d="M126.1 166.2l1.5 5 .8 3.1-1.6-5.7z"/>
<path class="b22" d="M127.6 171.2l1.6 5.2.8 3.2-1.6-5.3z"/>
<path class="b17" d="M129.2 176.4l1.6 4.7.8 3.1-1.6-4.6z"/>
<path class="b12" d="M130.8 181.1l1.6 4.1.8 2.6-1.6-3.6z"/>
<path class="b8" d="M132.4 185.2l1.6 3 .8 1-1.6-1.4z"/>
<path class="b6" d="M134 188.2l1.6.4 1.6.1 1.6 0 1.6.1.9.6-1.7-.1-1.6 0-1.6-.1-1.6 0z"/></g>
</svg></body></html>
